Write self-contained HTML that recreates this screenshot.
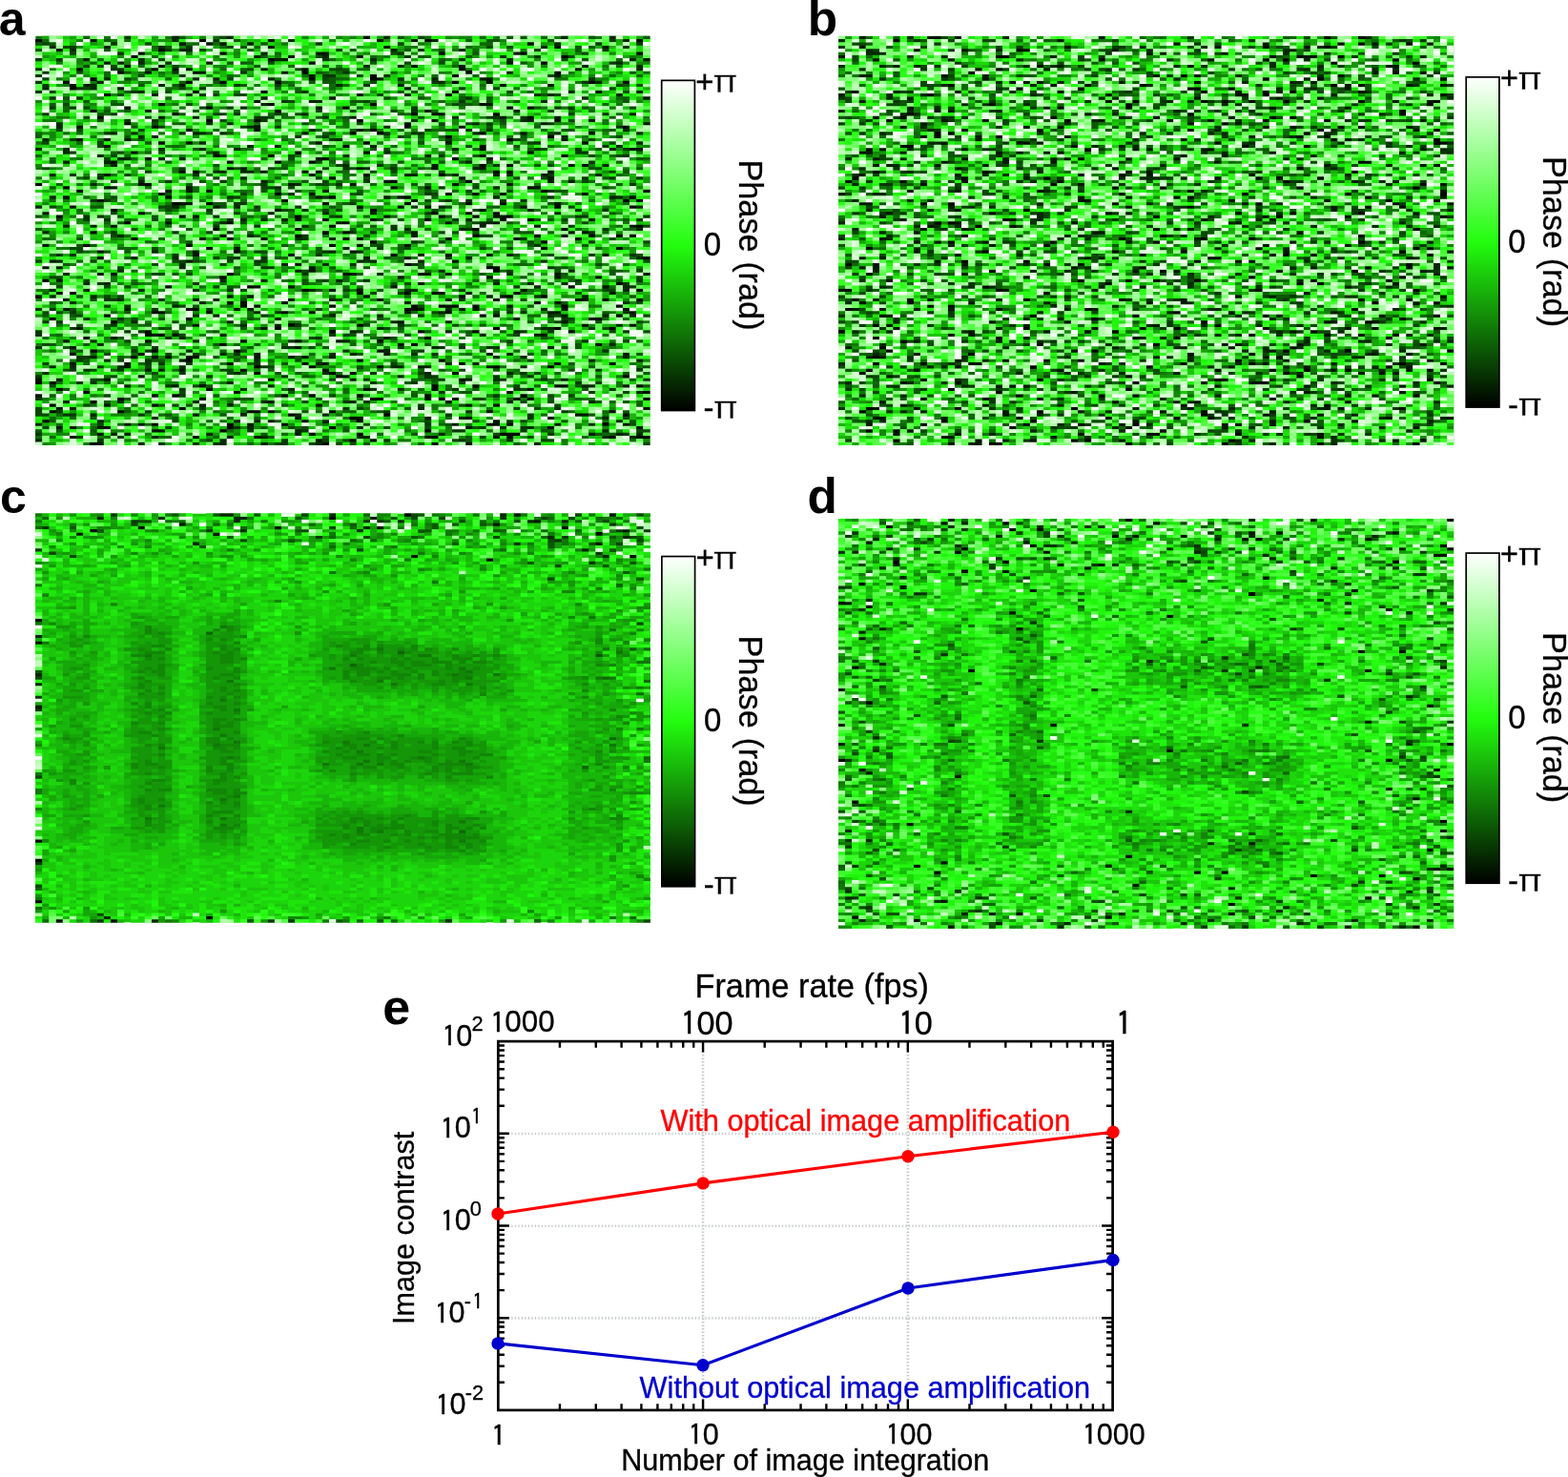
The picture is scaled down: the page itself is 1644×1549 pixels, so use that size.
<!DOCTYPE html>
<html lang="en">
<head>
<meta charset="utf-8">
<title>Phase images and image contrast</title>
<style>
html,body{margin:0;padding:0;background:#fff;}
body{width:1644px;height:1549px;overflow:hidden;}
svg{display:block;}
text{font-family:"Liberation Sans",sans-serif;fill:#000;stroke:#000;stroke-width:.3px;}
.pl{font-weight:bold;font-size:50px;stroke:none;}
.cb{font-size:33px;}
.pi{font-family:"WenQuanYi Zen Hei","DejaVu Sans",sans-serif;font-size:36.85px;stroke:#fff;stroke-width:.5px;}
.ph{font-size:34.3px;}
.ax{font-size:30.6px;}
.tt{font-size:34.25px;}
.sup{font-size:21.8px;}
.one{font-family:"IPAGothic","Liberation Sans",sans-serif;font-size:98.3%;stroke-width:.4px;}
</style>
</head>
<body>
<svg width="1644" height="1549" viewBox="0 0 1644 1549">
<defs>
<linearGradient id="cg" x1="0" y1="0" x2="0" y2="1">
<stop offset="0" stop-color="#fff"/>
<stop offset="0.5" stop-color="#22fd0e"/>
<stop offset="1" stop-color="#000"/>
</linearGradient>
</defs>
<rect width="1644" height="1549" fill="#fff"/>
<svg x="37.2" y="37.6" width="644.3" height="429.4" viewBox="0 0 90 128" preserveAspectRatio="none">
<rect width="90" height="128" fill="#107707"/>
<g shape-rendering="crispEdges"><g id="ha" transform="translate(0 .5)" fill="none" stroke-width="1.02">
<path stroke="#010800" d="M48 0h1m-49 1h1m23 0h1m9 0h1m22 0h1m30 0h1m-17 1h1m-55 2h1m-4 1h1m11 0h1m31 0h1m11 0h1m16 0h1m-75 1h1m62 0h1m-44 1h1m5 1h1m33 0h1m-57 1h1m-13 1h1m10 0h1m21 0h1m22 0h1m-51 1h1m10 0h1m15 0h1m23 0h1m12 0h1m-28 1h1m11 0h1m-54 1h1m31 0h1m8 0h1m-46 1h1m17 0h1m4 0h1m7 0h1m25 0h1m4 0h1m14 0h1m4 0h1m-82 1h1m62 0h1m-64 1h1m17 1h1m9 0h1m-24 1h1m49 0h1m-43 3h1m15 0h1m14 0h1m15 0h1m-41 1h1m19 0h1m23 0h1m2 0h1m-65 1h1m26 0h1m-16 1h1m34 0h1m2 0h2m7 0h1m-59 1h1m62 0h1m-48 1h1m6 0h1m14 0h1m28 0h1m-64 1h1m40 0h1m-38 1h1m36 0h1m7 0h1m23 0h1m-55 1h1m16 0h1m-4 1h1m3 0h1m14 0h1m-6 1h1m14 0h1m-70 1h1m62 0h1m-52 1h1m29 0h1m-39 1h1m34 0h1m19 0h1m-1 1h1m-28 1h1m-13 1h1m7 0h1m42 0h1m-62 1h1m25 0h1m18 0h1m-51 1h1m23 0h1m4 0h1m24 1h1m3 0h1m10 0h1m-60 2h1m1 0h1m43 0h1m1 0h1m-22 1h1m10 0h1m-17 1h1m8 1h1m10 0h1m-64 1h1m14 0h2m-13 1h1m67 0h1m-67 1h1m67 0h1m14 0h1m-72 1h1m16 0h1m24 0h1m19 0h1m-62 1h1m23 0h1m10 0h1m32 0h1m-79 1h1m76 0h1m1 0h1m-69 1h1m4 0h1m28 0h1m8 0h1m4 0h1m-16 1h1m22 0h1m10 0h1m-77 1h1m37 0h1m15 0h1m-51 1h1m42 0h1m4 0h1m3 0h1m-65 1h1m17 0h1m16 0h1m20 0h1m4 0h1m4 0h1m-32 1h1m3 0h1m14 0h1m10 0h1m3 0h1m-60 1h1m14 0h1m16 0h1m-3 1h1m44 0h1m-63 1h1m11 0h1m25 0h1m12 0h1m-70 1h1m33 0h1m2 0h1m-8 1h1m25 0h1m16 0h1m3 0h1m-72 1h1m13 0h1m16 0h1m1 0h1m12 0h1m-12 1h1m24 0h1m-68 1h1m14 0h1m20 0h1m-19 1h1m48 0h1m10 0h1m-57 1h1m22 1h1m7 0h1m-52 1h1m79 0h1m-36 2h1m11 1h2m-1 1h1m-40 1h1m27 0h1m-30 1h1m-27 1h1m83 1h1m-67 1h1m11 0h1m46 0h1m-40 1h1m48 0h1m-84 1h1m41 0h1m6 0h1m3 0h1m11 0h1m-9 1h1m6 0h1m4 0h1m8 1h1m4 0h1m-59 1h1m42 0h1m-44 1h1m12 0h1m11 0h1m3 0h1m1 0h1m2 0h1m12 0h1m7 0h1m-64 1h2m30 0h2m-39 1h2m6 0h1m10 0h1m23 0h1m-51 1h1m54 0h1m19 0h1m-84 1h1m79 0h1m-72 1h1m25 1h1m9 0h1m32 0h1m6 0h1m-53 1h1m31 0h1m8 0h1m7 0h1m-69 1h1m26 0h1m12 0h1m7 0h1m13 0h1m-63 1h1m1 0h1m-12 1h1m49 0h1m-28 1h1m7 0h1m11 0h1m-24 1h1m27 0h1m26 0h1m-75 2h1m8 0h1m11 0h1m20 0h1m-29 2h1m-1 1h1m24 0h1m11 0h1m-47 1h1m25 0h1m22 0h1m13 0h1m7 0h1m-53 1h1m7 0h1m9 0h1m16 0h1m7 0h1m-46 1h1m11 0h1m-11 1h1m10 0h1m2 0h1m-3 1h1m41 0h1m-53 1h1m27 0h1m-63 1h1m1 0h1m55 1h1m5 0h1m11 0h2m10 0h1m-86 1h1m21 0h1m22 0h1m9 0h1m-52 1h1m81 0h1m-70 1h1m15 0h1m3 0h1m6 0h1m9 0h1m13 0h1m-60 1h1m11 0h1m24 0h2m6 0h1m1 0h1m10 0h1m1 0h1m16 0h1m-82 1h1m-7 1h1m14 0h1m3 1h1m-20 1h1m9 0h1m18 0h2m1 0h1m8 0h1m40 0h1m-48 1h1m13 0h1m34 0h1m-41 1h2m-47 1h1m37 0h1m7 0h1m-31 1h1m10 0h1m7 0h1m29 0h2m1 0h1m13 0h1m-74 1h1m17 0h1m14 0h1m31 0h1m-49 1h1m29 0h1m-18 1h1m6 0h1m20 0h3m-48 1h1m8 0h1m25 0h1m10 0h1m14 0h1m3 0h2m-44 1h1m2 0h1m-42 1h1m33 0h1"/>
<path stroke="#031801" d="M8 1h1m41 0h1m4 0h1m-35 1h1m3 0h1m1 0h1m3 0h1m-22 1h1m23 0h1m16 0h1m24 0h1m6 0h1m-81 1h1m37 1h2m27 0h1m-34 1h1m9 0h1m-12 1h1m52 0h1m-80 1h1m14 0h1m43 0h1m-57 1h1m41 0h1m6 0h1m-43 1h1m1 0h1m10 0h1m45 0h1m-64 1h1m7 0h1m11 0h1m3 1h1m35 0h1m-27 1h1m14 0h2m-60 2h1m13 0h1m53 0h1m-64 1h1m41 0h1m6 1h1m20 0h1m-36 1h1m-5 1h1m45 0h1m-58 1h1m33 1h1m-54 1h1m27 0h1m15 1h1m-40 2h1m4 0h1m22 0h1m21 0h1m7 0h1m-19 1h1m13 0h1m8 0h1m-8 1h1m14 0h1m-84 1h1m25 0h1m-11 1h1m24 0h1m-9 1h1m31 0h1m9 0h1m-72 2h1m2 0h1m63 0h1m-56 1h1m18 0h1m18 0h1m19 0h1m6 2h2m-75 1h1m33 0h1m23 0h1m-8 1h1m-25 1h1m24 0h1m-63 1h1m23 0h1m29 1h1m19 0h1m-51 1h1m1 0h1m16 0h1m10 0h1m6 0h1m-33 1h1m5 0h1m1 0h1m33 0h1m-66 1h1m29 0h1m33 0h1m-13 1h1m12 0h1m-25 1h1m23 0h1m2 0h1m-42 1h1m8 0h1m14 0h1m7 0h1m-60 1h2m10 0h1m29 0h1m4 0h1m15 0h1m-55 1h1m2 0h1m2 0h1m14 1h1m23 0h1m3 0h1m-65 1h1m36 0h1m9 0h1m1 0h1m-18 1h1m18 0h1m-35 1h2m19 0h1m33 0h1m-72 1h1m20 0h1m20 0h1m9 0h1m13 0h1m-37 1h1m-35 1h1m32 0h1m-12 1h1m27 0h1m15 0h2m-20 1h1m31 0h1m-63 1h1m24 0h1m15 0h1m6 0h1m-57 1h1m53 0h1m7 0h1m13 0h1m-33 2h1m22 0h1m1 0h1m-54 1h1m27 0h1m17 0h1m3 0h1m9 0h1m-55 1h1m36 0h1m8 0h1m-79 2h1m45 0h1m6 0h1m-26 1h1m-21 1h1m13 0h1m22 0h1m-24 1h1m13 0h1m28 0h1m16 0h1m-30 1h1m-53 1h1m19 0h1m38 0h1m-24 1h1m-38 1h1m1 0h1m36 0h1m-3 1h1m1 0h1m-32 1h1m1 0h1m33 0h2m10 0h1m2 0h1m15 0h1m12 0h1m-37 1h1m12 0h1m9 0h1m5 0h1m-80 1h1m52 1h1m-25 1h1m4 0h1m14 0h1m30 0h1m-41 1h1m3 0h1m23 0h1m-69 1h1m55 0h1m3 0h1m20 0h1m-85 1h1m27 0h1m2 0h1m16 0h1m19 0h1m-65 1h1m18 0h1m13 0h1m12 0h1m16 0h1m11 0h2m-53 1h1m7 0h1m39 0h1m-45 1h1m27 0h1m8 0h1m-66 1h1m8 0h1m15 0h1m1 0h1m24 0h1m5 0h1m1 0h1m12 0h1m8 0h1m-47 1h1m13 0h1m20 0h2m10 0h1m-21 1h1m9 0h1m-56 1h1m58 0h1m-29 1h1m23 0h1m-55 1h1m11 0h1m-30 1h1m26 0h1m-17 2h1m2 0h1m53 0h1m-64 1h1m39 0h1m-48 1h1m11 0h1m27 0h1m8 1h1m-49 1h1m32 0h1m-34 2h1m9 0h1m16 0h1m18 0h1m14 0h1m19 0h1m-73 1h1m2 0h1m1 0h1m3 0h1m8 0h1m4 0h1m1 0h1m3 0h1m-23 1h1m-17 1h1m22 0h1m13 0h1m-30 1h1m42 0h1m9 0h1m-51 1h1m1 0h1m2 0h1m39 1h1m-47 1h1m29 0h1m-46 1h1m2 0h1m6 0h1m35 0h1m-27 2h1m3 0h1m61 0h1m-15 1h1m-44 1h1m39 0h1m-70 1h1m16 0h1m43 1h1m-28 1h1m25 0h1m-51 1h1m30 0h1m21 0h1m3 0h1m-65 1h1m85 0h1m-24 1h1m-44 1h1m55 0h2m-43 1h1m18 0h1m5 0h1m11 0h1m-42 1h1m32 0h1m-55 1h1m1 0h1m15 0h1m29 0h1m14 0h1m9 0h1m-84 1h1m1 0h1m3 0h1m53 0h1m24 0h1m-72 1h2m-10 1h1m28 0h1m42 0h1m-77 1h1m22 0h1m28 0h1m9 0h1m-27 1h1m-33 1h1m48 0h1m4 0h1"/>
<path stroke="#052802" d="M20 0h1m7 0h1m22 0h1m25 0h1m6 0h1m-65 1h1m16 0h1m20 0h1m27 0h1m-11 1h1m-75 1h1m15 0h1m55 0h1m-70 1h1m15 0h2m29 0h1m9 0h1m-30 1h1m-2 1h1m9 0h1m-36 1h1m7 0h1m19 0h1m13 0h1m19 0h1m17 0h1m-76 1h1m2 0h1m69 0h1m-38 1h1m4 0h1m26 0h1m7 0h1m-1 1h1m-20 1h1m-60 2h1m12 0h1m2 0h1m7 0h1m23 0h1m-50 1h1m49 0h1m22 0h1m-75 1h1m9 0h1m25 0h1m8 0h1m-53 1h1m6 0h1m6 1h1m62 0h1m9 0h1m-72 1h1m36 0h1m20 0h1m9 0h1m-53 1h1m46 0h1m-41 1h2m32 0h1m-42 1h1m-4 1h1m-15 1h1m53 0h1m-32 1h1m47 0h1m-17 2h1m-69 1h1m21 0h1m2 0h1m35 0h1m-62 1h1m27 0h1m19 0h1m-12 1h1m45 0h1m-76 1h1m11 0h2m2 0h1m36 0h1m11 0h1m11 0h1m-74 1h1m1 0h1m59 0h1m-77 1h1m42 0h1m-21 1h1m63 0h1m-58 1h1m3 0h1m13 0h1m35 0h1m-86 1h1m3 0h1m13 0h1m5 0h1m4 0h1m31 0h1m22 0h1m-81 1h1m21 0h1m24 0h1m-43 1h1m47 0h1m-46 1h2m4 0h1m2 0h1m-12 1h1m52 0h1m-53 1h1m33 0h1m37 0h1m-36 1h1m15 0h1m-39 1h2m2 0h2m-30 1h1m51 0h2m5 0h1m5 0h1m1 0h1m12 0h1m-74 1h1m20 0h1m-16 1h1m17 0h1m-26 1h1m29 0h1m-4 1h1m31 0h1m-26 1h1m-41 2h1m64 0h1m16 0h2m-86 3h1m19 0h1m8 0h1m29 0h1m28 0h1m-17 1h1m-31 1h1m6 0h1m26 0h1m-47 2h1m2 0h1m2 0h1m26 0h1m-37 1h1m37 0h2m-63 1h1m3 0h1m30 0h1m14 1h1m7 0h1m25 0h1m-88 1h1m26 0h1m-17 1h1m18 0h1m-8 1h1m13 0h1m4 0h1m1 3h1m-29 1h1m25 0h1m3 0h1m8 1h1m12 0h1m-56 1h1m5 0h1m27 0h1m14 0h1m24 0h1m-86 1h1m43 0h1m1 0h1m6 0h1m-36 1h1m14 0h1m5 0h1m-22 1h1m-10 1h1m46 0h1m18 0h1m-75 1h1m45 0h1m18 0h1m-43 2h1m5 0h1m10 0h1m-38 1h1m2 0h1m56 0h1m4 0h1m4 0h1m-5 1h1m12 0h1m-85 1h1m4 0h1m7 0h1m24 0h1m13 0h2m30 0h1m-85 2h1m5 0h1m57 0h1m13 0h1m-69 1h1m5 0h1m7 0h1m16 0h1m16 0h1m-37 1h1m29 0h1m-35 1h1m39 1h1m13 0h1m-43 1h1m26 0h1m-34 1h1m16 0h1m6 0h1m32 0h1m3 0h1m-53 1h1m34 0h1m-57 1h1m13 0h1m23 0h1m7 0h1m-31 1h1m54 0h1m-36 1h1m23 0h2m-30 1h1m13 0h1m9 0h1m-44 1h1m37 0h1m7 0h1m-53 1h1m23 1h1m-37 1h1m74 0h1m-27 1h1m16 0h1m-54 1h1m28 0h1m-25 1h1m15 0h1m2 0h1m22 0h1m-62 1h1m58 0h1m3 0h1m14 0h1m-55 1h1m48 0h1m6 0h1m-48 1h1m18 0h1m3 0h1m-63 1h1m2 0h1m6 0h1m8 0h1m30 0h2m3 0h1m13 0h1m-43 2h1m12 0h1m14 0h1m11 0h1m-17 1h1m9 1h1m13 0h1m-50 1h1m-16 1h1m20 0h1m45 0h2m-52 1h1m6 0h1m50 1h1m-85 3h1m7 0h1m10 0h1m9 0h1m12 0h1m22 0h1m11 0h1m-58 1h1m3 0h1m-24 1h1m50 0h1m-49 2h1m21 0h1m7 0h1m3 0h1m-26 1h1m44 0h1m20 0h1m-75 1h1m19 0h1m2 0h1m9 0h1m42 0h1m-86 1h1m80 0h1m-51 1h1m15 0h1m24 0h1m-35 1h1m44 0h1m-73 1h1m1 0h1m11 0h1m33 0h1m25 0h1m2 0h1m-72 1h1m15 0h1m13 0h2m34 0h1m3 0h1m-88 1h1m26 0h1m-13 1h1m11 0h1m5 0h1m7 0h1m31 0h1"/>
<path stroke="#073703" d="M13 0h1m12 1h1m57 0h1m-74 1h1m29 0h1m40 0h1m5 0h1m-84 1h1m16 0h1m63 0h1m-68 1h1m36 0h1m26 0h1m-72 1h1m40 0h1m0 1h1m13 0h1m4 0h1m-74 1h1m2 0h1m38 0h1m19 0h1m-44 1h1m64 0h1m-85 2h1m10 0h2m-12 1h1m18 0h1m9 0h1m14 0h1m-46 1h1m20 0h1m20 0h2m7 0h1m1 1h1m27 0h1m-82 1h1m57 0h1m21 0h1m-80 1h1m27 0h1m5 0h1m12 0h1m-43 1h1m17 0h1m37 0h1m-63 1h1m13 0h1m24 0h1m-18 1h1m1 0h1m48 0h1m-72 1h1m3 0h1m56 0h1m-28 1h1m25 0h1m-61 2h1m2 0h1m22 0h1m26 0h1m20 0h1m1 0h1m-24 1h1m-55 1h1m9 0h1m15 0h1m1 0h1m5 0h1m47 0h1m-52 1h2m8 0h1m18 0h1m4 0h2m3 0h1m-59 1h1m3 0h1m15 0h1m21 0h1m10 1h1m8 0h1m-58 1h1m11 0h1m4 0h1m49 0h1m-23 1h1m2 0h1m-57 1h1m3 0h1m6 0h1m29 0h1m3 0h2m-19 1h1m3 0h1m-38 1h1m37 0h1m16 0h1m12 1h1m9 1h1m-11 1h1m5 0h1m6 0h1m-8 1h2m-54 1h1m17 0h1m13 0h1m26 0h1m-6 2h1m-32 1h1m16 0h1m-47 1h1m23 0h1m6 0h1m-37 1h1m-12 1h1m17 0h1m51 0h1m4 1h1m3 0h1m3 0h1m-70 1h1m7 0h1m20 0h1m-16 1h1m10 0h1m42 0h1m-29 1h1m15 1h1m-39 1h1m19 0h1m-30 1h1m13 0h1m32 0h1m-68 1h1m1 0h1m49 0h1m2 0h1m4 0h1m2 0h1m-43 1h2m15 0h1m-15 1h1m5 0h1m16 0h1m-31 1h1m13 0h1m39 0h1m3 0h1m-27 1h1m-51 1h1m1 0h1m16 0h1m17 0h1m34 0h2m8 0h1m-83 1h1m2 0h1m17 0h1m32 0h1m26 0h1m-63 2h1m5 0h1m19 0h1m25 0h1m-27 1h1m10 0h1m19 0h1m-73 1h1m8 0h1m25 0h1m2 0h1m31 0h1m-43 1h1m-1 1h1m31 0h1m-17 1h1m3 0h1m21 0h1m-9 1h1m-24 1h1m-9 1h1m-40 1h1m1 0h1m14 0h1m20 0h1m39 0h1m5 0h1m-59 1h1m3 0h1m26 0h1m-29 1h2m14 0h1m25 0h1m-29 1h1m8 0h1m-23 1h2m40 0h1m-7 1h1m-31 1h1m8 2h1m30 0h1m8 0h1m-80 1h1m13 0h1m62 0h1m0 1h1m-65 1h1m4 0h1m33 0h1m10 2h1m-64 1h2m50 0h1m-58 1h1m80 0h1m-74 1h1m-14 1h1m1 0h1m14 0h1m7 0h1m-21 1h1m29 0h1m33 0h1m1 0h1m14 0h1m-64 1h1m9 0h1m22 0h1m18 0h1m-69 1h1m4 0h1m64 0h1m-77 1h1m1 0h1m7 1h1m26 0h1m14 0h1m-49 1h1m75 0h1m-82 1h1m12 0h1m1 0h1m31 0h1m23 0h1m3 0h1m10 0h1m-87 1h1m42 0h1m-25 1h1m21 0h1m-34 1h1m14 0h1m13 0h1m42 0h1m-81 2h1m16 0h1m18 0h2m15 0h1m5 0h1m2 0h1m3 0h2m-54 1h1m1 0h1m28 0h1m10 0h1m26 0h1m-61 1h1m5 0h1m25 0h1m2 0h1m-53 1h2m-2 1h1m3 0h1m5 0h1m-1 1h1m1 0h1m3 0h1m9 0h1m-24 1h1m23 0h1m-29 1h1m1 0h1m4 0h1m69 0h1m5 0h1m-88 1h1m19 0h1m27 0h1m21 0h1m-72 1h1m24 0h1m10 0h1m20 0h2m8 0h1m4 0h1m-25 1h1m10 0h1m7 0h2m5 0h1m14 0h1m-84 1h1m1 0h1m40 0h1m5 0h1m23 0h1m-61 1h1m1 1h1m27 0h1m3 0h1m7 0h1m8 0h1m13 0h1m-26 1h1m21 0h1m-61 1h1m45 0h1m-68 1h1m44 1h1m2 0h1m7 1h1m-33 1h1m20 0h1m30 0h1m-74 1h1m12 0h1m34 0h1m11 0h1m13 0h1m-74 1h2m9 0h1m44 0h1m11 0h1m-1 1h1m-4 1h1m-13 1h1m-29 1h1m35 0h1m2 0h1m2 0h1m-41 1h1m7 0h1m21 0h2m8 0h1m-72 1h1m74 0h1m10 0h1m-75 1h1m-4 1h1m26 0h1m14 0h1m10 0h1m6 0h1m-52 1h1m4 0h1m2 0h1m9 0h1"/>
<path stroke="#0a4704" d="M27 0h1m28 0h1m-56 2h1m14 0h1m36 0h1m-50 1h1m23 0h1m37 0h1m2 0h1m-46 1h1m19 0h1m28 0h1m-69 1h1m46 0h1m27 0h1m-40 1h1m36 0h1m-61 1h1m58 0h1m-44 1h1m19 0h1m4 0h1m-53 1h1m1 0h1m1 0h1m8 0h1m10 1h1m6 0h1m4 0h2m-39 1h1m8 1h1m31 0h1m27 0h1m-75 1h1m11 0h1m14 0h1m13 0h1m6 1h1m35 1h1m-79 1h1m13 0h1m45 0h1m16 0h1m-83 1h1m16 0h1m49 0h1m-58 1h1m13 0h1m2 0h2m19 0h1m25 0h1m-26 1h1m-15 1h1m10 0h1m-45 1h1m17 0h1m38 0h1m-55 1h1m16 0h1m62 0h1m-47 1h1m4 0h1m5 0h1m22 0h1m-50 1h1m11 0h1m39 0h1m-72 1h1m8 0h1m17 0h1m-26 1h1m17 0h1m40 0h1m9 0h1m-62 1h1m21 0h1m7 0h1m11 0h1m3 0h1m-61 2h1m2 0h1m8 0h1m32 0h1m8 0h1m3 0h1m-19 1h1m31 0h1m-23 1h1m31 0h1m-71 1h1m54 0h1m10 0h1m-81 1h1m7 0h1m62 0h1m11 0h1m-76 1h1m53 0h1m-13 1h1m22 0h1m-70 1h1m6 0h1m-2 1h1m25 0h1m43 0h1m3 0h1m-76 1h1m26 0h1m3 1h1m24 0h1m-23 1h1m30 0h1m-75 1h1m27 0h1m4 0h1m7 0h1m3 0h1m35 0h1m-34 1h1m2 0h1m6 0h1m24 0h1m-76 1h1m3 0h1m-7 1h1m18 0h1m14 0h1m6 0h1m21 0h1m3 0h1m-64 1h1m30 0h1m37 0h1m-40 1h2m-10 1h2m2 0h1m26 0h1m18 0h1m-21 1h1m5 0h1m-40 1h1m16 0h1m10 0h1m-48 1h1m10 0h1m6 0h1m27 1h1m-56 2h1m15 0h2m7 0h1m32 0h1m17 0h1m-60 1h1m16 0h1m5 0h1m1 0h1m13 0h1m5 0h1m-54 1h1m17 0h1m13 1h1m-41 1h1m13 0h1m32 0h1m26 0h1m-48 1h1m33 0h1m15 0h1m8 1h1m-65 2h1m33 0h1m-49 1h1m53 0h2m-41 1h1m57 0h1m-13 1h1m16 0h1m-40 1h1m-46 1h2m10 0h1m36 0h1m10 0h1m3 0h1m-64 1h1m25 0h2m41 1h1m12 0h1m-63 1h1m1 0h1m9 0h1m38 0h1m-78 1h1m7 0h1m11 0h2m1 0h1m4 0h1m60 0h1m-73 1h1m9 0h1m4 0h1m49 0h1m-71 1h1m26 1h1m48 0h1m-72 1h2m3 0h1m-21 1h2m84 0h1m-82 1h1m34 0h1m24 0h1m-14 1h1m-52 1h1m6 0h1m2 0h1m12 0h1m43 0h1m-41 1h1m14 0h1m37 0h2m-36 1h1m3 0h1m-44 1h1m1 0h1m-5 1h1m21 0h1m13 0h1m43 1h1m-79 1h1m10 0h1m34 0h1m-52 1h1m35 0h1m-41 1h1m1 0h1m54 0h1m8 0h1m-62 1h1m69 0h1m12 0h1m-76 1h1m63 0h1m-59 1h1m55 0h1m5 0h1m5 0h1m-41 1h1m12 0h1m-44 1h1m32 0h1m31 0h1m0 1h1m4 0h1m-69 1h1m23 0h1m8 0h1m15 0h1m-31 1h1m11 0h1m-40 1h1m55 0h1m16 0h1m-86 1h1m60 0h1m-23 1h1m-11 1h1m-21 1h1m8 0h1m-8 2h1m25 0h1m33 0h1m-72 1h1m50 0h1m-37 1h1m17 0h1m12 0h1m41 0h1m-82 1h1m18 0h2m33 0h1m15 0h1m-62 1h1m10 0h1m27 0h1m16 0h1m-63 1h1m-4 1h2m33 0h1m18 1h1m19 0h1m-81 1h1m20 0h1m15 0h1m30 0h1m0 1h1m-51 1h1m64 0h1m-77 1h1m32 0h1m31 0h1m2 0h1m-15 1h2m-27 1h1m31 0h1m3 0h1m-69 1h1m12 0h1m41 0h1m13 0h1m-77 1h1m46 0h1m22 0h1m2 0h1m-74 1h1m-1 1h2m84 1h1m-67 1h1m36 0h1m13 0h1m-63 1h1m38 0h1m38 0h1m-87 1h1m17 0h1m17 0h1m1 0h1m11 0h1m5 0h1m30 1h2m-23 1h1m-62 1h1m58 0h1m6 0h1m-48 1h1m16 0h1m2 0h1m15 0h1m12 0h2m-41 1h1m4 0h1m3 0h1m1 0h1m42 0h1"/>
<path stroke="#0c5705" d="M7 0h1m13 0h1m31 0h1m15 0h1m1 0h1m9 0h1m7 0h1m-80 1h1m18 0h1m33 0h1m2 0h2m7 0h1m-76 1h1m1 0h1m30 0h1m-15 1h1m10 0h1m48 0h1m1 0h1m-82 1h1m9 0h1m20 0h1m14 0h1m7 0h1m4 0h1m19 0h1m-16 1h1m-32 1h1m22 0h1m6 0h1m-5 1h1m20 0h1m-53 1h1m1 0h1m18 0h1m21 0h1m-40 1h1m-17 1h1m13 0h1m14 0h1m-33 1h1m27 0h1m45 0h1m-45 2h1m-23 1h1m4 0h1m13 0h1m1 0h2m-29 1h1m4 0h1m9 0h1m55 0h1m1 0h1m-33 1h1m-44 1h1m24 0h1m14 0h1m1 0h1m30 0h1m-13 1h1m-71 1h1m51 0h1m5 0h1m3 0h1m19 0h1m-80 1h1m38 0h2m18 0h1m3 0h1m15 0h1m-85 1h1m8 0h2m49 0h2m9 1h1m6 0h1m-71 1h1m2 0h1m9 0h1m-15 1h1m11 0h1m27 0h1m3 0h1m-13 1h1m3 0h1m10 0h1m27 0h1m-64 2h1m46 0h1m-55 1h1m51 0h1m-21 1h1m13 0h1m16 0h2m5 0h1m-60 1h1m2 0h1m13 0h1m-43 1h1m12 0h1m42 0h1m14 0h1m-8 1h1m-49 1h1m23 0h1m15 0h1m-15 1h1m27 0h1m-48 1h1m25 0h1m32 0h1m-65 1h1m6 0h1m38 1h1m23 1h1m-87 1h1m16 0h1m33 0h1m5 0h1m2 0h1m7 0h1m-45 1h1m25 0h1m20 0h1m-38 1h1m19 0h1m24 0h1m6 0h1m-3 1h1m-27 1h1m-46 1h1m67 0h1m-60 1h1m14 0h1m-18 1h1m32 0h1m8 0h1m20 0h1m-84 1h1m30 1h1m1 0h1m2 0h1m8 0h1m9 0h1m18 0h2m-59 1h1m26 0h1m-7 1h1m17 0h1m0 1h1m-34 1h2m17 0h1m29 0h1m-68 1h2m33 0h1m23 0h1m-36 1h1m4 0h1m-13 1h1m58 0h1m-85 1h1m11 0h1m4 0h1m15 0h1m26 0h1m-42 1h1m33 0h1m12 0h1m6 0h1m1 0h1m10 0h1m-75 1h1m56 0h1m-21 1h1m-50 1h1m13 0h1m7 0h1m23 0h1m14 1h1m2 0h1m5 0h3m-41 1h1m15 0h1m-43 1h1m15 1h1m33 0h1m-51 1h1m1 0h1m27 0h1m12 0h1m22 0h1m7 0h1m-40 1h1m11 0h1m-44 1h1m2 0h1m27 0h1m28 1h1m-36 1h1m15 0h1m-48 2h1m51 0h1m-33 1h1m4 0h1m13 0h1m4 0h1m7 0h1m19 0h2m-34 1h1m31 0h1m7 0h2m-66 1h1m26 0h1m17 0h1m11 0h1m6 0h1m-14 1h1m-33 1h1m1 0h1m43 0h1m-72 1h1m24 0h1m12 0h1m26 0h1m-52 1h1m12 1h1m8 0h1m28 1h1m-74 1h1m80 0h1m-17 1h1m-70 1h1m74 0h1m-55 1h1m48 0h1m-4 1h1m-57 1h1m69 0h1m-83 1h1m3 0h1m36 0h1m-25 1h1m12 0h1m15 0h1m2 0h1m21 1h1m-67 1h1m3 0h1m5 0h1m4 0h1m43 0h1m-47 1h1m1 0h1m8 0h1m22 0h1m-28 1h1m30 0h1m5 0h1m4 0h1m-23 1h1m-35 1h1m37 0h1m23 0h1m13 1h1m-87 1h1m4 0h1m18 0h1m5 0h1m24 0h1m21 0h1m-76 1h1m26 0h1m10 0h1m34 0h1m1 0h1m-74 1h1m48 0h1m9 0h1m-19 1h1m24 0h1m15 0h1m-77 1h1m13 0h1m11 0h1m-32 1h1m9 0h2m10 0h1m6 1h1m41 0h1m2 1h1m-78 1h1m6 0h1m47 0h1m7 0h1m-33 1h1m2 0h1m47 0h1m2 0h1m-51 1h1m42 0h1m-25 1h1m28 0h1m-34 1h1m-30 1h1m53 0h1m9 0h1m-86 1h1m59 0h1m15 0h1m-44 1h1m24 0h2m-62 1h1m23 0h1m8 0h1m19 0h1m-43 1h1m15 0h3m9 0h1m33 0h1m-66 1h1m71 0h1m3 0h1m-69 1h1m3 0h1m13 0h1m51 0h1m-35 1h1m-42 1h1m25 0h1m6 0h1m3 0h1m35 0h1m-68 1h1m7 0h1m53 0h1m-74 1h1m11 0h1m11 0h1m-31 1h1m32 0h1m28 0h1m12 0h1m9 0h1m-28 1h1m-28 1h1m30 0h1m-65 1h1m2 0h1m4 0h1m36 0h1m28 0h1m-42 1h1m21 0h1m26 0h1m1 0h1m-51 1h1m7 0h1m20 0h1m-1 1h1m-16 1h1m21 0h1"/>
<path stroke="#0e6706" d="M26 0h1m30 0h1m7 0h1m8 0h1m-74 1h1m11 0h1m9 1h1m2 0h1m38 0h2m-50 1h1m9 0h1m4 0h1m30 0h1m0 1h1m-30 1h1m-19 1h1m31 0h1m7 0h1m-49 1h1m33 0h1m41 0h1m-78 1h1m22 0h1m-17 1h1m21 0h1m4 0h1m18 0h1m23 0h1m-59 1h1m19 0h2m-39 1h1m31 0h1m1 0h1m7 0h1m36 0h1m-80 1h1m17 0h1m10 0h1m18 0h1m5 0h1m19 0h1m3 0h1m-70 1h1m24 0h2m-10 1h1m0 1h1m5 0h1m1 0h1m19 0h1m-47 1h1m15 0h1m2 0h1m4 0h1m28 1h1m-54 2h1m65 0h1m-75 1h1m47 0h1m16 0h1m6 1h1m-80 1h1m42 0h1m-44 1h1m13 0h1m10 0h1m28 0h1m22 0h1m-72 1h1m23 0h1m1 0h1m17 0h1m30 0h1m-61 1h1m10 0h2m-3 1h1m9 0h1m-26 1h1m28 1h1m23 0h1m-48 1h1m14 0h1m11 0h1m4 0h2m14 0h1m8 0h1m-84 1h1m3 0h1m1 0h1m34 1h1m12 0h1m4 0h1m9 0h1m-34 1h1m34 0h1m-66 1h1m13 1h1m31 0h1m22 0h1m-46 1h1m33 0h1m7 0h1m-62 1h1m4 0h1m-17 1h1m12 0h1m70 0h1m-83 1h1m11 0h1m18 0h1m34 0h1m20 0h1m-47 1h1m1 0h1m1 0h2m8 0h1m27 0h1m-50 1h1m-5 1h1m2 0h1m8 1h2m-21 1h1m59 0h1m-80 1h1m28 0h1m-2 1h1m9 0h1m17 0h1m18 0h1m-79 1h1m45 0h1m7 0h1m-35 1h1m32 0h1m27 0h1m-62 1h1m6 0h1m30 0h1m3 0h1m-59 2h1m66 0h1m11 0h1m-85 1h1m8 0h1m18 0h1m15 0h1m15 1h1m23 0h1m-21 1h1m3 0h1m-65 1h1m13 0h1m10 2h1m16 0h1m3 0h1m30 0h1m-71 1h1m9 0h1m-14 1h1m15 0h1m-11 1h1m2 0h1m27 0h1m37 0h1m-29 1h1m21 0h1m7 0h1m-57 1h1m22 0h1m20 0h1m7 0h1m-71 1h1m7 0h1m-21 1h1m16 0h1m-3 1h1m36 1h1m-42 1h3m33 0h1m33 0h1m-76 1h1m22 0h1m22 0h1m5 0h1m-58 1h1m71 0h1m-62 1h1m9 0h1m12 0h1m39 0h1m10 0h1m-82 1h1m17 0h1m28 0h1m16 1h2m14 0h1m-78 1h1m4 1h1m42 0h1m10 0h1m-40 1h1m15 1h1m31 0h1m-41 1h1m7 0h1m18 0h1m13 0h1m-52 1h1m35 0h1m-40 1h1m4 0h1m15 0h1m38 0h1m-13 1h1m8 0h1m-81 1h1m63 0h1m-50 1h1m13 0h1m3 0h1m8 0h1m1 0h1m8 0h1m9 0h1m-45 2h1m25 0h1m4 0h1m-3 2h1m-39 1h1m7 0h1m35 0h1m-28 1h1m5 0h1m37 0h2m9 1h1m2 0h1m-75 1h1m17 0h1m15 0h1m31 0h1m-76 1h1m11 0h1m13 0h1m28 0h1m4 0h1m4 0h1m-59 1h1m21 0h1m40 0h1m-67 1h1m-5 1h1m59 0h1m-63 1h1m47 0h1m-34 2h1m12 0h1m6 0h1m4 0h1m4 0h1m3 0h1m-37 1h1m-13 1h1m6 0h1m17 0h1m6 0h1m35 0h1m3 0h1m-67 1h1m5 0h1m6 0h1m18 0h1m22 0h1m-34 1h1m3 1h1m6 0h1m28 0h1m-64 1h1m7 0h1m15 0h1m36 1h1m-49 1h1m13 0h1m21 0h1m13 0h1m-41 1h1m13 0h1m31 0h1m-67 1h1m7 0h1m21 0h1m28 0h1m1 0h1m-17 1h2m16 0h1m-71 1h1m6 0h1m47 0h1m1 1h1m12 0h1m-38 1h1m8 0h1m10 0h1m3 0h1m-22 1h1m5 0h1m9 0h1m-42 1h1m70 0h1m-39 1h1m21 0h1m9 0h1m4 1h1m3 0h1m-81 1h1m5 0h1m-2 1h1m12 1h1m8 0h1m5 0h1m3 0h1m3 0h1m9 0h1m18 0h1m4 0h1m-81 1h1m14 0h1m25 0h1m29 0h1m-73 1h1m2 0h1m22 0h1m31 0h1m-36 1h1m1 0h1m-25 1h1m8 0h1m3 0h1m42 0h1m3 0h1m-56 1h1m29 0h1m6 0h1m-18 1h1m37 0h1m8 0h1m-68 1h1m27 0h1m13 0h1m32 0h1m-84 1h1m1 0h1m7 0h1m7 0h2m6 0h1m53 0h1m-57 1h1m6 1h1m24 0h1"/>
<path stroke="#128607" d="M24 0h1m14 0h1m4 0h1m1 0h1m13 0h1m1 0h2m-58 1h1m36 0h1m24 0h1m-63 2h1m14 0h1m42 0h1m-7 1h1m12 0h1m-54 1h1m10 0h1m18 0h1m6 0h1m28 0h1m-73 1h1m13 0h1m23 0h1m37 0h1m-83 1h1m43 0h1m22 0h1m-68 1h1m6 0h1m47 0h1m24 0h1m1 0h2m-69 1h1m4 0h1m47 0h1m-49 2h1m33 0h1m4 0h1m19 0h1m-81 1h1m1 0h1m10 0h1m6 0h1m3 0h1m26 0h1m24 0h1m-27 1h1m26 0h2m-72 1h2m45 1h1m11 0h1m-50 1h1m42 0h1m8 0h1m-58 1h1m18 0h1m14 0h1m-41 1h1m28 0h1m3 0h1m-36 1h1m42 0h1m-53 1h1m26 0h1m21 0h1m35 0h1m2 0h1m-81 1h1m16 0h1m28 0h1m2 0h1m2 0h1m-17 1h1m21 0h1m-55 1h1m29 1h1m19 0h1m7 0h1m-2 1h1m-52 1h1m42 0h1m-48 1h1m34 0h1m11 0h1m14 0h2m7 0h1m-42 1h1m23 0h1m-56 1h1m41 0h1m-55 1h2m10 0h1m40 0h1m15 0h1m12 0h1m-82 1h1m20 0h1m12 0h1m10 1h1m11 0h1m5 0h1m14 0h1m-58 1h1m13 0h1m-10 1h1m60 0h1m-80 1h1m22 0h1m6 0h1m29 0h1m14 0h1m-25 1h1m4 0h1m16 0h1m2 0h1m-68 1h1m62 0h1m-78 1h1m57 0h1m-33 1h1m4 0h1m38 0h1m-76 1h1m23 2h1m40 0h1m17 0h1m-77 1h1m44 0h1m28 0h1m-4 1h1m-71 1h1m9 0h1m49 0h1m18 0h1m-79 1h1m16 0h1m3 0h2m50 0h1m-30 1h1m34 0h1m-79 2h1m25 0h1m40 0h1m1 0h1m4 0h1m-64 1h1m3 0h1m4 0h1m4 0h1m-8 1h1m-28 1h1m7 0h1m41 0h1m5 0h1m-14 1h1m5 0h1m-47 1h1m7 0h1m5 0h1m12 0h1m18 0h2m7 0h1m-41 1h1m17 0h1m42 0h1m4 0h1m-85 1h1m37 0h1m6 0h1m10 0h1m20 0h1m-73 1h1m7 0h1m41 0h1m-55 1h1m3 0h2m48 0h1m4 0h1m8 0h1m-61 1h1m10 0h1m18 0h1m21 0h1m21 0h1m-67 1h1m15 0h1m5 0h1m33 0h1m-71 1h1m5 0h1m26 0h1m6 0h1m40 0h1m-84 1h1m79 0h1m-71 1h1m8 0h1m64 0h1m-84 1h1m17 0h1m28 0h1m17 0h1m-57 1h1m16 0h1m35 0h1m23 0h1m-51 1h1m46 0h1m-79 1h1m64 0h1m-52 1h1m10 0h1m12 1h1m24 1h1m1 0h1m-61 1h1m69 0h1m-48 1h1m4 0h1m4 0h1m31 0h1m5 0h1m-77 1h1m20 0h1m13 0h1m-28 1h1m16 0h1m1 0h1m28 0h1m-40 1h1m59 0h1m-33 1h1m15 0h1m13 0h1m-68 1h1m24 0h1m29 0h1m-50 1h1m37 0h1m2 0h2m-47 1h1m19 0h1m28 0h1m5 0h2m5 0h1m-67 1h1m30 0h1m26 0h1m1 0h1m-66 1h1m1 0h1m45 0h1m19 0h1m-63 1h1m30 0h1m39 0h1m-68 1h1m20 0h1m46 0h1m-86 1h1m24 0h1m9 0h1m9 0h1m28 0h1m-58 1h1m30 0h2m15 0h1m-62 1h1m9 0h1m6 0h1m50 0h1m-75 1h1m4 1h1m5 0h1m1 0h1m37 0h1m17 0h1m-57 2h2m18 0h1m5 0h1m37 0h1m3 0h1m-70 1h1m24 0h1m50 0h1m-27 1h1m-54 1h1m25 0h1m13 0h1m-28 1h1m2 0h1m-16 1h2m47 0h1m19 0h1m-59 2h1m1 0h1m25 0h1m15 0h1m17 0h1m-24 1h1m6 0h1m-6 1h1m-47 1h1m1 0h1m16 0h1m6 0h1m12 0h1m29 0h1m-26 1h1m4 0h1m23 0h1m-56 1h1m-17 1h1m18 0h1m39 0h2m-65 1h1m8 0h1m8 0h1m17 0h1m9 0h1m8 0h1m10 0h1m-81 1h1m15 0h1m22 0h1m-23 1h1m5 0h1m39 0h1m-47 1h1m1 1h2m12 0h1m37 0h1m-24 1h1m-42 1h1m1 0h1m33 0h1m23 0h1m-45 1h1m24 1h1m-44 1h1m22 0h1m16 0h1m8 0h1m12 0h1m10 0h1m-63 1h1m30 1h1m12 0h1m-28 1h1m50 0h1m-61 1h1m3 0h1m46 0h1m-65 1h2m6 1h1m35 0h1m10 0h1m15 0h1m-24 1h1m-52 1h1m5 0h1m7 0h1m1 0h1m12 0h1m15 0h1m25 0h1m-74 1h1m18 0h1m4 0h1m1 0h1m50 0h1m-73 1h2m47 0h1m24 0h1m-83 1h2m11 0h1m12 0h1m28 0h1m3 1h1m26 1h1m-89 1h1m75 0h1"/>
<path stroke="#149608" d="M50 0h1m3 0h1m6 0h1m-44 1h2m31 0h1m-44 1h1m48 0h1m16 0h1m-14 1h1m3 0h1m-46 1h1m8 0h1m23 0h1m15 0h1m-54 1h1m28 0h1m31 0h1m-77 1h1m18 0h1m8 0h1m23 0h1m10 0h1m1 0h1m5 0h1m-60 1h1m12 0h1m4 0h1m-16 1h1m55 0h1m6 0h1m-26 1h1m17 0h1m8 1h1m1 0h1m-80 1h1m9 0h1m28 0h1m2 0h1m7 0h1m-24 1h1m12 0h1m32 0h1m-15 1h1m-16 1h1m5 0h1m5 0h1m4 0h1m-63 1h1m27 1h1m12 0h1m30 0h1m-33 1h1m5 0h1m24 0h1m-71 1h1m40 0h1m-38 1h1m55 0h1m-7 1h1m10 0h1m9 0h1m-73 1h1m11 0h1m12 1h1m6 0h1m-20 1h1m32 0h1m35 0h1m-17 1h1m-43 2h1m57 0h1m-84 1h1m28 0h1m4 0h1m24 0h1m12 0h1m-56 2h1m4 0h1m36 0h1m-57 1h1m35 0h1m26 0h1m-71 2h1m34 0h1m23 0h1m25 0h1m-77 1h1m42 0h1m16 0h1m-43 1h1m30 0h1m15 0h1m11 0h1m-50 1h1m2 0h1m38 0h1m-81 1h1m11 0h1m1 0h1m17 0h1m1 0h1m-12 1h1m25 0h1m36 1h1m-72 1h1m33 0h1m-14 1h1m5 0h1m7 0h1m14 0h1m21 0h1m-86 1h1m9 0h1m12 0h1m-15 1h1m42 0h1m10 0h1m-53 1h1m8 1h1m65 0h1m-60 1h1m14 0h1m19 0h1m3 0h1m7 0h1m11 0h1m-76 1h1m13 0h1m17 1h1m-20 1h1m23 0h1m4 0h1m-26 1h1m24 0h1m10 0h1m14 0h1m-49 1h1m34 0h1m4 1h1m-67 1h1m5 0h1m41 0h1m4 0h1m9 0h1m-37 1h1m13 0h1m12 0h1m21 0h1m-44 1h1m10 0h1m-49 1h1m25 0h1m1 1h1m42 0h1m1 0h1m-19 1h1m25 0h1m-86 1h1m3 0h1m42 0h1m11 0h1m-23 1h1m16 0h1m-16 1h1m9 0h2m17 0h1m11 0h1m-79 1h1m33 0h1m-31 1h1m46 0h1m4 0h1m4 1h1m9 0h1m-74 1h1m33 0h1m3 0h1m21 0h1m3 0h1m8 0h1m5 0h1m-43 1h1m1 0h1m26 1h1m5 0h1m14 0h1m-1 1h1m-60 1h1m1 0h1m15 0h1m16 0h2m-34 1h1m38 0h1m11 0h1m-31 1h1m10 0h1m18 0h1m-50 1h1m48 1h1m-24 2h1m6 0h1m7 0h1m-36 1h1m14 0h1m-38 1h1m13 0h1m34 0h1m7 0h1m1 0h1m7 0h1m-25 1h1m22 0h1m5 0h1m-52 1h1m3 1h1m10 0h1m7 0h1m20 0h1m-57 1h1m32 1h1m18 0h1m6 0h1m3 0h1m-1 1h1m-73 1h1m7 0h1m16 0h1m-39 3h1m47 0h1m-35 1h1m39 0h1m-17 1h1m29 0h1m-60 1h1m13 0h1m6 0h1m53 1h1m-72 1h1m9 0h1m41 0h1m-39 1h1m0 1h1m2 1h1m-33 1h1m31 0h1m-23 1h1m35 0h1m-20 1h1m54 0h1m-85 1h1m8 0h1m13 0h1m51 0h1m5 0h1m-66 1h1m10 0h1m48 0h1m4 0h2m-64 1h1m15 0h1m27 0h1m13 0h1m-8 1h1m-19 1h1m34 0h1m-47 1h1m5 0h2m1 0h1m22 0h1m-60 1h1m32 0h1m-43 1h1m44 0h1m27 2h1m-30 1h1m-10 1h2m26 0h1m-54 1h1m30 0h1m6 0h1m-52 1h1m49 0h1m2 0h2m-49 1h1m24 0h1m4 0h1m11 0h1m20 0h1m-46 1h1m-27 1h1m47 0h1m-24 1h1m2 0h1m7 0h1m15 0h1m5 0h1m13 0h1m-51 1h1m6 0h1m10 0h1m-37 1h1m8 0h1m12 0h1m16 0h1m-32 1h1m2 0h1m3 0h1m42 0h1m-8 1h1m31 0h1m-79 1h1m44 0h1m24 0h1m-55 1h1m2 0h1m11 0h1m7 1h1m4 0h1m-26 1h1m47 0h1m-56 1h1m3 0h1m30 0h1m2 0h1m-36 1h1m45 0h1m2 0h1m-61 1h1m29 0h1m14 0h1m8 0h1m-67 1h1m48 0h1m29 0h1"/>
<path stroke="#16a609" d="M1 0h1m3 0h1m11 0h1m4 0h1m19 0h1m2 0h1m42 0h1m-72 1h1m12 0h1m54 0h1m-81 1h1m62 0h1m6 0h1m-50 1h1m20 0h1m5 0h1m-29 1h1m13 1h1m7 0h1m-40 1h1m37 0h1m39 0h1m-48 1h1m4 0h1m10 0h1m-49 1h1m55 0h1m14 0h1m-73 1h1m12 2h1m46 0h1m-53 1h1m30 0h1m32 0h1m-75 1h1m62 0h1m6 1h1m10 0h1m-62 1h1m1 0h1m28 0h1m24 0h1m-67 1h1m32 0h1m25 0h1m4 0h1m7 0h1m2 0h1m-78 1h1m58 0h1m8 0h1m-73 1h1m23 0h1m15 0h1m7 0h1m24 0h1m-5 1h1m10 0h1m-61 1h1m25 0h1m6 0h1m1 0h1m20 0h1m-77 2h1m17 0h1m4 0h1m5 0h1m11 0h1m-48 1h1m6 0h1m16 0h1m29 0h1m-57 1h1m1 1h1m36 0h1m19 0h1m14 0h1m-68 1h1m36 0h1m7 0h1m17 0h1m14 0h1m-55 1h1m35 0h1m-67 1h1m20 0h1m4 0h1m52 0h1m-70 1h1m8 0h1m61 0h1m4 0h1m-50 1h1m46 0h1m-43 1h1m17 0h1m10 0h1m-47 1h1m6 0h1m28 0h1m12 0h1m6 0h1m-62 1h1m4 0h1m18 0h2m36 0h1m-82 1h1m2 0h1m8 0h1m57 0h1m-57 1h1m27 0h1m9 0h1m3 0h1m1 0h1m-3 1h1m-49 1h1m32 0h1m11 0h1m3 1h1m-22 1h1m50 0h1m-37 2h1m23 0h1m-64 1h1m20 1h1m1 0h1m3 0h1m-40 1h1m84 0h1m-87 1h1m26 0h1m8 0h2m40 0h1m-67 1h1m22 0h1m14 0h1m10 0h1m-55 1h1m16 0h1m16 0h1m4 0h1m21 0h1m-69 1h1m37 0h1m33 0h1m-57 1h1m4 0h1m-15 1h1m29 0h1m11 1h1m10 0h1m-50 1h1m23 0h1m48 0h1m-62 1h1m4 1h1m13 0h1m-37 1h1m35 0h1m-17 2h1m51 0h1m-39 1h1m6 0h1m30 0h1m-9 1h1m-71 1h1m46 0h1m35 0h1m-32 1h1m4 0h1m-25 1h1m-10 1h1m3 0h1m18 0h1m-38 1h1m39 0h1m3 1h1m13 0h1m-52 1h1m33 0h1m30 0h1m-69 1h1m2 0h1m21 0h1m-37 1h1m22 0h1m7 0h1m-36 1h1m7 0h1m18 0h1m17 0h1m19 0h1m14 0h1m-2 1h1m-35 3h1m5 0h1m6 0h1m5 0h1m-64 2h1m3 0h1m64 0h1m-19 1h1m-53 1h1m16 0h1m25 0h1m10 1h1m-38 1h1m19 0h1m-21 1h1m7 0h1m9 0h1m3 0h1m28 0h1m16 0h1m2 0h1m-42 1h1m13 0h1m21 0h1m-68 1h1m34 0h1m5 0h1m11 0h1m8 2h1m-46 1h1m31 0h1m-54 1h1m49 0h1m-47 1h1m36 0h1m-53 1h1m41 0h1m-4 1h1m2 0h1m1 0h1m-18 1h1m26 0h1m18 0h1m9 0h1m-71 1h1m30 0h1m1 0h1m30 0h1m1 0h1m-7 1h1m-72 2h1m82 0h2m-52 1h1m5 0h1m14 0h1m-55 1h1m8 0h1m7 0h1m13 0h1m48 0h1m5 0h1m-51 1h1m-6 2h1m1 0h1m15 0h1m-13 1h1m24 0h1m4 0h1m-52 1h1m31 0h1m17 0h1m12 0h1m-39 1h1m4 0h1m31 0h1m-81 1h1m24 0h1m1 0h1m8 1h1m-31 1h1m27 1h1m-24 1h1m65 0h1m3 0h1m-78 1h1m34 0h1m-30 1h1m20 0h1m50 0h1m-21 1h1m-46 1h1m59 0h2m-21 1h1m16 0h1m-75 1h1m30 0h1m4 0h1m-28 1h1m18 0h1m-20 1h1m22 0h1m7 0h1m5 0h1m35 0h1m-73 1h1m39 0h1m8 0h1m12 0h1m-61 2h1m17 0h1m10 0h1m-41 1h1m47 0h1m-11 1h1m30 0h1m-72 1h1m30 0h1m38 0h1m8 0h1m-64 1h1m4 0h1m13 0h1m36 0h1m-19 1h1m12 0h1m12 0h1m-81 1h1m26 0h1m12 0h1m-26 1h1m39 0h1m8 1h1m-47 1h1m1 0h1m7 0h1m22 0h1m18 0h1"/>
<path stroke="#18b60a" d="M47 0h1m-33 1h1m16 0h1m12 0h1m8 0h1m-46 1h1m20 0h1m4 0h1m13 0h1m35 0h1m-38 1h2m32 0h1m1 0h1m-78 1h1m24 0h1m48 0h1m-79 1h1m4 0h1m-7 1h1m2 0h1m28 0h1m-33 1h1m13 0h1m29 0h1m41 0h1m-42 1h1m35 0h1m-65 1h1m2 0h1m1 0h1m35 0h1m-37 1h1m9 0h1m15 0h1m3 0h1m-48 1h1m19 0h1m3 0h1m2 0h1m2 0h1m43 0h1m2 0h1m-58 1h1m42 0h1m-32 1h1m11 0h1m-8 1h1m38 0h1m-48 1h1m21 0h1m19 0h1m-42 1h1m45 1h1m-77 1h1m60 0h1m14 0h1m-48 1h1m-25 1h1m7 0h1m39 0h1m20 0h1m-34 1h1m3 1h1m33 0h1m-80 1h1m36 0h1m34 0h1m-77 1h1m28 0h1m17 0h1m13 0h1m-46 1h1m44 0h1m10 0h1m-73 1h1m7 0h1m16 0h1m-18 1h1m6 0h1m4 0h1m17 0h1m-26 1h1m2 0h1m38 0h1m5 0h2m-64 1h1m28 0h1m35 0h1m-53 1h1m13 0h1m28 0h1m27 0h1m-29 1h1m20 0h1m3 0h1m-80 1h1m37 0h1m-38 1h1m41 0h1m17 0h1m20 0h1m-81 1h1m31 0h1m17 0h1m20 0h1m-75 1h1m16 0h1m27 0h1m-15 1h1m-15 1h1m52 0h1m4 0h1m1 0h1m-58 1h1m20 0h2m12 0h1m3 0h1m8 0h1m12 0h1m-73 1h1m19 0h1m-19 2h1m22 1h1m-16 1h1m4 0h1m6 0h1m48 0h1m3 0h1m-54 1h1m-15 1h1m25 0h1m-22 1h1m27 0h1m34 0h1m-62 1h1m-26 1h1m18 0h1m26 0h1m18 0h1m-62 1h1m27 0h1m20 0h1m31 0h1m-74 1h1m1 0h1m7 0h1m51 0h1m4 0h1m-81 1h1m17 0h1m20 0h1m46 0h1m-70 1h1m23 1h1m5 0h1m-46 1h1m4 0h1m48 0h1m8 0h1m4 0h1m10 0h1m2 0h1m-36 1h1m5 0h1m5 0h1m19 0h1m-79 1h1m65 0h1m-49 1h1m11 0h1m5 0h1m19 0h1m-43 1h1m13 0h1m7 0h1m40 0h1m6 0h1m-71 1h1m16 0h1m10 0h1m-40 1h1m3 0h1m15 0h1m1 0h2m12 0h1m-20 1h1m22 0h1m-40 2h1m4 0h1m22 0h1m22 0h1m23 0h1m1 0h1m-76 1h1m60 0h1m-70 1h1m17 0h1m43 0h1m-28 1h2m5 1h1m3 0h1m12 0h1m21 0h1m-65 1h1m6 0h1m13 0h1m1 0h1m5 0h1m4 0h1m32 0h1m-67 3h1m19 0h1m20 0h1m7 0h1m-55 1h1m14 0h1m-21 1h1m21 0h1m22 0h1m27 0h1m-82 1h1m77 0h1m-65 1h1m64 0h1m-62 1h1m9 0h1m12 0h1m13 1h1m1 0h1m5 0h1m-52 1h1m36 0h1m29 0h1m-58 1h1m2 0h1m30 0h1m-26 1h1m3 0h1m18 0h1m20 0h1m5 0h1m5 0h1m-71 1h1m22 0h1m38 1h1m2 0h1m-79 1h1m49 0h1m24 0h1m-81 1h1m43 0h1m-40 1h1m4 0h1m23 0h1m4 0h1m1 0h1m-28 2h1m38 0h1m-47 1h1m6 0h1m14 0h1m9 0h1m27 0h1m11 0h1m-16 1h1m-62 1h1m14 0h1m42 0h1m20 0h1m2 0h1m-35 1h1m-42 1h1m39 0h1m27 0h1m-61 1h1m13 0h1m33 0h1m-48 1h1m52 0h1m-62 1h1m20 0h1m7 0h1m18 0h1m-33 1h1m31 0h1m24 0h1m-60 1h1m21 0h1m5 0h1m27 0h1m-48 2h1m-27 1h1m46 0h1m23 0h1m6 0h1m-58 1h1m9 0h1m14 0h1m-52 1h1m70 0h1m-65 1h1m14 1h1m50 0h1m-23 1h1m16 0h1m9 0h1m-63 1h1m12 0h1m9 0h1m8 0h1m-34 1h1m8 0h1m-20 1h1m16 0h1m30 0h1m-13 1h1m-44 1h1m24 0h1m5 0h1m8 0h1m35 0h1m-36 1h1m17 0h1m15 0h1m5 0h1m-60 1h1m19 0h2m-40 1h1m6 1h1m64 0h1m-73 1h1m54 0h1m-23 1h1m35 0h1m-68 1h1m24 0h1m14 0h1m9 0h1m8 0h1m-66 1h1m45 0h1m38 0h1m-75 1h1m8 0h1m53 0h1m10 0h1m-66 1h1m15 0h1m26 0h1m-21 1h1m8 0h1m29 0h1m-58 1h1m12 0h1m3 0h1m-30 1h1m18 0h1m24 0h1m-58 1h1m73 0h1m4 1h2m-80 1h1m7 0h1m19 0h1m16 0h1m-19 1h1m1 0h1m4 0h1m45 0h1"/>
<path stroke="#1bc60b" d="M4 0h1m0 1h1m25 0h1m8 1h1m-6 1h2m2 0h1m17 0h1m-46 1h2m24 0h1m24 0h1m13 0h2m-78 1h1m26 0h1m34 0h1m10 0h1m3 0h1m-75 1h1m6 1h1m49 0h1m-45 1h1m17 0h1m22 0h1m6 0h1m2 0h1m-41 1h1m2 0h1m27 0h1m7 0h1m-61 1h1m5 0h1m27 0h1m14 0h1m-40 1h1m35 0h1m34 0h1m-70 1h2m20 0h1m10 0h1m26 0h1m3 0h1m1 0h1m-72 2h1m23 0h1m34 0h1m-7 1h1m-26 1h1m9 1h1m31 0h1m-36 1h1m13 0h1m2 0h1m15 0h1m-37 1h1m27 0h1m6 0h1m2 0h1m-80 1h1m13 0h1m2 0h1m7 0h1m58 0h1m-90 1h1m16 0h1m5 0h1m13 0h1m17 0h1m2 0h1m-23 1h1m22 0h1m-41 1h1m14 0h1m4 0h1m-36 1h1m20 0h1m46 0h1m13 0h1m-82 1h1m24 0h1m24 0h1m22 0h1m2 0h1m4 0h1m-81 1h1m13 0h1m21 0h1m-16 1h1m9 0h1m17 1h1m5 0h1m-50 1h1m26 0h1m12 0h1m-48 1h1m2 0h1m11 0h1m12 0h1m23 0h1m-55 1h1m22 0h1m7 0h1m9 0h1m18 0h1m3 0h1m-17 1h1m15 0h1m-56 1h1m-13 1h1m80 0h1m-57 1h1m10 0h1m8 0h1m-6 1h1m13 0h1m10 0h1m2 0h1m16 0h1m-57 1h1m49 0h1m-80 1h1m46 0h1m21 0h1m2 0h1m9 0h1m-69 1h1m-11 1h1m66 0h1m-56 1h1m14 0h1m23 0h1m10 0h1m-33 1h1m29 0h1m17 0h1m-62 1h1m47 1h1m-45 1h1m40 0h1m-15 1h1m17 0h1m-52 1h1m11 0h1m9 0h1m30 1h1m8 0h1m-77 1h1m19 0h1m17 0h1m-17 1h1m18 0h1m17 0h1m8 0h1m-52 1h1m62 0h1m-18 2h2m0 1h1m10 0h1m-70 1h1m7 0h1m34 0h1m31 0h1m-38 1h1m4 0h1m10 0h1m19 0h1m-56 1h1m5 0h1m1 0h1m34 1h1m14 0h1m-67 1h1m6 0h1m38 0h1m-68 1h1m1 0h1m11 0h1m31 1h1m18 0h1m-68 1h1m7 0h2m16 0h1m22 0h1m2 0h1m8 0h1m14 0h1m-77 1h1m8 0h1m-5 1h1m6 0h1m22 0h1m22 1h1m1 0h1m1 0h1m11 0h1m1 0h1m7 0h1m1 0h1m-31 1h1m4 0h1m6 0h1m11 0h1m-50 1h1m46 0h1m-64 1h1m66 0h1m-78 1h1m13 0h1m4 0h1m-6 2h1m10 0h1m18 0h1m37 0h1m-72 1h1m18 0h1m27 0h1m-53 1h1m18 0h1m31 0h1m-1 1h1m-51 1h1m8 0h1m8 0h1m12 0h1m7 0h2m11 0h1m-63 1h1m78 0h1m-60 1h1m38 0h1m14 1h1m-67 1h1m2 0h1m-4 1h2m3 0h1m12 0h1m13 0h1m-20 1h1m9 0h1m5 0h1m13 0h1m6 0h1m18 0h1m6 0h1m-74 1h1m3 0h1m45 1h1m-48 2h1m44 0h1m6 0h1m12 0h1m-44 1h1m17 0h1m20 0h1m3 0h1m3 0h1m-83 1h1m-1 1h1m42 0h1m-24 1h1m23 0h1m31 1h1m-77 1h1m3 0h1m52 0h1m-31 1h1m18 0h1m-46 2h1m9 0h1m12 0h1m17 0h1m-29 1h1m33 0h1m2 0h1m1 0h1m17 0h1m-69 1h1m57 0h1m-52 1h1m-14 1h1m45 0h1m-47 1h1m5 0h1m-6 1h1m52 0h1m-47 1h1m15 0h1m11 0h1m9 0h1m16 0h1m-14 1h1m6 0h1m-48 1h1m4 0h1m20 0h1m7 0h1m-16 1h1m1 0h1m11 0h1m-4 1h1m33 0h1m-41 1h1m6 0h1m6 0h1m27 0h1m2 0h1m-64 1h1m8 0h1m5 0h1m-31 1h1m16 0h1m19 0h1m13 0h1m34 0h1m-74 1h1m50 0h1m12 0h1m-79 1h1m12 0h1m12 0h1m56 0h1m-71 1h1m55 1h1m18 0h1m-82 1h1m65 0h1m-67 1h1m19 0h1m3 0h1m4 0h1m7 0h1m22 0h1m5 0h1m13 0h1m-24 1h1m-64 1h1m23 0h1m39 1h1m5 0h1m7 0h1m8 0h1m-83 1h1m29 0h1m19 0h1m-56 1h1m31 0h1m-11 1h1m4 0h1m-27 1h1m59 0h1m-29 1h1m-15 1h1m22 0h1m-24 1h1m16 0h1m12 1h1m-49 1h1m30 0h1m5 0h1m26 0h1m-12 1h1m12 0h1"/>
<path stroke="#1dd50c" d="M86 0h1m-78 1h1m25 0h1m29 0h1m-51 1h1m1 0h1m1 0h1m12 0h1m1 0h1m35 0h1m-64 1h1m1 0h1m30 0h1m18 0h1m8 0h1m19 0h1m-50 1h1m10 0h1m37 0h1m-87 1h1m40 0h1m22 0h1m19 0h1m-65 1h1m17 0h1m4 0h1m-45 1h1m22 0h1m7 0h1m-22 1h1m44 1h1m7 0h1m-51 1h1m11 0h1m37 0h1m-56 1h1m69 0h1m2 0h1m-79 1h1m3 0h1m57 0h1m2 0h1m-48 1h1m4 0h1m18 0h1m5 0h1m18 0h1m14 0h1m1 0h1m-29 2h1m21 0h1m-34 1h1m11 0h1m1 0h1m-7 1h1m-53 1h1m7 0h1m-13 1h1m29 0h1m6 0h1m28 0h1m-66 1h2m34 0h1m33 0h1m-58 2h1m2 0h1m-5 1h1m59 0h1m-51 1h1m18 0h2m-44 1h1m55 0h1m-50 1h1m53 0h1m19 1h1m-5 1h1m-4 1h1m-73 1h1m48 0h1m13 0h1m22 0h1m-70 1h1m14 0h1m26 0h1m-47 1h1m14 0h1m-28 1h1m33 0h1m-38 1h1m13 0h1m31 0h1m9 0h1m-37 1h1m56 0h1m-52 1h1m2 0h1m26 0h1m15 0h1m-71 1h1m2 0h1m15 0h1m10 0h1m14 0h1m3 0h1m7 0h1m13 0h1m14 0h1m-14 1h1m-76 1h1m28 0h1m42 0h1m14 0h1m-13 1h1m-71 1h1m60 0h1m1 0h1m10 0h1m2 0h1m-77 1h1m9 0h1m62 0h1m-78 2h1m6 0h1m9 0h1m3 0h1m39 0h1m2 0h1m-64 1h1m55 0h2m11 0h1m10 0h1m-78 1h1m37 1h1m9 0h1m24 0h1m-81 1h1m65 0h1m19 0h1m-72 1h1m53 0h1m3 0h1m-37 1h1m51 0h1m-85 1h1m35 0h1m9 0h1m-52 1h1m3 0h1m12 0h1m13 0h1m-7 1h1m14 0h1m34 0h1m-55 1h1m1 1h2m7 0h2m6 0h1m25 0h1m2 0h1m-16 1h1m-51 1h1m16 0h1m-2 1h1m2 0h1m13 0h1m34 0h1m-66 1h1m2 1h1m58 0h1m6 0h1m-53 2h1m4 0h1m3 0h1m34 0h1m2 0h1m-21 1h1m28 0h1m-16 1h1m17 0h1m3 0h1m-31 1h1m24 0h1m2 0h1m-65 1h1m5 0h1m27 0h1m-51 1h1m62 0h1m-56 1h1m17 0h1m7 0h1m27 0h1m-66 1h1m14 0h1m39 0h1m20 0h1m-37 1h2m-37 1h1m33 0h1m39 0h1m-78 1h1m18 0h1m7 0h1m26 0h1m-52 1h1m10 0h1m1 0h1m2 0h1m11 0h1m38 0h1m-32 1h1m23 0h1m-68 1h1m79 0h1m6 0h1m-66 1h1m49 0h1m4 0h1m-65 1h1m12 0h1m2 0h1m21 0h1m10 0h1m6 0h1m-64 1h1m4 0h1m5 0h1m50 1h1m-14 1h1m-4 1h1m-34 1h1m55 1h1m-60 1h1m33 0h1m6 0h1m-55 1h1m6 0h1m17 0h1m34 1h1m-28 1h1m-13 1h1m23 0h1m-24 2h1m24 0h1m15 0h1m-56 1h1m29 0h1m2 0h1m-36 1h1m9 0h1m3 1h1m17 0h1m33 0h1m9 0h1m-84 1h1m15 0h1m47 0h1m1 0h1m12 0h1m-57 1h1m1 0h1m25 0h1m-29 1h1m22 0h1m23 0h1m4 0h1m3 1h1m-79 1h1m59 0h1m8 0h1m-43 1h2m49 0h1m-48 1h1m14 0h1m19 0h1m6 0h1m-63 1h1m24 0h1m-21 1h1m-16 1h1m15 0h1m10 0h1m6 0h1m7 0h1m17 0h2m10 0h1m8 0h1m-73 1h1m47 0h1m-60 1h2m8 0h1m24 0h1m-25 1h1m8 1h1m12 0h1m34 1h1m-42 1h1m16 0h1m12 0h1m6 0h1m22 1h1m-52 1h1m-2 1h1m30 0h1m-53 1h1m38 0h2m9 0h1m-45 1h1m4 1h1m-13 1h1m3 1h1m60 0h1m-71 1h1m13 0h1m21 0h2m14 0h1m5 0h1m20 0h1m-31 1h1m-56 1h1m32 0h1m2 0h1m-8 1h1m-14 1h1m29 0h1m-47 1h1m8 0h1m5 0h1m6 0h1m17 0h1m28 0h1m-42 1h1m21 0h1m8 0h1m10 0h1m-44 1h1m21 0h1m16 0h1m-67 1h1m11 0h1m17 0h1m-11 1h1m35 0h1"/>
<path stroke="#1fe50d" d="M14 0h1m8 0h1m16 0h1m14 0h1m-52 1h1m66 1h1m15 0h1m-88 1h1m51 0h1m-18 1h2m5 0h1m33 0h1m7 0h1m-68 1h1m18 0h1m30 0h1m19 0h1m-77 1h1m11 0h1m35 0h1m-40 1h1m24 0h1m12 0h1m-59 1h1m8 0h1m26 0h2m1 0h1m-35 2h1m13 0h1m50 0h1m6 0h1m-8 1h1m-55 1h2m68 0h1m2 0h1m-84 1h1m34 0h1m18 0h1m-32 1h1m22 0h1m2 0h1m32 0h1m-55 1h1m-20 1h1m19 1h1m14 0h1m7 0h1m-38 1h1m6 0h1m2 0h1m5 0h1m49 0h1m-81 1h1m16 0h1m17 0h1m18 0h1m25 0h1m-78 1h1m33 1h2m-46 1h1m8 0h1m7 0h1m1 0h1m28 0h1m9 0h1m24 1h1m-70 1h1m13 0h1m48 1h1m-22 1h1m-15 2h1m-43 1h1m9 0h1m26 0h1m2 1h1m3 0h1m15 0h2m-43 1h1m13 0h1m54 0h1m-81 1h1m30 0h1m-37 1h1m16 0h1m15 0h1m39 0h1m-34 2h1m36 0h1m-81 1h1m81 0h1m-58 1h1m-23 1h2m6 0h1m66 0h1m-74 1h1m14 0h1m28 0h1m33 0h1m-28 1h1m15 0h1m9 0h1m-75 1h1m31 0h1m9 0h1m9 0h1m-22 2h1m3 0h1m-33 1h1m20 0h1m3 0h1m44 0h1m-69 1h1m29 0h1m-23 1h1m61 0h1m-26 1h1m2 0h1m4 0h1m-63 1h1m75 0h1m-80 1h1m1 0h1m20 0h1m3 0h1m36 0h1m8 0h1m-70 1h1m25 0h1m23 0h1m-54 2h1m8 0h1m54 0h1m17 0h1m-54 1h1m19 0h2m28 0h2m-27 1h1m5 0h1m5 0h1m15 0h1m-72 1h1m51 0h1m18 1h1m-27 1h1m17 0h1m-76 1h1m1 0h1m12 0h1m34 0h1m23 0h1m8 0h1m-71 1h1m42 0h1m-34 1h1m-22 1h1m5 0h1m2 0h1m6 0h1m30 0h1m-37 1h1m8 0h1m23 0h1m24 0h1m-58 1h1m14 1h1m5 0h1m7 0h1m31 0h1m-49 2h1m28 0h1m6 0h1m19 0h1m-85 1h2m35 0h1m11 0h1m6 0h1m1 0h1m10 0h1m14 0h1m-42 1h1m27 0h1m-58 2h1m60 0h1m-67 1h1m50 0h1m16 0h1m-68 1h1m2 0h1m28 0h1m14 0h1m-55 1h1m29 0h1m-20 1h1m6 0h1m1 0h1m14 0h1m16 0h1m7 0h1m-30 1h1m11 0h1m-23 1h1m21 0h1m4 0h1m11 0h1m4 0h1m-44 1h1m32 0h1m11 0h1m-46 1h1m-17 1h1m16 0h1m22 0h1m26 1h1m-48 1h1m26 0h1m14 0h1m-50 1h1m6 0h1m9 0h1m24 0h1m11 0h1m-65 1h1m22 0h1m-25 1h1m53 0h1m2 0h1m2 0h1m15 0h1m-54 1h1m13 0h1m8 0h1m-38 1h1m52 0h1m6 0h1m7 0h1m-87 1h1m58 0h1m7 0h1m-53 1h1m5 0h1m3 0h1m-20 1h1m22 0h1m12 0h1m18 0h1m-32 1h1m31 0h1m2 0h1m-66 1h1m5 0h1m14 0h1m18 0h1m14 0h1m-30 1h1m4 0h1m6 0h1m17 0h1m-4 1h1m16 1h1m3 0h1m3 0h1m-76 1h1m20 0h1m37 0h1m8 0h1m-66 1h1m52 0h1m-60 1h1m5 0h1m6 0h1m8 0h1m39 0h1m15 0h1m-70 1h1m3 0h1m2 0h1m12 0h1m15 0h1m12 1h1m3 0h1m8 0h1m-74 1h1m10 0h1m41 0h1m14 0h1m-69 1h1m44 0h1m16 0h1m12 0h1m7 0h1m-78 1h1m36 0h1m3 0h1m-19 1h1m-21 1h1m9 0h1m35 0h1m18 0h1m-66 1h1m37 0h1m32 0h1m3 0h1m-81 1h1m22 0h1m33 0h1m22 0h1m-81 1h1m76 0h1m3 0h1m-82 1h1m17 0h1m13 0h1m-37 1h1m52 0h1m8 0h1m4 0h1m7 0h1m-47 1h1m29 0h1m7 1h1m-50 1h1m44 0h1m-24 1h1m-3 1h1m2 0h1m37 0h1m-80 1h1m11 0h1m27 0h1m13 0h1m-28 1h1m52 0h1m-77 1h1m1 0h1m19 1h1m22 0h1m23 0h1m-70 1h1m5 0h1m53 0h1m15 0h1m-81 1h1m14 0h1m5 0h1m-3 1h1m1 0h1m46 0h1m5 0h1m-49 1h1m31 0h1m-34 1h1m4 0h1m55 0h1m-57 1h1m3 0h1m-20 1h1m10 1h1m51 0h1m-66 1h1m31 0h1m28 0h2m6 0h1"/>
<path stroke="#21f50e" d="M38 0h1m19 0h2m4 0h1m1 0h1m-46 1h1m16 0h2m22 0h1m-59 1h1m9 0h1m24 0h1m8 0h1m1 0h1m29 0h1m-73 1h1m41 0h1m20 0h1m3 0h1m-72 1h1m52 0h1m-45 1h1m10 0h1m5 0h1m37 0h1m-66 1h1m59 1h1m-26 1h1m27 0h1m9 0h1m-8 1h1m8 0h1m-56 1h1m31 0h1m18 0h1m10 0h1m-78 1h1m19 0h1m11 0h1m31 0h1m-62 1h1m26 0h1m14 0h1m1 0h1m-24 1h1m31 0h1m19 0h1m-74 1h1m16 0h1m4 0h1m11 0h1m-40 1h1m6 0h1m27 0h1m4 0h1m3 0h1m12 0h1m6 0h1m-32 1h1m13 0h1m31 0h1m-76 1h1m16 1h1m36 0h1m5 0h1m-50 2h1m23 0h1m9 0h1m17 0h1m8 0h2m-14 1h2m17 0h1m-57 2h1m38 0h1m7 0h1m6 0h1m-83 1h1m22 1h1m58 0h1m-88 1h1m11 0h1m75 0h1m-84 1h1m32 0h1m9 0h1m-15 1h1m-19 1h1m26 0h1m24 0h1m-40 2h1m-23 1h1m26 0h1m-25 1h1m23 0h1m26 0h1m1 0h2m-33 1h1m18 0h1m27 0h1m4 0h1m1 0h1m-81 1h1m6 0h1m21 0h1m-7 1h1m7 0h1m12 0h1m16 0h1m3 0h1m6 0h1m-49 1h1m11 0h1m11 0h1m-3 1h1m8 1h1m-56 1h1m11 0h1m6 0h1m-3 1h1m13 0h1m40 0h1m-26 1h1m24 0h1m-64 1h1m13 0h1m54 0h1m-73 1h1m16 0h1m20 0h1m3 0h1m0 1h1m-46 1h1m8 0h1m-17 1h1m45 0h1m26 0h1m-51 1h1m7 0h1m18 0h1m8 0h1m-37 1h1m56 0h1m2 0h1m-72 1h1m33 0h1m33 0h1m4 0h1m-74 1h1m2 0h1m6 0h1m21 1h1m30 0h1m2 0h1m-3 1h1m-4 1h1m9 0h1m-49 1h1m3 1h1m6 0h1m22 0h1m-41 1h1m40 1h1m-59 2h1m17 0h1m2 0h1m-5 1h1m10 0h1m8 0h1m-18 1h1m-20 1h1m17 0h1m17 0h1m-28 1h1m26 0h1m-26 1h1m6 0h1m43 0h1m-78 1h1m33 0h1m11 0h1m15 0h1m11 0h1m-11 1h1m13 0h1m-79 2h1m9 0h1m38 0h1m11 0h1m10 0h1m-44 1h1m15 0h1m18 0h1m-56 1h1m5 0h1m11 0h1m2 0h1m41 0h1m-30 1h1m25 0h1m-29 1h1m-11 1h1m36 1h1m13 0h1m-80 1h1m1 0h1m5 0h1m8 0h1m6 0h1m25 0h1m34 0h1m-62 1h1m8 0h1m-3 1h1m3 0h1m22 0h1m-30 1h1m1 0h2m42 0h1m-72 1h1m37 0h1m26 0h1m-9 1h1m15 0h1m-77 1h1m32 0h1m9 0h1m5 0h1m4 0h1m-39 1h1m19 0h1m2 0h1m16 0h1m16 0h1m-50 1h1m9 0h1m2 0h1m-36 1h1m18 0h1m31 0h1m-35 1h1m2 0h1m19 0h1m-36 1h1m7 0h1m57 0h1m-45 1h1m23 0h1m-47 2h1m32 0h1m14 0h1m17 0h1m-23 1h1m-34 1h1m14 1h1m19 0h1m-43 1h1m9 0h1m19 0h1m-47 1h1m5 0h1m33 0h1m-11 1h1m21 0h1m14 0h1m12 0h1m-40 1h1m27 0h1m-2 1h1m12 0h1m-73 1h1m2 0h1m29 0h1m18 0h1m-35 1h1m31 0h1m-59 1h1m23 0h1m2 0h1m6 0h1m1 0h1m10 0h1m24 0h2m1 0h2m7 0h1m-41 1h1m31 0h1m5 0h1m-84 1h1m18 0h1m40 0h2m22 0h1m-82 1h1m13 0h1m65 0h1m-74 1h1m3 0h1m3 0h1m22 0h1m-10 1h1m13 0h1m7 0h1m25 0h1m-67 1h1m34 0h1m20 0h2m-56 1h1m57 0h1m3 0h1m-72 1h1m44 0h1m-42 1h2m31 0h1m34 0h1m-63 1h1m12 0h1m-8 1h1m34 0h1m-44 1h1m10 0h1m10 1h1m12 0h2m9 0h1m-58 1h1m33 0h1m38 0h1m4 0h1m-65 1h1m10 0h1m8 0h1m-30 2h1m12 0h1m-23 1h1m15 0h1m68 0h1m-79 1h2m35 0h1m25 0h1m17 0h1m-46 1h1m21 0h1m11 0h1m-54 1h1m21 0h1m37 0h1m-37 1h1m33 0h1m-77 1h1m3 0h1m7 0h1m23 0h1m29 0h1m-49 1h1m5 0h1m48 1h1m2 0h1m-36 1h1"/>
<path stroke="#29fd16" d="M16 1h1m16 0h1m40 0h1m6 0h1m-39 1h1m7 0h1m27 0h1m-35 1h1m26 0h1m-6 3h1m-54 1h1m15 0h1m20 0h1m26 0h1m-77 1h1m-3 1h1m44 0h1m40 0h1m-58 1h1m22 0h1m-18 1h1m50 0h1m-19 1h1m-58 1h1m8 0h1m-20 1h1m28 0h1m31 0h1m-61 1h1m25 0h1m58 0h1m-65 1h1m52 0h1m11 0h1m-86 1h1m16 0h1m44 0h1m18 1h1m1 0h1m-77 1h2m23 0h1m4 0h1m32 0h1m-30 1h1m22 0h1m-33 2h1m2 0h1m32 0h1m7 0h1m-80 1h1m66 0h1m-53 1h1m6 1h1m3 0h1m16 0h1m10 0h1m18 0h1m-59 1h1m43 0h1m27 0h1m-66 1h1m1 0h1m4 0h1m14 0h1m-30 1h1m47 0h1m19 0h1m-60 1h1m10 0h1m-22 2h1m1 0h1m8 0h1m21 0h1m41 0h1m-68 1h1m26 0h1m4 0h1m23 0h1m-64 1h1m17 0h1m53 0h1m-72 1h1m16 0h1m20 0h1m18 0h1m-12 1h1m6 1h1m4 0h1m2 0h1m-74 1h1m18 0h1m8 0h1m39 0h1m-20 1h1m-51 1h1m54 0h1m-35 1h1m34 0h1m3 0h1m15 0h1m-70 1h1m48 0h1m1 0h1m11 0h2m9 0h1m-56 1h1m17 0h1m-28 1h1m35 0h1m16 0h1m14 2h1m-87 1h1m31 0h1m23 0h1m1 0h1m16 0h1m2 0h1m-55 1h1m23 0h1m19 1h1m-55 1h1m22 0h1m-27 1h1m46 0h1m-48 1h1m21 0h1m37 0h1m-70 2h1m33 1h1m14 0h1m-10 1h1m6 0h1m29 0h1m-68 1h1m9 0h1m22 0h1m25 0h1m-54 1h1m22 0h1m1 0h1m36 0h1m4 0h1m-63 1h1m5 0h1m1 0h1m24 0h1m-56 1h1m56 0h1m-58 1h1m13 0h1m26 0h1m2 0h1m10 0h1m19 0h1m-74 1h1m32 0h1m-20 1h1m34 0h1m14 0h1m5 0h1m-49 1h1m33 0h1m2 0h1m9 0h1m6 0h1m6 0h1m-82 1h1m37 0h1m34 0h1m-67 1h1m9 0h1m1 0h1m17 0h1m-1 1h1m12 1h1m27 0h1m-77 1h1m1 0h1m13 0h1m6 0h1m47 0h1m-77 1h1m1 0h1m11 1h1m17 0h1m25 0h1m4 0h1m20 0h1m-89 1h1m33 0h1m8 0h1m6 0h1m7 0h1m29 0h1m-83 1h1m20 0h1m58 0h1m-71 1h1m14 0h1m5 0h1m8 0h1m7 1h1m-47 1h1m24 0h1m10 0h1m-26 1h1m18 0h1m11 0h1m7 0h1m11 0h1m9 0h1m5 0h1m-54 1h1m19 0h1m10 0h1m19 0h1m-70 1h1m24 0h1m1 0h1m3 0h1m20 0h2m-13 1h1m19 0h1m-70 1h1m22 0h1m3 0h1m22 0h1m-57 1h1m3 0h1m38 0h1m43 0h1m-58 1h1m-23 1h1m6 0h1m16 0h1m14 0h1m17 0h1m-1 1h1m3 0h1m-47 1h1m5 0h1m32 0h1m12 0h1m-69 1h1m25 0h1m11 0h1m19 0h1m12 0h1m9 0h1m-82 1h1m5 0h1m20 0h1m2 0h1m18 0h1m22 0h1m-7 1h1m4 0h1m-79 2h1m26 1h1m50 0h1m5 0h1m-84 1h1m19 0h1m6 0h1m8 0h1m3 0h1m26 0h1m2 0h1m9 0h1m-73 1h1m48 0h1m1 0h1m2 0h1m16 0h1m-15 1h1m-46 1h1m32 0h1m19 0h1m7 0h1m5 0h1m-59 1h1m1 0h1m36 0h1m4 0h1m-69 1h1m12 0h1m1 0h1m50 0h1m-30 3h1m12 0h1m15 0h1m15 0h1m-57 1h1m10 0h1m34 0h1m6 0h1m-49 1h1m-25 1h1m8 0h2m-23 1h1m21 0h1m11 0h1m-29 1h1m16 0h1m29 1h1m9 0h1m-26 1h1m1 0h1m8 0h2m35 0h1m-66 1h1m10 0h1m16 0h1m-49 1h1m12 0h1m29 1h1m21 0h1m4 0h1m-48 1h1m8 0h1m34 0h1m-67 1h1m2 0h1m21 0h1m20 0h1m-36 2h1m2 0h1m21 0h1m-36 1h1m46 0h1m36 0h1m-70 1h1m46 0h1m-32 1h1m33 0h1m-60 2h1m9 0h1m17 0h1m10 0h1m22 0h1m-70 2h1m5 0h1m27 0h1m25 0h1m10 0h1m6 0h1m-76 1h1m34 0h1m10 0h1m-49 1h1m58 0h1m4 0h1m-31 1h1m38 0h1m-76 1h1m25 0h1m10 0h1m-6 1h1m28 0h1m7 0h1m-23 1h1m6 0h1m21 0h1m6 0h1"/>
<path stroke="#37fd25" d="M36 0h1m42 0h1m-66 1h1m49 0h1m24 0h1m-83 1h1m75 0h1m-70 1h1m55 0h1m-44 1h1m13 0h1m-22 1h1m48 0h1m-45 1h1m2 0h1m33 0h1m6 0h1m5 0h1m-43 1h1m14 0h1m26 0h1m-30 1h1m-13 1h1m12 0h1m22 0h1m11 0h1m-74 1h1m32 0h1m14 0h1m10 0h1m-64 1h1m20 1h1m60 0h1m-79 1h1m68 0h2m9 0h1m-84 1h1m13 0h1m51 0h1m16 0h1m-74 1h1m5 0h1m33 0h1m12 0h1m2 0h1m-44 1h1m20 0h1m15 1h1m22 0h1m-57 1h1m4 0h1m16 0h1m-43 1h1m2 0h1m6 0h1m36 0h1m15 0h1m-71 1h1m10 0h1m5 0h1m7 0h1m-17 1h1m62 0h1m-29 1h1m-36 1h1m57 0h1m14 0h1m-28 1h1m-33 2h1m58 1h1m-78 1h1m29 0h1m8 0h1m-34 1h1m1 0h1m18 0h1m32 0h1m8 0h1m-18 1h1m5 0h1m4 0h1m-70 1h1m40 0h1m5 0h1m4 0h1m-38 1h1m3 0h1m32 0h1m15 0h1m15 0h1m-37 1h1m14 0h1m6 0h1m-54 2h1m3 0h1m7 0h1m-12 1h1m40 0h1m-51 1h1m2 0h1m18 0h1m-11 1h1m3 0h1m-31 1h1m24 0h1m28 0h1m22 0h1m4 0h1m-64 1h1m8 0h1m18 0h1m-46 2h1m15 0h1m31 0h2m18 0h1m6 0h1m7 0h1m3 0h1m-87 1h1m47 0h1m-19 1h1m8 0h1m23 0h1m-32 1h1m-32 1h1m34 0h1m46 0h1m-46 2h1m4 0h1m5 0h1m32 0h1m-82 1h1m16 0h1m7 0h1m19 0h1m21 0h1m9 0h1m-81 1h1m16 0h1m1 0h1m27 0h1m7 0h1m2 0h1m10 0h2m-27 1h1m18 1h1m4 0h1m18 0h1m-72 1h1m10 0h1m7 0h1m48 0h1m-81 1h1m16 0h1m46 0h1m-65 1h1m73 0h1m-17 1h1m17 0h1m-58 1h1m19 0h1m-6 1h1m42 0h1m-13 1h1m5 0h1m2 0h1m-72 1h1m23 0h1m28 0h1m19 0h1m-75 1h1m7 0h1m47 0h1m16 1h1m-44 1h1m37 0h1m11 0h1m-84 1h1m10 0h1m2 0h1m10 0h1m9 0h1m26 0h1m15 0h1m-62 1h1m13 0h1m-16 1h1m9 0h1m2 0h1m6 0h1m37 0h1m9 0h2m-54 1h1m18 0h1m30 0h1m-51 1h1m25 0h1m-47 1h1m44 0h1m-28 1h1m49 0h1m-73 1h1m1 0h1m65 0h1m8 0h1m-82 1h1m29 0h1m30 0h1m-23 1h1m12 0h1m9 0h1m2 0h1m7 0h1m-82 1h2m34 0h1m21 0h1m-55 1h1m9 0h1m9 0h1m3 0h1m34 0h1m-35 1h1m4 0h1m52 0h1m-84 1h1m27 0h1m17 0h1m23 0h1m-55 1h1m20 0h1m47 0h1m-87 1h1m21 0h1m34 0h1m-52 1h1m52 0h1m6 0h1m10 0h1m-16 2h1m-44 1h1m-14 1h1m28 0h1m1 0h1m-29 1h1m1 0h1m73 0h1m-89 1h1m14 0h1m10 0h1m2 0h1m12 0h1m21 0h1m-58 1h1m1 0h1m30 0h1m-21 1h1m33 0h1m2 0h1m26 0h1m3 0h1m-57 1h1m18 0h1m16 0h1m1 0h1m-53 1h1m32 0h1m-48 1h1m12 1h1m14 0h1m11 1h1m23 0h1m-54 1h1m55 0h1m-63 1h1m37 0h1m39 1h1m-44 1h1m26 0h1m14 0h1m-64 1h1m25 0h1m23 0h1m-56 1h1m61 0h1m-31 2h1m-42 1h2m3 0h1m25 0h1m26 0h1m-14 1h1m11 2h1m8 0h1m-71 1h1m32 0h1m11 0h2m8 0h1m5 0h1m-2 1h1m-36 1h1m42 0h1m-64 1h1m24 0h1m-17 1h1m4 0h1m10 0h1m21 0h1m7 0h2m-62 1h1m3 0h1m36 0h1m5 0h1m13 0h1m-7 1h1m21 0h1m-79 1h1m17 0h1m-23 1h1m18 0h1m37 0h1m8 0h1m22 0h1m-11 1h1m1 0h1m-72 1h1m40 0h1m11 0h1m-47 1h1m11 0h1m44 0h1m-30 3h1m30 0h1m-31 1h1m5 0h1m35 0h1m-85 1h1m9 0h1m3 0h1m4 0h1m-10 1h1m37 0h1m17 0h1m-35 2h1m6 0h1m1 0h1m5 0h1m3 0h1m3 0h2m5 0h1m1 0h1m-63 1h1m16 0h1m14 0h1m19 0h1m10 1h1"/>
<path stroke="#45fd34" d="M40 4h1m7 0h1m26 0h1m9 0h1m-79 1h1m11 0h1m12 0h1m11 0h1m12 0h1m2 0h1m20 0h1m-64 1h1m17 0h1m7 0h1m7 0h1m27 0h1m-71 1h1m10 0h1m7 0h1m10 0h1m30 0h1m-48 1h1m2 0h1m14 0h1m9 0h1m-49 1h1m25 0h1m4 0h1m29 0h1m23 0h1m-87 1h1m4 0h1m44 0h1m6 0h1m19 0h1m-48 1h1m14 0h1m-19 1h1m49 0h1m-64 1h2m18 0h1m9 0h1m25 0h1m11 0h1m-39 1h1m2 0h1m25 1h1m-60 1h1m18 0h1m8 0h1m11 0h1m23 0h1m-75 1h1m1 0h1m18 0h1m34 0h1m9 0h1m-68 1h1m27 0h1m26 0h1m26 0h1m-62 1h1m11 0h1m31 0h1m-64 1h1m42 0h1m-21 1h1m19 0h1m24 0h1m-23 1h1m-30 1h1m37 1h1m10 0h1m5 0h1m8 0h1m-69 1h1m26 0h1m14 0h1m19 0h1m-34 1h1m-39 1h1m17 0h1m41 0h1m8 0h1m-58 1h1m35 0h1m26 0h1m-74 1h1m36 0h1m-45 1h1m8 0h1m5 1h1m58 0h1m-82 1h1m24 0h1m-15 2h1m6 0h1m6 0h1m10 0h1m7 0h1m14 0h1m4 0h1m-50 1h1m21 0h1m-31 2h1m10 0h1m9 0h1m20 0h1m3 0h1m2 0h1m5 0h1m20 0h1m-69 1h1m11 0h1m6 0h1m13 0h1m25 0h1m8 0h1m-67 1h1m11 0h1m49 0h1m-49 1h1m9 0h1m12 0h1m7 0h1m-56 1h1m1 0h1m-5 1h1m4 0h1m50 0h1m6 0h1m7 0h1m11 0h1m-77 1h1m19 0h1m37 0h1m1 0h1m3 0h1m12 0h1m-37 1h1m2 0h2m-4 1h1m15 0h1m3 0h1m11 0h1m-24 1h1m-58 1h1m55 0h1m11 0h1m-63 1h1m7 0h1m57 0h1m-46 1h1m7 0h2m19 0h1m25 0h1m-86 1h1m12 1h1m37 0h1m3 0h1m-43 1h1m31 0h1m-8 1h1m-33 1h1m5 0h1m44 0h1m19 0h1m-11 1h1m18 0h1m-77 1h1m1 0h1m13 0h1m10 0h1m4 0h1m25 0h1m-46 1h1m38 0h1m-20 1h1m-5 1h1m7 0h1m7 0h1m-54 1h1m6 0h1m24 0h1m7 2h1m28 0h1m4 0h1m9 0h1m-86 1h2m36 0h1m26 0h1m2 0h1m-20 1h1m-37 1h1m5 0h1m1 0h1m40 0h1m14 0h1m-80 1h1m12 0h2m53 0h1m-60 1h1m8 0h1m3 0h1m29 0h1m5 0h1m19 0h1m-27 1h1m29 0h1m-82 1h1m21 0h1m17 0h1m-43 1h1m35 0h1m47 0h1m-71 1h1m59 0h1m2 0h1m-53 1h1m45 0h1m-66 2h1m5 0h1m47 0h1m-33 1h1m27 0h1m-43 1h1m-11 1h1m17 1h1m31 0h1m2 0h1m6 0h1m9 0h1m-70 1h1m4 0h1m4 0h1m52 0h1m7 0h1m-78 1h1m1 0h1m17 0h1m6 1h1m21 0h1m34 0h1m0 1h1m-37 1h1m19 0h1m12 0h1m6 0h1m-90 1h1m4 0h1m6 0h1m40 0h1m-34 1h1m17 0h1m6 0h1m15 1h1m16 0h1m-47 1h1m6 0h1m-30 1h1m48 0h1m27 0h1m-63 1h2m28 0h1m-29 1h1m13 0h1m28 0h1m-16 1h1m-32 1h1m29 0h1m28 0h1m1 0h1m-77 2h1m20 0h1m5 0h1m-3 1h1m26 0h1m20 0h1m-78 1h1m57 0h1m22 0h1m-75 1h1m12 1h1m11 0h1m19 1h1m27 0h1m-71 1h1m66 0h1m5 0h1m-35 1h1m25 0h1m-35 1h1m1 0h1m17 0h1m4 0h1m14 0h1m-84 1h1m21 0h1m27 1h1m-34 1h1m13 0h1m29 0h1m20 0h1m-85 1h1m66 0h1m4 0h1m15 0h1m-72 1h1m8 0h1m8 0h1m-16 1h1m3 0h1m46 1h1m11 0h1m-57 1h1m22 0h1m-44 1h1m11 0h1m61 0h1m-55 1h1m4 0h1m8 0h1m9 0h1m21 1h1m-58 1h1m46 0h1m3 0h1m-53 1h1m22 0h1m30 0h1m-34 1h1m30 0h1m16 0h1m-71 1h1m9 1h1m8 0h1m32 0h1m3 0h1m-60 1h1m71 1h1m-62 1h1m31 0h1m3 1h1m3 1h1m15 0h1m-63 1h1m6 0h1m21 0h1m-34 1h1m23 0h1m3 0h1m22 0h1m2 1h1m-30 1h1"/>
<path stroke="#52fd43" d="M6 0h1m22 0h1m1 0h1m20 0h1m20 0h1m4 0h1m8 0h1m-35 1h1m29 0h1m-64 1h1m21 0h1m11 0h1m22 0h1m-67 1h1m31 1h1m22 0h1m-9 1h1m24 0h1m-63 1h1m8 0h1m40 0h1m2 0h1m4 0h1m4 0h1m-57 1h1m9 0h1m17 0h1m9 0h1m-35 1h1m17 0h1m9 0h1m-32 1h1m46 0h1m-45 1h1m26 0h1m24 0h1m-29 1h1m16 0h1m9 0h1m-75 1h1m3 0h1m10 0h1m23 0h1m25 1h1m-58 1h1m58 0h1m-68 1h1m47 0h1m1 1h1m-20 1h1m27 0h1m-68 1h1m34 0h1m-15 1h1m3 0h1m26 0h1m28 0h1m-69 1h1m37 0h1m18 0h1m-36 1h1m45 0h1m1 0h1m4 1h1m-87 1h1m7 0h1m25 0h1m9 0h1m34 0h1m-52 1h1m19 0h1m-12 1h1m17 0h1m-40 1h1m2 0h1m41 0h1m4 0h1m7 0h1m2 0h1m-77 1h1m2 0h1m76 0h1m-73 1h1m26 0h1m27 0h1m8 0h1m5 0h1m-76 1h1m13 0h1m3 0h1m7 0h1m38 0h1m12 0h1m-55 2h2m31 0h1m-62 1h1m13 0h1m-10 1h1m26 0h1m8 0h1m25 0h1m-3 1h1m-55 1h1m12 0h1m27 0h1m-55 2h1m42 0h1m43 0h1m-69 1h1m17 0h1m31 0h1m-38 1h1m21 0h1m16 0h1m14 0h1m-68 1h1m1 0h1m12 0h1m38 0h1m10 0h1m-75 1h2m6 0h1m19 0h1m39 0h1m7 0h1m-60 1h1m31 0h1m-60 1h1m24 0h1m17 0h1m13 0h1m-41 1h1m-19 1h1m6 0h1m9 1h1m32 0h1m-38 1h1m10 0h1m50 0h1m-59 1h1m6 0h1m3 0h1m20 0h2m28 0h1m8 0h1m-87 1h1m20 0h1m20 0h1m-22 1h1m41 0h1m14 0h1m-38 1h2m37 0h1m-80 1h1m29 0h1m46 0h1m-75 1h2m25 0h1m-4 1h1m17 0h1m39 0h1m-37 1h1m-37 1h1m59 0h1m-59 1h1m35 0h1m-17 1h1m4 0h1m-31 1h1m1 0h1m45 0h1m24 0h1m-32 1h1m16 0h1m12 0h1m-46 1h1m24 0h1m23 0h1m-65 1h1m30 0h1m-47 1h1m38 0h1m7 0h1m-4 1h1m33 0h1m-70 1h1m21 0h1m29 1h1m-58 1h1m6 0h1m30 0h1m9 0h1m-62 1h1m42 0h1m-41 2h1m20 0h2m4 0h1m27 0h1m8 0h1m-46 1h1m-7 1h1m34 0h1m6 0h1m21 0h1m-76 2h1m23 0h2m2 0h1m46 0h1m-75 1h1m30 0h1m23 0h1m16 0h1m-7 1h1m-19 1h1m10 0h1m-46 1h1m21 0h1m19 1h1m6 0h1m-64 2h1m38 0h1m4 0h1m6 0h1m-53 1h1m21 0h1m4 0h1m11 0h1m-39 1h1m5 0h1m4 0h1m8 0h1m34 0h1m-60 1h1m14 0h2m54 0h1m-67 1h1m73 0h1m-13 1h1m-30 1h1m14 1h1m16 0h1m-57 1h2m23 0h1m16 0h1m1 0h1m2 0h1m8 0h1m-65 2h1m39 0h1m-40 1h1m16 0h1m6 0h1m1 0h1m-9 1h1m11 0h1m-3 1h1m3 0h1m-12 1h1m33 0h1m-43 1h1m32 0h1m1 0h1m12 0h1m-34 2h1m1 0h1m13 0h1m3 0h1m18 0h1m-33 1h1m20 1h1m10 0h1m-55 1h1m7 0h1m52 0h1m-85 1h1m34 0h1m1 0h1m20 1h1m21 0h1m5 0h1m-65 1h1m22 0h1m29 0h1m-65 1h1m7 1h1m6 0h1m-22 1h1m18 0h1m4 0h2m14 0h1m20 0h1m-24 1h1m-14 1h1m7 0h1m43 0h1m-77 1h1m7 0h1m32 1h1m1 1h1m23 0h1m5 0h2m-58 1h1m20 0h1m23 0h1m19 0h1m-68 1h1m10 0h1m30 0h1m13 0h1m-33 1h1m20 0h1m-65 1h1m14 0h1m44 0h1m16 0h1m-26 1h1m13 0h1m-24 1h1m13 0h1m10 0h1m6 0h1m-29 1h1m15 0h1m-30 1h1m21 0h1m27 0h1m-57 1h1m41 0h1m-62 1h1m1 0h1m38 0h1m-52 1h1m7 0h1m14 0h1m24 0h1m-2 1h1m30 0h1m-34 1h1m31 0h1m-50 1h1m2 0h1m19 0h1m31 0h1m-65 1h1m1 0h1m26 0h1m26 0h1"/>
<path stroke="#60fe52" d="M49 0h1m30 0h1m-53 2h2m29 0h1m1 0h1m-20 1h1m-29 1h1m65 0h1m6 0h1m-51 1h1m35 0h1m1 0h1m9 0h1m-79 1h1m1 0h1m79 0h1m-82 1h1m44 0h1m14 0h1m1 0h1m1 0h1m11 0h1m-81 1h1m77 0h1m-78 1h1m2 0h1m7 0h1m26 0h1m13 0h1m29 0h1m-48 1h1m20 0h1m-5 1h1m3 0h1m5 0h1m7 0h1m-44 1h1m27 0h1m-31 1h1m26 0h1m22 0h1m-62 1h1m47 0h1m-68 1h1m9 0h1m51 0h1m20 0h1m-84 1h1m8 0h1m24 0h1m5 0h1m5 0h1m-6 1h1m-40 1h1m12 0h1m27 0h1m7 0h1m6 0h1m-10 1h1m28 0h1m-22 1h1m-57 1h1m3 0h1m20 0h1m16 0h1m3 0h1m4 0h1m20 0h1m6 0h1m-65 1h1m14 1h1m13 0h1m20 0h1m10 0h1m-65 1h1m4 0h1m21 0h1m5 0h1m-16 1h1m6 0h1m-34 1h1m4 1h1m4 0h2m17 0h1m1 1h1m33 0h1m-63 1h1m60 0h1m-2 1h1m8 0h1m-77 1h1m22 0h1m3 0h1m26 0h1m-38 1h1m-17 1h1m16 0h1m12 0h1m-11 1h1m39 0h1m24 0h1m-86 1h1m16 0h1m55 0h1m0 1h1m-46 1h1m36 0h1m-44 1h1m3 0h1m20 0h1m14 0h1m-53 1h1m28 0h1m24 0h1m16 0h1m-43 1h1m-16 1h1m-19 1h1m3 0h1m21 0h1m7 0h1m5 1h1m-36 1h1m40 0h1m5 0h1m-60 1h1m44 0h1m8 0h1m28 0h1m-66 1h1m6 0h1m43 0h1m-71 1h1m10 0h1m2 0h1m63 0h1m5 0h1m-73 1h1m31 0h1m18 0h1m-45 1h1m27 0h1m36 0h1m3 0h1m-46 1h1m23 0h1m3 0h1m-44 1h1m2 0h1m20 1h1m-41 1h1m2 0h1m23 1h1m4 0h1m-7 1h1m1 0h1m3 0h1m2 0h1m-13 1h1m25 0h1m11 0h1m12 0h1m-76 1h1m35 0h1m31 0h1m-52 1h1m-30 3h1m20 0h1m5 0h1m60 0h1m-67 1h1m7 0h1m6 0h1m12 0h1m-11 1h1m35 0h1m-45 1h1m24 0h1m-49 1h1m1 0h1m18 0h1m44 0h1m1 1h1m-52 1h1m39 0h1m7 0h1m-25 1h1m15 1h1m4 0h1m13 0h1m-48 1h1m18 0h1m11 0h1m6 0h1m1 0h1m-53 1h1m24 0h1m-24 1h1m16 0h1m4 0h1m38 0h1m-81 1h1m9 0h1m-8 1h1m2 0h1m8 0h1m53 0h1m3 0h1m-64 1h1m69 0h1m-90 1h1m39 0h1m-35 1h1m14 0h1m12 0h1m-8 1h1m29 0h1m30 0h1m-41 2h1m-12 1h1m-31 1h1m32 0h1m22 0h1m9 0h1m8 0h1m-72 1h1m17 0h1m2 0h1m46 0h1m-45 1h1m18 0h1m20 0h1m10 0h1m-78 1h1m17 0h1m16 0h1m8 0h1m5 0h1m-7 1h1m18 0h1m-36 1h1m11 0h1m1 0h1m-43 1h1m19 0h1m36 1h1m12 0h1m-44 1h1m7 0h1m1 0h1m35 0h1m-83 1h1m14 0h1m15 0h1m38 0h1m11 0h1m6 0h1m-87 1h1m76 0h1m-77 1h1m52 0h1m-5 1h1m10 0h2m3 0h1m-69 1h1m30 0h1m25 0h1m7 0h1m-22 1h1m35 0h1m-73 1h1m9 0h1m12 0h1m19 0h1m2 0h1m33 0h1m-78 1h2m27 0h2m1 0h1m24 0h1m5 0h1m4 0h1m7 0h1m-50 1h1m1 0h1m23 0h1m4 0h1m-8 3h1m21 0h1m-37 2h1m8 0h1m5 0h2m2 0h1m-66 2h1m45 0h1m9 0h1m-59 1h1m45 0h1m-7 1h1m30 0h1m13 0h1m-83 1h1m1 0h1m1 0h1m18 0h1m12 0h1m-2 1h1m15 0h1m29 0h1m-67 1h1m28 0h1m9 0h1m28 0h1m-76 1h1m40 0h1m30 0h1m-67 1h1m15 0h1m50 0h1m-28 1h2m14 0h1m-44 1h1m12 0h1m33 0h1m-65 1h1m20 0h1m7 0h1m39 0h1m3 0h1m-15 1h1m2 1h1m8 0h1m2 0h1m-71 1h1m4 0h1m10 0h1m8 0h1m-39 1h1m47 0h1m-4 1h1m-29 2h1m27 0h1m5 0h1m15 0h1m3 0h1m-70 1h1m19 0h1m61 0h1m-34 2h1m4 1h1m3 0h2m18 0h1"/>
<path stroke="#6efe61" d="M3 0h1m4 0h1m3 0h1m28 0h1m41 0h1m-40 1h1m2 0h1m16 1h1m4 0h1m-46 1h1m19 0h1m33 0h1m-63 1h1m13 0h1m20 0h1m3 0h1m-16 1h1m-31 1h1m54 0h1m-22 2h1m32 0h1m-66 1h1m1 0h1m37 0h1m-18 1h1m1 0h1m35 0h1m-49 1h1m7 4h1m50 0h1m-3 1h1m-78 1h1m28 0h1m9 0h1m-6 1h1m2 0h1m3 0h1m18 0h1m-51 1h1m31 0h2m9 0h1m-41 1h1m-9 1h1m16 0h1m10 0h1m2 0h1m25 0h1m7 1h1m12 0h1m-83 1h1m25 0h1m26 0h1m-53 1h1m8 0h1m24 0h1m-42 1h1m28 0h1m19 0h1m2 0h1m-17 1h2m-12 1h1m-27 1h1m28 0h1m7 0h1m10 0h1m-48 1h1m43 0h1m27 0h1m5 0h1m-44 1h1m12 1h1m-29 1h1m7 0h2m19 0h1m34 0h1m-37 1h1m5 0h1m23 0h1m-25 1h1m5 0h1m16 0h1m1 0h1m-70 1h1m40 0h1m-22 1h1m7 0h1m5 0h1m17 0h1m23 0h1m-76 1h1m51 1h1m-57 1h1m43 0h1m3 0h1m-30 1h1m10 0h1m-14 1h1m18 0h1m18 0h1m25 0h1m-65 1h1m28 0h1m7 0h1m-10 1h1m-37 1h1m4 0h1m36 0h1m-48 1h1m40 0h1m-49 1h1m59 0h1m9 0h1m3 0h1m1 0h1m-52 1h1m-24 1h1m31 2h1m23 0h1m-49 2h1m16 0h1m40 0h1m-60 1h1m7 0h2m10 0h1m19 0h1m31 0h1m-86 1h1m76 0h1m-71 1h1m18 0h1m19 0h1m11 0h1m-58 1h1m15 0h1m3 0h1m33 0h1m25 0h1m-16 1h1m-68 2h1m8 0h1m49 0h1m20 0h1m2 0h1m-61 1h1m17 0h1m14 0h1m-54 2h1m1 0h1m37 0h2m-23 1h1m31 0h1m-49 1h1m7 0h1m4 0h1m22 0h2m14 0h1m-46 1h1m14 0h1m3 0h1m13 0h1m14 0h1m5 0h2m10 0h1m-57 1h1m51 1h1m-70 1h1m51 0h1m-29 1h1m38 0h1m4 0h1m-70 1h1m45 0h1m20 0h1m8 0h1m-74 1h1m39 0h1m4 0h1m-47 1h1m11 0h1m44 0h1m15 0h1m6 0h1m-78 2h1m59 0h1m-23 1h2m10 0h1m-48 1h1m16 1h1m14 0h1m22 0h1m-35 1h1m21 0h1m2 0h1m-12 1h1m29 0h1m-28 1h1m8 0h1m-20 1h1m30 0h1m-15 1h1m-55 1h1m3 0h1m1 0h1m59 0h1m1 0h1m-49 1h1m9 0h1m1 0h1m15 0h1m14 0h1m-21 1h1m4 0h1m-23 1h1m21 1h1m18 0h1m7 0h1m2 0h1m3 0h1m-32 1h1m6 0h1m3 0h1m-60 1h1m28 0h1m21 0h1m16 1h1m-12 1h1m-24 1h1m31 0h1m12 1h1m-64 1h1m24 0h1m-39 2h1m40 0h1m24 0h1m-67 1h1m5 0h1m16 0h1m11 0h1m4 0h1m-30 1h1m21 0h1m-42 1h1m84 0h1m-36 1h1m-42 1h1m30 0h1m21 0h1m-63 1h1m14 0h1m54 0h1m-43 1h1m35 1h1m-48 1h1m6 0h2m24 0h1m6 0h1m10 1h1m7 0h1m-72 2h1m3 0h1m9 1h1m41 0h1m-49 1h1m16 0h1m7 0h1m47 0h1m-77 1h1m1 0h1m58 0h2m-11 1h1m21 0h1m2 0h1m-44 1h1m36 0h1m-78 1h1m63 0h1m16 1h1m-66 1h1m8 0h1m8 0h1m5 0h1m6 0h1m11 0h1m-59 1h1m39 0h1m5 1h1m7 0h1m22 0h1m-61 1h1m4 0h1m6 0h1m5 0h1m34 0h1m-30 1h1m2 0h1m21 0h1m-1 1h1m-8 1h1m20 0h1m-67 1h1m25 0h1m32 1h1m-59 1h1m4 0h1m-7 1h1m15 0h1m5 0h1m11 0h1m32 0h1m-79 1h1m14 0h1m54 0h1"/>
<path stroke="#7cfe70" d="M16 0h1m25 1h1m28 0h1m6 0h1m-69 1h1m27 0h1m2 1h1m18 0h1m12 0h1m-46 1h1m36 0h1m-66 1h1m48 0h2m25 0h1m4 1h1m-39 2h1m18 0h1m-38 1h1m37 0h1m2 0h1m14 0h1m-64 1h1m17 0h1m9 0h1m28 0h1m2 0h1m-41 1h1m12 0h1m22 0h1m-44 3h1m8 1h1m11 0h1m20 0h1m-58 1h1m13 0h1m37 0h1m-53 1h1m5 0h1m31 0h1m5 0h1m24 0h1m-8 1h1m-47 1h1m4 0h1m17 0h1m9 0h1m-24 2h1m-40 1h1m36 0h1m15 0h1m4 0h1m-57 1h1m62 0h1m-13 1h1m14 0h1m7 0h1m4 0h1m-50 1h1m52 0h1m-40 1h1m16 0h1m-17 1h1m2 0h1m-50 1h1m83 0h1m-80 1h1m34 0h1m28 1h1m13 0h1m-48 1h1m-30 1h1m29 0h1m6 0h1m39 0h1m-8 1h1m-59 1h1m15 0h1m13 0h1m-37 1h1m-8 1h1m78 0h1m-88 1h1m12 0h1m24 0h1m38 1h1m-16 1h1m4 0h1m10 0h1m-69 1h1m17 0h1m9 0h1m7 0h1m8 0h1m29 0h1m-71 1h1m20 0h1m4 0h1m-33 1h1m7 0h1m-1 1h1m44 0h1m-34 1h1m-10 1h1m44 0h1m3 0h2m10 0h1m-45 2h2m19 0h1m17 0h1m3 0h1m6 0h1m-54 1h1m34 0h1m11 0h1m-30 1h1m21 0h1m-65 1h1m19 0h2m27 0h1m20 0h1m-77 1h2m48 0h1m19 0h2m2 0h1m-68 1h1m25 0h1m12 0h1m-23 1h1m6 0h1m16 1h1m20 0h1m-67 1h1m26 0h1m40 0h1m8 0h1m-22 1h1m22 0h1m-84 1h1m10 0h1m18 0h1m11 0h1m3 0h1m-35 1h1m3 0h1m20 0h1m11 0h1m21 0h1m-60 1h1m9 0h1m8 0h1m31 0h1m-50 1h1m22 0h1m-26 1h1m5 0h1m5 0h1m4 0h2m5 0h1m26 0h1m-68 1h1m18 1h1m23 0h1m-7 2h1m49 0h1m-89 1h1m9 0h1m21 0h1m16 0h1m12 0h1m-61 1h1m22 0h1m13 0h1m-33 1h1m4 0h1m3 0h1m-2 1h1m23 0h1m4 0h1m23 0h1m3 0h1m-64 1h1m22 2h1m22 0h1m12 0h1m10 0h1m-46 1h1m-30 1h1m21 0h1m23 0h1m35 0h1m-66 1h1m49 0h1m1 0h1m-67 1h1m40 0h1m11 0h1m20 0h1m-65 2h1m-7 1h1m38 0h1m12 0h1m24 0h1m-84 1h1m9 0h1m14 0h1m8 0h1m-28 1h1m7 0h1m2 0h1m30 0h1m14 0h1m11 0h1m-56 1h1m47 0h1m-62 1h1m22 0h1m33 0h1m11 0h1m-59 1h1m22 0h1m40 0h1m-58 1h1m39 0h1m-67 3h1m9 0h1m36 0h1m11 0h1m-57 1h1m9 0h1m19 0h1m1 0h1m-8 1h1m54 0h1m-36 1h1m32 0h1m-67 1h1m28 0h1m15 0h1m-38 1h1m-13 1h1m59 0h1m-76 1h1m68 0h1m-6 1h1m-11 1h1m-29 1h1m6 0h1m3 0h1m47 0h1m-68 1h1m32 0h1m-51 1h1m37 0h1m32 0h1m-73 1h1m50 0h1m13 0h1m-12 1h1m25 0h1m-42 2h1m-27 1h1m-4 1h1m49 0h1m-24 1h1m32 0h1m13 0h1m-74 1h1m45 0h1m6 0h1m-49 1h1m32 0h1m5 0h1m-57 1h1m14 1h1m14 0h1m4 0h1m28 0h1m-12 1h1m10 0h1m-34 1h1m3 0h1m26 0h1m-21 1h1m3 0h1m7 0h1m-47 1h1m11 0h1m11 0h1m-28 1h1m64 0h1m-62 1h1m12 0h1m63 0h1m-48 1h1m-35 1h1m8 0h1m15 0h1m5 0h1m14 0h1m25 0h1m-67 1h1m61 0h1m3 0h2m-80 2h1m55 0h1m12 0h1m10 0h1m-75 1h1m25 0h1m2 0h1m30 1h1m20 0h1m-34 1h1m-38 1h1m22 0h1m6 0h1m22 0h1m-60 1h1m2 0h1"/>
<path stroke="#8afe7f" d="M18 0h1m14 0h1m-7 1h1m44 0h2m10 1h1m-73 1h1m7 0h1m64 0h1m-84 1h1m3 0h1m27 0h1m2 0h1m7 0h1m40 0h1m2 0h1m-56 1h1m11 0h1m35 0h1m-77 1h1m8 0h1m11 0h1m3 0h1m7 0h1m3 0h1m14 0h1m15 1h1m8 0h1m-83 1h1m3 0h1m15 0h1m11 0h1m17 0h1m12 0h1m22 0h1m-52 1h1m4 0h1m7 0h1m23 0h1m5 0h1m-14 1h1m-65 1h1m31 1h1m36 0h1m-10 1h1m6 0h1m-2 1h1m2 0h1m-25 1h1m13 0h1m19 0h1m-71 1h1m59 0h1m-64 1h1m36 0h1m33 0h1m-77 1h1m19 0h1m11 0h1m5 0h1m-17 1h1m15 0h1m8 0h1m-16 2h1m17 0h1m14 0h2m-41 1h1m16 0h1m6 0h1m14 0h1m-41 1h1m9 0h1m15 0h1m14 0h1m16 0h1m-19 1h1m-55 1h1m2 0h1m2 0h1m3 0h1m35 1h1m13 0h1m-66 1h1m36 0h1m8 0h2m1 0h1m21 0h1m-58 1h1m22 0h1m-13 2h1m13 0h1m4 0h1m28 0h1m-74 1h1m2 0h1m8 0h1m46 0h1m13 0h1m-71 1h1m15 1h1m14 0h1m23 0h1m-61 1h1m16 0h1m16 0h1m16 0h1m-58 1h1m45 0h1m15 0h1m-57 1h1m16 0h1m35 0h1m1 0h1m21 0h1m-16 1h3m4 0h1m-76 1h1m5 0h1m28 0h1m9 0h1m30 0h1m-57 1h1m38 0h1m-46 1h1m17 0h1m12 0h1m30 0h1m-54 1h1m-19 1h1m72 0h1m-76 1h1m57 0h1m8 0h1m-68 1h1m3 0h1m29 0h1m-30 1h1m6 0h1m12 0h1m6 0h1m20 0h2m-3 1h1m9 0h1m1 0h1m-18 1h1m13 0h1m2 0h1m-59 1h1m44 0h1m-48 1h1m2 0h1m39 0h1m-46 1h1m41 1h1m-39 1h1m13 0h1m35 0h1m-60 1h1m61 0h1m9 0h1m-64 1h1m78 0h1m-76 1h1m7 0h1m12 0h1m18 0h1m17 0h1m-65 1h1m16 0h1m27 0h1m4 0h1m26 0h1m-24 1h1m-14 1h1m-45 1h1m6 0h1m9 0h1m58 0h2m-38 1h1m20 0h1m15 0h1m-69 1h1m36 0h1m30 0h1m-79 1h1m35 0h1m29 0h1m-41 1h1m-30 1h1m11 0h1m32 0h1m-37 1h1m37 0h1m2 0h1m4 0h1m26 0h1m3 0h1m-72 2h1m2 0h1m14 0h1m-6 1h1m19 0h1m9 0h1m8 0h1m7 0h2m11 0h1m-78 1h1m9 0h1m14 0h1m2 0h1m23 0h1m2 0h1m-2 1h1m3 0h1m-32 1h1m5 0h1m13 0h1m-40 1h1m39 0h1m1 0h1m-57 1h1m10 0h1m36 0h1m20 0h1m11 0h1m-63 1h1m14 0h1m-31 1h1m7 0h1m13 0h1m23 0h1m18 0h1m-71 1h1m12 0h1m36 0h1m-14 1h1m6 0h1m37 0h1m-83 1h1m1 0h1m36 0h1m37 0h1m-62 1h1m42 1h1m2 0h1m19 0h1m-85 1h1m13 0h1m4 0h1m17 0h1m35 0h1m10 1h1m-87 1h1m21 0h1m21 0h1m4 0h1m1 0h1m6 0h1m-46 1h1m11 0h1m-17 2h1m10 0h1m17 0h1m10 0h1m-21 1h1m13 0h1m2 0h1m14 0h1m-44 1h1m5 0h1m10 0h2m33 0h1m-51 1h1m47 0h1m17 0h1m-64 2h1m21 0h1m30 0h1m-70 1h1m9 0h1m20 0h1m2 1h1m23 0h1m-59 1h1m23 0h1m6 0h1m15 0h1m27 0h1m5 0h1m-72 1h1m2 0h1m-18 1h1m30 0h1m-30 1h1m18 0h1m62 0h1m-57 1h1m29 0h1m-14 1h1m18 0h1m15 0h1m-83 1h1m1 0h1m16 0h1m26 0h1m12 0h1m21 0h1m-75 1h1m16 0h1m31 0h1m-29 1h1m27 0h1m9 0h1m1 0h1m9 0h1m8 0h1m-8 1h2m-78 1h1m66 0h1m7 0h1m-29 1h1m11 0h1m-58 1h1m15 0h1m6 0h1m51 0h1m-61 1h1m37 1h1m18 0h1m8 0h1m-59 1h1m4 0h1m-14 1h1m17 0h1m-40 1h1m81 0h1m-58 1h1m-7 1h1m-19 1h1m16 0h1m51 0h1m-23 1h1m6 0h1m-30 1h1m-11 1h1m45 1h1m17 0h1m-76 1h1m-5 1h1m-2 2h1m86 0h1m-74 1h1m16 0h1m31 0h1m-47 1h1m15 0h1m7 0h1m1 0h1m15 0h2m-62 1h1m37 0h1m4 0h1m-44 1h1m8 0h1m39 0h1m22 0h1m-71 1h1m55 0h1"/>
<path stroke="#97fe8e" d="M72 0h1m2 0h1m-64 1h1m33 0h1m9 0h1m3 0h1m21 0h1m-71 1h1m5 0h1m59 0h1m2 0h1m-81 1h1m65 0h1m19 0h1m-80 1h1m-5 1h1m18 0h1m48 0h1m16 0h1m-66 1h1m23 0h1m27 0h1m6 0h1m-65 1h1m32 0h1m28 0h1m-34 1h1m24 0h1m1 0h1m-75 1h1m49 0h1m23 0h1m6 1h1m-83 1h1m31 0h1m14 0h1m1 0h1m5 0h1m-19 1h1m34 0h1m1 0h1m-63 1h1m3 0h1m8 0h1m28 0h1m15 0h1m-37 1h1m16 0h1m12 0h1m13 0h1m-48 1h1m6 0h1m-12 1h1m27 0h1m24 0h1m-57 1h1m17 0h1m5 0h1m7 0h1m10 0h1m8 0h1m10 0h1m-8 1h1m-9 1h1m2 0h1m-42 1h1m7 0h1m25 0h1m8 0h1m-4 1h1m-55 1h1m12 0h1m26 0h1m-25 1h1m3 0h1m2 0h1m5 0h3m11 0h1m20 0h1m-66 1h1m37 0h1m2 0h1m4 0h1m3 0h1m5 0h1m5 0h1m4 2h1m-17 1h1m-66 1h1m20 0h1m49 1h1m-65 1h1m19 0h1m47 0h1m-74 1h1m3 0h1m38 0h1m27 0h1m7 0h1m-68 1h1m20 0h1m11 0h1m10 0h1m-47 1h1m7 0h1m3 0h1m27 0h2m30 0h1m-60 1h1m40 0h1m-64 1h1m48 0h1m10 0h1m2 0h1m-40 1h1m22 0h1m-15 1h1m5 0h1m10 0h1m-37 1h1m16 0h1m9 0h1m30 0h2m-64 1h1m8 0h1m6 0h1m4 0h1m-17 1h1m-23 2h1m40 0h1m5 0h1m-49 1h1m5 0h1m21 0h1m2 0h1m1 0h1m31 0h1m11 0h1m-38 1h1m6 0h1m10 0h1m-53 1h1m7 0h1m35 0h1m-3 1h1m5 0h1m-27 1h1m14 0h1m26 0h1m10 0h1m4 0h1m-82 1h1m9 0h1m52 0h1m-60 1h1m2 0h1m1 0h1m46 0h1m4 0h1m-20 1h1m-45 1h1m45 0h1m2 0h1m-16 1h1m36 0h1m-30 1h2m30 0h1m-65 1h1m60 0h1m-58 1h1m3 0h1m56 0h1m-38 1h1m-41 1h1m9 1h1m10 0h1m45 0h1m-44 1h1m12 0h1m28 0h1m-33 1h1m17 0h1m5 0h1m-47 1h1m43 0h1m11 0h1m14 0h1m2 0h1m-70 1h1m1 0h1m30 0h1m7 0h1m18 0h1m-56 1h1m22 0h1m0 1h1m15 1h1m-56 1h1m2 0h1m14 0h1m15 0h1m8 0h1m29 0h1m-79 1h1m78 0h1m-10 1h1m11 0h1m-68 1h1m28 0h1m-32 1h1m12 0h1m20 0h1m-29 1h1m6 0h1m37 0h1m8 0h1m-24 1h1m-54 1h1m23 0h1m46 0h1m8 0h1m-78 1h1m15 0h1m6 0h1m25 0h1m-3 1h1m-35 1h1m6 0h1m38 0h1m-52 1h1m19 0h1m-23 1h1m6 0h1m32 0h1m21 0h1m2 0h1m-55 1h1m64 0h1m-73 1h1m7 0h1m56 0h1m3 0h1m-69 1h1m-6 1h1m10 0h1m-21 1h1m14 0h1m39 0h1m-52 1h1m1 0h1m1 0h1m6 0h1m6 0h1m10 0h1m17 0h1m-51 1h1m71 0h1m-17 1h1m-45 1h1m49 0h1m2 0h1m1 0h1m-8 1h1m1 0h1m-40 1h1m25 0h1m32 0h1m-84 1h1m8 0h1m30 0h1m15 0h1m15 0h1m3 0h1m-61 1h1m12 0h1m18 0h1m12 0h2m-57 1h1m38 0h1m6 0h1m-48 1h1m1 0h1m70 0h1m-79 1h1m30 0h1m38 0h1m-56 1h1m33 0h1m-32 1h1m20 0h1m7 0h1m25 0h1m14 0h1m-2 1h1m-81 1h1m12 0h1m5 0h1m59 0h1m-74 1h1m11 0h2m21 0h1m1 1h2m29 0h1m-25 1h1m20 0h1m-56 1h2m29 0h2m23 0h1m-72 1h1m8 0h1m9 0h1m17 0h1m27 0h1m-28 1h1m37 0h1m1 0h1m-85 2h1m4 0h1m6 0h1m1 0h1m12 0h1m7 0h1m39 0h1m3 0h1m-41 1h1m19 0h1m7 0h1m-24 1h1m1 0h1m15 0h1m11 0h2m10 0h1m-84 1h1m3 0h1m18 0h1m15 0h1m2 0h1m23 0h1m-54 1h1m12 0h1m20 0h1m24 0h1m4 0h1m-50 1h1m10 0h1m6 0h1m19 0h1m-61 1h1m29 0h1m4 0h1m23 0h1m-60 1h1m7 0h1m15 1h1m29 0h1m-20 1h1m22 0h1m11 1h1m-81 1h1m19 0h1m3 0h1m35 0h2m1 0h1m24 0h1m-59 1h1m9 0h1m12 0h1m-30 1h2m41 0h1m2 0h1m17 0h1m-79 1h1m13 1h1m14 0h1m6 0h1m8 0h1m-41 1h1m4 0h1m48 0h1m5 0h1m4 0h2m-42 1h1m16 0h1m25 0h1m-64 2h1m51 0h1m-66 1h1m6 0h1m2 0h1m11 0h1"/>
<path stroke="#a5fe9d" d="M2 0h1m37 1h1m5 1h1m-44 1h1m27 0h1m24 0h1m32 0h1m-79 1h1m35 0h1m-32 2h1m22 3h2m43 0h1m-34 1h1m-30 1h1m48 0h1m-60 1h1m10 0h1m30 0h1m2 0h1m-56 1h1m33 0h1m24 0h1m13 1h1m-57 1h1m31 0h1m-49 1h1m22 0h1m24 0h1m17 0h1m-59 1h1m9 0h1m10 0h1m31 0h1m5 0h1m4 0h1m-17 1h1m19 0h1m-68 1h1m12 1h1m9 0h1m7 0h1m43 0h1m-79 1h1m6 0h1m4 0h1m1 1h1m33 0h1m7 0h1m17 0h1m1 1h1m-56 1h1m-19 1h2m7 1h1m2 0h1m9 0h1m38 0h1m-38 1h1m25 0h1m23 0h1m-78 1h1m23 0h1m37 0h2m2 0h1m5 0h1m-55 1h1m26 0h1m34 0h1m-53 1h1m9 0h1m25 1h1m13 0h1m-43 1h1m9 0h1m10 0h1m-54 1h1m36 1h1m16 0h1m-59 1h1m2 0h1m28 0h1m25 0h1m1 0h1m-64 1h1m2 0h1m11 0h2m24 0h1m27 1h1m-68 1h1m15 0h1m15 0h1m34 0h1m-70 1h1m16 0h1m-7 1h1m42 0h1m23 0h1m-80 1h1m12 0h1m56 0h1m-72 1h1m52 0h2m-12 1h1m15 0h1m-25 1h1m4 0h1m18 0h1m15 0h1m-63 1h1m49 1h1m-59 1h1m28 0h1m-36 1h1m39 0h2m42 0h1m-81 1h1m42 0h1m19 0h1m-45 1h1m23 0h1m-28 1h1m18 0h1m21 0h1m7 0h1m-45 1h1m5 0h1m8 0h1m39 0h1m3 0h1m-78 1h1m50 0h1m-16 1h1m20 0h1m-68 1h1m17 0h1m12 0h1m14 0h1m13 0h1m22 0h1m-76 2h1m55 0h1m18 0h1m-69 1h1m19 0h1m5 1h1m35 0h1m-5 1h1m1 0h1m-20 1h1m19 0h2m8 0h1m-80 1h1m75 0h1m-81 1h1m27 0h2m8 0h1m26 0h1m-36 1h1m36 0h1m-53 1h1m33 0h1m6 0h1m-41 1h1m40 0h1m-11 1h1m-30 1h1m25 0h1m3 0h1m-18 1h1m51 0h1m-1 1h1m-76 1h1m12 0h1m10 0h1m8 0h1m19 0h1m19 0h1m-83 1h1m51 0h1m16 0h1m11 0h1m-21 1h1m8 0h1m6 0h1m9 0h1m-82 1h1m35 0h1m-8 1h1m20 0h1m-51 2h1m15 0h1m51 0h1m-65 1h1m23 0h1m48 0h1m-72 1h1m16 0h1m12 0h1m-7 1h1m4 0h1m-24 1h1m4 0h1m49 0h1m-52 1h1m9 0h1m7 0h1m17 1h1m3 0h2m1 0h1m16 0h1m-27 1h1m-41 1h1m18 0h1m40 0h1m4 0h1m-56 1h1m12 0h1m6 0h1m-24 1h1m55 0h1m2 0h1m-52 1h1m-24 1h1m43 0h1m1 0h1m10 0h1m12 0h1m-32 1h1m-37 1h1m12 0h1m8 1h1m-14 1h1m14 0h1m12 0h1m-18 1h2m44 0h1m-52 1h2m8 1h1m15 0h1m-54 1h1m9 0h1m6 0h1m16 0h1m25 0h1m-29 1h1m30 0h1m19 0h1m-84 1h1m1 0h1m3 0h1m14 0h1m31 0h1m20 0h1m-52 1h1m37 0h2m15 0h1m-60 1h1m-18 1h1m55 0h1m10 1h1m8 0h1m-55 1h1m26 0h1m36 0h1m-67 1h1m53 0h1m3 0h1m-35 1h1m27 0h1m-74 1h1m35 0h1m21 0h1m-32 1h1m15 0h1m14 0h1m-51 2h1m-10 1h1m39 0h1m43 0h1m-30 1h1m-5 1h1m-51 1h1m12 1h1m7 0h1m56 0h1m-12 1h1m-1 1h1m11 0h1m-61 1h1m17 0h1m10 0h1m19 1h1m-55 1h1m7 0h1m56 0h1m-77 1h1m5 0h1m46 0h1m11 0h1m-23 1h1m37 0h1m-64 1h1m12 0h2m29 0h1m12 0h1m-69 1h1m1 0h2m49 0h1m-58 1h1m2 0h1m64 0h1m-70 1h1m-2 1h1m9 0h1m47 0h1"/>
<path stroke="#b3feac" d="M25 0h1m42 0h1m-32 2h1m14 0h1m5 0h1m4 0h1m9 0h1m-12 1h1m-3 1h1m-55 1h1m47 0h1m-51 2h2m31 0h1m-20 1h1m4 0h1m29 0h1m1 0h1m-39 1h1m15 0h1m24 0h1m12 0h1m-57 1h1m33 0h1m0 1h1m-49 1h1m70 0h1m-59 1h1m32 0h1m-42 1h1m33 0h1m-28 1h1m39 0h1m9 0h1m24 0h1m-42 1h1m15 0h1m-61 1h1m1 0h1m20 0h1m34 0h1m-44 1h1m47 0h1m-51 1h1m36 0h1m4 0h1m9 0h1m-61 1h1m5 0h1m40 0h1m8 0h1m-63 1h1m35 0h1m32 0h1m13 0h1m1 0h1m-78 1h1m31 0h1m16 1h1m10 0h1m-64 1h1m8 0h1m27 0h1m36 0h1m-77 1h1m4 0h1m42 1h1m-13 1h1m14 0h1m21 0h1m-73 1h1m2 0h1m14 0h1m17 0h1m3 0h1m-44 1h1m83 0h1m-83 2h1m20 0h1m-5 1h1m48 0h1m3 0h1m-73 2h1m3 0h1m-2 1h1m30 0h1m14 0h1m-52 1h1m13 1h1m18 0h1m30 0h1m-58 1h1m14 1h1m46 0h1m-65 1h1m21 0h1m23 0h1m16 0h1m-49 1h1m18 0h1m30 0h1m-70 1h1m12 1h2m61 0h1m-67 1h1m23 0h1m11 0h1m18 0h1m13 0h1m-7 1h1m-48 1h1m42 0h1m-66 1h1m10 0h1m2 0h1m7 0h1m6 0h1m17 0h1m22 0h1m-19 1h1m-60 2h1m65 0h1m-53 1h1m16 0h1m1 0h1m41 0h1m-36 1h1m48 0h1m-83 2h1m6 0h1m13 1h1m39 0h1m2 0h1m16 0h1m-69 1h1m6 0h1m-13 1h1m54 0h1m-62 1h1m4 0h1m37 0h1m9 0h1m-15 1h1m2 0h1m3 0h1m-25 1h1m19 0h1m15 0h1m-46 1h1m43 0h1m-31 1h1m4 0h1m18 0h1m6 0h1m18 0h1m-22 1h2m22 0h1m-88 1h1m23 0h1m1 0h1m49 0h1m-79 1h1m3 0h1m37 0h1m2 0h1m-10 1h1m8 1h1m30 0h1m4 0h1m7 0h1m-83 2h1m41 0h1m-43 1h1m4 0h1m6 0h1m20 0h1m4 0h1m18 0h1m12 0h1m-75 1h1m21 0h1m26 0h1m9 0h2m1 0h1m2 0h1m-55 1h1m24 0h1m-38 1h1m24 0h1m28 0h1m-15 1h1m6 0h1m21 0h1m7 0h1m3 0h1m-61 1h1m23 0h1m25 0h1m-65 1h2m54 0h1m9 0h1m-56 1h1m27 0h1m-16 1h1m14 0h1m1 0h1m15 0h1m5 0h1m-21 1h1m12 0h2m-43 1h1m-10 1h1m16 0h1m34 0h1m-27 1h1m19 0h1m8 0h1m3 0h1m-49 1h1m26 0h1m26 0h1m-64 1h1m31 0h1m23 0h1m9 0h2m-49 1h1m47 0h1m-78 1h1m1 0h1m58 0h1m13 0h1m-62 1h1m7 0h1m30 0h1m13 0h1m-23 1h1m11 0h1m11 0h1m8 0h1m-86 1h1m5 0h1m64 0h1m-64 1h1m33 0h1m9 0h1m18 0h1m-13 1h1m11 0h1m-71 1h1m2 0h1m32 0h1m17 0h1m20 0h1m-51 1h1m49 0h1m12 0h1m-32 1h1m1 0h1m27 0h1m-82 1h1m6 0h1m-1 1h1m27 0h1m-40 1h1m23 0h1m18 0h1m10 0h1m12 0h1m-52 1h1m59 0h1m-30 1h1m5 0h1m21 0h2m9 0h1m-63 2h1m15 0h1m43 0h1m-37 1h1m-46 1h1m-7 1h1m38 0h2m13 0h1m-24 1h1m36 0h1m14 0h1m4 0h1m-59 1h1m11 0h1m21 0h1m-11 1h1m25 0h1m-44 1h1m45 0h1m-62 1h1m10 0h1m-29 1h1m2 0h1m25 0h1m46 0h1m-58 1h1m-10 1h1m16 0h1m-30 1h1m47 0h1m10 0h1m-54 1h1m44 0h1m7 0h1m13 0h1m8 0h1m-83 1h1m51 0h1m12 0h1m-62 1h1m11 0h1m16 0h1m22 0h1m22 0h1m-30 1h1m-47 1h1m27 0h1m22 0h1m-45 1h1m12 0h1m16 0h1m-39 1h1m45 0h1m1 0h1m13 0h1m20 0h1m-72 1h1m30 0h1m1 2h1m0 1h2m7 1h1m21 1h1m-80 1h1m83 0h1"/>
<path stroke="#c1febb" d="M30 0h1m3 0h1m35 0h1m-69 1h1m46 0h1m2 0h1m8 0h1m-15 1h1m19 0h1m-35 1h1m34 1h1m1 0h1m1 0h1m-52 1h1m4 0h1m34 0h1m-49 1h1m41 0h1m-44 1h1m34 0h1m31 0h1m-23 1h1m10 1h1m-41 1h1m40 0h1m17 0h1m-67 1h1m36 0h1m3 0h1m17 0h1m-48 1h1m16 0h1m12 0h1m-41 2h3m6 0h1m6 0h1m6 0h1m9 0h1m12 0h2m16 0h1m-77 1h1m11 0h1m-22 1h1m1 0h1m13 0h1m14 0h1m26 0h1m-24 1h1m-38 1h1m44 1h1m4 1h1m-37 1h1m64 0h1m-79 1h1m68 0h1m-49 1h1m41 0h2m10 0h1m-54 1h1m46 1h1m-48 1h1m17 0h1m6 0h1m16 0h1m9 0h1m6 0h1m-14 1h1m1 0h1m-52 1h2m6 0h1m23 0h1m3 0h2m16 0h1m2 0h1m6 0h1m4 0h1m-56 1h1m7 0h1m-2 1h1m-38 1h1m13 0h1m47 0h1m7 1h1m-36 1h1m11 0h1m7 0h1m17 0h2m-67 1h1m35 0h1m-21 1h1m17 0h1m-44 1h1m15 0h1m16 0h1m33 0h1m10 0h1m5 1h1m-37 1h1m-37 1h1m35 0h1m-49 1h1m1 0h1m2 0h1m40 0h1m18 0h1m17 0h1m-83 1h1m57 0h1m7 0h1m-71 1h1m21 0h1m15 0h1m1 0h1m32 0h2m-51 1h1m5 0h1m35 0h1m13 0h1m-76 1h1m59 0h1m10 0h2m8 0h1m-77 1h1m20 0h1m8 0h1m-6 1h1m-31 1h1m8 0h1m33 0h1m-4 2h1m6 0h1m-44 1h1m47 0h1m-46 1h1m24 0h1m32 0h1m7 0h1m4 0h1m-78 1h1m16 0h1m11 0h1m5 0h1m14 1h1m15 0h1m-73 1h1m16 0h1m6 0h1m1 0h1m7 0h1m20 0h1m5 2h1m-60 1h1m31 1h1m48 0h1m-82 1h1m21 0h1m6 0h1m21 0h1m21 0h1m3 2h1m-64 1h2m-11 1h1m9 0h1m1 0h1m33 0h1m4 0h1m8 0h1m10 0h1m-56 1h2m23 0h1m28 0h1m6 0h3m-71 1h1m54 0h1m-41 1h1m11 0h1m-16 1h1m34 0h2m-57 1h1m29 0h1m16 0h1m5 0h1m3 0h1m-25 1h1m17 0h1m19 0h1m-65 1h1m44 0h1m-50 2h1m6 0h1m32 0h1m13 0h1m19 0h1m-65 1h1m3 0h1m24 0h1m10 0h1m15 0h1m-37 1h1m11 0h1m-23 1h1m8 0h1m43 0h1m-67 2h1m16 0h1m2 0h1m41 0h1m-81 1h1m3 0h1m64 0h1m-38 2h1m11 0h1m5 0h1m1 0h1m13 0h1m-63 1h1m45 0h1m-30 1h1m30 0h1m3 0h1m9 0h1m5 0h1m5 0h1m-48 1h1m6 0h1m2 1h1m2 0h1m17 0h1m17 0h1m7 0h1m-14 1h1m-72 2h1m14 0h1m26 0h1m-47 1h1m20 0h1m17 0h1m9 0h1m17 0h1m21 0h1m-85 1h1m29 0h1m26 0h1m-56 1h1m18 0h1m-26 1h1m32 0h1m4 0h1m19 1h1m5 0h1m1 0h1m-62 1h1m6 0h1m16 0h1m5 0h1m43 0h1m-57 1h1m12 0h1m9 0h1m34 0h1m1 0h1m-65 1h1m64 0h1m-62 1h1m15 0h1m3 0h1m20 0h1m6 1h1m3 0h1m-41 1h1m16 0h1m3 0h1m13 0h1m-39 2h1m11 0h1m-31 1h1m10 1h1m46 0h1m-67 1h1m14 0h1m12 0h1m3 0h1m29 0h1m-60 1h1m27 0h1m37 0h1m-73 1h1m28 0h1m11 0h1m17 0h1m-55 1h1m-3 1h1m13 0h1m31 0h1m-7 1h1m33 0h1m-81 1h1m52 0h1m32 0h1m-66 1h1m39 0h1m23 0h1m-38 1h1m4 0h1m5 0h1m14 0h2m-64 1h1m2 0h1m13 0h1m-23 1h2m4 0h1m67 0h1m-27 1h1m-27 1h1m52 0h1m-80 1h1m33 1h1m18 0h1m14 0h1m-56 1h1m11 0h1m54 1h1m-72 1h1m17 0h1m1 0h1m28 0h1m-12 1h1m26 0h1m6 0h1m-84 2h1m43 0h1m-26 1h1m22 0h1m26 0h1m5 0h1m-43 1h1m49 0h1m-29 1h1m22 0h1m4 0h1m-24 1h1m9 0h1"/>
<path stroke="#cfffca" d="M15 0h1m27 0h1m41 0h1m-64 1h1m5 0h1m7 0h1m39 0h2m9 0h1m-85 1h1m9 0h1m30 0h1m10 0h1m30 0h1m-49 1h1m4 0h1m2 0h1m-46 1h1m7 0h1m72 0h1m-27 1h1m8 0h1m-66 1h1m60 0h1m20 0h1m-66 1h1m4 0h2m17 0h1m23 0h1m-44 1h1m3 0h1m54 0h1m-72 1h1m35 0h1m11 1h1m18 1h1m-72 1h1m15 0h1m12 0h2m-32 1h1m15 0h1m7 0h1m45 0h1m11 0h1m-85 1h1m6 0h1m28 1h1m26 0h1m-54 1h1m11 0h1m15 0h1m10 0h1m5 0h1m18 0h1m-77 1h1m79 0h1m-68 1h1m5 0h1m50 0h1m5 0h1m-57 1h1m6 0h2m40 0h1m-55 1h1m9 0h1m6 0h1m5 0h1m-34 1h1m68 0h1m-70 1h1m7 0h1m27 0h1m8 0h1m11 0h2m17 0h1m-59 1h1m37 0h1m-61 1h1m30 0h1m3 0h1m28 0h1m10 0h1m-68 2h1m19 0h1m48 0h1m-79 1h1m31 0h1m17 0h1m-14 1h1m-21 1h1m17 0h1m42 1h1m4 0h1m-48 1h1m32 0h1m-44 2h1m34 0h1m3 0h1m7 0h1m10 0h1m-40 1h1m27 0h1m-9 1h1m9 0h2m5 0h1m-76 1h1m11 0h1m21 0h1m3 0h1m16 1h1m21 1h1m-77 1h1m36 0h1m39 0h1m-85 1h1m58 0h1m-29 1h1m37 0h1m13 0h1m-78 1h1m6 0h1m20 0h1m44 0h1m-4 1h1m-78 1h1m14 0h1m54 0h1m13 0h1m-65 1h1m19 0h1m22 0h1m-47 1h1m59 0h1m5 0h1m-65 1h1m42 0h1m23 0h1m-4 1h1m-53 1h1m20 0h1m5 0h1m2 1h1m-42 1h1m12 0h1m4 0h1m-35 1h1m59 0h1m-54 1h1m2 0h1m49 0h1m-43 1h1m9 0h1m43 0h1m9 0h1m-24 1h1m-54 1h1m16 0h1m0 1h1m22 0h1m32 1h1m-80 1h1m13 0h1m8 0h1m-5 1h1m2 0h1m31 0h1m4 0h1m-48 1h1m7 0h1m3 0h1m-21 1h1m45 1h1m-26 1h1m8 0h1m21 0h2m11 0h1m-71 1h1m18 1h1m32 2h1m-16 1h1m32 0h1m8 0h1m-74 1h1m15 0h1m16 0h1m13 0h1m-57 1h1m15 0h1m28 1h1m-44 1h1m8 0h1m12 0h1m48 1h1m10 0h1m-46 1h1m44 0h1m-55 1h1m23 0h1m-38 1h1m-18 1h1m50 0h1m23 0h1m-74 1h1m3 0h1m10 0h1m2 0h1m64 0h1m-65 1h1m3 0h1m47 0h1m5 0h1m-56 1h1m8 0h1m27 0h1m-50 1h1m40 0h1m-13 1h1m3 0h1m-27 2h1m48 0h1m-26 1h1m5 0h1m-35 1h1m-14 1h1m39 0h2m-31 1h1m13 0h1m3 0h1m52 0h1m-63 1h1m-3 1h1m40 0h1m8 0h1m-61 1h1m-2 1h1m27 0h1m13 0h1m30 0h1m-56 1h1m14 0h1m16 0h1m8 1h1m-3 1h1m5 1h1m3 0h1m6 1h1m-27 1h1m7 0h1m-22 1h1m19 1h1m-56 1h1m17 0h1m3 2h1m37 0h2m-51 1h1m13 0h1m23 0h1m-39 1h1m-12 1h1m8 0h1m18 1h1m28 0h2m-21 1h1m11 0h1m-42 1h1m-10 1h1m-6 1h1m12 0h1m2 0h1m2 1h1m13 0h1m3 0h1m33 0h1m-73 1h1m8 0h1m4 1h1m15 0h1m7 0h1m30 0h1m-66 1h1m1 0h1m4 0h1m15 0h1m9 0h1m1 0h1m4 0h1m5 0h1m8 0h1m13 0h1m-57 1h1m29 0h1m-23 2h1m10 0h1m12 0h1m24 0h1m-66 1h1m2 0h1m8 0h1m36 0h1m2 0h1m-26 2h1m43 0h1m-33 1h1m24 0h1m-56 1h1m27 0h1m-14 1h1m-27 1h1m47 0h1m25 0h1m-87 1h1m27 0h1m10 0h1m27 0h1m10 0h1"/>
<path stroke="#dcffd9" d="M32 0h1m2 0h1m-11 1h1m53 0h1m-65 2h1m64 0h1m-48 1h1m15 0h1m24 0h1m-61 1h1m23 0h1m-1 1h1m21 0h1m6 1h1m14 0h1m3 0h1m-67 1h1m20 0h1m25 0h1m-67 2h1m19 0h1m45 0h1m3 0h1m17 0h1m-87 1h1m60 0h1m3 0h1m-62 2h1m23 0h1m6 0h1m20 0h1m8 0h1m-51 1h1m38 0h1m19 0h1m6 0h1m-73 1h1m4 0h1m56 0h1m4 0h1m-48 1h1m39 0h1m14 0h1m-70 1h1m12 0h1m-16 1h1m36 0h1m35 0h1m-85 1h1m14 0h1m23 0h1m38 0h1m-71 2h1m14 0h1m1 0h1m19 0h1m8 0h1m-26 1h1m50 0h1m-38 1h1m-43 1h1m40 0h1m4 0h1m23 0h1m-69 1h1m6 0h1m34 0h1m11 0h1m19 0h1m-79 1h1m9 0h1m48 0h1m-4 1h1m26 0h1m-86 1h1m10 0h1m42 1h1m7 0h1m-35 1h2m3 0h1m23 0h1m-50 1h1m16 1h1m10 0h1m7 0h1m11 0h1m20 0h1m-77 2h1m13 0h1m48 0h1m2 0h1m-65 1h1m26 0h1m56 0h1m-73 1h1m10 0h1m27 0h1m18 0h1m-68 1h1m37 0h1m-30 1h1m10 0h1m25 0h1m18 0h1m-67 1h1m57 0h1m2 0h1m5 0h1m-66 1h1m4 0h1m19 0h1m4 0h1m16 2h1m30 0h1m0 1h1m-43 1h1m-44 1h1m1 0h1m17 0h1m8 0h1m16 0h1m9 0h1m22 0h1m-72 1h1m35 0h1m41 0h1m-73 1h1m-10 1h1m5 0h1m17 0h1m4 0h1m22 0h1m11 1h1m-37 1h1m-37 1h1m19 0h1m5 0h2m38 0h1m-17 1h1m4 0h1m16 0h1m-62 1h1m27 0h1m18 0h1m30 0h1m-74 1h1m44 0h1m-52 1h1m15 0h1m34 0h1m13 0h1m-67 2h1m1 0h1m29 0h1m13 0h1m18 0h1m3 0h1m-71 1h1m44 0h1m-53 1h1m26 0h1m4 0h1m10 0h2m18 0h1m7 0h1m-13 2h1m13 0h1m-47 1h1m17 0h1m-12 1h1m19 0h1m21 0h1m4 0h1m-56 1h1m13 0h1m25 0h1m-53 1h1m24 0h1m29 0h1m-62 1h1m48 0h1m14 0h1m-36 1h1m-29 1h1m13 0h1m7 1h1m25 0h1m-46 1h1m40 0h2m27 0h1m-37 1h1m-48 1h1m21 0h1m26 0h1m-13 2h1m50 0h1m-80 1h1m5 0h1m20 0h1m-12 1h1m34 0h1m10 0h1m1 1h1m7 0h2m-26 2h1m-17 1h1m-4 1h1m-14 1h1m27 0h1m3 1h1m10 0h1m-38 1h1m31 0h1m-18 1h1m19 0h1m13 0h1m-57 2h1m45 0h1m-45 1h1m11 0h1m-37 1h1m78 0h1m2 0h1m-65 1h1m10 0h1m25 0h1m-33 1h1m10 0h1m21 0h1m7 0h1m-53 1h1m46 0h1m-54 1h1m6 0h1m9 0h1m21 0h1m4 0h1m19 0h1m4 0h1m-72 1h1m21 0h1m34 0h1m-45 1h1m23 0h1m37 0h1m-65 1h1m1 0h1m23 0h1m34 0h1m-51 1h1m32 1h1m27 0h1m-86 1h1m28 0h1m3 0h1m33 0h1m-25 1h1m24 0h1m-12 1h1m-54 1h1m3 0h1m8 0h1m43 0h1m-3 1h1m-40 2h1m25 0h1m36 0h1m-62 2h1m23 0h1m13 0h1m18 0h2m-71 1h2m15 0h1m10 0h1m13 0h1m6 0h1m20 0h1m-68 1h1m19 0h1m18 0h1m-40 1h1m20 0h1m36 0h2m-67 1h1m14 0h1m1 0h1m14 0h1m21 0h1m-64 1h1m29 0h1m6 0h1m-22 1h1m19 0h1m15 0h1m4 0h1m27 0h1m-62 1h1m3 0h1m50 0h1m2 0h1m-35 1h1m-42 1h1m17 0h1m7 0h1m22 0h1m14 0h1m-62 1h1m30 0h1m13 0h1m28 0h1m-58 1h1m23 0h1m2 0h1m1 0h1m7 0h1m-57 1h1m38 0h1m20 0h1m-52 1h1m30 0h1m25 0h1m-56 1h1m6 0h1m7 0h1m53 0h1m-13 1h2m-69 1h1m76 0h1m-83 1h1m-2 1h1m44 0h1m29 0h1m-75 1h1m14 0h1m-16 1h1m37 0h1m9 0h1m33 0h1"/>
<path stroke="#eaffe8" d="M9 0h1m1 0h1m25 0h1m-31 1h1m15 0h1m17 0h1m27 0h1m-10 1h1m1 0h1m-47 1h1m6 0h1m1 0h1m3 0h1m-7 1h1m2 0h1m40 0h1m-59 1h3m13 0h1m44 1h1m-14 1h1m18 0h1m-48 1h1m15 0h1m10 0h1m13 0h1m9 0h1m-78 1h1m34 0h1m38 0h1m-74 1h1m5 0h1m14 0h1m50 0h1m-48 1h1m-27 1h1m55 0h1m2 0h1m-63 1h1m23 0h1m47 0h1m-71 1h1m60 0h1m-15 1h1m27 0h1m-68 1h1m17 0h1m37 0h1m12 0h1m3 0h1m-59 1h1m20 0h1m12 0h1m17 0h1m-78 2h1m13 0h1m3 0h1m49 0h1m10 0h1m-79 1h1m11 0h1m15 0h1m-1 1h1m2 0h1m44 0h1m3 0h1m-60 1h1m44 0h1m-51 1h1m3 0h1m5 0h1m60 1h1m-42 1h1m3 0h1m8 0h1m19 0h1m-55 1h1m11 0h1m14 0h1m3 0h1m26 0h1m-77 1h1m-4 2h1m24 0h1m-9 1h1m3 0h1m22 0h1m12 0h1m-24 1h1m5 0h1m2 0h1m27 0h1m-49 1h1m6 0h1m48 0h1m-78 1h1m44 0h1m-26 1h1m6 0h1m15 1h1m5 0h1m2 0h1m-55 2h1m33 0h1m27 0h1m-49 1h1m2 1h1m3 0h1m49 0h1m1 0h1m-58 1h1m10 0h1m16 1h1m18 0h1m3 1h1m-65 1h1m9 0h1m19 0h1m29 0h1m-50 1h1m5 0h1m1 0h1m24 0h1m7 0h1m-35 1h1m-26 1h1m43 0h1m-46 1h1m31 0h1m38 0h1m-61 1h1m4 0h1m65 0h1m-45 1h1m39 0h1m-1 1h2m-27 1h1m15 0h1m9 0h1m-42 1h1m20 0h1m7 0h1m-4 1h1m-38 1h2m34 0h1m-61 1h1m49 0h1m19 0h1m-68 1h1m12 0h1m14 0h1m-10 1h1m20 0h1m22 0h1m1 0h1m17 0h1m-40 1h1m4 0h1m1 0h1m29 0h1m-79 2h1m3 0h1m6 0h1m68 0h1m-84 1h1m9 0h1m56 0h1m-59 1h1m41 0h1m4 0h1m-13 1h1m-42 1h1m-7 1h1m18 1h1m36 0h1m-56 1h1m65 0h1m1 0h1m-73 1h1m16 0h2m15 0h1m37 0h1m6 0h1m-24 1h1m26 0h1m-67 1h1m17 0h1m-30 1h1m18 1h1m-25 1h1m3 0h1m43 0h1m2 0h1m12 0h2m1 1h1m4 0h1m11 0h1m-66 1h1m21 0h1m22 0h1m1 0h1m-33 1h1m21 0h1m-22 1h1m24 1h1m17 0h2m-76 1h1m23 0h1m2 0h1m42 0h1m-72 1h1m7 0h1m5 0h2m9 0h1m31 0h1m-44 1h1m17 0h1m-36 1h3m31 0h1m32 0h1m8 0h1m-44 1h1m4 0h1m18 0h1m-13 1h1m32 0h1m-1 1h1m5 0h1m3 0h1m-68 1h1m10 0h1m-23 1h1m10 0h1m22 0h1m9 0h1m4 1h1m13 1h1m-70 1h1m11 0h1m2 1h1m44 0h1m20 0h1m-82 1h1m42 0h1m39 0h1m-77 1h1m18 0h1m2 0h1m27 0h1m8 0h1m7 0h1m7 0h1m-75 1h1m29 0h1m41 0h1m-62 1h1m37 0h1m14 0h2m8 0h1m-67 1h1m37 0h1m-31 1h1m4 0h1m12 0h1m12 0h1m2 0h1m4 0h1m-65 1h1m54 0h1m-22 1h1m-34 1h1m4 0h1m20 0h1m52 0h1m-36 1h1m-30 1h1m12 0h1m35 0h1m4 0h1m-20 1h1m6 0h1m9 0h1m-72 1h1m49 0h1m33 0h1m1 0h1m-75 1h1m34 0h1m13 0h1m-35 1h1m-23 1h1m8 0h1m16 0h2m-17 1h1m17 0h1m-24 1h1m13 0h1m23 0h1m17 0h1m-19 1h1m18 0h1m17 0h1m-82 1h1m15 0h1m5 0h1m11 0h1m27 0h1m3 0h1m-12 1h1m15 0h1m3 0h1m5 0h1m-78 1h1m24 0h1m6 0h1m33 0h1m7 0h1m2 0h1m-64 1h1m-12 1h1m11 0h1m45 0h1m3 0h1m-16 1h1m16 0h1m10 0h1m-80 1h1m27 0h1m2 0h1m14 0h1m4 0h1m21 0h1m-50 1h1m35 0h1m5 0h1m2 0h1m-44 1h1m25 0h1m5 0h1m13 0h1m-63 1h1m10 0h1m19 0h1m-45 1h2m31 0h1m-5 1h1m25 0h2m-56 1h1m23 1h1m17 0h1m6 0h1m-50 1h1m67 0h1m1 0h1m8 0h1m-6 1h1m-70 1h1m41 0h1m29 0h1"/>
<path stroke="#f8fff7" d="M3 1h1m44 0h1m10 0h1m10 0h1m9 0h1m-75 1h1m17 0h1m20 0h1m43 0h1m-77 1h1m23 0h1m20 0h1m18 0h1m-63 1h1m15 1h1m19 0h1m10 0h1m-44 1h1m65 0h1m-61 1h1m28 0h1m9 0h1m-51 1h1m-13 1h1m20 0h1m26 0h1m14 1h1m6 0h1m13 0h1m-76 1h1m-11 1h1m44 0h1m18 0h1m1 0h1m14 0h1m-50 1h1m22 0h1m-52 1h1m36 1h1m-13 2h1m16 0h1m-39 1h1m8 0h1m6 0h1m26 0h1m4 0h1m14 0h1m-70 1h1m26 0h1m3 0h1m-11 1h1m28 0h1m21 0h1m2 0h1m1 0h1m-57 1h1m15 0h1m15 0h1m30 0h1m-76 1h1m-12 1h1m28 0h1m11 0h1m18 0h1m-50 1h1m9 0h1m25 0h1m-39 1h1m16 0h1m25 0h1m25 0h1m5 0h1m-70 1h1m22 0h1m6 0h1m-47 1h1m1 0h1m16 0h1m32 0h1m-13 1h1m12 0h1m15 0h1m-41 1h1m32 0h1m7 0h1m-54 1h1m1 0h1m58 0h1m-49 1h1m34 0h1m8 0h1m-22 1h1m14 0h1m14 0h1m2 0h1m-73 1h1m15 0h2m10 0h1m39 0h1m-70 1h1m23 0h1m2 0h1m41 0h1m-39 2h1m4 0h1m1 1h1m9 0h1m-31 1h2m2 0h1m24 0h1m6 0h1m18 0h1m-43 1h1m-44 1h1m87 0h1m-14 1h1m-31 1h1m16 0h1m-22 1h1m7 0h1m0 1h1m21 0h1m-62 2h1m10 0h2m34 0h1m14 0h1m1 0h1m-68 2h1m8 0h1m35 0h1m-55 1h1m12 0h1m61 0h1m-31 1h1m31 0h1m-40 1h1m23 0h1m2 0h1m1 0h1m21 0h1m-83 1h1m41 0h1m8 0h1m23 0h1m-3 1h1m-79 1h1m-1 1h1m-3 2h1m4 1h1m18 0h1m46 0h1m6 0h1m-45 1h1m31 0h1m7 0h1m-69 1h1m14 0h1m49 0h1m-33 1h1m22 0h1m0 1h1m20 0h1m3 0h1m-27 1h1m-55 1h1m11 0h1m16 0h1m23 0h1m15 1h1m-71 1h1m38 0h1m20 0h1m8 0h1m2 0h1m-68 1h1m38 0h1m19 0h1m5 0h1m10 0h1m-75 1h1m63 0h1m-69 1h1m10 0h1m59 0h1m5 1h1m-87 1h1m35 0h1m19 0h1m16 0h1m4 0h1m5 0h1m-81 1h1m67 0h2m-60 1h1m12 0h1m19 0h1m33 0h1m-35 1h1m-36 1h1m3 0h1m37 0h1m5 0h1m6 0h1m-43 1h1m32 0h1m-59 1h1m45 0h1m30 0h1m-78 1h1m6 0h1m21 0h1m28 1h1m-38 1h1m13 0h1m-5 2h1m3 0h1m37 1h1m10 0h1m-71 2h1m27 0h1m43 0h1m-86 1h1m11 0h1m34 0h1m15 0h1m-39 1h1m36 0h1m23 0h1m-61 1h1m-25 1h1m80 0h1m-84 1h1m40 0h1m15 0h1m13 0h1m-6 1h1m-25 1h1m32 0h1m3 0h1m5 0h1m-87 1h1m49 0h1m4 0h1m3 0h1m21 0h1m5 0h1m-35 1h1m4 0h1m18 0h1m-16 1h1m3 0h1m-57 1h1m10 0h1m14 0h1m36 0h1m-32 1h1m4 1h1m3 0h1m13 0h1m11 0h1m-68 1h1m4 0h1m27 0h1m-20 1h1m49 0h1m-72 1h1m8 0h1m42 0h1m11 0h1m-44 1h1m35 0h1m-3 1h1m27 0h1m-53 1h1m8 0h1m12 0h1m5 0h1m15 0h1m-75 1h1m48 0h1m3 0h1m8 0h1m10 0h1m-73 1h1m14 0h1m65 0h1m-44 1h1m8 1h1m11 0h1m-23 1h1m11 0h1m18 0h1m-75 2h1m3 0h1m27 0h1m1 0h1m45 0h1m-78 1h1m21 0h1m36 0h1m11 0h1m8 0h1m-64 1h1m27 0h1m11 0h1m-8 1h1m-53 1h1m30 0h1m18 0h1m33 0h2m-37 1h1m35 0h1m-67 1h1m55 0h1m-11 1h1m-27 1h1m17 0h1m15 0h1m-32 1h1m16 0h2m20 0h1m-49 1h1m-23 1h1m2 0h1m39 0h1m11 0h1m-28 1h1m23 1h1m8 0h1m-60 1h1m5 0h1m31 0h1m-34 1h1m8 0h1m42 0h1m4 0h1m-60 1h1"/>
</g></g>
<use href="#ha"/>
</svg>
<svg x="879.0" y="37.7" width="645.4" height="429.4" viewBox="0 0 90 128" preserveAspectRatio="none">
<rect width="90" height="128" fill="#128607"/>
<g shape-rendering="crispEdges"><g id="hb" transform="translate(0 .5)" fill="none" stroke-width="1.02">
<path stroke="#010800" d="M14 0h1m56 0h1m4 0h1m-69 1h1m64 1h1m2 0h1m6 0h1m-22 1h1m8 0h1m-61 1h1m14 0h2m-5 2h2m38 0h1m3 0h1m1 0h1m3 0h1m-36 1h1m23 0h1m2 0h1m15 0h1m-10 1h1m11 0h1m-56 1h1m-7 1h1m-5 1h1m61 0h1m-67 1h1m34 0h1m11 1h1m7 0h1m17 0h1m-64 1h1m26 0h1m-37 1h1m19 0h1m7 0h1m27 0h1m3 0h1m-51 1h1m8 0h1m15 0h2m4 0h1m-56 1h1m50 0h1m8 0h1m3 0h1m-54 1h1m44 0h1m3 0h1m-24 2h1m3 0h1m9 0h1m2 0h1m3 0h1m4 0h1m10 0h1m10 0h1m-66 1h1m19 0h1m43 0h1m-55 1h1m9 0h1m39 1h1m-73 1h1m40 0h1m30 0h1m-78 1h1m3 0h1m21 0h1m14 0h1m16 0h1m2 0h1m-60 1h1m13 0h1m11 0h1m28 0h1m8 0h1m-16 1h1m16 1h1m2 0h1m-48 1h1m40 0h1m16 0h1m-74 1h1m1 0h1m51 0h1m-57 1h1m1 0h1m8 0h1m43 0h1m3 0h1m0 1h1m14 0h1m-61 1h1m27 0h1m31 0h2m-80 1h2m48 0h1m8 0h1m-65 1h1m1 0h1m29 0h1m17 0h1m-22 3h1m1 0h1m40 1h2m-11 2h1m-63 1h1m15 0h1m53 0h1m-41 1h1m5 0h1m-40 1h1m15 0h1m11 0h1m30 0h1m2 0h1m5 0h1m-70 1h1m7 0h1m8 0h1m13 0h1m32 0h1m-54 1h1m18 0h1m53 0h1m-46 1h1m6 0h1m19 0h1m16 0h1m-56 1h1m21 0h1m-11 1h1m17 0h1m14 0h1m13 0h1m-38 1h1m25 0h1m-43 1h1m44 0h1m-65 1h1m23 0h1m20 0h1m19 0h1m-40 1h1m8 0h1m25 0h1m4 0h1m-66 1h1m9 0h1m-6 1h1m16 0h1m18 0h1m7 0h1m9 0h1m-13 1h1m23 0h1m-65 1h1m-11 1h1m1 0h1m3 1h1m4 0h1m-14 1h1m33 0h1m37 0h1m-67 2h1m28 0h1m28 0h1m-36 1h1m11 0h1m6 0h1m-45 1h1m14 0h1m14 0h1m29 0h1m-47 1h1m-27 1h1m56 0h1m22 0h1m1 0h1m-66 1h1m18 0h1m9 0h1m31 0h1m-18 1h1m3 0h1m16 0h1m-33 1h2m-38 1h1m8 0h1m24 0h1m7 0h1m-60 1h1m28 0h1m4 0h1m47 0h1m-40 1h1m32 0h1m5 0h1m-62 1h1m24 0h1m27 0h1m-16 2h1m21 0h1m-48 1h1m6 0h1m3 0h1m5 0h1m16 0h1m-31 1h1m27 0h1m2 0h1m-50 1h1m-21 1h1m21 0h1m37 0h1m22 0h1m-55 1h1m27 1h1m-49 1h1m65 0h1m6 0h1m-74 1h1m67 0h1m8 0h1m-75 1h1m2 0h1m-16 1h1m21 0h1m12 0h1m38 0h1m-27 1h1m-44 1h1m36 0h1m18 0h1m-26 1h1m44 0h1m-50 1h1m19 0h1m17 0h1m5 0h1m-73 1h1m49 0h1m-29 1h1m16 0h1m4 0h1m-50 1h1m35 0h1m3 0h1m28 0h1m-54 1h1m2 0h1m40 0h1m10 0h1m9 0h1m-59 1h1m19 0h1m5 0h1m30 0h1m-72 1h1m19 1h1m16 0h1m-41 1h1m50 0h1m8 0h1m-60 1h1m29 0h1m27 0h1m8 0h1m14 0h1m-71 1h1m31 0h1m8 0h1m22 0h1m-79 1h1m18 1h1m10 0h1m22 0h1m27 0h1m-82 1h1m6 0h1m6 0h1m30 0h1m9 0h1m21 0h1m5 0h1m-72 1h1m10 0h1m16 0h1m34 0h1m-77 1h1m50 0h1m7 0h1m4 0h1m5 0h1m11 0h1m-84 1h1m61 0h1m13 0h1m-38 1h1m24 0h1m-39 1h1m25 0h1m30 0h1m-78 1h1m7 0h1m43 0h2m24 0h1m-72 2h1m25 0h1m-20 1h1m2 1h1m11 0h1m4 0h1m40 0h1m-73 1h1m8 0h1m41 0h1m-24 1h1m33 0h1m-4 1h1m-68 1h1m12 0h1m16 0h1m47 0h1m-80 1h1m25 0h1m23 0h1m-1 1h1m8 0h1m-37 1h1m12 0h1m14 0h1m34 0h1m-75 1h1m12 0h1m39 0h1m-57 1h1m14 0h1m15 0h1m-19 1h1m-22 1h1m3 0h1m38 0h1m-3 1h2m11 0h1m11 0h1m-1 1h1m-63 1h1m25 0h1m1 0h1m20 0h1m-36 1h2m18 0h1m13 0h1m13 0h1m13 0h1"/>
<path stroke="#031801" d="M3 0h1m9 0h1m3 0h1m20 0h1m-7 1h1m16 1h1m12 0h1m15 0h1m7 0h1m-84 1h1m29 0h1m21 0h1m12 0h1m-51 1h1m21 0h1m25 0h1m-22 1h1m1 0h1m8 0h1m-57 1h1m67 0h1m-64 1h1m10 0h1m37 0h1m-23 2h1m18 0h1m28 0h2m-62 1h1m57 1h1m6 0h1m-83 1h1m17 0h1m24 0h1m5 0h1m20 0h1m-53 1h1m5 1h1m1 0h1m11 0h1m27 0h1m-39 1h1m42 0h1m8 0h1m4 0h1m-15 1h1m-58 1h1m14 0h1m25 0h1m17 0h1m-77 1h1m38 0h1m19 0h1m28 0h1m-79 1h1m41 0h1m11 0h1m5 0h1m-68 1h1m77 0h1m4 0h1m-77 2h1m19 0h1m32 0h1m3 0h1m6 0h1m-61 1h1m1 0h1m19 1h1m20 1h1m-43 1h1m22 0h1m9 0h1m5 0h1m30 0h1m-74 1h1m38 0h1m6 0h1m-50 1h1m17 0h1m4 0h1m29 0h1m3 0h1m16 0h1m-66 1h1m32 0h1m32 0h1m-65 2h1m12 0h1m-14 1h1m29 0h1m23 0h1m-60 1h1m10 0h1m2 0h1m4 1h1m6 0h1m-24 1h1m24 0h1m1 0h1m7 0h1m31 0h1m-83 1h2m18 0h1m2 0h1m3 0h1m1 0h1m30 0h1m-14 1h1m5 0h1m-52 1h1m12 0h1m5 0h1m6 0h1m10 0h1m6 0h1m-35 1h1m8 0h1m6 0h1m23 0h1m-51 1h1m1 0h1m6 0h1m6 0h1m49 0h1m13 0h1m1 0h1m-71 1h1m22 0h1m1 1h1m2 0h1m-43 1h1m13 0h1m27 0h1m14 0h1m13 0h1m-48 1h1m27 0h1m19 1h1m-41 1h1m52 0h1m-79 2h1m6 0h1m70 0h1m-89 1h1m34 1h1m6 0h1m6 0h1m38 0h1m-53 1h1m20 0h1m13 0h1m15 0h1m-85 1h2m7 0h1m46 0h1m29 0h1m-74 1h1m55 0h1m-1 1h1m-66 1h1m34 0h1m41 0h1m-79 1h1m39 0h1m15 0h1m11 0h1m-66 1h1m15 0h1m27 0h1m9 0h1m-47 1h1m16 0h1m23 0h1m-46 1h1m4 1h1m30 0h1m1 0h1m-41 1h1m25 0h2m28 0h1m-62 2h1m45 0h1m-42 1h1m2 0h1m6 0h1m20 0h1m23 0h1m-45 1h1m39 0h1m11 0h1m-64 2h1m53 0h1m23 0h1m-73 1h1m26 0h1m18 0h1m-61 1h1m2 0h1m29 0h1m1 0h1m37 0h1m6 0h1m-70 1h1m43 0h1m-54 1h1m12 0h1m-16 1h1m1 0h1m28 0h1m34 0h1m19 0h1m-47 1h1m5 0h1m14 0h1m20 0h1m-82 1h1m22 1h1m-21 1h1m72 0h1m0 1h1m-44 1h1m5 0h1m29 0h1m-75 1h1m23 0h1m43 1h1m-6 1h1m24 0h1m-87 1h1m10 0h1m13 0h1m13 0h1m8 0h1m-48 1h1m15 0h1m10 0h1m14 0h1m4 0h1m33 0h1m-83 2h1m3 0h1m4 0h1m4 0h1m16 0h1m3 0h1m19 1h1m14 0h1m-45 1h1m50 0h1m7 0h1m-66 2h1m49 0h1m5 0h1m-72 1h1m19 0h1m18 0h1m-39 1h1m28 0h1m24 0h1m11 0h1m3 0h1m8 0h2m-70 1h1m10 0h1m35 0h1m9 1h1m-72 1h1m21 0h1m-17 1h1m11 0h1m32 1h1m1 0h1m8 0h1m17 0h1m-85 1h1m38 0h1m9 0h1m-17 1h1m28 0h1m-53 1h1m66 0h1m-73 1h1m55 0h1m1 0h1m-48 1h1m12 0h1m20 0h1m13 0h1m-46 1h1m17 0h1m23 0h1m-6 1h1m10 0h1m14 0h1m-73 1h1m20 0h1m39 0h1m10 0h1m-8 1h1m4 0h1m-75 1h1m4 1h1m43 0h1m-14 1h1m9 0h1m6 0h1m-38 1h1m1 0h1m1 0h1m27 0h1m12 0h1m13 0h1m-49 2h1m33 0h1m13 0h1m-9 1h1m3 0h1m-50 1h1m-24 1h1m42 0h1m2 0h1m-44 1h1m11 0h1m28 0h1m-46 1h1m5 0h1m39 0h1m19 0h1m1 0h1m-50 1h1m10 0h1m11 0h1m15 0h1m-40 1h1m45 0h1m4 0h1m-71 1h2m8 0h1m33 0h1m30 0h1m7 0h1m-46 1h1m19 0h1m11 0h1m-72 1h1m30 0h1m5 0h1m14 0h1m1 0h1m4 0h1m-22 1h1m13 0h1m27 0h1m-75 1h1m-3 1h1m8 0h1m17 0h1m-21 1h2m14 0h1m-12 1h1m7 0h1m12 0h1m39 0h1m3 0h1m-70 1h1m3 0h1"/>
<path stroke="#052802" d="M10 0h1m13 0h1m52 0h1m-78 1h1m43 2h1m8 0h1m16 0h1m-67 1h1m18 0h1m21 0h1m19 0h1m-62 1h3m58 0h1m5 0h1m-57 1h1m15 0h1m53 0h1m-60 1h1m41 0h1m-6 1h1m-64 1h1m5 0h1m1 0h1m2 0h1m15 0h1m3 0h1m17 0h1m3 0h1m9 0h1m6 0h1m-68 1h1m26 0h1m37 0h1m9 0h1m2 0h1m-78 2h1m53 0h1m11 0h1m-22 1h1m18 0h1m15 0h1m-62 1h1m8 0h1m26 0h1m6 0h2m-53 1h1m12 0h1m16 0h1m18 1h1m4 0h1m-62 1h1m16 0h1m38 0h1m12 0h1m-71 1h1m4 0h1m15 0h1m43 0h1m13 0h1m-80 1h1m30 0h1m1 0h1m48 0h1m-42 1h1m2 0h1m-34 1h1m2 0h1m5 0h1m28 0h1m1 0h1m-45 1h1m-15 1h1m9 0h1m12 0h1m25 0h1m10 0h1m-52 1h1m1 0h1m28 0h1m38 0h1m-65 1h1m25 0h1m-5 1h1m36 0h1m-42 1h1m-22 1h1m42 0h1m-43 1h1m41 0h1m16 0h1m-67 1h1m22 0h1m14 0h1m9 0h1m1 0h1m14 0h1m-12 1h1m5 0h1m-24 1h1m32 0h1m-64 1h2m45 0h1m12 0h1m15 0h1m-53 1h1m5 0h1m39 0h1m-74 1h1m10 0h1m66 0h1m-80 1h1m43 0h1m2 0h1m25 0h1m6 0h1m-67 1h1m45 0h1m-69 1h1m7 0h1m55 0h1m1 0h1m-57 1h1m-4 1h1m38 0h1m32 0h1m-78 1h1m68 0h1m-63 1h1m11 0h1m6 0h1m-28 1h1m18 0h1m19 1h1m2 0h3m3 0h1m-25 1h1m1 0h1m50 0h1m1 0h1m-80 1h1m68 0h1m8 0h1m-48 1h1m-4 1h1m22 0h1m-49 1h2m61 0h1m0 1h1m-68 1h1m7 0h1m2 0h1m15 1h1m15 0h1m18 0h1m-46 1h1m2 0h1m27 0h1m-47 1h1m8 0h1m19 0h1m27 0h1m27 0h1m-61 1h1m34 0h1m-36 1h1m24 0h1m-26 1h1m31 0h1m-62 1h1m56 0h1m24 0h1m-72 1h1m2 0h1m2 0h1m51 0h1m8 0h1m4 0h1m3 0h1m-86 1h1m3 1h1m0 1h1m25 0h1m1 0h1m14 0h1m-51 1h1m6 0h1m24 0h1m3 0h1m34 1h1m14 0h1m-71 1h1m-6 1h1m15 0h1m27 0h1m9 0h1m-40 2h1m-12 1h1m57 0h1m10 0h1m-17 1h1m-42 1h1m59 0h1m-52 1h1m29 0h1m20 0h1m-83 1h1m22 0h1m4 0h1m-16 1h1m26 0h1m5 0h1m35 0h1m0 1h1m-22 1h1m-17 1h1m-46 1h1m12 0h1m2 0h1m38 0h1m18 0h1m-44 1h1m22 0h1m-28 2h1m-29 1h1m17 0h1m18 0h1m-42 1h1m49 0h1m-21 1h1m8 0h1m48 0h1m-36 1h2m25 0h1m-53 1h1m18 0h1m10 0h1m-53 1h1m50 0h1m5 0h1m-38 1h1m4 0h1m30 0h1m-56 1h1m76 0h1m-41 1h1m7 0h1m7 0h1m5 0h1m-45 1h1m-22 1h1m4 0h1m10 0h1m45 0h1m8 0h1m-24 1h1m4 0h1m2 0h1m24 0h1m2 0h1m-43 1h1m2 0h1m-23 1h1m3 0h1m38 0h1m7 0h2m9 0h1m1 0h1m-84 1h1m32 0h1m40 0h1m-57 1h1m24 0h1m12 0h1m4 0h1m-9 1h1m2 0h1m8 0h1m10 0h1m-78 1h1m71 0h1m-74 1h1m13 0h1m14 0h1m12 0h1m1 0h1m2 0h1m23 0h2m-56 1h1m-22 1h1m40 0h1m16 0h1m13 0h1m8 0h1m-69 1h1m1 0h1m38 0h1m10 0h1m12 0h1m0 1h1m-54 1h1m6 0h1m7 0h1m7 0h1m17 0h1m-51 2h1m-17 1h1m8 0h1m61 0h1m11 0h1m-67 1h1m70 0h1m-87 3h1m5 0h1m45 0h1m-9 1h1m3 1h1m13 0h1m21 0h1m-56 1h1m36 0h1m-27 1h1m13 0h1m12 0h1m6 0h1m-69 1h1m2 0h1m26 0h1m-11 1h1m8 0h1m30 1h1m9 0h1m-76 1h1m1 0h1m79 0h1m-55 1h1m12 0h1m27 0h1m-34 1h1m19 0h1m4 0h1m13 0h1m-52 1h1m12 0h1m16 0h1m24 0h1m-62 1h1m13 1h1m35 0h1m-49 1h1m33 0h1m1 0h1m18 0h1m-61 1h1m43 0h1m8 0h1"/>
<path stroke="#073703" d="M51 0h1m-41 1h1m48 0h1m21 0h1m2 0h1m-72 1h1m37 0h1m27 0h1m-81 1h1m25 0h1m13 0h2m30 0h1m-68 1h1m10 0h1m35 0h1m-14 1h1m41 0h1m-72 1h1m27 0h1m36 0h1m-41 1h1m12 0h1m-32 1h1m-4 1h1m58 0h1m-62 1h1m3 0h1m19 0h1m2 0h1m3 0h1m13 0h1m9 0h1m2 0h1m16 1h1m-40 1h1m-43 1h1m8 0h1m45 2h1m22 0h1m4 0h1m-67 1h1m44 0h1m-68 1h1m8 0h1m31 0h1m46 1h1m-90 1h1m32 0h1m25 0h1m3 0h1m-56 1h1m1 0h1m11 0h1m13 0h1m10 0h1m6 0h1m13 0h1m6 1h1m7 0h1m-68 1h1m11 0h1m-7 1h1m29 0h1m2 0h1m2 0h1m14 0h1m-13 1h1m14 0h1m-69 1h1m4 0h1m2 0h1m1 0h1m23 0h1m46 0h1m-86 1h1m11 0h1m41 0h1m17 0h2m2 0h1m-81 1h1m2 0h1m19 1h1m45 0h1m14 0h1m-71 1h1m-12 1h1m44 0h1m23 0h1m13 0h1m-42 1h1m10 0h1m28 0h1m-58 1h1m3 0h1m19 0h1m-29 1h1m17 0h1m16 0h1m20 0h1m-1 1h1m4 0h1m-64 1h1m15 0h1m12 0h1m37 0h1m-6 1h1m3 0h1m-77 1h1m3 2h1m24 0h1m-3 1h1m-32 1h1m9 0h1m7 0h1m2 0h1m7 0h1m8 0h1m-38 1h1m51 0h1m-38 1h1m2 0h1m49 0h1m-61 1h1m14 0h1m14 0h2m-45 1h1m7 0h1m41 0h1m11 0h2m8 0h1m8 0h1m-80 1h2m33 0h1m10 0h1m-50 1h1m13 0h1m44 0h1m-47 1h1m18 0h1m39 0h1m-43 1h1m-15 1h1m4 0h1m58 0h1m-36 2h1m33 0h1m-65 1h1m30 0h1m-34 1h1m58 0h2m6 0h1m-82 1h1m3 0h1m2 0h1m18 0h1m3 0h1m7 0h1m34 0h1m-59 1h1m71 0h1m-82 1h1m19 0h1m11 0h1m35 0h1m-49 1h1m19 0h1m3 0h1m12 0h1m-40 1h1m18 0h1m13 0h1m-45 1h1m3 0h1m15 0h1m29 0h1m4 1h1m-35 1h1m11 0h1m-25 2h1m30 0h1m13 0h1m9 0h1m-62 1h1m37 0h1m28 0h1m-36 1h1m21 0h1m5 0h1m-66 1h1m6 0h1m51 0h1m-38 2h1m4 0h1m27 0h1m-25 1h1m-34 1h1m2 0h1m18 0h1m5 0h1m6 0h1m-4 1h1m37 0h1m-45 1h1m41 0h1m6 0h2m-74 1h1m25 0h1m17 0h1m7 0h1m3 0h1m-20 1h1m32 0h1m-82 1h1m45 0h1m13 0h1m-48 1h1m2 0h1m18 0h1m38 0h1m-71 1h1m43 0h1m11 0h1m-60 1h1m71 0h1m-22 1h1m23 0h1m-49 1h1m30 0h1m3 0h1m7 0h2m-31 1h1m3 0h1m15 0h1m-5 1h1m5 0h1m20 1h1m-20 1h1m8 0h1m-66 1h1m2 0h1m43 0h1m7 0h1m4 0h1m2 0h1m-77 1h1m15 0h1m-9 1h1m15 0h1m4 0h1m35 0h1m14 0h1m-33 1h1m30 0h1m-77 1h1m9 0h1m11 0h1m22 0h1m-43 1h1m40 0h1m19 1h1m-16 1h1m11 0h1m3 1h1m-51 1h1m12 0h1m-5 1h1m16 0h1m23 0h1m9 2h1m-69 2h1m48 0h1m22 0h1m-73 1h1m7 0h1m25 0h1m-29 1h1m22 0h1m43 0h1m-75 1h1m21 1h1m6 0h1m49 0h1m-54 1h1m21 0h1m3 0h1m-58 1h1m3 0h1m27 0h1m3 0h1m45 0h1m1 0h1m-57 1h1m30 0h1m6 0h1m8 0h1m1 0h1m-67 1h1m-9 1h2m10 0h1m16 0h1m40 0h1m6 0h1m-84 1h1m10 0h1m10 0h1m43 0h1m5 0h1m-41 1h1m32 0h1m2 0h1m-48 2h1m9 0h1m5 0h1m-17 1h1m2 0h1m15 1h1m33 0h1m-76 1h1m21 0h1m3 0h1m23 0h1m30 0h1m-75 1h1m47 0h2m-25 1h1m21 0h1m1 0h1m6 0h1m22 0h1m-30 1h1m-22 2h1m49 0h1m-56 1h1m2 0h1m35 0h1m-19 2h1m9 0h1m1 0h1m3 0h1m4 0h1m3 0h1m-19 1h1m-33 1h1m44 0h1m-15 1h1"/>
<path stroke="#0a4704" d="M15 0h1m52 0h1m-53 1h1m4 0h2m17 0h1m42 0h1m-82 1h2m51 0h1m-44 1h1m10 0h1m27 0h1m8 0h1m3 0h1m13 0h1m-60 1h1m18 0h2m28 0h1m-14 1h1m-54 1h1m32 0h1m47 0h1m-82 1h1m68 0h1m-40 1h1m10 0h1m17 0h1m3 0h1m-54 1h1m5 0h1m16 0h1m-12 1h1m13 0h1m6 1h1m8 0h1m10 0h1m3 0h1m1 0h1m-56 1h1m9 0h1m10 0h1m7 0h1m40 0h1m-75 2h1m7 0h1m14 0h1m1 0h1m-26 1h2m52 0h1m-43 1h1m18 0h1m29 0h1m-65 1h1m9 0h1m8 0h1m12 0h1m8 0h1m19 0h1m2 0h1m11 0h1m-57 1h1m16 0h1m5 0h1m-52 1h1m45 0h1m19 0h1m9 0h1m5 0h1m-83 1h1m23 0h1m1 0h1m29 0h1m-51 1h2m38 0h1m-2 1h1m14 0h2m-56 1h1m32 0h1m9 0h1m-24 1h1m28 0h1m-56 1h1m21 0h1m4 0h1m22 0h1m12 0h1m-41 1h1m20 0h1m5 0h1m31 0h1m3 0h1m-64 1h1m42 1h1m-37 1h1m17 0h1m-43 1h1m9 1h1m47 0h1m11 0h1m-21 1h1m8 1h1m-55 1h1m10 0h1m23 0h1m12 0h1m11 0h1m-61 1h1m28 0h1m-36 2h1m18 0h1m53 0h1m7 0h1m-82 1h1m15 0h1m3 1h1m42 0h1m-60 1h1m12 0h2m50 0h1m-31 1h1m25 0h1m-66 1h1m5 0h1m-8 1h1m36 0h1m25 0h1m15 0h1m-11 1h1m-59 1h1m28 0h1m-29 1h1m30 0h1m-49 1h1m10 0h1m18 0h1m4 0h1m6 0h1m-22 1h1m38 0h1m-60 1h1m19 0h2m29 0h1m7 1h1m24 0h1m-35 1h1m-32 1h1m32 0h1m-50 1h1m28 0h2m26 0h1m13 0h1m-68 1h1m15 0h1m0 1h1m4 0h1m14 0h1m-30 1h1m13 0h1m6 0h1m23 0h1m-8 1h1m16 0h1m-66 1h1m6 0h1m48 0h2m-50 2h1m-13 1h1m39 0h1m10 0h1m28 0h1m-83 1h1m52 0h1m-32 1h1m19 0h1m33 0h1m4 0h1m-62 1h1m4 0h1m26 0h1m4 0h1m19 0h1m-2 1h1m-51 2h1m3 0h2m2 0h1m27 0h1m11 0h1m-69 1h1m6 0h1m23 0h1m-1 1h1m33 0h1m6 0h1m-78 1h2m34 0h1m9 0h1m41 0h1m-70 1h1m30 0h1m-51 1h1m16 0h1m6 0h1m9 0h1m17 0h1m8 0h1m11 0h1m-73 2h1m7 0h1m21 0h1m10 0h1m3 0h1m1 0h1m22 0h1m3 0h1m-74 1h1m53 0h1m-46 1h1m34 0h1m3 0h1m-4 1h1m27 0h1m-73 1h1m13 0h1m56 0h1m5 0h1m-33 1h1m32 0h1m-80 1h1m80 0h1m-85 1h1m5 0h1m14 0h1m15 0h1m43 0h1m-81 1h1m17 0h1m13 0h1m30 0h1m23 0h1m-83 1h1m36 0h1m22 0h1m-34 1h1m14 0h1m21 0h1m-68 1h1m39 0h1m-40 1h1m27 0h1m4 0h1m36 1h1m-37 1h1m-39 1h1m1 0h1m34 0h1m31 1h1m14 0h1m-70 1h1m57 0h1m-69 1h1m15 0h1m41 0h1m6 0h2m17 2h1m-80 1h1m22 0h1m1 0h1m35 0h1m-59 1h1m34 0h1m10 0h1m3 0h1m20 0h1m-42 1h1m26 0h1m11 0h1m-81 1h1m2 0h1m15 0h1m10 0h1m-27 1h1m55 0h1m2 0h1m6 0h1m-1 1h1m9 1h1m-66 1h1m-18 1h1m6 0h1m25 0h1m40 0h1m1 0h1m5 0h1m-37 1h1m24 0h1m-67 2h1m5 0h1m18 0h1m13 0h1m25 0h1m-53 1h1m46 0h1m-63 1h1m35 0h1m1 0h1m27 0h1m3 0h1m14 0h1m-51 1h1m25 0h1m-62 1h1m25 0h1m24 0h1m7 0h1m5 0h1m3 0h1m-68 1h1m68 0h1m9 0h1m-23 1h1m1 0h1m5 1h1m2 0h1m-56 1h1m-13 1h2m2 0h1m26 0h1m8 0h1m18 1h1m-40 1h1m59 0h1m-65 1h1m25 0h1m16 0h1m-65 1h1m8 0h1m10 0h1m6 0h1m15 0h1m10 0h1m18 0h1m-38 1h2m45 1h1m-76 1h1m22 0h2m14 0h1m-37 1h1m4 0h1m36 0h1m1 0h1m-14 1h1m25 0h1m-25 1h1m-45 1h1m71 0h1m-26 1h1"/>
<path stroke="#0c5705" d="M8 0h1m56 0h1m6 0h1m-61 1h1m17 0h1m50 0h1m-78 1h1m2 1h1m57 0h1m19 0h1m-56 1h1m12 0h1m5 1h1m1 0h2m23 0h1m-13 1h1m-57 1h1m27 0h1m16 0h1m24 0h1m-50 1h1m7 0h1m2 0h1m-34 1h1m70 0h1m5 0h1m-24 1h1m-54 1h1m-1 1h1m18 0h2m47 0h1m-61 1h1m22 0h1m36 0h1m-34 1h1m40 0h2m-72 1h1m62 0h1m-78 1h1m12 0h1m52 0h1m3 0h1m6 0h1m-55 1h1m44 0h1m-55 1h1m7 0h1m18 0h1m14 0h1m-38 1h1m10 0h1m34 0h1m-57 1h1m10 0h1m20 0h1m-33 1h1m22 0h1m13 0h1m26 1h1m13 0h1m-81 2h1m26 0h1m45 0h1m-81 1h1m29 1h1m51 0h1m-78 1h1m7 0h1m23 0h1m5 0h1m16 0h1m25 0h1m1 0h1m-52 1h1m2 0h1m-2 1h1m14 0h1m4 0h1m1 0h1m20 0h1m-82 1h1m87 0h1m-20 1h1m9 0h1m3 0h1m-68 1h1m10 1h1m5 0h1m-22 1h1m31 0h1m4 0h1m-28 1h1m23 0h1m2 0h1m11 0h1m-47 1h1m-15 1h1m13 0h2m4 0h1m26 0h1m-43 1h1m47 0h1m-33 1h1m2 1h1m1 0h1m1 0h2m29 0h1m10 0h1m8 1h1m-23 1h1m6 1h1m13 0h1m5 0h1m-49 1h1m38 0h1m4 0h1m-52 1h1m23 0h1m-47 1h2m27 0h1m26 0h2m9 0h1m-22 1h1m-33 1h1m7 0h1m17 0h1m4 0h1m-51 1h1m22 0h1m0 1h1m37 0h1m-42 1h1m-20 1h1m67 0h1m-23 1h1m-4 1h1m16 0h1m-59 1h1m2 0h1m11 0h1m62 0h2m-77 1h1m66 0h1m5 0h1m-85 1h1m18 0h1m31 0h1m18 0h1m11 0h1m-61 1h1m9 0h1m9 1h1m9 0h1m8 0h1m-29 1h1m20 0h2m-13 1h1m10 0h1m9 0h1m-39 1h1m10 0h1m44 0h1m3 0h1m-84 1h1m7 0h1m33 0h1m15 0h1m-32 1h1m14 0h1m13 0h1m21 0h1m-82 1h1m11 0h1m12 0h1m14 0h1m11 0h1m-22 1h1m15 0h1m8 1h1m-56 1h1m7 0h1m49 0h1m21 0h2m-61 1h1m44 0h1m20 0h1m-20 2h1m-60 1h1m39 0h1m29 1h1m-66 1h2m17 0h1m40 0h1m-6 1h1m5 0h2m-63 1h1m18 0h1m4 0h1m13 0h1m5 0h1m-37 1h1m-1 1h1m12 0h1m17 0h1m4 0h1m4 0h1m-60 1h1m7 0h1m2 0h1m16 0h1m9 0h1m9 0h1m-19 1h1m26 0h1m24 0h1m-76 1h1m5 0h1m10 0h1m34 0h2m1 0h1m4 0h1m-25 1h1m9 1h1m-15 1h1m11 0h1m10 0h1m-44 1h1m57 0h1m2 0h1m-81 1h1m16 0h1m-14 1h1m9 0h1m34 0h1m18 0h1m7 0h1m4 0h1m2 0h1m-7 1h1m-41 1h1m7 0h1m9 0h1m4 1h1m1 1h1m-41 1h1m22 0h1m13 0h1m21 0h1m-31 1h1m16 0h1m-64 1h1m28 0h1m30 0h1m3 0h1m11 0h1m-75 1h1m16 0h1m53 0h1m-31 1h1m10 0h1m-28 1h1m2 0h1m42 0h1m-66 1h1m3 0h1m2 0h1m15 0h1m12 0h1m17 0h1m-70 1h1m34 0h1m24 0h1m5 0h1m2 0h2m-43 1h1m52 0h1m-84 1h1m31 0h1m2 0h1m22 0h1m19 0h1m-66 1h1m45 0h1m2 0h1m2 0h1m-45 1h1m16 0h1m15 0h1m-56 1h1m8 0h1m15 0h1m13 0h1m24 0h1m-20 1h1m19 0h1m19 0h1m-77 1h1m3 0h1m19 0h1m-30 1h1m28 0h1m19 0h1m5 0h1m-61 1h1m17 0h1m12 0h1m-31 1h1m3 0h1m36 0h1m20 0h1m5 0h1m-59 1h1m12 0h1m6 0h1m14 0h1m28 0h1m-65 1h1m25 0h1m-25 1h1m5 0h1m15 0h1m-29 1h1m1 0h1m6 0h1m50 0h1m11 0h1m-80 1h1m23 1h1m32 0h1m11 1h1m-52 1h1m38 0h1m-54 1h1m25 0h1m12 1h1m21 0h2m-65 1h2m6 0h1m23 0h1m35 0h1m16 0h1m-64 1h1m23 0h1m12 0h1m7 0h2m-26 1h1m27 0h1m-19 1h1m-1 1h1m-28 1h1m6 1h1m4 0h1m34 0h1m-66 1h1m33 0h1m17 0h1"/>
<path stroke="#0e6706" d="M4 0h1m39 0h1m2 0h1m18 0h1m-57 1h1m15 0h1m4 0h1m25 0h1m20 0h1m-59 3h1m12 0h1m7 0h1m-17 1h1m-22 1h1m60 0h1m-64 2h1m23 1h1m3 0h1m2 0h1m22 0h1m28 0h1m-58 1h1m12 0h1m2 0h1m-44 1h1m14 0h1m20 0h1m32 0h1m-71 1h1m73 0h1m-53 1h1m24 0h1m11 0h1m13 0h1m3 0h1m-48 1h1m26 0h1m25 0h1m-81 1h1m14 0h1m1 0h1m2 0h1m13 0h1m29 0h1m1 0h1m-54 1h1m1 0h1m10 0h1m25 0h2m15 0h1m-33 1h1m34 0h1m-34 1h2m4 0h1m31 0h1m-59 1h1m57 0h1m-53 1h1m26 0h1m3 0h1m1 0h1m-34 1h1m32 0h1m-23 1h1m19 0h1m4 0h1m-63 1h1m51 0h1m22 0h1m-29 1h1m10 0h1m9 0h1m18 0h1m-88 1h1m26 0h1m22 0h1m-50 1h1m49 0h1m13 0h1m13 0h1m-25 1h1m3 0h1m-13 1h1m21 0h1m6 0h1m-67 1h1m52 0h2m6 0h1m-63 1h1m8 0h1m21 0h1m22 0h1m-60 1h1m4 0h1m30 0h1m20 0h1m15 0h1m-55 1h1m49 0h1m2 0h1m-71 1h1m14 0h1m-4 1h1m17 0h1m17 0h1m32 0h1m-29 1h1m24 0h1m-63 1h1m23 0h1m9 0h1m3 0h1m-59 1h1m68 0h1m-58 1h1m12 0h1m-13 1h1m16 0h1m14 0h1m7 0h1m-44 2h1m50 0h1m7 0h1m14 0h1m-85 1h1m6 0h1m21 0h1m26 0h1m-12 1h1m28 0h1m-59 1h1m19 1h1m32 0h1m-40 1h1m42 0h1m-71 1h1m19 0h1m55 0h1m4 0h1m-86 1h1m23 2h1m24 0h1m-52 1h1m25 0h1m-20 1h1m61 0h1m-66 1h1m6 0h1m58 0h1m1 0h1m-11 1h1m13 0h1m10 0h1m-86 1h1m17 0h1m26 0h1m19 0h1m-61 1h1m4 0h1m41 0h1m-17 1h1m5 0h1m2 0h1m9 0h1m15 0h1m-64 1h1m7 0h1m16 0h1m1 0h1m28 0h1m18 0h2m-55 1h1m2 0h1m22 2h1m2 0h1m22 0h1m-69 1h1m23 0h1m-18 1h1m44 0h1m-64 1h1m41 0h1m28 1h1m-72 1h1m14 0h1m15 0h1m3 1h1m33 0h1m-48 1h1m9 0h1m-26 1h1m56 1h1m15 0h1m-85 1h1m23 0h1m38 0h1m16 0h1m-52 2h1m2 0h1m25 0h1m21 0h1m-52 1h1m51 0h1m-77 1h1m28 0h1m48 0h1m-22 1h2m-56 1h1m72 0h1m3 0h1m-58 1h2m17 0h1m26 0h1m6 0h1m-72 1h1m-6 1h1m14 1h1m31 1h1m-26 2h1m13 0h1m43 0h1m-85 2h1m0 1h1m27 0h1m23 0h1m28 0h1m-76 1h1m61 0h1m2 0h1m3 0h1m-56 2h1m10 0h1m38 0h1m2 0h1m-62 1h1m46 0h1m-54 1h1m31 0h1m6 0h1m-30 1h1m28 0h1m3 0h1m-34 2h1m17 0h1m9 0h1m4 0h1m13 0h1m-67 1h1m29 0h1m17 0h1m-41 1h1m36 0h1m6 0h1m29 0h1m1 0h1m-68 1h1m45 0h1m5 0h1m-68 1h1m29 0h1m3 0h1m33 0h1m14 0h1m-47 1h1m-29 1h1m42 0h2m5 0h1m11 0h1m-45 1h1m18 0h1m34 0h1m-48 1h1m29 0h1m21 0h1m-53 1h1m43 0h1m-76 1h1m9 0h1m2 0h1m10 0h1m5 0h1m32 0h1m-9 1h1m13 0h1m-71 2h1m34 0h1m8 1h1m38 0h1m-62 1h1m49 0h1m-46 1h1m20 0h1m16 0h1m8 0h1m5 0h1m-69 1h1m33 0h1m14 0h1m-65 1h1m33 2h1m15 0h2m7 0h1m25 0h1m-1 1h1m-43 1h1m36 0h1m-64 1h1m16 0h1m31 0h1m5 0h1m5 0h1m-62 1h1m43 0h1m4 0h1m13 0h1m3 0h1m-21 1h1m-58 1h1m16 0h1m6 0h1m26 0h1m24 0h1m-45 1h1m2 0h1m-42 1h1m18 0h1m54 0h1m-55 1h1m29 0h1m-14 1h1m6 0h1m1 0h1m-2 1h1m-3 1h1m10 0h1m23 0h1"/>
<path stroke="#107707" d="M46 0h1m9 0h1m-29 1h1m8 0h3m11 0h1m12 0h1m3 1h1m2 0h1m-41 1h1m2 0h1m7 0h1m4 0h1m15 0h1m3 1h1m-68 1h1m17 0h1m4 0h1m19 0h1m14 0h1m8 0h1m-43 1h1m54 0h1m-53 1h1m11 0h1m17 0h1m5 0h1m12 0h1m5 0h1m-60 1h1m45 0h1m5 0h1m10 0h1m0 1h1m-55 1h1m12 0h1m11 0h1m3 0h2m22 0h1m-84 1h1m24 0h1m36 0h1m1 0h1m14 0h1m-82 1h1m15 0h1m40 0h1m-19 1h1m31 1h1m-3 1h1m-51 2h1m12 0h1m17 0h1m19 0h1m1 0h1m7 0h1m-46 1h1m38 0h1m-69 1h1m57 0h1m5 0h1m15 0h1m-23 1h1m10 0h1m-66 1h1m10 0h1m19 0h1m10 0h1m25 0h1m1 0h1m-64 1h1m5 0h1m12 0h1m5 0h1m25 0h1m-60 1h1m14 0h2m3 0h1m40 0h1m12 0h1m-80 1h1m24 0h1m-21 1h1m2 0h1m52 0h1m17 0h1m-69 1h1m26 0h1m-13 1h1m1 0h1m3 0h1m-9 1h1m-29 1h1m8 0h1m20 0h1m14 0h1m29 0h1m-23 1h1m-12 1h1m-45 1h1m15 0h1m10 0h1m10 0h1m28 0h1m4 1h1m4 0h1m-14 1h1m16 0h1m-65 1h1m21 0h1m18 0h1m-32 1h1m10 0h1m15 0h2m3 0h1m8 0h1m6 0h1m-58 1h1m22 0h1m41 0h1m-58 1h1m5 0h1m-13 1h1m21 0h1m15 0h1m-40 1h1m16 0h1m15 0h1m-53 1h1m26 0h2m18 0h1m20 0h1m-66 1h1m40 0h1m12 0h1m10 0h2m1 0h1m-35 1h1m27 0h1m-37 1h1m-28 1h1m4 0h1m16 0h1m37 0h1m-39 1h1m21 0h1m-41 1h1m9 0h1m5 0h1m21 0h1m21 0h1m18 0h1m-79 2h1m22 0h1m45 0h1m1 1h1m-57 2h1m34 0h1m5 0h1m15 0h1m-18 1h1m17 0h1m8 0h1m-84 1h1m73 0h2m-82 2h1m3 0h1m7 0h1m56 1h1m13 0h1m-77 1h1m8 1h1m12 0h1m-19 1h1m9 0h1m38 0h1m12 0h1m-47 1h1m-20 1h1m29 0h1m1 0h1m8 0h1m16 0h1m18 0h1m-47 1h1m-32 1h1m45 0h1m-45 1h1m17 0h1m5 0h2m13 0h1m-45 1h1m30 0h1m45 0h1m-13 1h1m2 0h1m-59 1h1m26 0h1m34 0h1m-28 1h1m11 0h1m-46 1h1m12 0h1m-22 1h1m3 0h1m2 0h1m6 0h1m4 0h1m9 0h1m19 0h1m2 0h1m22 0h1m-65 1h1m9 0h2m4 1h1m-32 1h1m14 0h1m2 0h1m5 0h1m12 0h1m35 0h1m-60 1h1m30 0h1m28 0h1m1 0h1m-76 1h1m16 0h2m23 0h1m7 0h1m17 0h1m13 0h1m-76 1h1m6 0h1m57 0h1m-55 1h1m54 0h1m5 1h1m-47 1h1m14 0h1m0 1h1m27 0h1m-84 1h1m37 0h1m23 2h2m-39 1h1m27 0h1m17 0h2m-73 1h1m9 0h1m14 0h1m-24 1h1m44 0h1m2 0h1m29 0h1m-33 1h1m6 0h1m3 0h1m-55 1h1m17 0h1m31 0h1m19 0h1m8 0h1m-36 1h1m-18 1h1m13 0h1m3 0h1m21 0h1m4 0h1m-75 1h1m18 0h1m1 0h1m18 0h1m-42 1h1m25 0h1m3 0h1m-15 1h1m58 0h1m-37 1h1m17 0h1m-58 1h1m69 0h1m13 0h1m1 0h1m-74 1h1m14 0h1m2 0h1m-28 1h1m6 0h1m26 0h1m36 0h1m-68 1h1m73 0h1m-83 1h1m34 0h1m-16 1h1m4 0h1m41 0h1m17 0h1m-77 1h1m2 0h1m37 0h1m17 0h1m-20 1h1m-27 1h1m19 0h1m13 0h1m9 0h1m-46 1h1m7 0h1m14 0h1m14 0h1m24 0h1m-47 1h1m11 0h1m6 0h1m12 0h1m7 0h1m-62 1h1m12 0h1m11 0h1m20 0h1m-2 1h1m-19 1h1m3 0h1m20 0h1m-29 1h1m4 0h1m26 0h1m-74 1h1m31 0h1m19 0h1m-55 1h1m69 0h1m-41 1h1m-16 1h1m15 0h1m5 0h1m22 0h1m18 0h1m-63 1h1m3 0h1m8 0h1m-12 1h1m-20 1h1m8 0h1m21 0h1m9 0h1m-29 1h1m10 0h1m15 0h1m8 0h1m9 1h1m-52 1h1m78 0h1m-50 1h1m-29 1h1m16 0h1m38 0h1m-49 1h1m11 0h1m3 0h1m-24 1h1m8 0h1m-11 1h1m26 0h1m-29 1h1m5 0h1m5 0h1m-15 1h2m61 0h1"/>
<path stroke="#149608" d="M1 0h1m24 0h1m2 0h1m20 0h1m19 0h1m15 0h1m-35 1h1m5 0h1m4 0h1m23 0h1m-71 1h1m9 0h1m5 0h1m43 0h1m-60 1h1m27 0h1m34 0h1m6 0h1m-88 1h1m18 1h1m5 0h1m9 0h1m45 0h1m-63 1h1m21 0h1m28 0h1m6 0h1m-69 1h1m62 0h1m-55 1h1m2 0h1m31 0h1m20 0h1m-42 1h1m9 0h1m22 0h1m6 0h2m-76 1h1m47 0h1m-6 1h1m11 0h1m-34 1h1m41 0h2m-62 1h1m25 0h1m44 1h1m-29 1h1m-26 2h1m23 0h1m39 0h1m-71 1h1m13 0h1m18 0h1m-16 2h1m36 0h1m-53 1h1m31 0h1m-1 1h1m37 0h1m-82 1h1m9 0h1m24 0h1m34 0h1m-56 1h1m8 0h1m14 0h2m-22 1h1m22 0h1m22 0h1m1 0h1m7 0h1m-75 1h1m15 0h1m2 0h1m14 0h1m-29 1h1m25 0h1m17 0h1m15 0h1m-63 1h1m56 0h1m-28 1h1m25 0h1m8 0h1m-49 1h1m50 0h1m1 0h1m-53 1h1m2 0h1m-5 1h2m16 0h1m11 0h2m-58 1h1m5 0h1m43 0h1m-48 1h1m63 0h1m2 0h1m-60 1h1m4 0h1m11 0h1m-27 1h1m5 0h1m12 0h1m19 0h2m20 0h1m2 0h1m-66 1h1m28 0h1m22 0h2m6 0h1m17 1h1m-37 1h1m-48 1h1m19 1h1m31 0h1m-21 1h1m29 2h1m13 0h1m-67 1h1m23 0h1m2 0h1m13 1h1m-38 1h1m5 0h1m-20 1h1m48 0h1m33 0h1m-10 1h1m4 1h1m6 0h1m-76 1h1m15 0h1m-1 1h1m29 0h1m-21 1h1m2 0h1m16 1h1m10 0h1m-58 1h1m11 0h1m2 1h1m31 0h1m-19 1h1m24 0h1m-47 1h1m18 0h1m43 0h1m-56 1h1m1 0h1m57 0h1m0 1h1m-83 1h1m48 0h1m-35 1h1m29 0h1m5 0h1m1 0h1m2 1h1m7 0h1m-57 1h1m12 0h1m7 0h1m6 0h1m-38 1h1m60 0h1m-43 1h1m14 0h1m-5 1h1m-23 1h1m-1 1h1m50 1h2m5 0h1m-25 1h1m17 0h1m1 0h1m6 0h1m-22 1h1m-39 1h1m28 0h1m-2 1h1m7 0h1m-43 1h1m67 0h1m-38 1h1m31 0h1m-68 1h1m43 0h1m14 0h1m8 0h1m-75 1h1m25 0h1m2 0h1m55 0h1m-83 1h1m17 0h1m18 0h1m28 0h1m-45 1h1m16 0h1m14 0h2m4 0h1m9 0h1m-44 1h1m48 0h1m-60 1h1m34 1h1m20 0h1m8 0h1m-63 1h3m1 0h1m18 0h1m14 1h1m8 1h1m15 0h1m-67 1h1m20 0h1m18 0h1m3 1h1m-50 1h1m16 0h1m41 0h1m-74 1h1m2 0h1m5 0h1m4 0h1m27 0h1m14 0h1m6 0h1m-41 1h1m27 0h1m3 0h1m7 0h1m-14 1h1m28 0h1m-72 1h1m4 1h1m23 0h1m33 0h1m11 0h1m-62 2h1m46 0h1m-70 1h2m68 0h1m-35 1h1m15 0h1m20 1h1m3 0h1m7 0h1m-36 1h1m-19 2h1m31 1h1m-65 1h1m20 0h1m10 0h2m24 0h2m15 0h1m-71 1h1m16 1h1m4 0h1m17 0h2m-40 1h1m21 0h1m5 2h1m6 0h1m29 0h1m-66 1h1m50 0h1m-10 1h1m-46 1h1m79 0h1m-81 1h1m29 0h1m-34 1h1m13 0h1m28 0h1m-47 1h1m58 0h1m-36 1h1m28 0h2m29 1h1m-51 1h1m9 0h1m39 0h1m-63 1h1m62 0h1m-61 1h1m24 0h1m34 3h1m-53 1h1m52 0h1m-43 1h1m15 0h1m18 0h1m-49 1h1m42 0h1m-37 1h1m14 0h1"/>
<path stroke="#16a609" d="M45 0h1m-43 1h1m64 0h2m-30 1h1m28 0h1m-62 1h1m18 0h1m9 1h1m25 0h2m-13 2h1m-49 1h1m25 0h1m8 0h1m15 1h1m25 0h1m-22 2h1m24 0h1m-86 1h1m43 0h1m-39 1h1m4 0h1m77 0h1m-83 1h1m46 0h2m-51 1h1m3 1h1m39 0h1m-20 1h1m30 0h1m-48 1h1m63 0h1m-61 1h1m28 0h1m9 0h1m19 0h1m-75 1h1m39 0h1m-44 1h1m22 0h1m-20 2h1m7 0h1m13 0h1m2 0h1m41 0h1m-34 2h1m10 1h1m-36 1h1m45 0h1m-50 1h1m5 0h1m4 0h1m5 0h1m35 0h1m4 0h1m-48 1h1m24 0h1m-11 1h1m37 0h1m8 1h1m3 0h1m-85 1h1m25 0h1m26 0h1m6 0h1m-10 1h1m15 0h1m17 0h1m-83 1h1m77 0h1m-21 1h1m3 0h1m-14 1h1m-49 1h1m51 0h1m13 0h1m-51 1h1m10 0h1m30 0h1m-23 1h1m-40 1h1m12 0h1m41 1h1m-34 2h1m23 0h1m11 0h1m1 0h1m-65 1h1m7 0h1m4 0h1m32 0h1m4 0h1m3 0h1m-51 1h1m15 0h1m11 0h1m-12 1h1m3 0h1m11 0h1m21 0h1m-54 1h1m2 0h1m10 0h1m16 0h1m44 0h1m-37 1h1m-16 1h1m35 0h1m7 0h1m-47 1h1m46 0h1m1 0h1m2 0h1m-55 1h1m1 0h1m12 0h1m8 0h1m17 0h1m3 0h1m-35 1h1m3 0h1m9 0h1m3 0h1m22 0h1m-68 1h1m40 0h1m7 2h1m6 0h1m-26 1h1m4 0h1m18 0h1m-3 1h1m8 0h1m-61 1h1m25 0h1m31 0h1m-51 1h1m15 0h1m18 0h2m13 0h1m5 0h1m-63 1h1m12 0h1m2 0h1m24 0h1m-4 1h1m-55 1h1m71 0h1m-74 1h1m86 0h1m-73 1h1m7 0h1m21 0h1m1 0h1m14 0h1m5 0h1m-68 1h1m23 0h1m1 0h1m1 1h1m12 0h1m19 0h1m17 0h1m-83 1h1m84 0h1m-58 1h1m12 1h1m1 0h1m5 0h1m28 0h1m4 0h1m-83 1h1m10 0h1m59 0h1m-28 2h1m25 0h1m2 0h1m-75 1h1m18 0h1m35 0h1m14 0h2m-30 1h1m30 1h1m-50 1h1m6 0h1m31 0h1m4 0h1m-34 2h1m8 0h1m-12 1h1m-12 1h1m25 0h1m-9 1h1m5 0h1m-13 1h1m17 0h1m-16 1h1m23 0h1m23 0h1m-78 1h1m-5 1h1m14 0h1m10 0h1m43 0h1m1 0h1m-33 1h2m6 1h1m-19 1h1m11 0h1m16 0h1m-35 3h1m33 0h1m12 0h1m-63 1h1m9 0h1m57 0h2m-38 1h1m-38 1h1m56 0h1m10 0h1m6 1h1m-85 1h1m6 0h1m14 0h1m4 0h1m50 0h1m7 0h1m-67 1h1m1 0h1m30 0h1m24 0h1m-68 1h1m25 0h1m38 0h1m11 0h1m-62 1h1m17 0h1m7 0h1m-54 1h1m57 0h1m-58 1h1m6 0h1m52 1h1m17 0h1m-23 1h1m1 0h1m-46 1h1m3 0h1m6 0h1m21 0h1m5 0h1m-34 1h1m20 0h1m33 0h1m4 0h1m-53 1h2m9 0h1m32 0h1m1 0h1m-75 1h1m48 0h1m13 0h1m15 0h1m-2 1h1m-75 1h1m50 0h1m-42 1h1m4 2h1m7 1h1m51 0h1m-79 1h1m18 0h1m12 1h1m7 0h1m-31 1h1m13 0h1m14 0h1m36 0h1m1 0h1m-73 1h1m2 0h1m5 0h1m59 0h1m-25 1h1m14 0h1m-28 1h1m4 0h1m1 0h1m-15 1h1m7 0h1m-37 1h1m72 1h1m10 0h1m-64 1h1m24 0h1m8 1h1m10 1h1m-71 1h1m2 0h1m14 0h1m45 0h1m3 0h1m1 0h1m-16 1h1m10 0h1m1 0h1m-68 1h1m12 0h1m21 0h1m5 0h1m15 0h1m9 0h1m8 0h1"/>
<path stroke="#18b60a" d="M21 0h1m-10 2h1m13 0h1m54 0h1m7 0h1m-68 1h1m9 0h1m2 0h1m25 0h1m-31 1h1m43 0h1m-39 1h1m15 0h1m18 0h1m-68 1h1m12 0h2m21 0h1m40 0h1m-83 1h1m28 0h1m2 0h2m32 0h1m9 0h1m7 0h1m-47 1h1m5 0h1m13 0h1m-38 1h1m18 0h1m5 0h1m-33 1h1m38 0h1m-48 1h1m49 0h1m3 0h1m-38 1h1m1 0h1m8 0h1m53 0h1m-39 1h1m6 0h1m27 0h1m-72 1h1m49 1h1m-60 2h1m-5 1h1m9 0h1m28 0h1m14 0h1m11 0h1m7 1h1m-71 1h1m25 0h1m48 0h1m-68 1h1m12 0h1m49 0h1m-60 2h1m41 0h1m6 0h1m7 0h1m5 0h1m-69 1h1m49 0h1m12 0h1m-44 1h1m36 0h1m9 0h1m-40 1h2m8 0h1m1 0h1m-46 1h1m54 0h1m7 0h1m-52 1h1m57 0h1m-31 2h1m38 1h1m-80 1h1m26 0h1m9 0h1m-27 2h1m9 0h1m-26 1h1m62 0h1m19 2h1m-83 1h1m80 0h1m-80 1h1m6 0h2m41 0h1m32 1h1m-59 1h2m46 0h1m6 0h1m-67 1h1m51 0h1m9 0h1m-52 1h1m31 0h1m2 1h1m-37 1h1m4 0h1m16 0h1m19 0h1m-73 1h1m43 0h1m17 0h1m-50 1h1m29 0h1m10 0h1m8 0h1m-18 1h1m14 0h1m9 0h1m14 0h1m-73 1h1m22 0h1m-8 1h1m26 0h1m7 0h1m-66 1h1m49 0h1m-32 1h1m12 0h1m1 0h1m-18 1h1m9 0h1m19 0h1m11 0h1m-51 1h1m63 0h1m-21 1h2m14 0h1m-33 2h1m4 0h1m7 0h1m-48 1h1m44 1h1m23 0h1m-56 1h1m23 0h1m-18 1h1m32 0h1m-16 1h1m-14 1h1m50 0h1m6 0h1m-13 2h1m10 0h1m-72 1h1m54 0h1m-64 1h1m72 0h1m-65 1h1m69 1h1m-36 1h1m17 0h1m-67 1h2m5 0h1m1 0h1m-1 1h1m54 0h1m-68 1h1m9 0h1m7 0h1m3 1h1m62 0h1m-42 1h1m27 0h1m8 1h1m-30 1h1m18 0h1m-69 1h1m31 0h1m6 0h1m3 0h1m-22 1h1m8 0h1m17 0h1m5 0h1m-53 1h1m8 0h1m17 0h1m25 0h1m29 0h1m-77 1h1m6 0h1m47 0h1m1 0h1m15 0h1m-81 1h1m37 0h1m-34 2h1m5 0h2m22 0h1m26 0h1m13 0h1m3 0h1m-47 1h1m5 0h1m20 0h1m-49 1h1m21 0h1m9 0h1m23 0h1m4 0h1m-81 2h1m4 0h1m1 0h1m1 0h1m6 0h1m2 0h1m-9 1h1m19 0h1m7 0h1m4 0h1m12 0h1m-37 2h1m33 0h1m0 1h1m25 0h1m-83 1h1m23 0h1m11 0h1m4 0h1m9 0h1m33 0h1m3 0h1m-81 1h1m9 1h1m20 0h1m31 0h1m15 0h1m-82 1h1m13 0h1m13 0h1m43 0h1m-52 1h1m5 0h1m38 0h1m12 0h1m-1 1h1m-64 1h1m19 0h1m23 0h1m-56 1h1m31 0h1m22 0h1m3 0h1m15 0h1m-39 1h1m2 0h1m6 0h1m18 0h1m4 0h1m-71 1h1m42 0h1m-52 1h1m28 0h1m6 0h1m10 0h1m-50 1h1m11 0h1m23 0h1m26 0h1m11 1h1m-25 1h1m4 0h1m-49 1h1m14 0h1m37 0h1m13 1h1m-74 2h1m64 0h1m-17 1h1m5 0h1m26 0h1m-64 1h1m5 0h1m15 0h1m23 0h1m5 0h1m-50 1h1m14 0h1m5 0h1m6 0h1m1 0h1m-56 1h1m7 0h1m28 0h1m44 0h1m-76 2h1m13 0h1m28 0h1m36 0h1m-14 1h1m-40 1h1m41 0h1m7 0h1m-84 1h1m19 0h2m25 0h1m-12 1h1m16 0h1m9 0h1m-68 1h1m78 0h1m-61 1h1m42 0h1m12 0h1m6 0h1m-34 1h1m22 0h1m14 0h1m-34 1h1m-55 1h1m12 0h1m18 0h1m9 0h1m8 0h1m-39 1h1m25 0h1m4 0h1m9 0h1m22 0h1m-53 1h1"/>
<path stroke="#1bc60b" d="M62 0h1m-8 1h1m-38 1h1m6 0h1m9 0h1m10 0h1m16 0h1m2 0h1m-47 1h1m4 0h1m13 0h1m8 0h1m-41 1h1m23 1h1m10 1h1m11 0h1m10 0h1m3 0h1m-52 1h1m3 0h1m18 0h1m2 1h1m10 0h1m5 0h1m-44 1h2m29 0h1m28 0h1m-6 1h1m1 0h1m-39 1h1m3 0h1m3 0h1m20 0h1m4 0h1m-33 1h1m30 0h1m10 0h1m-75 1h1m11 0h1m10 0h1m42 0h1m-35 1h1m47 0h1m-79 2h1m36 0h1m37 0h1m1 0h1m-68 1h1m5 0h1m34 0h1m22 0h1m-75 1h1m16 0h1m33 0h1m3 0h1m-60 1h1m5 0h1m1 0h1m4 1h1m32 0h1m-13 1h1m11 0h1m-50 2h1m21 0h1m-2 1h1m30 2h1m3 0h1m9 0h1m-56 1h1m25 0h1m-33 1h1m5 0h1m5 0h1m29 0h1m3 0h1m6 0h1m12 0h1m-1 2h1m-53 1h1m16 0h1m-21 1h1m20 0h1m15 0h1m31 0h1m-78 1h1m20 0h1m38 0h1m-32 1h1m1 0h1m6 0h1m-45 1h1m7 0h1m5 0h1m35 0h1m26 0h1m1 0h1m-52 1h1m3 1h1m9 0h1m20 0h1m12 0h1m-54 1h1m39 0h1m17 0h1m-86 1h1m34 0h1m14 0h1m9 0h1m4 0h1m7 0h1m-73 1h1m9 0h1m22 0h1m5 0h1m9 0h1m11 0h1m-30 1h1m20 0h2m-49 1h1m14 0h1m22 0h1m2 0h1m8 0h1m-16 1h1m28 0h1m-66 1h1m15 0h1m43 0h1m20 0h1m-68 1h1m26 0h1m-48 1h1m47 0h1m39 0h1m-86 1h1m27 0h1m46 0h1m-78 1h1m42 0h1m-14 1h1m23 0h1m5 0h1m-37 1h1m9 0h1m22 0h1m7 0h1m-59 1h1m42 0h1m9 0h1m-53 1h1m58 0h1m-67 1h1m42 0h1m16 0h1m1 0h1m17 0h1m-36 1h1m-48 1h1m41 0h1m-37 1h1m35 0h1m1 0h1m6 1h1m4 0h1m-7 1h1m-47 1h1m2 0h1m75 0h1m4 0h1m-52 1h1m11 0h1m24 0h1m7 0h1m4 0h1m-75 1h1m19 0h1m-14 1h1m8 0h1m8 0h1m-38 1h1m34 0h1m-12 1h1m57 0h1m2 0h1m-83 1h1m13 0h1m3 0h1m18 0h1m16 0h1m11 0h1m7 0h1m-50 1h1m2 0h1m9 0h1m19 0h1m-29 1h1m3 0h1m-18 1h1m22 0h1m2 0h1m-41 1h1m66 0h1m6 0h1m-44 1h1m3 0h1m10 0h1m-13 1h1m17 0h1m19 0h1m-79 1h1m8 0h1m36 0h1m12 0h1m14 0h1m-53 1h1m13 0h1m20 0h1m7 0h1m9 0h1m3 0h1m-74 1h1m68 0h1m3 0h1m-70 1h1m5 0h1m1 0h1m46 0h1m-58 1h1m34 1h1m33 0h1m-22 1h1m-49 1h1m7 0h1m61 0h1m-79 1h1m75 0h1m-68 1h1m64 0h1m-70 1h1m10 0h1m47 0h1m-51 1h1m11 0h2m7 0h1m24 0h1m-56 1h1m20 0h1m20 0h1m-28 1h1m50 0h1m7 1h1m-68 1h1m3 0h1m4 0h1m24 0h1m16 0h1m16 0h1m-70 1h1m4 0h1m51 0h1m-47 1h1m45 0h1m10 0h2m-57 1h1m48 0h1m-75 1h1m40 0h1m16 0h1m4 0h1m-59 1h1m43 0h1m8 0h1m26 0h1m-74 1h3m24 0h1m7 0h1m-21 1h1m19 0h1m25 0h1m8 0h1m-82 1h1m9 0h1m47 0h1m18 0h1m-75 1h1m38 1h1m2 0h1m13 0h1m9 0h1m5 0h1m11 0h1m-34 1h1m9 0h1m-1 1h1m-60 1h1m17 0h1m30 0h1m16 0h1m-74 1h1m25 0h1m48 0h1m-44 1h1m13 0h1m-15 1h1m-4 1h1m13 0h1m7 0h1m12 0h1m5 0h1m-62 1h1m27 0h1m13 0h1m32 0h1m-35 1h1m27 0h1m5 0h1m-79 1h1m16 0h1m53 0h1m-64 1h1m11 0h1m36 0h1m15 0h1m-80 1h1m55 0h1m21 0h1m-54 1h1m59 0h1m-72 1h1m35 0h1m5 0h1m15 0h1m-65 1h1m1 0h1m33 0h1m42 0h1m-83 1h1m66 0h1m-13 1h1m10 0h1m-60 1h1m1 0h1m32 0h1m24 0h1m7 0h1m-56 1h1m4 0h1m57 0h1m-81 1h1m12 0h1m50 0h1m-30 1h1m-21 1h1m10 0h1m35 0h1m-38 1h1m26 0h1m1 0h1m1 0h1m-49 2h1m10 0h1m1 0h1m7 0h1m1 0h1m15 0h1m-43 1h1m65 0h1m4 0h1m-48 1h1m21 0h1m-53 1h1m16 0h1m16 0h1m8 0h1m37 0h1m-30 1h1"/>
<path stroke="#1dd50c" d="M11 0h1m15 0h1m14 0h1m32 0h1m-5 1h1m4 0h1m2 0h1m-72 1h1m12 0h1m22 0h1m-43 2h1m18 0h1m22 0h1m39 0h1m-77 2h1m53 0h1m-51 1h1m2 0h1m-11 1h2m13 0h2m25 0h1m-23 1h1m42 0h2m2 0h1m-56 2h1m4 0h1m54 0h1m-59 1h1m31 0h1m-20 1h2m-1 1h1m15 0h1m5 0h1m21 0h1m3 0h1m-30 1h1m1 0h1m31 0h1m-7 2h1m-75 1h1m9 1h1m15 0h1m18 0h1m12 1h1m-65 1h1m2 0h1m12 0h1m19 0h1m32 0h1m4 0h1m-44 1h1m9 0h1m-21 1h1m34 0h1m6 1h2m7 0h1m11 0h1m-10 2h1m-66 1h1m39 0h1m4 0h1m16 0h1m-68 1h1m10 0h1m41 0h1m9 0h1m3 0h1m-57 1h1m28 0h1m-42 1h1m5 2h1m11 0h1m18 0h1m-25 1h1m-15 1h1m18 0h1m3 0h1m35 0h1m10 0h1m4 0h1m-71 1h2m14 0h1m24 0h1m15 0h1m-53 2h1m56 0h1m-54 1h1m12 0h1m5 0h1m16 0h1m9 0h1m11 0h2m4 0h1m-74 1h1m1 0h1m77 0h1m-80 1h1m7 0h2m0 1h1m21 0h1m15 0h1m20 0h1m-15 1h1m-61 2h1m21 0h1m29 1h1m17 0h1m-71 1h1m10 0h1m3 0h1m30 0h1m9 0h1m20 0h1m-70 1h1m67 0h1m-67 1h1m9 0h1m15 0h1m11 0h1m11 1h1m21 1h1m-66 1h1m16 0h1m17 0h1m20 0h2m-37 1h1m44 0h1m-77 1h1m25 0h1m30 0h1m17 0h1m-84 1h1m8 0h1m1 0h1m8 0h1m32 0h1m13 0h1m-34 1h1m21 0h1m14 0h1m-74 1h1m22 0h1m8 0h1m29 0h1m-57 1h1m51 0h1m29 0h1m-55 1h1m8 0h1m25 0h1m5 0h1m-38 1h1m16 0h1m24 0h1m-72 1h1m36 0h1m14 0h1m-58 1h1m10 0h1m19 0h1m28 0h1m-63 1h1m8 0h1m33 0h1m30 0h1m10 0h1m-27 1h1m-59 1h1m27 0h1m4 0h1m2 0h1m27 0h1m9 0h1m-46 1h1m2 0h1m17 0h1m-43 1h1m16 0h1m11 0h1m14 0h1m7 0h1m2 0h1m5 0h1m-64 1h1m74 0h1m-59 1h1m-24 1h1m12 0h1m7 0h1m3 0h1m2 0h1m-26 1h1m16 0h1m10 0h1m19 0h1m8 0h1m-29 1h1m20 0h1m-2 1h1m-55 1h1m16 0h1m12 0h1m11 0h1m20 1h1m-45 1h1m15 0h1m20 0h2m27 0h1m-70 1h1m1 0h1m34 0h1m-31 1h1m6 1h1m7 0h1m43 0h1m-58 1h1m26 0h1m10 0h3m21 0h1m-42 1h1m-42 1h1m8 0h1m31 0h1m28 0h1m-66 1h1m42 0h1m-34 1h2m2 0h1m8 0h1m2 0h1m3 0h1m45 0h1m-86 1h1m48 0h1m1 0h1m1 1h1m8 0h1m-48 1h1m5 0h1m36 0h1m27 0h1m-75 1h1m26 0h1m33 0h1m-73 1h1m23 0h1m24 0h1m17 0h1m-65 1h1m42 0h1m35 0h1m-73 1h1m6 0h1m1 0h1m36 0h1m7 0h1m-9 1h1m-50 1h1m23 0h1m1 0h1m-17 1h1m15 0h1m4 0h1m14 2h1m25 1h1m-76 1h1m1 0h1m3 0h1m50 0h1m-46 1h1m25 0h1m-20 1h1m14 0h1m3 0h1m29 0h1m-58 1h1m11 0h1m26 0h1m21 0h1m-66 1h1m7 0h1m22 0h1m16 0h1m24 0h1m-82 1h1m40 0h1m20 0h1m-62 2h1m38 0h1m-27 1h1m22 0h1m-12 1h1m53 0h1m-63 1h1m12 1h1m-24 1h1m16 0h1m8 0h1m37 0h1m1 0h1m-72 1h1m9 0h1m19 0h1m-40 1h1m23 0h1m12 0h1m29 1h1m4 0h1m-71 1h1m29 0h1m24 0h1m15 0h1m12 0h1m-32 1h1m-28 1h1m18 1h1m26 0h1m10 0h1m-49 1h1m36 0h1m13 0h1m-90 2h1m15 0h1m29 0h1m24 0h1m-50 1h2m11 0h1m36 0h1m-72 1h1m27 0h1m-28 1h1m2 0h1m51 0h1m-51 1h1m13 0h1m16 0h1m20 0h1m5 0h1m23 0h1m-90 1h1m10 0h1m15 0h1m2 0h1m1 0h1m16 0h1m17 0h1m14 0h1m-80 1h1m33 0h1m23 0h1m-48 1h1m27 0h1m27 0h1m16 0h1m-58 1h1m23 0h1m5 0h1"/>
<path stroke="#1fe50d" d="M5 0h1m13 0h1m3 0h1m30 0h1m12 0h1m-35 1h1m7 0h1m1 0h1m5 0h1m34 0h1m-56 1h1m4 0h1m50 0h1m-36 1h1m16 0h1m6 1h1m1 0h1m11 0h1m-26 1h1m5 0h1m13 0h1m-71 1h1m7 0h1m11 0h1m40 0h1m9 0h1m-74 1h1m5 0h1m52 0h1m16 0h1m-74 1h1m34 0h1m38 0h1m-29 1h1m-35 2h1m4 0h1m18 0h1m13 0h1m19 0h1m-25 1h1m8 0h1m-65 1h1m12 0h1m26 0h1m5 1h1m12 0h1m-36 1h1m32 0h1m-19 1h1m8 0h1m4 0h1m16 0h1m3 0h1m8 0h1m-26 1h1m3 0h1m-47 1h1m2 0h1m7 0h1m1 0h1m3 0h1m15 0h1m-10 1h1m-32 1h1m1 0h1m4 0h1m23 0h1m12 0h1m4 0h1m-15 1h1m13 0h1m14 0h1m5 0h1m-32 1h1m-42 1h1m15 0h2m15 0h1m35 0h1m-43 1h1m1 0h1m23 0h1m15 0h1m-34 1h1m28 0h1m-73 1h1m57 0h1m20 0h1m-38 1h1m29 0h1m2 0h1m-35 1h1m41 0h1m-54 1h1m12 0h1m11 0h1m3 0h1m20 1h1m-76 1h1m-9 1h2m7 0h1m9 0h1m-16 1h1m34 0h1m44 0h1m-56 1h1m4 0h1m47 0h1m-84 1h1m69 0h1m-31 1h1m15 0h1m-22 1h1m41 0h1m-65 1h1m65 0h1m-62 1h1m1 0h1m16 0h1m25 0h1m15 0h1m-61 1h1m27 0h1m24 0h1m-24 1h1m32 0h1m1 0h1m-62 1h1m23 0h1m7 0h1m-47 1h1m15 0h1m28 0h1m33 0h1m-18 1h1m8 0h1m-49 1h1m24 0h1m19 0h1m-42 1h1m17 0h1m19 0h1m7 0h1m-56 1h1m12 0h1m-33 2h1m15 0h1m20 0h1m3 0h1m9 0h1m-16 1h1m16 0h1m-26 1h1m22 1h1m5 0h1m6 0h1m1 0h1m-36 1h1m12 0h1m10 0h1m-37 1h1m1 0h1m26 0h1m-27 1h1m33 0h1m13 0h1m9 0h1m-87 1h1m15 0h1m12 0h1m5 0h1m21 0h1m-56 1h1m24 0h1m15 0h1m18 0h1m-54 1h1m20 0h1m3 0h1m-28 1h1m4 0h1m35 0h1m21 0h1m-30 1h1m21 0h1m7 0h1m-63 1h1m1 1h1m14 0h1m38 0h1m4 0h1m9 0h1m-83 1h1m10 0h1m42 0h1m-43 1h1m7 1h1m17 0h1m25 0h1m21 0h1m-87 1h1m79 0h1m-81 1h1m6 0h1m15 0h1m18 0h1m13 0h1m-25 1h1m22 0h1m11 0h1m-64 1h1m51 0h2m-27 1h1m3 0h1m3 0h1m31 1h1m-43 2h1m-10 1h1m13 0h1m-34 1h1m1 0h1m3 0h1m14 0h1m45 0h1m5 0h1m-49 1h1m15 0h1m-10 1h1m20 1h1m-6 1h1m35 0h1m-51 2h1m3 0h1m12 0h1m-19 1h1m27 0h1m-12 1h1m4 0h1m16 0h1m14 0h1m-72 2h1m29 0h1m-2 1h1m18 0h1m7 0h1m7 0h1m2 0h1m-83 1h1m1 0h1m31 0h1m-12 1h1m17 0h1m36 0h1m-64 1h1m22 0h1m16 0h1m-51 1h1m42 0h1m2 0h1m30 0h1m-51 1h1m9 0h1m1 1h1m13 0h1m15 0h1m-56 1h1m47 0h1m9 0h1m-30 1h1m29 1h1m-49 1h1m30 0h1m4 0h1m6 0h1m-18 1h1m16 1h1m10 0h1m-66 1h1m11 0h1m28 0h1m-43 1h1m44 0h1m7 0h1m4 0h1m-76 1h1m45 0h1m21 0h1m5 1h1m10 0h1m-51 1h1m39 0h1m-74 1h1m11 0h1m48 0h1m-55 2h1m-7 1h1m22 0h1m-1 1h1m45 0h1m8 0h1m-84 2h1m11 0h1m11 0h1m-17 1h1m52 0h1m-59 1h1m9 0h1m6 0h1m9 0h1m21 0h1m-31 1h1m3 0h1m28 1h1m6 0h1m2 0h1m-52 1h1m18 0h1m8 0h1m19 0h1m-62 1h1m8 0h1m33 0h1m16 0h1m-6 1h1m10 0h1m-64 1h1m-4 1h1m7 0h1m61 0h1m2 0h1m-61 1h1m67 0h1m-23 1h1m9 0h1m-72 1h1m28 0h1m55 0h1m-72 1h1m16 0h1m41 0h1m13 0h1m-24 1h1m-61 1h1m40 0h1m1 0h1m18 0h1m5 0h1m-19 1h1"/>
<path stroke="#21f50e" d="M49 0h1m10 0h2m-28 1h2m14 0h1m-41 1h1m45 0h2m2 0h1m11 0h1m-58 2h1m11 1h1m7 0h1m44 0h1m-44 1h1m15 0h1m-30 1h1m-22 1h1m7 0h1m29 0h1m3 1h1m15 0h1m2 0h2m-61 1h1m3 0h1m35 0h1m40 0h1m-34 1h1m-42 1h1m18 2h1m2 1h1m25 0h1m4 1h1m17 0h1m-80 1h1m13 0h1m17 0h1m18 0h2m-31 1h1m4 0h1m43 0h1m-53 1h1m52 0h1m-73 1h1m6 0h1m23 0h1m14 0h1m11 0h1m6 0h1m2 0h1m9 0h1m-78 1h1m5 0h1m25 0h1m26 0h1m1 0h1m-32 1h1m14 0h1m24 0h1m-75 1h1m42 0h1m24 0h1m6 0h1m-74 1h1m9 0h1m2 0h1m1 0h1m6 0h1m18 0h1m42 0h1m-71 1h1m6 0h1m1 0h1m17 0h2m7 0h1m8 0h1m15 0h1m-78 1h1m18 0h1m65 0h1m-86 1h1m25 0h1m5 1h1m7 0h1m1 0h1m8 0h1m-52 1h1m28 0h1m55 0h1m-62 1h1m8 0h1m27 0h1m3 0h1m-14 1h1m-15 1h1m23 0h1m13 0h1m-77 1h1m10 0h1m3 0h1m33 0h1m16 0h1m-63 1h1m24 0h1m37 1h1m-62 1h1m61 0h1m13 0h1m-53 1h1m41 1h1m-21 1h1m13 0h1m-55 1h1m60 0h1m-59 1h1m7 0h1m34 0h1m16 1h1m4 0h1m2 0h1m-67 1h1m4 0h1m6 0h1m1 0h2m28 0h1m16 0h1m-69 1h1m2 0h1m9 0h1m-3 1h1m-9 1h1m59 0h1m7 0h1m4 1h1m-69 1h1m6 0h1m16 0h1m15 0h1m14 0h1m10 0h1m-78 1h1m17 0h1m8 0h1m13 0h1m-11 1h1m15 0h1m16 0h1m9 0h1m-72 1h1m10 0h1m7 0h1m44 0h1m5 0h1m3 0h1m-60 1h1m24 0h1m-47 2h1m16 0h1m2 0h1m25 0h1m3 0h1m12 0h1m15 0h2m-59 1h1m28 0h1m-18 1h1m-8 1h1m31 0h1m-61 1h1m25 0h1m6 1h1m19 0h1m8 0h1m4 0h1m7 0h1m-50 1h1m32 0h1m8 0h1m-50 1h1m5 0h1m11 0h1m4 0h1m1 2h1m1 0h1m-32 1h1m-10 2h1m51 0h1m5 0h2m10 0h1m-10 1h1m-51 1h1m25 0h1m2 0h1m19 0h1m-40 1h1m20 0h1m12 0h1m15 0h1m-37 1h1m33 0h1m-73 1h1m21 0h1m29 0h1m29 0h1m-76 1h1m12 0h1m11 0h1m9 0h1m32 0h1m2 0h1m-83 1h1m35 0h1m1 0h1m8 1h1m8 0h1m-59 1h1m59 0h1m-51 1h1m5 0h1m11 1h1m2 0h1m4 0h1m-10 1h1m8 0h1m39 0h1m-70 1h1m62 0h1m-61 1h1m35 1h1m-34 1h1m16 0h1m40 0h1m4 0h1m2 0h1m8 0h1m-81 1h1m11 0h1m17 0h1m19 1h1m-47 1h1m5 0h1m8 0h3m21 0h1m30 0h1m-78 1h1m1 0h1m19 0h1m11 0h1m43 0h1m-52 1h1m6 1h1m33 0h1m-63 1h1m16 0h1m10 0h1m8 0h1m12 0h1m-26 1h1m2 0h1m11 0h1m-23 1h1m3 0h1m8 0h1m12 0h1m-43 1h1m29 0h1m8 0h1m8 1h1m5 0h2m-70 1h1m25 0h1m8 0h1m10 0h1m23 0h1m-11 2h1m-45 1h1m19 1h1m-6 1h1m6 0h1m29 0h1m-69 1h1m13 0h1m27 0h1m10 1h1m19 0h1m-66 1h1m64 0h1m-66 1h1m20 0h1m8 0h1m20 0h1m-51 1h1m2 0h1m17 0h1m11 0h1m10 1h1m4 0h1m7 1h1m1 0h1m-68 1h1m12 0h1m13 0h1m40 0h1m-19 1h1m28 0h1m-24 1h2m8 0h1m7 0h1m9 0h1m-73 1h1m52 0h1m21 0h1m-77 1h2m2 0h1m3 0h1m25 0h1m15 0h1m15 0h1m4 0h1m4 0h1m-44 1h1m-28 1h1m18 0h1m5 0h1m31 0h1m-52 1h1m9 0h1m-31 1h1m14 0h1m28 0h1m-41 1h1m10 0h1m12 0h1m34 0h1m16 0h1m-58 1h1m23 0h1m28 0h1m6 0h1m-81 1h1m5 0h1m35 0h1m17 0h1m4 0h1m-9 1h1m-17 1h1m3 0h1m36 0h1m-72 1h1m52 0h1m3 0h1m5 0h1m-5 1h1m-47 2h1m6 0h1m21 0h2m1 0h1m14 0h1m2 0h1m2 0h1m-64 1h1m-7 1h1m49 0h1m-62 1h1m62 0h1m7 0h1m4 0h1"/>
<path stroke="#29fd16" d="M9 0h1m22 0h1m15 0h1m4 0h1m-7 1h1m11 0h1m29 0h1m-53 1h1m36 0h2m-48 1h1m20 0h1m24 0h1m-61 1h1m42 0h1m-25 1h1m23 0h1m18 1h1m-76 1h1m18 0h1m22 0h1m36 0h1m-69 1h1m21 0h1m34 0h1m-60 1h1m30 0h1m10 0h1m34 0h1m-71 1h1m3 0h1m5 0h1m22 0h1m-42 1h1m1 0h1m-3 1h1m19 0h1m27 0h1m26 0h1m-59 1h1m9 0h1m11 0h1m3 0h1m-29 1h1m53 0h1m-75 1h1m80 0h1m-82 1h1m2 0h1m4 0h1m15 0h1m59 1h1m-8 1h1m-71 1h1m3 2h1m8 0h1m9 0h1m15 0h1m26 0h1m-51 1h1m48 0h1m6 0h1m-45 1h1m-38 1h1m12 0h1m17 0h1m20 0h1m18 0h1m-35 1h1m14 0h1m16 0h1m-8 1h1m13 0h1m-75 1h1m19 1h1m26 0h1m-47 1h1m2 0h2m15 0h1m30 0h2m25 0h1m-82 1h1m9 0h1m51 0h1m-29 1h1m14 0h1m6 0h1m-58 1h1m40 0h1m3 0h1m4 0h1m-32 1h1m15 0h1m3 0h1m28 0h1m8 0h1m-13 3h1m-29 1h1m37 0h1m-54 1h1m10 0h1m5 0h1m2 0h1m8 0h1m13 0h1m22 0h1m-55 1h1m7 0h1m40 0h1m-42 1h1m5 0h1m26 0h1m-39 1h1m22 0h1m12 0h1m-74 1h1m23 0h1m5 0h1m42 0h1m-60 1h1m41 0h1m24 0h1m-58 1h1m31 0h1m15 0h1m-68 1h1m10 0h1m24 0h1m17 0h1m-58 1h1m1 0h1m-5 1h2m5 0h1m17 0h1m29 0h1m4 0h1m16 0h1m-74 1h1m22 0h1m15 0h1m18 0h1m-48 1h1m30 0h1m10 0h1m-48 1h1m5 0h1m15 0h1m20 0h1m-31 1h1m7 0h1m9 0h1m25 0h1m-69 1h1m4 0h1m29 0h1m1 0h1m45 0h1m-74 1h1m4 0h1m4 1h1m5 0h1m2 0h1m4 1h2m16 0h1m29 0h1m-63 1h1m2 0h1m1 0h1m5 0h1m8 0h1m6 0h1m1 0h1m-38 1h1m54 0h1m13 0h1m-42 1h1m34 1h1m6 0h1m2 0h1m-46 1h1m18 0h1m9 0h1m-51 1h1m1 0h1m18 0h1m6 0h1m21 0h1m-64 1h1m37 0h1m11 0h1m-53 1h1m3 0h1m1 0h1m5 0h1m4 0h1m45 0h1m4 0h2m-69 1h1m1 0h1m1 0h1m34 0h1m11 0h1m16 0h2m10 0h1m-59 1h1m22 0h2m-35 1h1m5 0h1m11 0h1m13 0h1m8 0h1m29 0h1m-85 1h1m1 0h1m48 0h1m-36 1h1m4 0h1m36 0h1m3 0h2m6 1h1m4 0h1m-13 1h1m12 0h1m-64 1h1m4 0h1m9 0h1m31 0h1m-49 1h1m9 0h1m45 0h1m5 0h1m-5 1h1m-59 2h2m7 0h1m3 0h1m16 0h1m9 0h1m-44 1h1m28 1h1m11 0h1m2 0h1m-49 1h1m1 0h1m35 0h1m14 0h1m4 0h1m-51 1h1m2 0h1m23 0h1m6 0h1m36 0h1m-70 1h1m7 0h2m15 0h1m26 0h1m16 0h1m-64 1h1m1 0h1m13 0h1m7 0h1m34 0h1m4 0h1m-74 1h1m13 0h1m-6 1h1m34 0h1m-53 2h1m41 0h1m13 0h1m5 0h1m3 0h1m-55 1h1m37 0h1m-28 1h1m13 0h1m-34 1h1m50 1h1m-53 1h1m4 0h1m-6 1h1m17 0h1m10 0h1m39 0h1m-40 1h1m13 0h1m-11 1h1m-39 1h1m2 0h1m8 0h1m44 0h1m-41 1h1m21 0h1m11 0h1m4 0h1m-17 1h1m4 0h1m-49 1h1m-4 1h1m7 1h1m16 0h1m2 0h1m59 0h1m-71 2h1m20 0h1m13 0h1m-33 1h1m30 0h1m25 0h1m-78 1h1m13 0h1m29 0h1m26 1h1m-63 1h1m68 0h1m2 0h1m-52 1h1m-12 1h1m14 0h1m4 0h1m40 0h1m-16 1h1m-33 1h1m47 0h1m-63 1h1m6 0h1m8 0h1m19 0h1m1 0h1m18 0h1m-73 1h1m73 0h1m-9 1h1m10 0h1m-33 1h1m30 0h1m-46 1h1m31 0h1m-69 1h1m84 0h1m-56 1h1m4 0h1m25 0h1m3 0h1m-54 1h1m3 0h1m-8 1h1m28 0h1m43 0h1m-55 1h1m15 0h1m15 0h1m5 0h1m-67 1h1m25 0h1m51 0h1m-34 1h1m17 0h1m-44 1h1m65 0h2m-66 1h1m51 1h1m3 0h1m7 0h1m-32 1h2m25 0h1m-81 1h1m-4 1h1m11 0h1m39 0h1"/>
<path stroke="#37fd25" d="M12 0h1m7 0h1m18 0h1m44 0h2m-77 1h1m8 0h1m53 0h1m-54 1h1m47 0h1m11 0h1m-61 1h1m4 0h1m59 0h1m-73 1h1m19 0h1m28 0h2m-51 1h1m60 0h1m-47 1h1m23 0h1m4 0h1m-48 1h1m15 0h1m-17 1h1m25 0h1m16 0h1m6 0h1m22 0h1m-82 1h2m34 0h1m4 0h1m40 0h1m-78 1h1m30 0h1m27 0h1m13 0h1m8 0h1m-65 1h1m5 0h1m11 1h1m23 1h1m-66 1h1m1 0h1m3 0h1m7 0h2m28 0h1m10 0h1m19 0h1m-50 1h1m27 0h1m-20 1h2m40 0h1m5 0h1m-46 1h1m-32 1h1m60 0h1m-20 1h1m-38 1h1m-10 1h1m26 0h1m47 0h1m-71 1h1m7 0h1m5 0h1m-4 1h1m49 0h1m8 0h1m7 0h1m-22 1h1m15 1h1m-57 1h1m-19 1h1m12 0h1m-16 1h1m3 0h1m4 0h1m2 0h1m19 0h1m40 1h1m-56 1h1m3 0h1m24 0h1m-52 1h1m32 0h1m38 0h1m-9 1h1m14 0h1m-82 1h1m34 0h1m17 0h1m2 0h1m-23 2h1m32 0h1m-55 1h1m38 0h1m26 0h1m-77 1h1m24 0h1m15 0h1m7 0h1m6 0h1m25 0h1m-27 2h1m21 0h1m-57 1h1m6 0h1m21 0h1m7 0h1m14 0h1m1 0h1m2 0h1m3 0h1m-81 1h1m10 1h1m35 0h1m24 0h1m-50 1h1m4 0h1m4 0h1m35 0h1m-75 1h1m3 0h1m62 0h1m9 0h1m-79 1h1m4 0h1m7 0h1m32 0h1m-4 1h1m13 0h1m6 0h1m-28 1h1m15 0h1m17 0h1m-36 1h1m21 0h1m24 0h1m-65 1h1m9 0h1m43 0h1m-61 1h1m75 0h1m-72 1h1m4 0h1m45 0h1m-61 1h1m15 0h1m24 0h1m4 0h1m11 0h1m-37 1h1m3 1h1m11 0h1m31 0h1m-67 1h2m4 0h1m13 0h1m28 0h1m-15 1h1m9 0h1m8 0h1m-65 1h1m10 0h1m12 0h1m19 0h1m14 0h1m-9 1h1m4 0h1m-22 1h1m10 0h1m14 0h1m2 0h1m6 0h1m-69 1h1m6 0h1m6 0h1m11 0h1m34 0h2m12 0h1m-82 1h1m19 0h1m12 0h1m10 0h1m28 0h1m9 0h1m-61 1h1m-10 1h1m15 0h1m26 0h1m1 0h1m22 0h1m-42 1h1m-39 1h1m10 0h1m11 0h1m-7 1h1m5 0h1m49 0h1m12 0h1m-78 1h1m5 0h1m13 0h1m21 0h1m6 0h1m26 0h1m-58 1h1m20 0h1m27 0h1m-60 1h1m17 0h1m5 0h1m15 0h1m8 0h1m-71 2h1m52 0h1m9 0h1m-1 1h1m-52 1h1m38 0h1m11 0h1m-53 1h1m45 0h1m-20 1h1m-39 1h1m27 0h1m2 0h1m29 0h1m-62 1h1m8 0h1m53 0h1m24 0h1m-87 1h1m57 0h1m12 0h1m-46 1h1m52 0h1m-61 1h1m4 0h1m10 0h1m13 0h1m17 0h1m15 0h1m-82 1h1m27 0h1m28 0h1m-51 1h1m13 0h1m8 0h1m18 0h1m8 0h1m7 0h1m-66 1h1m9 0h1m17 0h1m13 1h1m27 0h1m-41 1h1m26 0h2m-47 1h1m12 0h1m5 0h1m28 0h1m-5 1h1m7 0h1m-42 2h1m-1 1h1m15 0h1m17 0h1m19 0h1m-55 1h1m7 0h1m29 0h1m3 0h1m-70 1h1m36 2h1m40 0h1m-54 1h1m16 0h1m3 0h1m1 0h1m16 0h1m22 1h1m-63 1h1m20 0h1m19 0h1m18 0h1m-79 1h1m62 0h1m-65 1h1m38 0h1m40 0h1m-74 1h1m7 0h1m7 1h1m22 1h1m16 0h1m13 0h1m-50 1h1m27 0h1m-21 1h1m14 1h1m4 0h1m-28 1h1m24 0h1m13 0h1m-20 1h1m25 0h1m-61 1h1m30 0h1m4 0h1m26 0h1m-42 1h1m2 0h1m-45 1h1m1 0h2m25 0h1m-34 1h1m36 1h1m-12 1h1m38 0h2m14 0h1m-71 1h1m1 0h1m29 0h1m29 0h1m12 0h1m-84 1h1m59 0h1m-25 1h1m4 1h1m15 0h1m7 0h1m-16 2h1m-43 1h1m46 0h1m-48 1h1m28 0h1m-34 1h1m15 0h1m56 0h1m-76 1h1m30 0h1m-18 1h1m-14 1h1m20 0h1m2 0h1m3 0h1m27 0h1m15 0h1m-67 1h1m71 0h1m3 0h1m-7 1h1"/>
<path stroke="#45fd34" d="M31 0h1m32 0h1m-51 1h1m60 0h1m-46 1h1m49 1h1m-71 1h1m44 0h1m10 1h1m-64 1h1m5 0h1m16 0h1m21 0h1m8 0h1m-40 1h1m7 1h1m30 0h1m6 0h1m21 0h1m2 1h1m-88 1h1m53 0h1m-50 1h1m32 0h1m32 0h1m-64 1h1m6 0h1m2 0h1m9 0h1m32 0h1m16 0h1m2 0h1m-71 1h1m37 0h1m27 0h1m-71 1h1m61 0h1m15 0h1m-31 1h1m7 0h1m14 0h2m5 0h1m-7 1h1m-37 1h1m3 0h1m9 0h1m-57 1h1m41 0h1m38 0h1m-50 1h1m12 0h1m20 0h1m9 0h1m-7 1h1m-41 1h1m-19 1h1m41 0h1m24 0h1m-14 2h1m-64 1h1m1 1h1m44 1h1m29 0h1m-31 1h1m3 0h1m7 0h1m21 0h1m1 0h1m-71 1h1m21 0h1m-24 1h1m21 0h1m5 0h1m-47 1h1m26 0h1m27 0h1m-43 1h1m11 1h1m7 0h1m4 0h1m8 0h1m-29 1h1m34 0h1m-16 2h1m36 0h1m-68 1h2m15 0h1m14 1h1m6 0h1m-17 1h1m4 0h1m-9 1h1m23 0h1m24 0h1m-67 1h1m53 0h1m-67 1h1m38 0h1m11 1h1m21 0h1m-66 1h1m43 0h1m10 0h1m-14 1h1m2 0h1m30 0h1m3 0h1m-58 2h1m-10 1h1m2 0h1m6 0h1m24 0h1m6 0h1m11 0h1m-39 1h1m40 0h1m5 0h1m-66 1h1m47 0h1m12 0h1m2 0h1m-39 1h1m7 0h1m17 0h1m-30 1h2m27 0h1m3 0h2m10 0h1m-44 1h1m38 0h1m-51 1h1m3 0h1m-39 1h1m25 0h1m46 0h1m11 0h1m-80 2h1m8 0h1m20 0h1m42 0h1m-35 1h1m-45 1h2m21 0h1m18 0h1m-16 1h1m-25 1h1m13 0h1m7 0h1m16 1h1m7 0h1m-32 1h1m14 0h1m15 0h1m37 0h1m-73 1h2m51 0h1m-51 1h1m20 0h1m5 0h1m24 0h1m-19 1h1m9 1h1m-58 1h1m28 0h1m19 1h1m3 0h1m16 0h1m-55 1h1m64 0h1m-65 1h1m-18 1h1m14 0h1m17 0h1m1 0h1m21 0h1m-39 1h1m23 0h1m-39 1h1m11 0h1m37 0h1m-54 1h1m32 0h1m-38 1h1m19 0h1m28 0h1m3 0h1m3 0h1m13 0h1m-73 1h1m3 0h1m24 0h1m9 0h1m2 0h1m9 0h1m-23 1h1m4 0h1m8 0h1m4 0h1m16 0h1m-69 1h1m29 0h1m6 0h1m35 1h1m5 0h2m-14 1h1m-2 1h1m17 0h1m-16 1h2m2 0h1m6 0h1m-48 1h1m29 0h1m-54 1h1m21 0h1m6 0h1m-15 1h1m39 0h1m-15 1h1m12 0h1m-34 1h1m20 0h1m13 0h1m20 0h1m-56 2h1m46 0h1m-69 2h1m31 0h1m12 0h1m-42 1h1m8 0h1m29 0h1m4 0h1m16 0h1m-55 1h1m12 0h1m3 0h1m3 0h1m16 0h1m4 0h1m1 0h1m-62 1h1m25 0h1m40 0h1m-53 1h1m-3 1h1m9 0h1m32 0h1m4 0h1m5 0h1m-64 1h1m15 0h1m32 0h1m6 0h1m-54 1h1m38 0h1m-52 1h1m2 1h2m-5 1h1m22 0h1m2 0h1m13 0h1m14 1h1m-46 1h1m34 0h1m3 0h2m30 0h1m-75 1h1m6 0h1m13 0h1m20 0h1m-41 1h1m22 1h1m-28 1h1m2 1h1m24 1h1m8 0h1m6 0h1m-51 1h1m12 0h1m59 0h1m-15 2h1m14 0h1m-56 1h1m28 0h1m37 0h1m-63 1h1m27 0h1m29 0h1m-36 2h1m-41 1h1m21 0h1m53 0h1m-39 1h1m11 0h1m-41 1h2m32 0h1m2 0h1m24 0h1m1 0h1m-63 1h1m44 0h1m21 0h1m-73 2h1m56 0h1m6 0h1m-55 1h1m15 0h1m4 0h1m-31 1h1m7 0h1m13 0h1m-16 2h1m4 0h1m49 0h1m9 0h1"/>
<path stroke="#52fd43" d="M2 0h1m4 0h1m33 0h1m37 0h1m-79 1h1m22 0h1m2 0h1m25 0h1m16 0h1m9 0h1m-75 1h1m24 0h1m27 0h1m4 0h1m-60 1h1m30 0h1m14 1h1m31 0h1m-73 2h1m16 0h1m5 1h1m6 0h1m4 1h1m-8 1h1m14 0h1m-54 1h1m49 0h1m19 0h1m-38 1h1m13 0h1m40 0h1m-43 1h1m14 0h1m-51 1h1m10 0h1m13 0h1m4 1h1m3 0h1m1 0h1m5 0h1m5 0h1m7 0h1m-68 1h1m19 0h1m3 0h1m37 0h1m18 0h1m-53 2h1m17 0h1m20 0h1m9 0h1m-30 1h2m18 0h1m8 0h1m-67 1h1m25 0h1m-25 1h1m14 0h1m8 1h1m1 0h1m30 0h1m-67 1h1m11 0h1m19 1h1m7 0h1m18 0h1m22 0h1m-31 1h1m9 0h1m2 0h1m-68 1h1m31 0h1m-18 1h1m19 0h1m28 0h1m-49 1h1m10 1h1m2 0h1m-15 1h1m67 0h1m-62 1h1m17 0h1m11 0h1m-45 1h1m5 0h1m9 0h1m57 0h1m-29 1h1m24 0h1m-28 1h1m-29 2h1m14 0h1m1 0h1m5 0h1m19 0h1m-38 1h1m49 0h1m1 0h1m-88 1h1m26 0h1m33 0h1m13 0h1m13 0h1m-88 1h1m18 0h1m17 0h1m19 0h2m3 0h1m-63 1h1m6 0h1m12 0h1m55 0h1m8 0h1m-30 1h1m6 0h1m-31 1h1m6 0h1m15 0h1m-52 1h1m8 0h1m72 0h1m-21 1h1m13 0h1m3 0h1m-73 1h1m3 0h1m39 0h1m-31 1h1m41 0h1m-59 1h1m4 0h1m10 0h1m15 0h1m17 0h1m5 0h1m2 0h1m-63 1h1m25 0h1m1 0h2m6 0h1m18 0h1m3 0h1m-36 1h1m4 0h1m27 0h1m4 0h1m-58 2h1m16 0h1m-28 1h1m57 0h1m6 0h1m-69 2h1m6 0h1m14 0h1m-23 1h1m7 1h1m7 0h1m48 0h1m-58 1h1m74 1h1m-60 1h1m26 0h1m19 0h1m3 0h1m-78 1h1m53 0h1m13 0h1m-38 1h1m10 0h1m15 0h1m-50 1h1m41 0h1m25 0h1m-73 1h1m18 0h1m47 0h1m5 0h1m2 0h1m-59 1h1m4 0h1m25 0h1m19 0h1m-52 1h1m56 0h1m-43 1h1m39 0h1m-26 2h1m-44 1h1m44 0h1m29 0h1m2 0h1m-79 1h1m33 0h1m40 0h1m-80 1h1m8 0h1m46 0h1m-14 1h1m-9 1h1m16 0h1m14 0h1m-67 1h1m19 0h1m7 0h1m16 0h1m1 0h1m3 0h1m-53 1h1m23 1h1m-30 2h1m34 0h1m22 2h1m8 0h1m-55 1h1m23 0h1m10 0h1m33 0h1m2 0h1m-59 1h1m-2 2h1m12 0h1m27 0h1m-61 1h1m13 0h1m48 0h1m-68 1h1m5 0h1m46 0h1m-20 1h1m-3 1h1m47 0h1m-74 1h1m8 0h1m22 0h1m12 0h1m31 0h1m-80 1h1m57 0h1m-49 1h1m30 0h1m6 0h1m21 0h2m-77 1h1m14 0h1m21 0h1m37 0h1m4 0h1m-9 1h1m-30 1h1m-36 1h1m42 0h2m19 0h1m11 0h1m-44 1h1m-34 2h1m6 0h1m-6 1h1m33 0h1m10 1h1m0 1h1m-59 2h1m37 0h1m-37 1h1m5 0h1m20 0h1m12 0h1m-37 2h1m-3 1h1m16 0h1m32 0h1m15 0h1m-69 1h1m41 0h2m-29 1h1m7 0h1m1 0h1m-24 1h1m39 0h1m6 0h1m17 0h1m-72 1h1m42 0h1m11 0h1m9 0h1m13 0h1m-44 1h1m21 0h1m18 0h1m-76 1h1m26 0h1m1 0h1m50 0h1m5 0h2m-86 1h1m8 0h1m16 0h1m-30 1h1m25 0h1m17 0h1m-13 1h1m-7 1h1m17 0h1m37 0h1m-79 1h2m-5 1h1m5 0h1m6 0h1m19 0h1m15 0h1m6 0h1m-52 1h1m44 0h1m30 0h1m-60 1h1m55 0h1m4 0h1m-79 1h1m9 0h1m35 0h1m33 0h1m-78 1h1m60 0h2m1 0h1m1 0h1m-50 1h1m23 0h1m-29 2h1m44 0h1m-65 1h2m26 0h1m12 0h1m36 0h1m-78 1h1m7 0h1"/>
<path stroke="#60fe52" d="M33 0h1m-29 1h1m59 0h1m-66 1h1m4 0h1m36 0h1m44 0h1m-84 1h1m4 0h1m4 0h1m55 1h1m1 0h1m-64 1h1m20 0h1m15 0h1m28 0h1m8 0h1m-79 2h1m30 0h1m51 0h1m-59 1h1m6 1h1m-34 2h1m45 0h1m6 0h1m3 0h1m-49 1h1m66 0h1m-68 1h1m10 0h1m30 0h1m7 0h1m18 0h1m-5 1h1m-40 1h1m-33 1h1m5 0h1m71 0h1m2 1h1m-24 1h1m15 0h1m-81 2h1m21 0h1m42 0h1m-51 1h1m2 0h1m36 0h1m-45 1h1m22 0h2m9 0h1m20 0h1m-64 1h1m3 0h1m14 0h1m7 0h1m-13 1h1m31 0h1m-33 1h1m38 0h1m-28 1h1m2 0h1m30 0h1m-48 1h1m26 0h1m-18 1h1m18 0h1m26 0h1m9 0h1m-79 1h1m50 0h1m8 0h1m-55 1h1m8 0h1m26 0h1m9 0h2m8 0h1m-69 1h1m44 0h1m36 0h1m-78 1h1m42 0h1m8 0h1m9 1h1m-61 1h1m6 2h1m2 0h1m1 0h1m30 0h1m21 0h1m3 0h1m-45 1h1m30 0h1m9 0h1m-65 1h1m9 0h1m51 1h1m2 0h1m-60 1h1m28 0h2m3 0h1m4 0h1m27 0h1m-54 1h1m38 0h1m12 0h1m4 0h1m-3 1h1m-66 1h1m14 1h1m-25 1h1m61 1h1m-49 1h1m3 0h1m30 0h1m9 0h1m-44 1h1m-26 1h1m17 0h1m2 0h1m10 0h1m7 0h1m8 0h1m-44 1h1m16 0h1m17 0h1m5 2h1m5 1h1m-55 1h1m16 0h1m17 0h1m17 0h1m23 0h1m-29 1h1m33 2h1m-83 1h1m0 1h2m17 0h1m17 0h1m-14 1h1m17 0h1m-45 1h1m11 0h1m35 0h1m10 0h1m28 0h1m-29 1h1m17 0h1m-34 1h1m19 0h1m-7 1h1m6 0h1m2 1h1m17 0h1m-82 1h1m10 0h1m9 0h1m22 0h1m-15 1h2m21 0h1m-43 1h1m-19 1h1m42 0h1m2 0h2m16 0h1m-57 1h1m16 0h1m45 0h1m-29 1h1m11 0h2m5 0h1m-42 1h1m37 0h1m-46 1h1m74 0h1m-87 1h1m33 0h1m48 1h1m2 0h1m-60 1h1m39 0h1m1 0h1m6 0h1m7 0h1m-22 1h1m22 0h1m-3 1h1m-52 1h1m37 0h1m2 0h1m-26 1h1m-29 1h1m19 0h1m42 0h1m-59 1h1m52 0h1m-18 1h1m-54 1h1m25 0h2m13 0h1m3 0h1m27 0h1m-79 1h1m1 0h1m29 0h1m19 0h1m-58 1h1m36 0h1m30 1h1m7 0h1m4 0h1m-69 1h1m6 0h1m12 0h1m25 0h1m-24 1h1m20 0h1m23 0h1m-66 1h1m51 0h2m-62 1h1m20 0h1m-23 1h1m6 0h2m7 0h1m42 0h1m9 0h1m-35 1h1m20 0h1m22 0h1m-31 1h1m-38 1h1m51 0h1m-63 1h1m28 0h1m32 0h1m-61 1h1m-3 1h1m10 0h1m10 0h1m16 1h1m-8 1h1m6 0h1m3 0h1m31 0h1m-67 1h1m22 0h1m3 0h1m20 0h1m7 0h1m12 0h1m-84 1h1m17 0h1m6 0h1m1 0h1m29 0h1m10 0h1m1 0h1m-55 2h1m27 0h1m7 0h1m26 0h1m1 0h1m-43 1h1m-30 1h1m8 0h1m-24 1h1m73 0h1m-52 1h1m30 0h2m6 0h1m-35 1h1m16 1h1m10 0h1m-41 1h1m38 0h1m-46 1h1m26 0h1m2 0h1m9 0h1m5 0h1m-45 1h1m2 0h1m22 0h1m4 0h1m22 0h1m8 0h1m2 0h1m-62 1h1m69 0h1m-88 1h1m36 0h1m2 0h1m23 0h1m7 0h1m-61 1h1m13 0h1m14 1h1m26 0h1m6 0h1m-75 1h1m57 0h1m-27 1h1m-23 1h1m30 0h1m-42 1h1m6 0h1m43 0h1m28 0h1m-71 1h1m45 0h1m3 0h1m2 0h1m14 0h1m-73 1h1m20 0h1m26 0h1m13 0h1m-70 1h1m7 0h1m3 0h1m13 0h1m12 0h1m9 0h1m-44 1h1m20 0h1m33 0h2m-47 1h1m30 0h2m-50 1h1m16 0h1"/>
<path stroke="#6efe61" d="M82 0h1m-63 1h1m25 0h1m1 0h1m-17 1h1m49 0h1m-66 1h1m59 0h1m-29 1h1m9 0h1m-47 1h1m-7 1h1m6 0h1m32 0h1m31 0h1m6 0h1m-66 1h1m37 0h1m14 0h1m4 0h1m-70 1h1m60 0h1m-69 1h1m1 0h1m3 0h1m0 1h1m15 0h1m28 0h1m-29 1h1m21 1h1m-50 1h1m38 1h1m13 0h1m8 0h1m-28 1h1m15 0h1m-35 1h1m1 0h2m19 0h1m30 0h1m15 1h1m-79 1h1m15 0h1m2 1h1m32 0h1m-55 1h1m34 0h1m41 0h2m-38 1h1m38 0h1m-32 1h1m21 0h1m-43 1h1m5 0h1m10 0h1m7 0h1m2 0h1m-65 1h1m85 0h1m-54 1h1m21 0h2m19 0h1m3 0h1m-68 1h1m13 0h1m14 0h1m45 0h1m-35 1h1m26 0h2m-82 1h1m1 1h1m32 0h1m5 0h1m7 0h1m23 0h1m-75 1h1m16 0h1m49 0h1m5 0h1m-6 1h1m-55 1h1m18 0h1m31 0h1m-64 1h1m28 0h1m7 0h1m-38 1h1m48 0h1m-27 1h1m14 0h1m16 0h1m2 0h1m11 1h1m-25 1h1m11 0h1m-61 1h1m14 0h1m9 0h1m21 0h1m-36 1h1m26 0h1m-3 1h1m19 0h1m23 0h1m2 0h1m-75 1h1m10 0h1m48 0h1m-41 1h1m9 0h1m6 0h1m39 0h1m-82 1h1m1 0h1m4 0h1m8 0h1m25 0h1m5 0h1m-55 1h1m15 0h1m52 0h1m-50 1h1m20 0h1m26 0h1m18 0h1m1 0h1m-67 2h1m25 0h1m1 0h1m34 0h1m-8 1h1m9 0h1m-54 1h1m11 0h1m5 0h1m16 0h1m14 0h1m-86 1h1m21 0h1m50 0h1m-49 1h1m6 0h1m15 0h1m-27 1h1m3 0h1m-15 1h1m56 0h1m16 0h1m-43 1h2m13 0h1m1 0h1m-43 1h1m50 0h1m11 0h1m4 0h1m-74 1h1m28 0h1m-25 1h2m-17 1h1m82 0h1m-80 1h1m34 0h1m20 0h1m-5 1h1m-37 1h1m5 0h1m20 0h1m35 0h1m-26 1h1m-45 1h1m18 0h1m19 0h1m-47 1h1m26 0h1m48 0h1m-74 1h1m39 0h1m-3 1h1m29 0h1m-68 1h1m42 0h1m3 0h1m2 0h1m-49 2h1m9 0h1m4 0h1m-30 1h1m8 0h1m26 1h2m2 0h1m34 0h1m5 0h1m-73 1h1m43 0h1m10 0h1m10 0h1m-74 1h1m46 0h1m-41 1h1m27 0h1m-29 1h1m31 0h1m20 0h1m-1 1h1m8 0h1m-55 1h1m2 0h1m39 0h1m-57 1h1m1 0h1m-5 1h1m2 0h1m37 0h1m22 0h1m-67 1h1m17 0h1m38 0h1m18 0h1m-80 1h1m40 0h1m7 0h1m8 0h1m20 0h1m-45 1h1m9 0h1m11 0h1m-59 1h1m1 0h1m4 0h1m-6 1h1m12 0h1m62 0h1m-41 1h1m8 0h1m-14 1h1m20 0h1m23 0h1m-58 1h1m2 0h1m21 2h1m8 0h1m-18 1h1m19 0h1m4 0h1m22 0h1m-81 1h1m5 0h1m6 0h1m68 0h1m-89 2h1m3 0h1m12 0h1m-18 1h1m20 0h1m31 0h1m-52 1h1m2 0h1m32 0h1m12 0h1m2 0h1m9 0h1m-51 1h1m3 0h1m23 0h1m-21 1h1m15 0h1m14 0h1m-5 1h1m34 0h1m-72 1h1m1 0h1m40 0h1m3 0h1m-9 1h1m35 0h1m-87 1h1m1 0h1m10 0h1m25 0h1m27 0h1m-24 1h1m17 0h1m2 0h1m-47 1h1m39 0h1m18 0h1m-75 1h1m6 0h1m-14 1h1m66 0h1m-41 1h1m17 0h1m4 0h1m37 0h1m-75 1h1m26 0h1m5 0h1m1 0h1m16 0h1m6 0h1m-62 1h1m31 0h1m6 0h1m13 0h1m22 0h1m-69 1h1m38 0h1m-29 1h1m15 0h1m14 0h1m5 0h1m4 0h1m-47 1h1m4 1h1m41 0h1m-42 1h1m21 0h1m32 0h1m-60 1h1m28 0h1m-30 1h1m42 0h1m4 0h1m3 0h1m-82 1h1m31 0h1m22 0h1m-42 1h2m8 0h1m8 0h1m2 0h1m-22 1h1m1 0h1m2 0h1m42 0h1m11 0h1m-41 1h1m3 0h1m34 0h1m2 0h1m-58 1h1m4 0h1m-25 1h1m19 0h1m24 0h1m1 0h1m24 0h1m-57 1h1m39 0h1m19 0h1m-75 2h1m69 0h1m-49 1h1m-21 2h1m29 0h1m49 0h1"/>
<path stroke="#7cfe70" d="M22 0h1m46 0h1m18 0h2m-48 1h1m-42 1h1m9 0h1m4 0h1m3 0h1m20 0h1m-41 1h1m43 0h1m6 0h1m-50 1h1m3 0h1m16 0h2m47 0h1m-67 1h1m30 0h1m29 0h1m-29 1h1m8 0h1m31 0h1m-25 1h1m-51 1h1m7 0h1m9 0h1m59 0h1m-29 1h1m4 0h1m-34 1h1m-27 1h1m14 0h1m40 0h1m16 0h1m-72 1h1m18 0h1m13 0h1m4 0h1m17 0h1m-51 1h1m22 0h1m8 0h1m31 0h1m4 0h1m5 0h1m-65 1h1m5 0h1m34 0h1m22 0h1m-80 1h1m16 0h1m8 0h1m12 0h1m-46 1h1m4 0h1m25 0h1m5 0h1m9 0h1m18 0h1m12 0h1m-62 2h1m-16 1h1m10 0h1m18 0h1m2 0h1m16 0h1m23 0h1m-41 1h1m35 0h1m-22 1h1m1 0h1m12 0h1m12 0h1m-74 1h1m12 0h2m1 0h1m18 0h1m22 0h1m5 0h1m-39 1h1m18 1h1m7 1h1m-52 1h1m7 0h1m4 0h1m23 0h1m-23 1h1m10 0h1m31 0h1m4 0h1m-10 1h1m-2 1h1m-59 1h1m32 0h1m39 0h1m-70 1h1m15 0h1m12 0h1m1 0h1m-36 1h1m9 0h1m-11 1h1m42 0h1m33 0h1m-82 1h1m25 0h1m48 0h1m-49 1h1m4 0h1m35 0h2m5 0h1m-58 1h1m2 0h1m6 0h1m50 0h1m-60 1h1m50 0h1m-36 1h1m33 0h1m-68 2h1m17 0h1m20 1h1m-25 1h1m50 0h1m-52 1h1m20 0h1m18 0h1m25 0h1m-21 1h1m-36 2h1m1 0h2m2 0h1m16 0h1m-30 1h1m22 1h1m-7 2h1m8 0h1m5 0h1m1 0h1m2 0h1m-54 1h1m6 0h1m28 0h1m2 0h1m-47 1h1m9 0h1m18 0h1m10 0h1m-42 1h1m22 0h1m8 0h1m3 0h1m17 0h1m-13 1h1m1 0h1m7 0h1m-6 1h1m-13 1h1m17 0h1m28 0h1m-79 1h1m26 1h1m17 0h2m20 0h1m-49 1h1m-2 1h1m48 0h1m-44 1h1m3 0h1m6 0h1m26 0h1m17 2h1m-74 2h1m34 0h1m-45 1h2m18 0h1m23 0h1m10 0h1m17 0h1m-62 1h1m54 0h1m8 0h1m-76 1h1m30 0h1m4 0h2m5 0h1m11 0h1m30 0h1m-71 1h1m3 0h1m42 0h1m-45 1h1m5 0h1m9 0h1m3 0h1m-24 1h1m5 0h1m51 0h1m-45 1h1m50 0h1m-23 1h1m6 1h1m19 0h1m-68 1h1m18 0h1m-21 1h2m59 0h1m-69 2h1m1 0h1m13 1h1m11 0h1m13 0h1m-57 1h1m33 0h1m-30 1h1m2 0h1m1 0h1m45 0h1m14 0h1m15 1h1m-75 1h1m30 0h1m11 0h1m2 0h1m9 0h1m-28 1h1m26 0h1m7 0h1m-10 1h1m-31 2h1m12 0h1m-38 1h1m19 0h1m4 0h1m1 0h1m31 0h1m13 0h1m-66 2h1m9 0h1m3 0h1m52 0h1m-73 1h2m3 0h1m-11 1h1m2 0h1m32 0h1m30 0h1m-69 1h1m11 0h1m22 0h1m7 0h1m29 0h1m-25 1h1m2 0h1m-49 1h1m12 0h1m22 0h1m-16 1h1m44 0h1m-65 1h1m7 0h1m16 0h1m8 0h1m4 0h1m6 0h1m14 0h1m2 0h1m-58 1h1m55 0h1m-68 1h1m30 0h1m36 0h1m-58 1h1m9 0h1m43 0h1m-70 1h1m1 0h1m39 1h1m-10 1h1m6 0h1m4 1h1m30 1h1m-71 1h1m64 0h1m-9 1h1m15 0h2m-78 1h1m3 0h1m16 0h1m47 0h1m-42 1h1m24 0h1m-48 1h1m11 0h1m7 0h1m14 0h1m-27 1h1m2 0h1m10 0h1m-26 1h1m44 0h1m0 1h1m21 0h1m-78 1h1m39 0h1m5 0h1m1 0h1m19 0h1m9 0h1m-63 1h1m3 0h1m-15 1h1m33 0h1m12 0h1m-34 2h1m34 1h1m-24 1h1m11 0h1m13 0h1m8 0h1m-56 1h1m-6 1h2m38 0h1m30 0h1m-46 1h1m37 0h1m3 0h1m-82 1h1m70 0h1m-15 1h1m-33 1h1m41 0h1"/>
<path stroke="#8afe7f" d="M81 0h1m-76 1h1m8 1h1m8 0h1m28 0h1m4 0h1m-53 1h1m9 0h1m69 0h1m-58 1h1m41 0h1m14 0h1m-85 1h1m5 0h1m13 0h1m8 0h1m2 0h1m51 0h1m-81 1h1m43 0h1m37 0h1m-86 1h1m10 0h1m36 0h2m8 0h1m1 0h1m5 0h1m12 0h1m-82 1h1m25 0h1m-12 1h1m38 0h1m30 0h1m-69 1h1m50 0h1m-69 3h2m16 0h1m38 0h1m6 0h1m-62 1h1m5 0h1m25 0h1m10 0h1m13 0h1m8 0h1m1 0h1m7 0h1m-64 1h1m52 0h1m-30 1h1m18 0h1m28 0h1m-66 1h1m12 0h2m-4 1h1m38 0h1m-73 1h1m17 0h1m5 0h1m4 0h1m53 0h1m-42 1h1m1 0h1m-37 1h1m-10 1h1m5 0h1m54 1h1m-35 1h1m1 0h1m9 1h1m40 0h1m-60 1h1m34 0h1m-56 1h1m6 0h1m19 0h1m15 0h1m25 0h1m13 0h1m-86 1h1m1 0h2m77 0h2m-7 1h1m-56 1h1m41 0h1m16 0h1m-40 1h1m17 0h1m12 0h1m5 0h1m2 0h1m-64 2h1m6 1h1m41 0h1m7 0h1m-69 1h1m63 1h1m-42 1h1m-23 1h1m47 0h1m4 0h1m-35 1h1m5 0h1m6 0h1m7 0h1m14 0h1m-30 1h1m21 0h1m-32 1h1m10 0h1m25 0h1m17 0h1m-29 1h1m14 0h1m12 0h1m-20 1h1m-41 1h1m17 0h1m3 0h1m31 0h1m10 0h1m-84 1h1m34 0h1m-14 1h1m16 0h1m7 1h1m21 0h1m-64 1h1m2 0h1m2 0h1m2 0h1m19 0h1m2 0h1m6 0h1m19 0h1m9 0h1m-18 1h1m4 0h2m-64 1h1m7 0h1m3 0h1m59 0h1m-74 1h1m2 0h1m7 0h1m3 1h1m-5 1h1m28 0h1m-23 1h1m43 0h1m20 0h1m-30 1h1m-44 1h1m6 0h1m14 0h1m43 0h1m-58 1h1m40 1h1m-38 1h1m34 0h1m-62 1h1m32 0h1m18 0h1m16 0h1m-63 1h1m21 0h1m40 0h1m-52 1h1m4 0h1m33 0h1m2 0h1m6 0h1m4 0h1m-62 1h1m51 0h1m9 0h1m-76 1h1m16 1h1m25 0h1m1 0h1m14 0h1m13 1h1m4 0h1m-80 1h1m18 0h1m9 0h1m53 0h1m-8 1h1m10 0h1m-19 1h1m19 0h1m-90 1h1m2 0h1m12 0h1m44 0h1m1 0h1m11 0h1m-24 1h1m25 0h1m-41 1h1m47 0h1m-86 1h1m27 0h1m26 0h1m26 0h1m-75 1h1m29 0h1m34 0h1m-43 1h1m20 0h1m19 0h1m-72 1h1m13 0h1m15 0h1m3 0h1m1 0h1m32 0h1m12 0h1m-71 1h1m12 0h1m12 0h1m-40 1h1m13 0h1m53 0h1m1 0h1m7 1h1m-49 1h1m42 0h1m-66 1h1m33 1h1m-24 1h1m20 0h1m-32 1h1m34 0h1m-31 1h1m10 0h1m-13 1h2m17 0h1m-33 1h1m24 0h1m40 0h1m9 0h1m-32 1h2m19 0h1m-68 2h1m1 0h1m3 0h1m2 0h1m44 1h1m-49 2h2m71 0h1m-48 1h2m47 0h1m-28 1h1m30 0h1m-54 1h1m-1 1h1m-8 1h1m19 1h1m7 0h1m28 0h1m-67 1h1m10 0h1m8 0h1m8 0h1m24 0h1m13 0h1m-52 1h1m-8 2h2m8 1h1m45 0h1m-83 1h1m4 0h1m16 0h2m3 0h1m32 0h1m10 0h1m1 0h1m-57 1h1m20 0h1m4 0h1m21 0h1m-39 1h1m8 1h1m9 0h1m27 0h1m2 0h1m-74 1h1m7 0h1m39 0h1m-34 1h1m-12 1h1m34 0h1m15 0h1m26 0h1m2 0h1m-86 1h1m30 1h1m13 0h1m-45 1h1m6 0h1m45 0h1m11 1h1m18 0h1m-52 1h1m35 1h1m-74 1h1m9 0h1m57 0h1m11 0h2m-41 1h1m-43 1h1m16 0h1m10 1h1m39 0h1m-69 1h1m7 0h1m26 0h1m32 0h1m14 0h1m-60 1h1m18 0h1m-10 1h1m31 0h1m-15 1h1m1 0h1m11 0h1m-67 1h1m6 0h1m9 0h1m1 0h1m56 0h1m-74 1h1m28 0h2m6 0h1m8 0h1m26 0h1"/>
<path stroke="#97fe8e" d="M0 0h1m73 0h1m-50 1h1m47 0h1m-38 1h1m8 0h1m1 0h1m27 1h1m-67 1h1m59 0h1m9 0h1m-51 1h1m18 0h1m25 0h1m10 0h1m-64 1h1m16 0h1m14 0h1m6 0h1m-49 1h1m2 1h1m19 0h1m29 1h1m-45 1h1m61 0h1m-73 1h1m12 0h1m48 0h1m-74 1h1m65 0h1m7 0h1m-66 1h1m27 0h1m22 0h1m-56 1h1m67 0h1m-65 1h1m-6 1h1m3 0h1m36 0h1m-35 1h1m18 0h1m-27 1h1m67 0h1m-65 1h1m7 0h1m3 0h1m7 0h1m28 0h1m11 1h1m12 0h1m4 0h1m-51 1h1m32 0h1m1 0h1m-29 1h1m2 0h1m39 0h1m-74 1h1m67 0h1m-83 1h1m32 1h1m3 0h1m31 0h1m-41 2h1m18 0h1m17 0h1m11 0h1m-63 1h1m-3 1h1m5 0h1m18 0h1m11 0h1m-22 1h1m3 0h2m13 0h1m-36 1h1m20 1h1m36 0h1m9 0h1m2 0h1m-78 1h1m9 0h1m56 0h1m-42 2h1m6 0h1m20 0h1m-22 1h1m-36 1h1m7 0h1m46 0h1m14 0h1m-75 1h1m34 0h1m31 0h1m6 0h1m4 0h1m-79 1h1m25 0h1m15 0h1m-42 2h1m38 0h1m8 0h1m-50 2h1m76 0h1m-33 1h1m33 0h1m1 0h1m-50 1h1m33 0h1m6 0h1m-52 1h1m34 0h1m8 0h1m8 0h1m-46 1h1m-22 1h1m52 0h1m6 0h1m6 0h2m-71 1h1m33 0h1m-36 1h1m23 0h1m-4 1h1m33 0h1m7 0h1m-72 1h1m11 0h1m6 0h1m2 0h1m-18 1h1m49 0h1m30 0h1m-74 1h1m3 0h1m47 0h1m-64 1h1m-3 1h1m6 0h1m8 0h1m46 0h1m9 0h1m2 1h1m-71 1h1m34 0h1m3 0h1m-2 1h2m28 0h1m-72 1h1m19 0h2m21 0h1m-39 1h1m37 0h1m32 0h1m-48 1h1m51 1h1m1 0h1m-79 1h1m-3 1h1m44 0h1m3 0h1m-44 1h1m19 0h1m14 1h1m7 1h1m2 0h1m18 0h1m-39 1h1m21 0h1m-55 1h1m23 0h1m7 0h1m28 1h1m15 0h1m1 0h1m-83 1h1m10 0h1m62 0h1m-56 1h1m31 0h1m7 0h1m22 0h1m-89 1h1m25 0h1m33 0h1m19 0h1m-66 1h1m10 0h1m20 0h1m7 0h1m-37 1h1m17 0h1m30 0h1m-52 1h1m55 0h1m-61 1h1m75 0h1m-55 1h1m14 1h1m9 0h1m-38 1h1m22 0h1m4 0h1m30 0h1m-79 1h1m4 0h1m11 0h1m29 0h1m-20 1h1m-19 1h1m22 0h1m13 1h1m14 0h1m20 0h1m-81 1h1m9 1h1m-17 1h1m1 0h1m10 1h1m15 0h1m15 0h1m40 0h1m-57 1h1m1 0h1m4 0h1m42 1h1m-78 1h1m15 0h1m6 0h1m-25 1h1m49 1h1m12 0h1m19 0h1m-37 1h1m13 0h1m9 0h1m-75 1h1m2 0h1m37 0h1m-26 2h1m22 0h1m12 0h1m-41 1h1m8 0h1m2 0h1m7 0h1m7 0h1m20 1h1m-14 1h1m8 0h1m-57 2h1m53 0h1m14 0h1m-71 1h1m4 0h1m10 0h1m40 0h1m-46 1h1m2 0h1m42 1h1m5 0h1m4 0h1m4 0h1m-56 1h1m32 0h1m-19 1h2m35 0h1m11 0h1m-74 1h1m11 0h1m57 0h1m5 1h1m-83 1h1m16 0h1m2 0h1m22 0h1m-48 1h1m35 0h1m28 0h1m3 0h1m7 0h1m-68 1h1m35 0h1m13 0h1m24 0h1m-14 1h1m-56 1h1m47 0h1m10 0h1m8 0h1m-57 1h1m42 0h1m7 0h1m-62 1h1m44 0h2m12 0h1m-67 1h1m10 0h1m28 0h1m-44 1h1m7 0h1m14 0h1m4 0h1m12 0h1m7 0h1m-29 1h1m40 0h1m1 0h1m-44 1h1m46 0h1m-9 1h1m-36 1h1m10 0h1m-39 1h1m1 0h1m19 0h1m14 0h1m-33 1h1m25 1h1m25 0h1m1 0h1m16 0h1m-70 1h1m11 0h1m4 0h1m18 0h1m17 0h1"/>
<path stroke="#a5fe9d" d="M37 0h1m35 0h1m9 0h1m-30 1h1m1 0h1m10 0h1m18 0h1m-78 1h1m33 0h1m10 0h1m6 0h1m-24 1h1m-26 1h1m33 0h1m2 0h1m29 0h1m-66 1h1m63 0h1m-48 1h1m0 2h1m14 0h1m-13 1h1m34 0h1m10 0h1m-79 1h1m3 0h1m33 0h1m15 0h1m7 0h1m5 0h2m-72 1h1m32 0h1m43 0h1m-26 1h1m30 0h1m-26 1h1m17 0h1m8 0h1m-86 1h1m15 0h1m2 0h1m67 0h1m-51 1h1m19 1h1m3 0h1m-61 1h1m2 0h1m9 0h1m16 0h1m13 0h1m17 0h1m17 0h1m-69 1h1m20 0h1m7 0h1m42 0h1m-64 1h1m16 0h1m11 0h1m1 0h1m4 0h1m20 0h1m-76 1h1m18 1h1m4 0h1m29 0h1m9 0h1m17 0h1m-89 1h1m48 0h1m-9 1h1m4 1h1m3 0h1m37 0h1m-79 1h1m32 0h1m14 0h1m13 0h1m13 0h1m-81 1h1m29 0h1m9 0h1m-21 1h1m21 0h1m25 0h1m3 0h1m-54 1h1m2 0h1m10 0h1m46 0h1m-61 1h1m41 0h1m16 0h1m-76 1h1m50 0h1m13 0h1m3 0h1m-45 2h1m17 0h1m11 1h1m8 0h1m-29 1h1m5 0h1m10 0h1m6 0h1m-41 1h1m52 0h1m-83 1h1m8 0h1m50 0h1m19 0h1m-29 1h3m28 0h1m-39 1h1m4 0h1m10 0h1m9 0h1m-45 1h1m-28 1h1m2 1h1m59 0h1m-50 1h1m10 0h1m1 0h1m6 0h1m18 0h1m7 0h1m3 0h1m-55 2h1m43 0h1m3 0h1m10 0h1m-9 1h1m19 0h1m-44 1h1m18 0h1m18 0h1m-74 1h1m15 0h1m30 0h1m15 0h1m20 0h1m-90 1h1m10 0h1m25 0h1m27 0h1m-38 1h1m14 0h1m33 0h1m6 0h1m-85 1h1m1 0h1m11 0h1m25 0h1m6 0h1m-9 1h1m-1 1h1m31 0h1m2 1h1m6 0h1m-43 1h1m34 0h1m-60 1h1m1 0h1m18 0h1m-15 1h1m-7 1h1m14 0h1m36 1h1m3 0h1m7 0h1m-23 1h1m21 0h1m-78 1h1m20 0h1m54 0h1m-35 1h1m-37 1h1m5 0h1m11 0h1m17 0h1m11 0h1m22 0h1m-76 1h1m3 0h1m16 0h1m6 1h1m4 0h1m12 0h1m20 0h1m-72 1h1m56 0h1m22 0h1m-74 1h1m51 0h1m10 0h1m-20 1h1m28 0h1m-82 1h1m28 0h1m34 0h1m9 0h1m-68 1h1m12 0h1m13 0h1m-23 1h1m6 0h1m1 0h1m12 0h1m41 0h2m-44 1h1m38 0h1m-42 1h1m18 0h1m-4 1h1m-3 1h1m37 0h1m1 0h1m-82 1h2m33 1h1m4 0h1m-43 1h1m14 0h1m11 0h1m22 0h1m26 0h1m-61 1h1m6 0h1m54 0h1m3 0h1m-42 1h1m9 0h1m-44 1h1m5 0h1m24 0h1m1 0h1m-7 1h1m3 0h1m16 0h1m24 0h1m-78 1h1m23 0h1m6 0h1m41 0h1m-46 1h1m43 0h1m-81 1h2m32 0h1m37 0h1m6 0h1m-63 1h1m9 0h1m32 0h1m18 0h1m4 0h1m-74 1h1m23 0h1m8 0h1m11 0h1m21 0h1m-68 1h1m37 0h1m2 0h1m-47 1h1m23 0h1m-12 1h2m13 0h1m7 0h1m-31 1h1m7 0h1m26 0h1m35 0h1m2 0h1m-82 1h1m51 1h1m30 0h1m-59 1h1m2 0h1m29 0h1m-14 1h1m-9 1h1m26 0h1m-66 1h1m29 0h1m3 0h1m23 0h1m14 0h1m-33 1h1m9 0h1m2 1h1m1 0h1m-36 1h1m26 0h1m32 0h1m-77 1h1m20 0h1m37 0h1m8 0h1m-42 1h1m40 0h1m-51 1h1m8 0h1m18 0h1m31 0h1m-68 1h1m66 0h1m-32 1h1m-17 1h1m9 0h1m26 1h1m-78 1h1m7 0h1m4 0h1m35 0h1m34 0h1m-36 1h1m-11 1h1m19 0h1m27 0h1m-47 1h1m-16 1h1m4 0h1m7 0h2m11 0h1m23 0h1m-66 1h1m11 0h1m57 0h1m-74 1h1m16 0h1m27 0h1m15 0h1m-28 1h1m34 0h1m-40 1h1m-18 1h1m13 0h1m23 0h1m-38 1h1m8 0h1m16 0h1m13 0h1m15 1h1m9 0h1m-33 1h1m15 0h1m-66 1h1m4 0h1m5 0h1m-3 1h1m42 0h1m-54 1h1m45 0h1m-53 1h1m47 0h1m12 0h1m4 0h1m3 0h1m4 0h1m5 0h1m-69 1h1m10 0h1m11 0h1m11 0h1m34 0h1m1 0h1m2 0h2m-37 1h1m-45 1h1m33 0h1m2 0h1m15 0h1m17 0h1m-40 1h1m3 0h1m18 0h1"/>
<path stroke="#b3feac" d="M30 0h1m5 0h1m22 0h1m-37 1h1m37 0h1m-32 2h1m26 0h1m-52 1h1m29 0h1m9 0h1m-36 1h1m58 0h1m-59 1h1m4 0h1m40 0h1m-28 1h1m14 0h1m9 0h1m-53 1h1m-1 1h1m42 0h1m-33 1h1m46 0h1m12 0h1m-66 1h1m3 0h1m26 0h1m15 0h1m-27 1h1m-23 1h1m25 0h1m27 0h1m-23 2h1m6 0h1m-47 1h1m28 0h1m13 0h1m25 2h1m-54 1h1m6 0h1m20 0h1m10 0h1m24 0h1m3 0h2m-76 1h1m13 0h1m6 0h1m41 0h1m2 0h1m-12 1h1m-33 2h1m11 0h1m38 0h1m-73 1h1m7 0h1m3 0h1m28 0h1m21 0h1m-78 2h1m71 0h1m16 0h1m-55 1h1m6 0h1m1 0h1m20 0h1m-59 1h1m13 0h1m14 0h1m42 0h1m-80 1h1m5 0h1m30 1h1m39 0h1m-73 1h1m15 0h1m25 0h1m28 0h1m5 0h1m-36 1h1m16 0h1m-62 1h1m33 0h1m24 0h1m7 0h1m-57 1h1m9 0h1m30 0h1m2 0h1m-59 1h1m1 0h1m11 0h1m1 0h1m42 0h1m13 0h1m-40 1h1m5 0h1m2 0h2m5 0h1m35 0h1m-42 2h1m23 0h1m-70 1h1m43 0h1m-42 1h1m11 0h1m11 0h1m38 0h1m2 0h1m-63 1h1m3 0h1m1 0h1m1 0h1m47 0h1m13 0h1m-65 1h1m2 1h1m8 0h1m2 0h1m15 0h1m25 0h2m4 0h1m11 0h1m-31 1h1m-15 1h1m4 0h1m9 0h1m22 0h1m-24 2h1m13 0h1m2 0h1m-15 1h1m7 0h1m16 1h1m-85 1h1m34 0h1m-32 1h1m35 0h1m9 0h1m0 1h1m7 0h1m-62 1h1m74 0h1m1 0h1m3 1h1m-33 2h2m19 0h1m-62 1h1m45 0h1m-28 1h1m36 0h1m2 0h1m9 0h1m-27 1h1m-38 1h1m12 0h1m46 0h1m-22 1h1m2 0h1m13 0h1m-62 1h1m20 0h1m54 0h1m-61 1h1m5 0h1m9 0h1m-43 1h1m48 0h1m7 0h1m2 0h1m-30 1h1m-1 1h1m18 1h1m24 0h1m-72 1h1m2 0h1m2 0h1m7 0h1m12 0h1m40 0h1m10 0h1m-76 1h1m17 0h1m23 0h1m1 0h1m5 0h1m20 0h1m-14 2h1m-67 3h1m17 0h1m18 0h1m25 0h1m2 0h1m3 1h1m-68 1h1m21 0h1m-15 1h1m2 0h1m12 0h1m39 0h2m5 0h1m6 0h1m-78 1h1m60 0h1m5 0h1m15 0h1m-82 1h1m64 0h1m14 0h1m-78 1h1m6 0h1m2 0h1m3 0h1m31 0h1m19 0h1m-58 1h1m18 0h1m21 1h1m13 0h1m9 0h1m-68 1h1m46 0h1m-10 1h1m2 0h1m-59 1h1m19 0h1m21 0h1m6 0h1m8 0h1m30 0h1m-89 1h1m21 0h1m21 0h1m7 0h1m-14 1h1m17 1h1m25 0h1m-79 1h1m6 0h1m2 0h1m47 0h1m3 0h1m20 0h1m-60 1h1m47 0h1m-77 1h2m34 0h1m9 0h1m-26 1h1m14 0h1m15 0h1m19 0h1m8 0h1m-55 1h1m8 0h1m-37 1h1m5 0h1m11 0h1m9 0h1m6 1h1m-26 1h1m1 0h1m59 0h2m-54 1h1m35 0h1m-12 1h1m-47 1h1m33 0h1m12 0h2m30 0h1m-68 1h1m12 0h1m8 0h1m3 0h1m9 0h1m7 0h1m7 0h1m-38 1h1m37 0h1m14 0h1m-81 1h1m19 0h1m13 1h1m14 0h1m10 0h1m-45 1h1m6 0h1m8 0h1m-30 1h1m8 0h1m4 0h1m23 0h1m20 0h1m18 0h1m6 0h1m-72 1h1m12 0h1m50 0h1m-12 1h1m15 0h1m-68 1h1m49 0h1m-47 1h1m18 0h1m18 0h1m23 0h1m-36 1h1m4 0h1m7 0h1m-23 1h1m18 0h1m-5 1h1m27 0h1m-67 1h1m21 0h1m2 0h1m19 0h1m-45 2h1m47 0h1m12 0h1m-64 1h1m30 0h1m-48 1h1m38 0h1m29 0h1m7 0h1m3 0h1m-13 1h1m-64 1h1m39 0h1m-41 1h1m69 0h1m-48 1h1m10 0h1m22 0h1m1 0h1m14 0h1m-45 1h1m22 0h1m-60 1h1m15 0h1m49 0h1m-51 1h1m37 0h1m19 0h1m-67 1h1m9 0h1m55 0h1m9 1h1m-48 1h1m15 0h1m29 0h1"/>
<path stroke="#c1febb" d="M63 0h1m16 0h1m-74 1h1m5 0h1m48 0h1m-40 1h1m4 0h1m9 0h1m11 0h2m36 0h1m-87 1h1m10 0h1m40 0h1m11 0h1m2 0h1m13 0h1m-50 1h1m23 0h1m26 0h1m-69 1h1m3 0h1m20 0h1m17 0h1m3 0h1m24 0h1m-61 1h1m4 0h1m37 0h1m14 0h1m-66 1h1m27 0h1m4 0h1m29 0h1m-78 1h1m30 0h1m11 0h1m1 0h1m-31 1h1m19 0h1m4 0h1m27 0h1m-64 1h1m5 0h1m11 0h1m17 0h1m-37 1h1m9 0h1m4 0h1m7 0h1m-13 2h1m3 0h2m8 1h1m43 0h1m-81 1h1m23 0h1m23 0h1m2 0h1m-51 1h1m30 0h1m7 0h1m11 0h1m-1 1h1m2 0h1m-38 1h1m32 0h1m24 0h1m-74 1h1m38 0h1m-8 1h1m2 0h1m-12 1h1m15 0h1m16 0h1m26 0h1m-57 1h1m18 0h1m5 0h1m-40 1h1m13 0h1m33 0h1m3 0h1m3 0h1m-41 1h1m-29 1h1m4 0h1m6 0h1m15 0h1m11 0h1m40 0h1m-87 1h1m31 0h1m30 0h1m7 0h1m-43 1h1m-28 1h1m51 0h1m2 0h1m-37 1h2m8 0h1m4 0h1m7 0h1m15 0h1m26 0h1m-47 1h1m43 0h1m-62 1h1m27 0h1m-51 1h1m19 0h1m4 0h1m15 0h1m8 0h1m7 0h1m6 0h1m-26 1h1m18 0h1m-53 1h1m9 0h1m7 0h1m14 0h1m-14 1h1m42 0h1m5 0h1m-81 1h1m30 0h1m10 1h1m8 0h1m5 1h1m16 0h1m12 0h2m-37 1h1m7 0h1m1 0h1m16 0h1m2 0h1m2 0h2m-81 1h1m26 0h1m8 0h1m-21 1h1m61 0h1m-48 1h1m-31 1h1m3 0h1m38 0h1m2 0h1m-51 1h1m9 0h1m66 0h1m-66 1h1m3 0h1m27 0h1m3 0h1m5 0h1m22 0h1m-14 1h1m-10 1h1m15 0h1m2 0h1m-58 1h1m66 0h1m-49 1h1m23 0h1m1 0h1m6 0h1m-55 1h1m54 0h1m-54 1h1m8 0h1m4 0h1m-2 1h1m-26 1h1m16 0h1m9 0h1m24 0h1m8 0h1m15 0h1m-45 2h1m39 0h1m-40 1h1m27 0h1m-33 1h1m49 0h1m-5 1h1m-30 1h1m14 0h1m6 0h1m8 0h1m-78 1h1m27 0h1m26 0h1m22 0h1m-53 1h1m32 0h1m9 0h1m-75 1h1m26 0h1m23 0h1m14 0h2m12 0h1m-29 1h1m20 0h1m5 0h1m-62 1h1m30 0h1m11 0h1m-29 1h1m-14 1h1m-16 1h1m32 0h1m4 0h1m-44 1h1m19 1h1m17 0h1m44 0h1m-31 1h1m-54 2h1m3 0h2m5 0h1m8 0h1m20 0h1m0 1h1m23 0h2m6 0h1m5 0h1m-58 1h1m12 1h1m23 0h1m18 1h1m-62 1h1m26 0h1m34 0h1m1 0h1m-72 2h1m3 0h1m18 0h1m36 0h1m-40 1h1m-35 1h1m32 0h1m42 0h1m-53 1h1m13 0h1m11 0h1m20 0h1m1 0h1m-42 1h1m13 0h1m14 0h1m-58 1h1m25 0h1m43 1h1m-65 1h1m8 0h1m21 0h1m25 0h1m7 0h1m10 0h1m-45 1h1m10 0h1m15 0h1m-70 1h1m20 0h1m7 0h1m53 0h1m-50 1h1m32 0h1m-29 1h1m31 0h1m14 0h1m-77 1h1m20 0h1m51 0h1m-47 2h1m-9 1h1m20 0h1m6 0h1m22 0h1m-69 1h1m17 0h1m11 0h1m11 0h1m4 0h1m-20 1h1m7 0h1m15 0h1m-62 1h1m29 0h1m24 0h1m19 0h1m-78 1h1m26 0h1m12 0h1m7 0h1m5 0h1m11 0h1m-63 1h1m22 0h1m-11 1h1m42 0h1m-39 1h1m-22 1h1m72 0h1m8 0h1m-84 1h1m56 0h1m16 0h1m10 0h1m-62 1h1m15 1h1m33 0h1m-77 1h1m18 0h1m1 0h1m29 0h1m30 0h1m1 0h1m-48 1h1m41 0h1m-75 1h1m-4 1h1m5 0h1m10 0h1m13 0h1m19 0h1m6 0h1m11 0h1m2 0h1m-27 1h1m-42 1h1m34 0h1m3 0h1m15 0h1m-31 1h1m-12 1h1m15 0h1m-32 1h1m19 0h1m15 0h1m18 0h1m6 0h1m-63 1h1m46 0h1m-14 1h1m1 0h1m-45 1h1m10 0h1m8 0h1m-1 1h1m7 0h1m48 0h1m-58 1h1m63 0h1m-71 1h1m21 0h1m-22 1h1m35 0h1m1 1h1m10 0h1m-39 1h1m10 0h1m8 0h1m6 0h1m13 0h1m-53 1h1m24 0h1m16 0h1m-56 1h1m11 0h1m7 0h1m58 0h1m-49 1h1m13 0h1m23 0h1m17 0h1m-73 1h1m69 0h1"/>
<path stroke="#cfffca" d="M18 0h1m9 0h1m11 0h1m-37 1h1m10 0h1m1 0h1m1 0h1m-7 1h1m8 0h1m47 0h1m2 1h1m2 0h1m5 0h1m-35 1h1m-30 1h1m24 0h1m14 0h1m18 0h1m9 2h1m-66 1h1m26 0h1m23 0h1m-17 1h1m-27 2h1m53 0h1m1 0h1m-54 1h1m3 0h1m-37 1h1m38 0h1m1 0h1m1 0h1m6 0h1m27 0h2m6 0h1m-79 1h1m46 0h1m-53 1h1m1 0h1m34 0h1m12 0h1m21 0h1m-17 1h1m13 0h1m-77 1h1m10 0h1m15 0h1m16 0h1m6 0h1m27 3h1m-78 1h1m52 1h1m4 0h1m4 0h1m15 0h1m4 0h1m-30 1h1m26 0h1m4 0h1m-73 1h1m7 1h1m-15 1h1m44 0h1m-51 1h1m11 0h1m44 1h1m-37 1h1m25 0h1m27 0h1m-67 1h1m23 0h1m1 0h1m10 0h1m-46 1h1m10 0h1m31 0h1m22 0h1m-66 1h1m59 0h1m13 0h1m-53 1h1m14 0h1m-46 1h1m3 0h1m27 0h1m20 0h1m12 0h1m-40 1h1m47 0h1m11 0h1m-77 1h1m25 0h1m27 0h1m12 0h1m-60 1h1m23 0h1m2 0h1m16 0h1m3 0h1m3 0h1m-59 1h1m5 0h1m30 0h1m-44 1h1m62 0h1m-60 1h1m56 0h1m-30 1h1m9 0h1m10 0h1m-23 1h1m40 0h1m-68 1h1m20 1h1m3 0h1m4 0h1m44 0h1m1 0h1m-4 1h1m-19 1h1m18 0h1m-13 1h1m5 0h1m-76 1h1m48 0h1m26 0h1m-78 2h2m41 0h1m-9 1h1m19 0h1m3 0h1m2 0h1m6 0h1m-54 2h1m8 0h1m27 0h1m-6 1h1m5 0h1m-34 2h1m29 0h1m9 0h1m12 0h1m1 0h1m-81 1h1m9 0h1m21 0h1m-24 1h1m7 0h1m2 0h1m24 0h1m8 0h1m29 0h1m-86 2h1m6 0h1m31 0h1m36 1h1m-46 2h1m12 0h1m40 0h1m-37 1h1m12 0h1m1 0h1m-58 1h1m16 0h1m44 0h1m-54 1h1m-15 1h1m2 0h1m19 0h1m1 0h1m56 0h1m1 0h2m-86 1h1m20 0h1m27 0h1m2 0h1m-39 1h1m13 0h1m22 1h1m28 0h4m-80 1h1m40 0h1m2 0h1m25 0h1m-40 1h1m27 0h1m-49 1h1m37 0h1m12 0h1m3 0h1m-20 1h1m9 0h1m4 0h1m2 0h1m-72 1h1m10 0h1m2 0h1m68 0h1m-55 1h1m3 0h1m10 0h1m15 0h1m-6 1h1m6 0h1m9 0h1m12 0h1m-74 1h1m28 0h1m15 0h1m10 0h1m-23 1h1m16 0h1m9 0h1m-27 1h1m-45 1h1m50 0h1m1 1h1m-43 1h1m3 0h1m5 0h1m52 0h1m5 0h1m-75 1h1m51 0h1m-48 1h1m17 0h1m44 0h1m-47 1h1m32 0h1m-36 1h1m5 0h1m23 0h1m-43 1h1m27 0h1m5 0h1m10 0h1m14 0h1m-57 1h1m54 0h1m-60 1h1m38 0h1m-26 2h2m6 0h1m20 0h1m28 0h1m-56 1h1m8 0h1m13 1h1m14 0h1m-11 1h1m19 0h1m-65 1h1m11 0h1m30 0h1m8 0h1m-35 1h1m46 1h1m-62 2h1m24 0h1m7 0h1m32 0h1m-88 1h1m30 0h1m-15 1h1m25 0h1m26 1h1m-2 2h1m4 0h1m-74 1h2m5 0h1m16 0h1m12 0h1m-3 1h1m30 0h1m4 0h1m-72 1h1m21 0h1m12 0h1m12 0h1m24 0h1m-42 2h2m3 0h1m-33 2h1m10 0h1m2 0h1m26 0h1m1 0h1m2 0h1m5 0h1m-8 1h1m33 0h1m-78 1h1m13 0h1m7 0h1m3 0h1m46 0h1m-78 1h1m28 0h1m10 0h1m10 0h1m-17 1h2m22 0h1m3 0h1m9 0h1m-65 1h1m15 0h1m-5 1h1m15 0h1m46 0h1m-13 1h1m3 0h1m5 0h1m-57 1h2m21 0h1m14 0h1m7 0h1m-65 1h1m23 0h1m-14 1h1m24 0h2m-40 1h1m21 0h1m42 0h1m-74 1h1m16 0h1m29 0h1m-42 1h1m45 0h1m21 0h1m8 0h1m-85 1h1m8 0h1m17 0h1m33 0h1m14 0h1m-32 1h1m3 0h1m9 0h1"/>
<path stroke="#dcffd9" d="M25 0h1m17 0h1m8 0h1m-51 1h1m26 0h1m14 0h1m21 0h1m-28 1h1m-30 1h2m31 0h1m35 0h1m-63 1h1m10 0h1m6 0h1m17 0h1m6 0h1m-60 1h1m14 0h1m7 0h1m16 0h1m-26 1h1m60 0h1m-71 1h1m59 0h1m18 0h1m-87 1h1m59 0h1m5 0h1m1 0h1m4 0h1m4 0h3m-53 1h1m-22 1h1m17 0h1m7 0h1m6 0h1m5 0h1m7 0h1m27 0h1m6 0h1m-41 1h1m13 0h1m-57 1h1m5 0h1m27 0h1m24 0h1m5 0h1m4 0h1m1 0h1m-8 1h1m-73 1h1m43 0h1m20 0h1m-66 1h1m18 0h1m22 0h1m25 0h1m6 0h1m-61 1h1m6 0h1m2 0h1m13 0h1m9 0h2m-34 2h1m5 0h1m36 0h1m2 0h1m4 0h1m14 0h1m1 0h1m-18 1h1m-40 1h1m19 0h1m-49 1h1m33 0h1m8 0h1m14 0h1m-20 1h1m13 0h1m-25 1h1m20 0h1m-48 1h2m23 0h1m15 0h1m11 0h1m1 0h1m5 1h1m-35 1h1m17 0h1m-27 1h1m63 0h1m-53 1h1m9 0h1m34 0h1m-59 1h1m5 0h1m-20 1h1m23 0h1m42 0h1m5 0h1m-80 1h1m12 0h1m11 0h1m3 0h1m28 0h1m13 0h1m12 0h2m-41 2h1m8 0h1m2 0h1m-46 1h2m21 0h1m17 0h1m3 0h1m17 0h1m6 0h1m1 0h1m-25 1h1m12 0h1m-76 1h1m25 0h1m35 0h1m-57 1h1m2 0h1m20 0h1m7 0h1m39 0h1m7 0h1m-77 1h1m45 0h1m-30 1h1m38 0h1m-31 1h1m1 0h1m-8 1h1m20 0h1m-21 1h1m1 0h1m4 0h1m35 0h1m-68 2h1m14 1h1m-10 1h1m4 0h1m1 0h1m23 0h1m-30 1h1m-15 1h1m7 1h1m44 0h1m11 0h2m18 0h1m-53 1h1m41 0h1m-64 1h2m40 0h1m29 0h1m-51 1h1m47 0h1m-48 1h1m4 0h1m-5 1h1m9 0h1m-35 1h1m21 0h1m5 0h1m18 0h1m8 0h1m5 0h1m-10 1h1m3 0h1m2 0h1m-55 1h1m12 0h1m41 0h1m-54 1h1m2 0h1m-7 1h1m9 0h1m2 0h1m8 1h1m34 0h1m1 0h1m1 0h1m-9 1h1m9 0h1m2 0h1m-23 1h1m9 0h1m-58 1h1m49 0h1m-67 1h1m60 0h1m-62 1h1m16 1h1m19 0h1m4 1h3m20 0h1m4 1h1m-71 1h1m8 0h1m36 0h2m-40 1h1m15 0h1m22 0h1m6 0h1m21 0h1m2 0h1m-59 2h1m4 0h1m17 0h1m-32 1h1m53 0h1m-45 1h1m2 0h1m4 0h1m14 0h1m-16 1h1m1 0h1m3 0h1m8 0h1m5 0h1m10 0h1m-9 1h1m20 0h1m-77 1h1m38 0h1m5 0h1m-3 1h1m19 0h1m-55 1h1m17 0h1m32 0h1m1 0h1m-36 1h1m23 0h1m13 0h1m2 0h1m6 0h1m-52 1h1m-12 1h1m6 0h1m1 0h1m-13 1h1m36 0h1m20 0h1m8 0h1m1 0h1m-46 1h1m-32 1h1m74 0h1m-39 1h1m3 0h1m16 0h1m19 0h1m-72 1h1m17 0h1m41 0h1m-52 1h1m3 0h1m23 0h2m6 0h1m-23 1h1m16 0h1m7 0h1m5 0h1m-28 2h1m12 0h1m14 0h1m18 0h1m-83 2h1m7 0h1m46 0h1m7 0h1m-54 1h1m2 0h1m11 0h1m-29 1h1m2 0h1m78 0h1m-76 1h1m19 0h1m26 0h1m1 0h1m-58 1h1m6 0h1m18 0h1m25 0h1m26 0h1m-65 1h1m33 0h1m25 0h1m3 0h1m8 0h1m-69 1h1m34 0h1m-45 1h1m16 0h1m-16 1h1m24 0h1m6 0h1m-37 1h2m13 1h1m61 0h1m-85 2h1m31 0h1m21 0h1m31 0h1m-70 1h1m25 0h1m-43 1h1m39 0h1m9 0h1m-12 1h1m15 0h1m9 0h1m-56 1h1m12 0h1m2 0h1m20 0h1m-36 1h1m68 0h1m4 0h1m-68 1h1m42 0h1m5 0h1m1 0h1m-27 1h1m32 0h1m-3 1h1m9 0h1m-69 1h1m41 0h1m-50 1h1m1 0h1m33 0h1m29 1h1m-57 1h1m16 0h1m13 0h1m-55 1h1m16 0h1m15 0h1m12 0h1m8 0h1m4 0h1m-34 1h1m2 0h1m-2 1h1m46 0h1m5 0h1m-78 1h1m14 0h1m2 0h1m28 0h1m23 0h1m-73 1h1m7 0h1m7 0h1m26 0h1m-23 1h1m36 0h1m6 0h1m-65 1h1m74 0h1m1 1h1m-77 1h1m23 0h1m6 0h1m15 0h1m19 1h2m13 0h1"/>
<path stroke="#eaffe8" d="M6 0h1m27 0h2m19 0h1m18 1h1m-68 1h1m57 0h1m-51 1h1m21 0h1m51 0h1m-90 1h1m21 0h1m31 0h1m1 0h1m20 0h2m2 0h1m5 0h1m1 0h1m-76 1h1m35 0h1m3 0h1m6 0h2m-27 1h1m7 0h1m27 1h1m-43 1h1m-16 1h1m4 2h2m25 0h1m4 0h1m8 0h1m18 0h1m1 0h1m-56 2h1m41 0h1m-53 1h1m-7 1h1m10 0h1m7 0h1m7 0h1m20 0h1m13 0h1m-47 1h1m-26 2h1m61 0h1m-38 1h1m8 0h1m-19 1h1m-13 1h1m-4 1h1m30 0h1m44 0h1m5 0h1m-73 1h1m23 0h1m-17 1h1m20 0h2m34 0h1m4 0h1m1 0h1m-64 1h1m7 0h1m29 0h1m7 0h1m-57 1h1m66 0h1m-64 1h1m59 0h1m7 0h1m-41 1h1m-35 1h1m6 0h1m26 0h1m-26 1h1m31 0h1m18 0h1m-63 1h1m28 0h1m5 0h1m4 0h2m19 0h1m-61 1h1m2 0h1m5 0h1m51 0h1m14 0h1m-65 1h1m53 0h1m-70 1h1m19 1h1m54 0h1m-68 1h1m-1 1h1m5 0h1m8 0h1m9 0h1m-29 1h1m42 0h1m23 0h1m-34 1h1m37 0h1m-25 1h1m4 0h1m5 0h1m17 0h1m-66 1h1m24 0h1m27 0h1m12 0h1m-88 1h1m11 0h1m40 0h1m30 0h1m-51 1h1m9 0h1m7 1h1m29 0h1m-65 2h1m7 0h1m25 0h1m1 0h1m-49 2h1m33 0h1m-25 1h1m25 0h1m-38 1h1m1 0h1m11 0h1m42 0h1m-46 1h1m41 0h1m4 0h1m17 0h1m1 0h1m2 0h1m-77 1h1m3 0h1m29 0h1m4 0h1m15 0h1m11 0h1m-75 1h1m60 0h1m-57 1h1m20 0h1m4 0h1m3 0h1m7 1h1m10 0h1m-27 1h1m22 0h1m14 0h1m13 0h1m-85 1h1m52 0h1m24 0h1m-80 1h1m40 0h1m13 0h1m17 0h1m3 0h1m10 0h1m-78 1h1m37 0h1m12 0h1m-41 1h1m32 0h1m-42 1h1m34 0h1m12 0h1m-63 1h1m8 0h1m8 0h1m58 1h1m-44 1h1m11 0h1m35 0h1m5 0h1m-42 1h1m12 0h1m1 0h1m4 0h1m4 0h1m-36 1h1m13 0h1m6 0h1m-45 1h1m6 0h1m1 1h1m5 0h1m4 0h1m-25 2h1m17 0h1m29 0h1m13 0h1m13 0h1m-80 1h1m6 0h1m38 0h1m-8 1h1m4 0h1m22 0h1m12 0h1m-85 1h1m6 0h1m9 0h1m1 0h1m37 0h1m-55 1h1m48 0h1m22 0h1m2 0h1m5 0h1m-46 1h1m30 0h1m5 0h1m-80 1h1m6 0h1m80 0h1m-85 1h1m1 0h1m52 0h1m-44 1h1m25 0h1m6 0h1m5 0h1m-12 3h1m1 1h1m11 0h1m9 0h1m1 0h1m7 0h1m-34 1h1m6 0h1m19 0h1m12 0h1m-82 1h1m15 0h1m4 0h1m23 0h2m12 0h1m1 0h1m6 0h1m6 0h1m7 1h1m-63 1h1m23 0h1m11 0h1m24 0h1m-78 1h1m77 0h1m-29 1h1m5 0h1m2 0h1m-60 1h1m43 0h1m17 1h1m-64 1h1m59 0h1m1 0h1m3 0h1m-14 1h1m12 0h1m4 0h1m4 0h1m-78 1h1m18 0h1m47 0h1m-72 1h1m8 0h1m2 0h1m8 0h1m10 0h1m28 0h1m-61 1h1m11 0h1m52 0h1m9 0h1m-64 1h1m27 0h1m41 0h1m-59 1h1m-30 1h1m7 0h1m20 0h1m37 0h1m-32 1h1m19 0h1m12 0h1m-56 2h1m24 0h1m27 0h1m17 0h1m-61 1h1m2 0h1m13 0h1m23 0h1m-61 1h1m12 0h1m43 0h1m9 0h1m10 0h2m-67 1h1m29 0h1m4 1h1m2 1h1m1 1h1m15 0h1m9 0h1m-79 1h1m13 0h1m10 0h1m11 0h1m3 0h1m12 2h1m20 0h2m-17 1h1m-54 1h1m5 0h1m-21 1h1m53 0h1m16 0h1m-57 1h1m13 0h1m38 0h1m10 0h1m3 0h1m-17 1h1m20 0h1m-83 1h1m54 0h1m23 0h1m-58 1h1m4 0h1m12 0h1m12 0h1m21 0h1m-64 2h1m12 0h1m6 0h1m3 1h1m16 0h1m-54 1h1m18 0h1m12 0h1m18 0h1m-55 1h1m39 0h1m-24 1h1m18 0h1m4 0h1m5 0h1m1 0h1m31 2h1m-33 1h1m8 0h1m-55 1h1m13 0h1m5 0h2m5 0h2m30 0h1"/>
<path stroke="#f8fff7" d="M58 0h1m-23 1h1m51 0h1m-41 1h1m35 0h1m-29 1h1m1 0h1m-56 2h1m6 0h1m29 0h1m36 0h1m9 0h1m-87 1h1m45 1h1m12 0h1m14 0h1m-48 1h1m13 0h1m24 0h1m9 0h1m11 0h1m-77 1h1m3 0h1m6 0h1m34 0h1m-49 1h1m65 0h1m2 0h1m2 0h1m-69 1h1m17 0h1m41 0h1m-32 1h1m23 0h1m18 0h1m-48 1h1m26 0h1m-55 1h1m12 0h1m7 0h1m15 0h1m-46 1h1m26 0h1m25 0h1m20 0h1m-59 1h1m11 0h1m-27 1h1m5 0h1m1 0h1m13 0h1m30 0h1m10 0h1m-68 1h1m28 0h1m8 1h1m19 0h1m-31 1h1m56 0h1m-85 2h1m63 0h1m-66 1h1m1 0h1m61 0h1m-61 1h1m58 0h1m6 0h1m-54 1h1m15 0h1m36 0h1m9 0h1m-56 1h1m31 0h1m8 0h1m-19 1h1m10 0h1m2 0h1m-41 1h1m7 1h1m36 0h1m-64 1h1m14 0h1m2 0h1m-3 1h1m27 0h1m27 1h1m-59 1h1m23 0h1m36 0h1m-49 1h1m41 0h1m-41 1h1m41 0h1m-63 1h1m3 0h1m25 0h1m1 0h1m-5 1h1m38 1h1m-82 1h1m21 0h1m24 0h1m14 0h1m23 0h1m-46 1h1m-44 1h1m7 0h1m65 0h1m-33 1h1m39 0h1m-84 1h1m57 0h1m-50 1h1m26 0h1m3 0h1m10 0h1m1 0h1m25 0h1m-37 1h1m-17 1h1m58 0h1m-72 1h1m29 0h1m18 0h1m-9 1h1m-54 1h1m6 0h1m2 0h1m1 0h1m1 0h1m4 1h1m40 0h1m-60 1h1m43 0h1m27 0h1m-70 1h1m57 0h1m12 0h1m6 0h1m-60 1h1m1 0h1m27 0h1m9 0h1m12 0h1m-80 1h1m30 0h1m55 0h1m-83 1h1m71 0h1m-50 1h1m56 0h1m-73 1h1m35 0h1m10 0h1m12 0h1m12 0h1m-78 1h1m-4 1h2m10 0h1m22 0h1m-38 1h1m3 0h1m27 0h1m40 0h1m-61 1h1m4 0h1m38 0h1m18 0h1m-53 1h1m25 0h1m9 0h1m-50 1h1m63 0h1m-5 1h1m6 0h1m-74 1h1m19 0h1m36 0h1m13 0h1m2 0h1m-39 1h1m20 0h1m10 0h1m-75 1h1m13 0h1m5 0h1m9 0h1m24 0h1m2 1h1m13 0h1m-71 2h1m25 0h1m16 0h1m1 0h1m-20 1h1m5 0h1m43 0h1m-73 2h1m30 0h1m32 0h1m2 0h1m-60 1h1m37 0h1m-28 1h1m20 0h1m12 0h1m-49 1h1m70 0h2m-76 1h1m47 0h1m18 1h1m-65 1h1m26 0h1m15 0h1m25 0h1m-79 1h1m2 0h2m13 0h1m8 0h1m39 0h1m-56 1h1m39 0h1m-1 1h1m9 0h1m-14 1h1m5 1h1m20 0h1m1 0h1m-53 1h1m22 1h1m-47 1h1m4 0h1m7 0h1m2 0h1m14 0h1m35 0h1m-34 1h1m-40 1h2m12 0h1m7 0h3m17 0h1m27 0h1m-32 1h1m-17 1h1m24 0h1m9 0h1m-54 1h1m17 0h1m7 0h1m37 0h1m-48 1h1m5 0h1m41 0h1m8 0h1m-77 1h1m35 0h1m18 0h1m-52 2h1m26 0h1m-34 2h1m12 0h1m17 0h1m45 0h1m2 0h1m-83 1h1m14 0h1m10 0h1m12 0h1m-25 1h1m11 0h1m51 0h1m1 0h1m-76 1h1m20 0h1m11 0h1m29 0h1m-49 1h1m11 0h1m1 0h1m7 0h1m29 0h1m4 0h1m-60 1h1m8 0h1m12 0h1m31 0h1m13 1h1m-70 1h1m17 0h1m16 1h1m-40 1h1m7 0h1m15 0h1m10 0h1m6 0h1m3 0h1m-35 1h1m53 0h1m-67 1h1m49 0h1m3 0h1m-54 1h1m53 0h1m8 0h1m-64 1h1m11 0h1m51 0h1m-54 1h1m11 0h2m14 0h1m6 0h1m-53 1h1m71 0h1m-70 1h1m39 0h1m21 0h1m1 0h1m-36 1h1m7 0h1m6 0h1m1 0h1m-59 1h1m34 0h1m36 0h1m-25 1h1m6 1h1m8 0h1m6 0h1m-62 1h2m27 1h1m5 0h1m7 0h1m5 0h1m-28 1h1m9 0h1m10 0h1m24 0h1m-45 1h1m9 0h1m-33 1h1m27 0h1m20 0h2m-47 2h1m24 0h1m31 0h1m4 0h1m8 0h1m-69 1h1m1 0h1m-13 1h1"/>
</g></g>
<use href="#hb"/>
</svg>
<svg x="37.1" y="538.4" width="644.7" height="429.2" viewBox="0 0 90 128" preserveAspectRatio="none">
<rect width="90" height="128" fill="#1bc60b"/>
<g shape-rendering="crispEdges"><g id="hc" transform="translate(0 .5)" fill="none" stroke-width="1.02">
<path stroke="#010800" d="M54 0h1m-12 1h1m-29 3h1m-8 1h1m73 1h1m4 7h1m-22 1h1m-67 19h1m-1 69h1m-1 6h1m-1 13h1m24 5h1m-23 1h1m7 0h1"/>
<path stroke="#031801" d="M70 0h1m13 0h1m-36 1h1m23 1h1m-53 1h1m45 0h1m-33 1h1m14 0h1m26 0h1m8 1h1m-81 1h1m19 0h1m55 3h1m-28 4h1m-56 27h1m-1 20h1"/>
<path stroke="#052802" d="M27 0h2m14 0h1m24 0h1m-60 1h1m8 0h1m10 0h2m-2 1h1m23 0h1m18 0h1m4 0h1m-30 2h1m-19 1h1m44 2h1m10 0h1m-64 2h1m56 2h1m2 2h1m-84 25h1m-1 12h1m-1 3h1m9 73h1m6 1h1"/>
<path stroke="#073703" d="M11 0h1m56 1h1m-55 1h1m33 0h1m1 0h1m33 1h1m-84 1h1m23 1h1m21 0h1m37 0h1m3 0h1m-49 2h1m35 0h1m-2 1h1m-7 1h1m-71 2h1m81 1h1m-2 3h1m-82 42h1m-1 4h1m-1 48h1m8 18h1m24 0h1m2 0h1m22 0h1"/>
<path stroke="#0a4704" d="M39 0h1m15 0h1m23 0h1m8 0h1m-34 1h1m3 0h1m14 0h1m3 0h1m-64 1h2m45 0h1m7 0h1m12 0h1m-70 1h1m28 1h1m44 0h1m-50 1h1m8 2h1m18 0h1m19 0h1m-58 1h1m44 0h1m12 0h1m-4 1h1m-39 2h1m-46 1h1m2 1h1m70 3h1m-2 4h1m12 14h1m-89 17h1m-1 31h1m-1 34h1m8 9h1m79 2h1"/>
<path stroke="#0c5705" d="M20 0h1m5 0h1m5 0h1m23 0h1m-19 1h1m13 0h1m-2 1h1m27 0h1m-34 1h1m11 0h1m2 0h1m3 0h1m-61 1h1m52 0h1m-50 1h1m28 0h1m17 0h2m9 0h1m-40 2h1m26 0h1m28 0h1m3 0h1m-52 1h1m23 1h1m13 0h1m5 0h1m-58 1h1m50 0h1m8 1h1m-13 4h1m14 0h1m-5 1h1m2 2h1m1 2h1m-2 22h1m-6 2h1m-83 5h1m30 78h1m12 0h1m5 0h1"/>
<path stroke="#0e6706" d="M48 0h1m-48 1h1m73 0h1m6 0h1m2 0h1m-67 1h1m1 0h1m43 0h1m-40 1h1m13 0h1m-41 1h1m29 0h1m15 0h1m21 1h1m5 0h1m4 0h1m-37 2h1m30 0h1m-29 1h1m2 0h1m-7 2h1m24 1h1m16 11h1m-61 15h1m63 5h1m-37 1h1m-8 4h1m36 4h1m5 1h1m-2 4h1m-5 14h1m4 6h1m-10 3h1m-19 20h1m-63 18h1m-1 6h1m86 3h1m-87 1h1m6 0h1m38 0h1m4 0h1m20 0h1"/>
<path stroke="#107707" d="M0 0h1m18 0h1m38 0h1m5 0h1m6 0h1m9 0h1m-51 1h1m41 0h1m9 0h1m-84 1h1m32 0h1m33 0h1m14 0h1m3 0h1m-82 1h1m22 0h1m26 0h1m1 0h1m8 0h1m-14 1h1m-37 1h1m42 0h2m2 0h1m19 0h1m-42 1h1m16 0h1m14 0h1m-20 1h1m-19 1h1m38 0h1m-33 1h1m26 0h1m4 0h1m10 0h1m-37 1h1m-25 1h1m50 0h1m-24 1h1m25 1h1m-29 1h1m34 3h1m-47 1h1m14 3h1m-59 1h1m81 1h1m-2 9h1m-82 2h1m26 1h1m56 1h1m-84 4h1m48 2h1m32 0h1m1 1h1m-70 1h1m29 0h1m9 0h2m30 2h2m-47 2h1m18 0h1m0 1h1m-3 1h1m5 0h1m-5 1h1m18 0h1m1 0h1m-57 1h1m21 0h1m1 1h1m10 0h1m24 1h1m-62 4h1m1 3h1m-4 6h1m61 0h1m-62 2h1m1 2h1m15 0h1m-20 1h1m21 0h1m35 0h1m-67 1h1m28 1h1m-20 2h1m27 0h1m-9 1h1m13 0h1m26 0h1m-48 1h1m4 0h1m2 0h1m12 0h1m-64 3h1m-1 5h1m-1 1h1m28 1h1m-3 1h1m-10 2h1m-3 4h1m10 0h1m34 1h1m-36 1h1m19 1h1m-1 1h1m2 0h1m11 3h1m-63 18h1m50 6h1m32 0h1m-66 1h1m22 0h1m2 0h1"/>
<path stroke="#128607" d="M9 0h1m4 0h1m35 0h2m7 0h1m15 0h1m-65 1h1m38 0h1m11 0h1m21 0h1m-65 1h1m34 0h1m19 0h1m-31 1h1m31 0h1m-69 1h2m8 0h1m5 0h1m12 0h1m18 0h1m-53 1h1m10 0h1m7 0h1m46 0h1m-69 1h1m34 0h1m11 0h1m1 0h1m10 0h1m6 0h1m8 0h1m6 0h1m-82 1h1m2 0h1m12 0h1m28 0h1m29 0h1m4 0h1m-83 1h1m12 0h1m30 0h1m6 0h1m6 0h1m1 0h1m20 0h1m-42 1h1m24 0h1m15 0h1m-83 1h1m13 0h1m50 1h1m-54 1h1m47 0h1m9 0h1m-29 1h1m13 0h1m-13 1h1m38 0h1m-86 1h1m55 2h1m8 0h1m-18 1h1m29 0h1m6 1h1m1 4h1m-11 1h2m-78 1h1m33 2h1m-25 1h1m67 0h1m8 1h2m-12 3h1m-77 2h1m13 1h1m11 0h1m-13 1h1m9 0h1m1 0h1m59 0h1m-73 1h1m1 0h1m68 0h1m-81 1h1m22 0h1m-6 1h1m1 0h1m54 0h1m6 0h1m-61 1h1m52 0h1m3 0h1m-70 1h2m8 0h1m16 0h1m3 0h1m1 0h1m4 0h1m-41 1h1m3 0h1m7 0h1m1 0h1m17 0h2m4 0h1m1 0h1m1 0h1m3 0h1m23 0h1m-70 1h3m7 0h1m1 0h1m17 0h2m2 0h1m3 0h1m27 0h1m-69 1h2m11 0h2m24 0h1m7 0h1m2 0h1m2 0h1m18 0h1m-71 1h1m1 0h1m8 0h2m1 0h1m14 0h1m1 0h1m4 0h1m1 0h1m3 0h1m2 0h3m25 0h1m-63 1h2m20 0h1m2 0h2m1 0h2m1 0h3m1 0h1m1 0h2m-48 1h1m28 0h1m5 0h1m1 0h3m2 0h1m21 0h1m1 0h1m-69 1h1m1 0h1m6 0h1m3 0h1m16 0h4m1 0h1m2 0h1m5 0h1m3 0h1m-50 1h1m1 0h2m10 0h1m15 0h1m1 0h2m1 0h1m1 0h1m2 0h1m2 0h1m3 0h1m-45 1h1m8 0h2m16 0h1m1 0h2m3 0h3m1 0h1m1 0h1m1 0h1m1 0h2m-49 1h1m10 0h1m2 0h1m15 0h1m4 0h2m1 0h1m2 0h1m4 0h2m17 0h1m-65 1h1m29 0h1m12 0h1m1 0h1m-47 1h1m13 0h1m28 0h2m20 0h1m-66 1h1m2 0h1m8 0h1m37 0h1m20 0h1m-71 1h1m10 0h1m1 0h1m50 0h1m-66 1h1m2 0h1m9 0h1m36 0h1m-41 1h1m1 0h1m1 0h1m50 0h1m-67 2h1m1 0h1m8 0h1m3 0h1m-14 1h1m9 0h2m-10 1h1m8 0h1m56 0h1m-69 1h1m2 0h1m5 0h1m3 0h1m57 0h1m-70 1h1m66 0h1m-60 1h2m1 0h1m-16 1h1m3 0h1m7 0h1m1 0h1m57 0h1m-61 1h3m-11 1h1m66 0h1m-71 1h2m12 0h1m18 0h1m-32 1h1m35 0h1m-50 1h1m20 0h2m1 0h1m18 0h2m1 0h1m11 0h1m-38 1h2m15 0h1m6 0h1m2 0h1m3 0h1m1 0h1m2 0h1m1 0h1m-64 1h1m15 0h1m1 0h1m8 0h3m15 0h2m5 0h1m5 0h1m4 0h1m-38 1h2m1 0h1m14 0h1m1 0h1m3 0h1m1 0h1m5 0h1m2 0h2m-36 1h2m13 0h1m2 0h1m10 0h2m4 0h2m18 0h1m1 0h1m-67 1h1m25 0h1m2 0h2m1 0h1m1 0h1m5 0h1m3 0h1m2 0h2m-40 1h1m1 0h1m15 0h2m3 0h2m3 0h1m1 0h1m6 0h1m-49 1h1m10 0h1m22 0h1m1 0h1m1 0h1m2 0h1m2 0h1m-47 1h1m1 0h2m9 0h2m23 0h2m5 0h4m19 0h1m-69 1h1m3 0h1m6 0h1m2 0h1m17 0h1m1 0h2m3 0h1m4 0h1m1 0h1m2 0h2m18 0h1m2 0h1m-62 1h1m2 0h1m14 0h1m14 0h1m1 0h1m2 0h1m-48 1h1m10 0h1m18 0h1m10 0h1m3 0h3m-37 1h1m1 0h1m30 0h1m5 0h1m-62 1h1m11 0h2m7 0h2m-23 1h1m10 0h1m9 0h1m-11 2h1m1 0h2m5 0h3m1 0h1m54 0h1m-59 1h2m1 0h2m56 0h2m-61 1h1m-14 1h1m2 0h1m-4 1h1m9 0h1m1 0h1m1 0h1m-14 1h1m12 0h1m-30 1h1m15 0h1m64 0h1m-56 1h3m-4 1h1m3 0h1m24 0h1m30 0h1m-40 1h2m2 0h1m2 0h1m9 0h2m19 0h2m-70 1h1m8 0h1m20 0h1m1 0h1m3 0h1m5 0h1m-43 1h1m12 0h1m15 0h1m2 0h1m1 0h1m1 0h2m4 0h1m1 0h1m3 0h1m-39 1h3m16 0h1m3 0h5m6 0h2m1 0h1m1 0h1m-39 1h1m21 0h1m4 0h1m2 0h2m1 0h1m-18 1h1m1 0h1m1 0h2m3 0h1m1 0h1m4 0h4m1 0h1m-20 1h1m10 0h1m1 0h1m1 0h5m-64 1h1m45 0h2m2 0h1m2 0h1m5 0h1m4 0h1m-20 1h1m9 0h1m3 0h1m2 0h1m-13 1h1m5 0h1m2 0h2m1 0h1m-2 1h1m25 8h1m0 1h1m-18 10h1m-36 2h2m-19 1h1m54 0h1m12 0h1"/>
<path stroke="#149608" d="M5 0h1m2 0h1m8 0h1m11 0h1m44 0h1m14 0h1m-87 1h1m35 0h1m14 0h1m11 0h1m13 0h1m-53 1h1m7 0h2m19 0h1m-51 1h1m3 0h1m10 0h1m45 0h1m12 0h1m3 0h1m-75 1h2m36 0h1m-48 1h1m84 0h1m-53 1h1m9 0h1m11 0h1m3 0h1m6 0h1m14 0h1m-77 1h1m1 0h1m13 0h1m16 0h1m1 0h1m6 0h1m12 0h1m-27 1h1m3 0h2m11 0h1m14 0h1m16 0h1m-81 1h1m8 0h1m40 0h1m8 0h1m11 0h1m1 0h1m-67 1h1m38 0h1m11 0h1m1 0h1m6 0h1m3 0h1m8 0h1m-54 1h1m10 0h1m1 0h1m29 0h1m5 0h1m3 0h1m-82 1h1m12 0h1m7 0h1m16 0h1m27 0h1m-60 1h1m15 0h2m45 0h1m-4 1h1m11 0h1m-61 1h1m37 0h1m9 0h1m5 0h1m4 0h1m2 0h1m-84 1h1m45 0h1m16 0h1m2 0h1m17 0h1m-38 1h1m7 0h1m-57 1h1m45 0h1m39 0h1m-36 1h1m14 0h1m12 0h1m4 1h1m-48 1h1m36 0h1m2 0h1m-1 1h1m8 0h1m-46 2h1m19 0h1m26 1h1m-39 3h1m14 0h1m22 0h1m-85 1h1m62 0h1m16 1h1m2 0h1m-9 1h1m-66 1h1m53 1h1m16 0h2m-74 1h1m12 0h1m-25 1h2m24 0h1m8 0h1m41 0h1m1 0h1m-66 1h1m11 0h1m-13 1h1m1 0h1m7 0h2m9 0h1m43 0h1m-78 1h1m9 0h1m1 0h2m6 0h5m52 0h1m-77 1h1m11 0h2m8 0h1m17 0h3m35 0h2m-81 1h1m1 0h1m6 0h1m1 0h1m1 0h2m5 0h3m15 0h1m1 0h1m1 0h2m1 0h1m3 0h1m24 0h1m-75 1h2m8 0h2m8 0h2m1 0h1m14 0h1m1 0h1m5 0h3m-41 1h2m1 0h1m8 0h1m2 0h1m13 0h1m2 0h2m2 0h1m1 0h2m1 0h1m3 0h1m8 0h1m-63 1h1m2 0h1m6 0h1m9 0h1m1 0h1m1 0h1m21 0h2m2 0h4m1 0h1m2 0h1m1 0h1m1 0h1m18 0h1m-70 1h2m6 0h2m2 0h1m10 0h1m2 0h1m1 0h1m1 0h2m1 0h1m1 0h1m2 0h1m4 0h1m1 0h2m1 0h2m1 0h1m14 0h1m1 0h1m-69 1h1m7 0h2m2 0h1m13 0h1m4 0h4m1 0h1m1 0h3m7 0h1m1 0h1m-54 1h5m6 0h2m2 0h1m15 0h4m1 0h2m2 0h1m2 0h1m8 0h1m15 0h1m-76 1h1m7 0h3m1 0h1m5 0h4m15 0h2m2 0h1m2 0h2m1 0h1m3 0h1m2 0h5m1 0h1m15 0h1m-79 1h2m8 0h1m1 0h1m8 0h2m14 0h1m2 0h1m4 0h1m2 0h1m1 0h5m1 0h1m1 0h1m1 0h3m-54 1h1m1 0h1m8 0h4m1 0h1m15 0h1m2 0h1m1 0h1m1 0h2m4 0h3m2 0h3m-63 1h1m2 0h1m8 0h2m7 0h2m2 0h1m20 0h2m7 0h1m4 0h2m2 0h1m-63 1h2m6 0h1m3 0h2m5 0h1m1 0h2m14 0h1m2 0h2m1 0h1m2 0h1m1 0h2m3 0h2m4 0h1m2 0h1m9 0h2m-65 1h1m9 0h1m1 0h1m19 0h3m2 0h3m1 0h3m1 0h1m1 0h6m-63 1h1m10 0h3m6 0h4m1 0h1m17 0h2m3 0h1m1 0h1m1 0h1m2 0h2m2 0h2m17 0h1m-77 1h1m6 0h1m1 0h1m8 0h2m1 0h2m20 0h1m1 0h1m2 0h1m2 0h1m1 0h1m1 0h2m3 0h1m19 0h1m1 0h1m-85 1h2m11 0h1m7 0h1m1 0h1m1 0h1m27 0h1m2 0h3m1 0h1m3 0h1m-54 1h2m7 0h3m1 0h2m31 0h1m5 0h1m9 0h1m4 0h1m-80 1h3m8 0h4m7 0h1m3 0h1m-28 1h1m12 0h1m1 0h1m6 0h2m1 0h2m55 0h1m3 0h1m-83 1h1m18 0h3m1 0h1m51 0h1m4 0h1m-73 1h1m2 0h2m4 0h2m2 0h2m56 0h1m-73 1h2m1 0h1m8 0h1m1 0h1m2 0h1m-17 1h1m1 0h2m5 0h1m1 0h3m51 0h1m7 0h1m-82 1h1m6 0h1m1 0h1m8 0h4m57 0h1m1 0h2m-85 1h1m9 0h2m1 0h2m5 0h1m2 0h1m1 0h1m51 0h1m1 0h2m1 0h2m-74 1h3m6 0h2m1 0h1m1 0h1m-28 1h1m2 0h2m7 0h1m2 0h2m6 0h1m3 0h1m-16 1h2m1 0h1m1 0h1m5 0h1m1 0h3m53 0h1m-77 1h1m6 0h1m3 0h1m6 0h4m15 0h1m2 0h1m34 0h1m-79 1h1m2 0h1m5 0h4m1 0h1m7 0h1m1 0h2m12 0h1m2 0h6m1 0h1m34 0h1m-83 1h2m8 0h2m1 0h2m9 0h2m11 0h5m4 0h1m1 0h4m1 0h1m4 0h1m21 0h1m-81 1h1m1 0h1m7 0h1m2 0h2m7 0h2m1 0h1m12 0h2m1 0h3m2 0h1m1 0h3m6 0h1m2 0h1m13 0h1m3 0h1m-77 1h1m9 0h1m7 0h1m15 0h3m3 0h1m1 0h2m2 0h1m1 0h3m2 0h3m1 0h2m16 0h1m5 0h1m-75 1h3m2 0h1m8 0h1m14 0h1m1 0h1m1 0h3m1 0h1m1 0h5m1 0h2m4 0h1m13 0h1m4 0h1m1 0h1m-80 1h1m6 0h3m1 0h1m6 0h2m2 0h1m13 0h2m1 0h1m1 0h2m1 0h5m2 0h1m1 0h2m2 0h2m14 0h1m-75 1h2m7 0h3m7 0h5m13 0h1m1 0h2m2 0h1m1 0h1m1 0h5m1 0h3m1 0h2m17 0h1m-69 1h3m1 0h1m5 0h3m14 0h4m2 0h3m3 0h2m3 0h1m1 0h4m4 0h1m13 0h1m1 0h3m-82 1h1m1 0h1m7 0h1m2 0h2m5 0h2m2 0h2m10 0h1m1 0h1m1 0h3m1 0h1m1 0h1m1 0h1m1 0h2m1 0h1m2 0h1m1 0h1m1 0h1m16 0h2m-79 1h1m9 0h1m2 0h2m5 0h2m16 0h2m1 0h1m1 0h2m1 0h1m5 0h2m5 0h1m-58 1h1m2 0h1m4 0h3m1 0h1m9 0h1m12 0h1m4 0h1m3 0h2m1 0h1m1 0h1m2 0h1m1 0h2m2 0h2m21 0h1m-88 1h1m2 0h2m9 0h2m1 0h1m7 0h2m13 0h1m4 0h1m1 0h3m1 0h1m1 0h1m2 0h1m1 0h1m2 0h1m17 0h1m-79 1h1m11 0h2m1 0h2m6 0h2m1 0h1m1 0h1m16 0h2m1 0h1m2 0h1m2 0h1m1 0h1m1 0h1m3 0h2m-47 1h1m8 0h1m17 0h1m3 0h1m1 0h2m2 0h1m1 0h1m24 0h1m-81 1h1m12 0h1m2 0h1m4 0h2m2 0h1m17 0h1m13 0h2m1 0h1m17 0h1m-75 1h1m9 0h2m6 0h1m1 0h3m-15 1h1m1 0h3m5 0h6m51 0h1m1 0h2m2 0h1m-72 1h1m10 0h1m52 0h2m-67 1h3m6 0h1m2 0h1m57 0h1m2 0h1m-86 1h1m10 0h4m6 0h3m-14 1h1m1 0h2m8 0h1m1 0h2m-16 1h1m1 0h4m8 0h1m58 0h1m-82 1h1m7 0h2m3 0h1m5 0h4m53 0h1m-78 1h1m9 0h1m1 0h2m6 0h1m1 0h3m50 0h1m1 0h1m1 0h1m2 0h1m-73 1h1m2 0h1m6 0h1m17 0h1m1 0h1m1 0h1m10 0h1m6 0h1m12 0h1m-72 1h1m7 0h2m1 0h1m7 0h1m15 0h1m1 0h7m1 0h2m1 0h1m2 0h1m1 0h2m-48 1h1m2 0h2m6 0h1m2 0h2m11 0h1m1 0h2m3 0h2m1 0h2m1 0h5m1 0h3m15 0h1m7 0h1m-80 1h1m10 0h2m7 0h4m11 0h1m1 0h2m1 0h1m1 0h2m3 0h4m1 0h3m1 0h1m21 0h1m-69 1h2m6 0h1m2 0h1m12 0h4m1 0h1m2 0h1m1 0h1m2 0h2m1 0h1m3 0h3m1 0h1m-52 1h2m1 0h2m10 0h1m16 0h1m1 0h1m5 0h5m3 0h1m17 0h1m4 0h1m-70 1h1m1 0h1m6 0h2m1 0h1m1 0h1m10 0h4m1 0h1m1 0h1m2 0h2m2 0h2m6 0h2m-40 1h1m1 0h1m1 0h1m12 0h1m1 0h1m1 0h1m3 0h2m1 0h1m2 0h1m1 0h1m4 0h1m-39 1h1m1 0h1m1 0h1m11 0h4m1 0h1m1 0h4m1 0h3m1 0h1m1 0h1m5 0h2m-25 1h5m2 0h2m2 0h1m1 0h2m1 0h1m2 0h1m1 0h2m21 0h1m-58 1h1m12 0h2m3 0h4m1 0h4m1 0h3m1 0h2m1 0h2m19 0h1m-44 1h1m2 0h4m1 0h1m1 0h1m1 0h3m1 0h2m4 0h1m20 0h1m-36 1h1m6 0h2m1 0h2m2 0h2m19 0h1m-30 1h1m6 0h1m20 1h1m-1 1h1m-85 3h1m85 5h1m-87 3h1m88 1h1m-89 2h1m0 1h1m4 0h1m-8 1h1m26 0h1m-20 2h1m30 0h1m5 0h1m4 0h1m5 0h1m19 0h1m-71 1h1m11 0h1m14 0h1m25 0h1m8 0h1"/>
<path stroke="#16a609" d="M45 0h1m14 0h1m16 0h1m8 0h2m-71 1h1m24 0h1m5 0h1m2 0h1m5 0h1m12 0h1m-60 1h1m14 0h1m4 0h1m6 0h1m20 0h2m23 0h1m4 0h1m-90 1h1m40 0h1m11 0h1m-31 1h1m4 0h1m2 0h1m2 0h1m16 0h1m15 0h1m1 0h2m-42 1h1m12 0h1m6 0h1m22 0h1m-71 1h1m17 0h2m14 0h1m12 0h1m14 0h1m-34 1h1m5 0h1m13 0h1m1 0h2m-41 1h1m12 0h1m-17 1h1m4 0h1m7 0h1m10 0h1m4 0h1m16 0h1m-51 1h1m14 0h1m7 0h1m9 0h1m6 0h1m16 0h1m3 0h1m12 0h1m4 0h1m-78 1h1m8 0h1m23 0h1m8 0h1m2 0h1m1 0h1m3 0h1m11 0h1m-70 1h1m5 0h1m9 0h1m18 0h1m1 0h1m10 0h1m6 0h1m4 0h1m-44 1h1m4 0h1m4 0h1m44 0h1m-45 1h1m1 0h1m4 0h1m3 0h1m14 0h1m2 0h1m6 0h1m18 0h2m-87 1h1m9 0h1m26 0h2m24 0h1m5 0h1m5 0h1m-70 1h1m5 0h1m13 0h1m24 0h2m20 0h1m6 0h1m-82 1h1m10 0h1m26 0h1m20 0h1m20 0h1m3 0h1m-79 1h1m61 0h1m8 0h1m-70 1h1m2 0h1m33 0h1m2 0h2m27 0h1m1 0h1m-79 1h1m2 0h1m32 0h1m24 0h1m19 0h1m-74 1h1m66 0h1m11 0h1m-46 1h1m3 0h1m33 0h1m-60 1h1m13 0h1m30 0h1m6 0h1m5 0h1m-74 1h1m64 0h1m8 0h1m1 0h1m-59 1h1m1 0h1m9 0h1m10 0h1m11 0h1m25 0h1m-82 1h1m33 0h1m6 0h1m21 0h1m14 1h1m3 0h1m-58 1h1m27 0h1m-56 1h2m47 0h1m11 0h1m-36 1h1m15 0h1m15 0h1m-48 1h1m13 0h2m16 0h1m24 0h1m4 0h1m2 0h1m1 0h1m2 0h1m-71 1h1m1 0h1m2 0h2m4 0h1m1 0h2m54 0h2m2 0h2m-88 1h1m5 0h1m8 0h2m7 0h1m1 0h1m1 0h1m22 0h1m3 0h1m24 0h1m3 0h1m-85 1h1m3 0h1m1 0h2m6 0h1m2 0h1m6 0h1m2 0h2m16 0h1m33 0h1m3 0h1m1 0h1m-82 1h1m1 0h1m6 0h2m1 0h3m10 0h1m31 0h1m16 0h1m4 0h2m-85 1h1m2 0h1m2 0h1m7 0h1m2 0h2m7 0h1m50 0h1m3 0h1m-81 1h1m2 0h1m1 0h1m6 0h2m10 0h1m2 0h1m13 0h4m3 0h1m12 0h1m19 0h1m2 0h1m-86 1h1m6 0h1m4 0h2m9 0h1m17 0h1m5 0h2m29 0h1m5 0h1m-86 1h1m2 0h1m1 0h1m1 0h1m7 0h3m6 0h1m1 0h1m5 0h1m9 0h4m3 0h1m2 0h1m1 0h2m25 0h1m-78 1h1m1 0h1m1 0h1m6 0h1m1 0h1m6 0h1m3 0h1m13 0h1m1 0h1m1 0h1m4 0h3m1 0h1m22 0h1m-77 1h1m11 0h1m4 0h2m8 0h2m11 0h1m3 0h2m6 0h1m1 0h1m1 0h1m4 0h1m18 0h2m1 0h1m-83 1h1m14 0h1m12 0h1m12 0h1m15 0h1m2 0h2m13 0h1m1 0h1m5 0h1m1 0h1m-75 1h1m9 0h1m16 0h2m2 0h1m2 0h1m10 0h1m2 0h1m-58 1h1m1 0h2m10 0h1m4 0h1m5 0h1m10 0h2m1 0h1m4 0h1m1 0h1m2 0h1m3 0h2m20 0h1m-79 1h1m3 0h1m1 0h1m6 0h1m3 0h1m18 0h1m3 0h1m1 0h1m1 0h1m12 0h2m7 0h1m10 0h1m2 0h1m2 0h1m1 0h1m-85 1h3m1 0h1m11 0h1m10 0h1m11 0h3m16 0h1m1 0h1m3 0h2m9 0h1m1 0h2m1 0h1m1 0h1m-82 1h3m6 0h1m6 0h1m3 0h1m5 0h1m11 0h2m5 0h2m8 0h1m6 0h1m1 0h2m10 0h1m-77 1h1m2 0h1m5 0h2m4 0h2m7 0h1m1 0h1m13 0h1m7 0h1m16 0h1m8 0h1m2 0h1m3 0h1m3 0h1m-86 1h2m1 0h2m10 0h1m3 0h1m17 0h4m11 0h2m10 0h1m9 0h1m1 0h1m1 0h1m-77 1h1m8 0h1m3 0h1m4 0h1m17 0h3m1 0h1m2 0h1m5 0h1m1 0h1m11 0h2m10 0h1m3 0h1m-85 1h2m2 0h1m10 0h2m6 0h1m17 0h1m1 0h1m3 0h1m8 0h2m5 0h1m1 0h2m9 0h1m-73 1h2m1 0h1m5 0h1m2 0h3m4 0h1m1 0h1m2 0h2m11 0h1m1 0h2m9 0h1m23 0h2m1 0h1m1 0h1m-82 1h1m3 0h1m5 0h2m4 0h1m26 0h2m2 0h2m2 0h1m1 0h1m9 0h1m1 0h1m10 0h1m5 0h1m-82 1h2m7 0h1m3 0h1m1 0h1m25 0h1m1 0h3m3 0h1m2 0h2m1 0h1m1 0h1m2 0h1m1 0h1m1 0h1m11 0h2m1 0h2m-81 1h1m3 0h2m4 0h2m1 0h1m1 0h1m5 0h1m21 0h5m1 0h3m4 0h1m3 0h1m1 0h1m1 0h1m14 0h1m-83 1h1m2 0h4m11 0h1m33 0h1m1 0h1m2 0h1m1 0h1m2 0h1m3 0h1m16 0h1m-78 1h1m5 0h2m4 0h1m8 0h1m21 0h1m9 0h1m1 0h1m1 0h1m1 0h3m10 0h1m2 0h1m6 0h1m-85 1h3m5 0h1m1 0h1m1 0h1m6 0h1m5 0h1m32 0h1m14 0h1m2 0h2m-83 1h1m2 0h1m1 0h1m9 0h1m2 0h2m4 0h1m55 0h1m3 0h2m-82 1h2m11 0h1m12 0h2m4 0h1m19 0h1m26 0h3m-83 1h2m8 0h1m2 0h1m3 0h1m3 0h2m4 0h1m37 0h1m9 0h2m1 0h1m-79 1h1m2 0h3m5 0h1m15 0h1m51 0h1m-78 1h2m8 0h1m1 0h1m1 0h1m4 0h1m4 0h2m47 0h1m1 0h1m3 0h1m-78 1h1m16 0h1m54 0h3m1 0h1m-81 1h1m1 0h2m76 0h1m-69 1h2m28 0h1m8 0h1m14 0h1m8 0h1m2 0h4m-85 1h1m5 0h3m4 0h1m2 0h1m7 0h1m18 0h1m2 0h2m2 0h1m1 0h1m5 0h1m30 0h1m-88 1h1m1 0h1m5 0h1m2 0h1m3 0h1m6 0h1m15 0h4m1 0h2m2 0h4m2 0h1m2 0h1m1 0h2m17 0h2m2 0h1m1 0h1m-81 1h2m12 0h1m5 0h1m4 0h1m10 0h1m1 0h2m6 0h1m2 0h6m2 0h2m14 0h3m3 0h2m-83 1h1m4 0h1m5 0h1m9 0h1m2 0h1m13 0h1m7 0h1m2 0h1m4 0h1m1 0h1m1 0h1m2 0h1m15 0h2m-82 1h1m3 0h1m1 0h1m7 0h1m1 0h2m6 0h1m16 0h1m15 0h1m2 0h1m3 0h1m8 0h1m7 0h1m3 0h1m-81 1h1m9 0h1m8 0h1m15 0h1m3 0h1m6 0h1m2 0h1m4 0h1m18 0h1m6 0h1m-81 1h1m2 0h1m8 0h1m6 0h2m4 0h2m10 0h1m20 0h2m1 0h1m1 0h1m12 0h2m-80 1h2m12 0h1m12 0h1m10 0h1m8 0h1m8 0h1m6 0h2m13 0h1m3 0h2m-83 1h2m8 0h1m4 0h1m10 0h1m10 0h2m35 0h1m2 0h1m1 0h1m-79 1h2m1 0h1m8 0h1m12 0h1m21 0h1m6 0h1m5 0h3m12 0h1m-75 1h1m7 0h1m2 0h1m10 0h1m13 0h1m1 0h1m14 0h1m4 0h1m1 0h2m12 0h1m3 0h2m-82 1h1m1 0h1m6 0h1m10 0h1m4 0h1m11 0h1m3 0h1m8 0h3m8 0h3m11 0h1m1 0h1m-78 1h1m3 0h1m17 0h2m2 0h1m12 0h3m4 0h1m4 0h1m1 0h1m9 0h1m16 0h1m-83 1h1m4 0h1m6 0h1m2 0h1m1 0h2m3 0h1m4 0h2m9 0h1m1 0h1m1 0h2m1 0h1m3 0h1m1 0h1m1 0h2m4 0h1m2 0h4m10 0h1m3 0h1m3 0h1m2 0h1m-87 1h4m6 0h1m5 0h1m9 0h1m12 0h4m3 0h1m1 0h2m1 0h2m3 0h1m6 0h1m1 0h1m15 0h1m3 0h1m-85 1h1m2 0h1m5 0h1m1 0h2m1 0h1m5 0h3m3 0h1m12 0h1m4 0h1m2 0h1m7 0h1m1 0h5m2 0h1m-65 1h1m9 0h2m13 0h1m15 0h1m6 0h1m4 0h3m2 0h1m1 0h1m15 0h1m3 0h2m1 0h1m-74 1h2m3 0h1m10 0h1m29 0h2m1 0h3m1 0h1m11 0h1m2 0h2m1 0h1m-80 1h1m6 0h2m1 0h1m5 0h1m1 0h1m37 0h1m16 0h1m-79 1h1m2 0h1m1 0h2m6 0h2m47 0h1m23 0h1m1 0h1m-89 1h1m2 0h1m2 0h1m6 0h2m3 0h1m4 0h1m53 0h2m3 0h3m-84 1h1m2 0h1m1 0h1m1 0h1m4 0h1m9 0h1m5 0h1m50 0h2m2 0h1m-84 1h1m2 0h3m11 0h1m4 0h1m5 0h1m53 0h2m-81 1h1m1 0h1m16 0h1m1 0h1m3 0h1m32 0h1m15 0h1m1 0h2m1 0h1m-80 1h1m1 0h1m5 0h1m3 0h1m12 0h1m11 0h1m5 0h1m4 0h1m24 0h1m1 0h1m2 0h1m1 0h1m3 0h1m-86 1h1m1 0h1m7 0h1m4 0h1m6 0h1m3 0h1m10 0h1m2 0h2m1 0h1m4 0h3m2 0h2m1 0h2m26 0h1m-76 1h2m1 0h2m11 0h2m10 0h2m1 0h1m1 0h1m1 0h1m1 0h1m1 0h4m3 0h1m1 0h1m6 0h1m11 0h1m1 0h1m1 0h2m-85 1h2m1 0h3m12 0h1m4 0h1m2 0h2m1 0h1m10 0h1m1 0h1m7 0h1m10 0h2m4 0h1m14 0h1m-78 1h1m8 0h1m3 0h1m4 0h1m1 0h1m15 0h1m2 0h1m13 0h1m5 0h2m13 0h1m2 0h1m-70 1h2m1 0h1m6 0h1m1 0h1m12 0h1m1 0h1m1 0h1m7 0h1m1 0h1m10 0h3m11 0h2m2 0h2m-78 1h2m6 0h2m4 0h1m5 0h1m3 0h1m16 0h1m8 0h1m2 0h1m19 0h1m4 0h2m-81 1h2m4 0h2m3 0h1m2 0h1m5 0h1m4 0h1m10 0h4m14 0h1m4 0h1m13 0h1m2 0h2m-78 1h2m8 0h1m1 0h1m22 0h1m4 0h1m7 0h1m5 0h1m1 0h1m5 0h1m10 0h2m2 0h2m-80 1h2m7 0h2m9 0h1m1 0h1m1 0h1m1 0h1m10 0h1m7 0h1m5 0h1m1 0h1m7 0h2m11 0h1m1 0h1m4 0h1m-81 1h1m10 0h2m8 0h1m1 0h1m18 0h1m4 0h1m25 0h1m2 0h1m2 0h1m3 0h1m-75 1h1m9 0h4m1 0h1m10 0h2m10 0h1m4 0h1m1 0h1m20 0h1m-65 1h1m1 0h1m8 0h1m2 0h1m13 0h1m6 0h1m14 0h1m-64 1h1m12 0h1m26 0h2m4 0h1m3 0h1m8 0h1m2 0h1m21 0h1m-87 1h1m3 0h1m39 0h5m1 0h5m3 0h1m3 0h1m4 0h1m18 0h1m-87 1h1m41 0h1m1 0h2m1 0h1m3 0h1m2 0h1m1 0h1m2 0h1m1 0h1m1 0h1m13 0h1m-29 1h1m6 0h5m-61 1h1m63 0h1m21 1h1m-88 1h1m86 2h1m-4 1h1m-2 8h1m-80 3h1m2 0h1m-1 1h2m16 0h1m15 0h1m20 0h1m10 0h1m-73 1h1m16 0h1m44 0h1m17 1h1"/>
<path stroke="#18b60a" d="M1 0h1m1 0h1m17 0h1m12 0h1m31 0h1m-67 1h1m5 0h3m6 0h1m20 0h1m-28 1h2m6 0h1m45 0h1m2 0h1m9 0h1m-76 1h1m11 0h1m1 0h1m18 0h1m2 0h1m11 0h1m13 0h1m23 0h1m-75 1h1m19 0h1m2 0h1m3 0h2m23 0h1m7 0h1m8 0h1m-65 1h1m3 0h1m40 0h1m-54 1h1m3 0h1m4 0h1m31 0h1m14 0h1m6 0h1m2 0h1m3 0h1m4 0h1m-83 1h1m29 0h1m10 0h1m19 0h1m6 0h2m-73 1h2m8 0h1m4 0h1m3 0h1m4 0h1m4 0h1m1 0h1m1 0h1m1 0h1m14 0h1m1 0h1m4 0h1m6 0h1m8 0h1m6 0h1m1 0h1m-74 1h1m8 0h1m9 0h1m5 0h1m11 0h1m9 0h1m1 0h1m1 0h1m2 0h1m2 0h1m2 0h1m1 0h1m-62 1h1m8 0h1m13 0h1m5 0h1m5 0h2m2 0h1m9 0h1m18 0h1m8 0h1m-83 1h1m7 0h1m5 0h1m7 0h1m1 0h1m9 0h1m30 0h1m-70 1h1m3 0h1m7 0h1m2 0h1m13 0h1m4 0h1m1 0h1m31 0h1m13 0h1m-81 1h1m2 0h1m2 0h1m5 0h1m1 0h1m4 0h1m14 0h1m8 0h2m2 0h1m9 0h1m2 0h1m4 0h1m4 0h1m4 0h1m2 0h1m-78 1h1m7 0h1m15 0h1m3 0h1m2 0h1m4 0h1m6 0h1m3 0h2m5 0h1m2 0h1m1 0h1m9 0h1m-72 1h1m1 0h1m8 0h1m4 0h1m2 0h1m4 0h2m17 0h1m5 0h1m7 0h1m14 0h2m12 0h1m-85 1h3m1 0h1m3 0h1m6 0h1m4 0h2m17 0h1m2 0h1m2 0h2m12 0h1m7 0h1m8 0h1m1 0h1m-73 1h1m10 0h1m47 0h2m16 0h2m-85 1h1m4 0h1m1 0h1m4 0h1m6 0h1m12 0h1m9 0h1m5 0h3m15 0h1m1 0h2m11 0h1m-83 1h1m12 0h1m1 0h1m2 0h1m3 0h1m8 0h1m3 0h1m7 0h1m15 0h1m8 0h1m3 0h1m11 0h1m-85 1h1m15 0h1m7 0h1m4 0h1m3 0h1m12 0h2m26 0h1m6 0h1m-79 1h1m3 0h1m10 0h2m8 0h1m3 0h1m1 0h1m9 0h1m2 0h1m1 0h1m7 0h1m1 0h1m4 0h1m3 0h1m5 0h1m1 0h1m1 0h3m2 0h1m-80 1h2m20 0h1m1 0h1m10 0h1m12 0h1m4 0h1m13 0h1m1 0h1m-75 1h2m5 0h1m16 0h1m2 0h1m8 0h1m2 0h1m11 0h1m8 0h3m1 0h1m2 0h1m5 0h1m2 0h1m-73 1h1m3 0h1m10 0h1m5 0h1m16 0h1m3 0h1m21 0h1m11 0h1m4 0h1m-81 1h1m2 0h1m13 0h1m8 0h1m5 0h1m1 0h1m17 0h1m20 0h1m6 0h1m-86 1h2m3 0h1m3 0h1m4 0h1m1 0h1m4 0h1m3 0h1m1 0h1m8 0h1m1 0h1m7 0h1m6 0h2m1 0h1m3 0h1m1 0h1m13 0h1m1 0h1m1 0h1m-82 1h1m2 0h2m1 0h1m7 0h1m2 0h1m8 0h1m1 0h1m4 0h1m9 0h1m1 0h1m1 0h1m3 0h1m2 0h1m6 0h1m19 0h1m1 0h2m-83 1h1m3 0h1m1 0h1m9 0h1m18 0h1m7 0h1m1 0h1m1 0h1m9 0h1m24 0h1m-79 1h1m5 0h1m1 0h1m2 0h1m1 0h1m26 0h1m17 0h1m3 0h1m5 0h1m3 0h2m1 0h2m3 0h1m-87 1h1m5 0h1m1 0h1m2 0h1m6 0h1m1 0h1m2 0h1m6 0h1m6 0h1m7 0h1m5 0h1m2 0h1m1 0h1m1 0h1m14 0h1m4 0h1m-79 1h1m1 0h1m1 0h1m1 0h1m7 0h2m1 0h1m2 0h1m3 0h3m3 0h1m15 0h1m4 0h1m2 0h1m3 0h1m1 0h1m5 0h1m17 0h1m3 0h1m-88 1h1m2 0h2m1 0h1m8 0h2m5 0h1m4 0h1m8 0h2m18 0h1m2 0h3m2 0h2m5 0h1m1 0h1m-73 1h1m9 0h1m5 0h2m2 0h2m1 0h1m3 0h2m13 0h1m11 0h2m1 0h1m1 0h2m10 0h1m1 0h1m3 0h1m1 0h2m5 0h1m-87 1h1m2 0h1m3 0h1m5 0h2m1 0h2m5 0h1m3 0h1m6 0h1m1 0h1m5 0h1m2 0h1m5 0h1m3 0h1m12 0h1m3 0h1m2 0h2m5 0h1m-66 1h1m3 0h3m4 0h1m9 0h1m1 0h1m7 0h1m4 0h2m1 0h1m8 0h1m9 0h1m2 0h1m1 0h1m3 0h1m-86 1h2m1 0h2m4 0h4m8 0h3m13 0h1m2 0h2m7 0h1m3 0h2m3 0h1m1 0h1m5 0h1m3 0h1m4 0h1m1 0h1m-79 1h1m11 0h1m6 0h2m1 0h2m5 0h1m1 0h1m8 0h2m5 0h2m3 0h1m7 0h1m5 0h1m2 0h1m4 0h1m3 0h3m-80 1h1m1 0h1m1 0h1m2 0h2m1 0h1m3 0h1m2 0h1m21 0h1m1 0h2m1 0h2m2 0h1m1 0h1m9 0h1m5 0h2m8 0h1m1 0h2m2 0h1m1 0h1m-83 1h1m3 0h1m4 0h2m5 0h1m2 0h1m5 0h1m8 0h1m19 0h3m2 0h1m6 0h1m1 0h1m7 0h1m-78 1h1m5 0h1m3 0h1m17 0h1m8 0h2m7 0h1m7 0h2m1 0h4m7 0h1m-71 1h1m1 0h2m3 0h2m14 0h1m8 0h1m6 0h2m7 0h1m7 0h1m1 0h1m1 0h2m2 0h1m1 0h2m4 0h1m4 0h1m1 0h2m-78 1h1m1 0h1m1 0h2m2 0h1m4 0h1m6 0h1m1 0h1m14 0h1m1 0h1m12 0h1m2 0h1m2 0h1m2 0h1m2 0h1m8 0h1m1 0h1m2 0h1m-77 1h2m2 0h1m8 0h2m2 0h1m6 0h1m9 0h1m2 0h2m4 0h1m11 0h1m2 0h1m1 0h1m13 0h2m6 0h1m-79 1h1m2 0h1m9 0h1m7 0h1m37 0h1m8 0h1m2 0h1m5 0h1m-83 1h1m1 0h1m1 0h1m3 0h2m5 0h1m3 0h1m15 0h1m23 0h1m1 0h1m2 0h2m7 0h1m2 0h1m2 0h1m-84 1h1m4 0h1m1 0h1m3 0h1m24 0h1m36 0h3m10 0h1m-80 1h1m3 0h1m1 0h1m14 0h1m7 0h1m1 0h1m1 0h1m32 0h1m3 0h1m2 0h1m3 0h2m-84 1h1m6 0h2m11 0h2m43 0h1m1 0h1m6 0h1m2 0h1m1 0h2m3 0h1m-75 1h1m6 0h1m10 0h1m2 0h1m2 0h1m1 0h1m27 0h1m1 0h1m11 0h1m1 0h3m1 0h1m-87 1h1m3 0h1m2 0h1m4 0h2m5 0h1m2 0h1m6 0h1m10 0h1m24 0h1m4 0h1m6 0h1m3 0h1m6 0h1m-86 1h1m4 0h1m1 0h1m1 0h1m56 0h1m10 0h1m7 0h1m-89 1h2m1 0h1m2 0h1m5 0h1m6 0h1m10 0h1m8 0h1m2 0h1m7 0h1m17 0h1m8 0h1m4 0h1m1 0h1m-80 1h1m1 0h1m1 0h1m1 0h1m9 0h2m7 0h1m10 0h1m2 0h1m16 0h1m4 0h1m1 0h1m11 0h2m1 0h1m2 0h1m-85 1h1m2 0h1m1 0h1m14 0h2m5 0h1m9 0h1m5 0h1m4 0h1m2 0h1m14 0h1m8 0h2m2 0h1m-81 1h1m8 0h1m12 0h1m6 0h1m1 0h1m7 0h1m3 0h1m6 0h1m3 0h2m1 0h1m7 0h1m8 0h1m4 0h1m-79 1h1m4 0h1m2 0h1m1 0h2m9 0h1m6 0h1m1 0h1m9 0h1m1 0h2m1 0h4m2 0h1m1 0h1m2 0h1m1 0h1m2 0h1m1 0h1m2 0h1m9 0h2m1 0h1m2 0h1m-84 1h2m4 0h1m15 0h1m14 0h1m6 0h2m1 0h1m1 0h1m1 0h1m2 0h1m1 0h1m4 0h1m6 0h1m3 0h1m2 0h1m6 0h1m-81 1h1m3 0h1m5 0h1m4 0h2m2 0h1m33 0h1m1 0h2m1 0h1m3 0h6m7 0h2m2 0h2m1 0h1m-85 1h1m1 0h1m4 0h2m2 0h1m3 0h1m13 0h1m15 0h1m12 0h3m3 0h1m14 0h1m1 0h1m4 0h1m-88 1h1m1 0h1m5 0h1m3 0h2m5 0h1m25 0h1m1 0h3m9 0h2m7 0h2m4 0h2m2 0h2m1 0h1m4 0h1m-86 1h1m2 0h3m1 0h1m2 0h1m6 0h1m15 0h1m3 0h1m8 0h1m6 0h1m6 0h1m8 0h1m2 0h1m5 0h1m1 0h2m1 0h1m-85 1h1m3 0h1m7 0h1m42 0h1m6 0h1m17 0h1m1 0h1m1 0h2m-84 1h2m3 0h1m4 0h1m19 0h1m7 0h1m5 0h1m4 0h2m28 0h1m-82 1h1m2 0h1m1 0h1m1 0h1m5 0h1m2 0h1m20 0h1m4 0h1m1 0h1m5 0h1m6 0h1m1 0h1m8 0h1m2 0h1m5 0h1m-75 1h1m3 0h1m3 0h2m5 0h2m9 0h4m4 0h1m3 0h1m3 0h3m3 0h1m16 0h2m7 0h3m1 0h1m2 0h1m-85 1h1m1 0h2m2 0h1m2 0h1m2 0h1m5 0h1m4 0h1m5 0h2m11 0h2m1 0h1m1 0h1m2 0h3m6 0h2m1 0h2m5 0h2m2 0h1m4 0h2m8 0h1m-88 1h4m5 0h1m8 0h1m9 0h1m9 0h3m2 0h1m2 0h2m1 0h1m3 0h3m11 0h2m8 0h2m1 0h1m1 0h1m-82 1h1m1 0h2m1 0h2m9 0h1m3 0h1m6 0h1m22 0h2m1 0h2m1 0h1m3 0h1m2 0h2m8 0h1m1 0h1m2 0h1m2 0h1m-84 1h1m36 0h1m21 0h2m2 0h4m1 0h1m4 0h1m6 0h1m1 0h1m-77 1h1m5 0h1m3 0h1m4 0h1m8 0h1m8 0h1m19 0h1m4 0h4m3 0h1m2 0h1m1 0h1m1 0h1m2 0h1m3 0h1m-84 1h1m5 0h1m3 0h1m7 0h1m9 0h1m6 0h2m10 0h1m8 0h1m9 0h2m4 0h1m2 0h1m3 0h1m1 0h1m-83 1h2m2 0h1m1 0h1m1 0h1m2 0h2m4 0h1m10 0h1m8 0h1m26 0h1m1 0h2m5 0h1m3 0h3m7 0h1m-89 1h1m1 0h2m1 0h2m5 0h1m6 0h1m11 0h1m7 0h2m25 0h1m1 0h1m8 0h1m1 0h1m2 0h1m-79 1h1m2 0h1m2 0h3m5 0h2m2 0h2m9 0h1m33 0h1m9 0h2m3 0h1m3 0h3m-81 1h1m11 0h1m2 0h1m13 0h1m1 0h1m26 0h2m10 0h2m-78 1h2m2 0h1m11 0h1m1 0h1m9 0h1m8 0h1m28 0h1m8 0h2m3 0h1m-80 1h1m3 0h1m4 0h1m9 0h2m6 0h1m7 0h1m28 0h1m10 0h1m-73 1h1m22 0h1m37 0h2m7 0h2m4 0h2m3 0h1m-87 1h1m2 0h2m6 0h1m10 0h1m10 0h1m1 0h2m1 0h2m26 0h2m6 0h1m1 0h2m1 0h2m-77 1h1m1 0h1m12 0h1m12 0h1m33 0h1m1 0h1m8 0h1m3 0h2m-78 1h1m16 0h1m42 0h1m2 0h1m4 0h1m1 0h6m4 0h1m-86 1h2m1 0h2m1 0h1m1 0h1m3 0h1m2 0h1m2 0h1m10 0h1m9 0h2m1 0h2m1 0h1m1 0h1m4 0h2m1 0h1m9 0h1m9 0h2m1 0h3m6 0h1m-89 1h1m4 0h3m4 0h1m17 0h1m11 0h1m3 0h5m1 0h4m8 0h4m6 0h1m2 0h2m2 0h2m2 0h1m-83 1h1m4 0h1m3 0h1m6 0h1m3 0h1m6 0h1m9 0h1m4 0h1m2 0h3m1 0h7m2 0h1m3 0h1m1 0h1m1 0h1m7 0h1m1 0h1m6 0h1m1 0h1m-89 1h1m1 0h3m1 0h2m2 0h2m10 0h1m7 0h1m8 0h1m4 0h1m7 0h1m2 0h1m3 0h2m1 0h2m1 0h1m1 0h1m9 0h1m1 0h1m2 0h1m-82 1h2m1 0h1m2 0h1m3 0h2m6 0h1m3 0h1m5 0h1m2 0h1m3 0h1m9 0h1m2 0h1m2 0h1m2 0h1m4 0h2m5 0h1m1 0h1m7 0h2m3 0h1m2 0h1m-84 1h1m1 0h2m1 0h1m2 0h1m1 0h1m6 0h1m2 0h1m22 0h1m1 0h1m8 0h1m4 0h1m7 0h1m4 0h1m4 0h3m-82 1h1m11 0h1m5 0h2m20 0h2m10 0h1m5 0h1m4 0h1m6 0h1m1 0h2m2 0h2m1 0h1m2 0h2m2 0h1m-85 1h2m3 0h1m4 0h1m6 0h1m4 0h1m16 0h3m5 0h1m2 0h2m5 0h1m3 0h1m4 0h1m8 0h6m-83 1h1m2 0h1m1 0h1m33 0h3m2 0h2m1 0h3m4 0h1m3 0h2m17 0h1m1 0h1m4 0h1m2 0h1m-85 1h1m3 0h1m11 0h1m3 0h1m6 0h1m13 0h3m1 0h1m4 0h3m1 0h2m1 0h2m2 0h1m5 0h1m3 0h1m3 0h1m1 0h1m2 0h1m1 0h1m-86 1h1m1 0h1m3 0h1m5 0h1m10 0h1m6 0h1m6 0h2m2 0h2m2 0h1m1 0h4m3 0h2m5 0h1m4 0h1m9 0h3m6 0h1m-86 1h1m2 0h4m11 0h2m2 0h2m6 0h1m8 0h1m8 0h1m1 0h1m4 0h2m2 0h1m1 0h1m3 0h1m14 0h1m-74 1h2m2 0h3m2 0h1m2 0h1m10 0h2m5 0h3m15 0h2m1 0h1m4 0h4m10 0h3m1 0h1m-82 1h1m1 0h3m7 0h1m6 0h1m9 0h1m8 0h1m27 0h3m7 0h1m3 0h2m6 0h1m-86 1h1m1 0h1m6 0h1m7 0h2m17 0h1m27 0h1m11 0h1m3 0h1m-82 1h3m2 0h1m10 0h1m4 0h1m12 0h2m1 0h1m25 0h1m8 0h1m4 0h1m7 0h1m-85 1h1m2 0h2m4 0h1m6 0h1m3 0h1m41 0h3m1 0h1m2 0h1m3 0h1m1 0h1m3 0h2m4 0h1m-86 1h1m2 0h1m3 0h4m4 0h2m2 0h2m4 0h1m35 0h2m2 0h1m10 0h2m-81 1h1m1 0h1m2 0h1m8 0h5m20 0h1m26 0h3m6 0h2m1 0h1m1 0h1m1 0h2m-82 1h2m2 0h2m5 0h2m2 0h3m2 0h2m5 0h1m7 0h1m1 0h1m26 0h2m2 0h1m5 0h1m1 0h2m1 0h2m1 0h1m-83 1h1m1 0h2m5 0h1m3 0h3m9 0h1m1 0h1m3 0h1m31 0h3m10 0h1m1 0h1m1 0h2m3 0h1m-87 1h1m4 0h1m3 0h1m2 0h2m8 0h3m1 0h1m11 0h2m3 0h1m21 0h2m8 0h1m4 0h1m1 0h1m3 0h1m-87 1h1m11 0h2m1 0h1m6 0h4m1 0h1m1 0h1m7 0h3m25 0h3m5 0h1m2 0h1m1 0h4m4 0h1m-85 1h1m9 0h1m10 0h2m1 0h2m13 0h2m11 0h1m9 0h2m3 0h1m6 0h2m-60 1h1m3 0h2m1 0h1m1 0h1m12 0h1m1 0h1m2 0h1m1 0h3m6 0h2m1 0h1m4 0h1m1 0h1m1 0h1m11 0h1m3 0h1m-84 1h1m22 0h1m12 0h1m2 0h1m1 0h5m3 0h5m5 0h5m2 0h1m9 0h2m1 0h1m6 0h1m-87 1h1m16 0h1m13 0h1m10 0h2m2 0h2m1 0h1m2 0h1m1 0h2m1 0h2m1 0h2m3 0h1m-29 1h1m6 0h1m12 0h1m2 0h2m1 0h1m2 0h1m12 0h1m-76 1h1m13 0h1m28 0h1m1 0h1m29 0h1m1 0h1m-74 1h1m40 0h1m21 0h1m-75 1h1m14 0h1m15 0h1m46 0h1m3 0h1m2 0h1m2 0h1m-86 1h1m53 0h1m20 0h1m-72 1h1m31 0h1m36 0h1m7 0h1m-3 1h1m2 0h1m-83 1h1m12 0h1m12 0h1m55 0h1m-85 1h1m59 0h1m23 0h1m-84 1h1m4 0h1m48 0h1m27 0h1m-25 1h1m13 0h1m7 0h1m-80 1h1m2 0h1m34 0h1m7 0h1m28 0h1m3 0h1m5 0h1m-22 1h2m-42 1h1m1 0h1m-29 1h1m18 0h1m18 0h1m38 0h1m1 0h1m1 0h1m-75 1h1m1 0h1m7 0h1m23 0h1m11 0h1m12 0h1m18 0h3m-76 1h1m15 0h1m20 0h1m4 0h1m1 0h1m13 0h1m10 0h1m-79 1h1m4 0h1m11 0h2m18 0h1m40 0h1m-71 1h1m12 0h1m44 0h1m8 0h1m7 0h1"/>
<path stroke="#1dd50c" d="M4 0h1m7 0h1m12 0h1m37 0h1m5 0h1m-50 1h1m23 0h1m2 0h1m15 0h1m15 0h1m6 0h1m-86 1h2m1 0h1m8 0h1m16 0h1m12 0h1m17 0h1m-59 1h1m2 0h1m18 0h1m1 0h1m10 0h1m23 0h1m6 0h1m6 0h1m2 0h1m-58 1h1m22 0h1m10 0h1m6 0h1m16 0h1m-75 1h1m5 0h1m1 0h1m4 0h1m6 0h1m5 0h1m11 0h1m1 0h1m3 0h1m-44 1h1m4 0h2m3 0h2m4 0h1m6 0h1m3 0h1m11 0h1m8 0h1m6 0h1m6 0h1m18 0h1m-79 1h1m24 0h1m3 0h1m19 0h1m8 0h3m11 0h1m-71 1h1m12 0h1m2 0h1m13 0h1m12 0h1m4 0h1m4 0h1m3 0h1m-55 1h1m4 0h1m4 0h2m47 0h1m-43 1h1m5 0h1m5 0h1m21 0h1m3 0h1m9 0h1m2 0h1m5 0h1m-74 1h1m6 0h1m6 0h1m17 0h1m1 0h1m23 0h1m8 0h1m4 0h1m-74 1h1m5 0h1m4 0h1m6 0h2m1 0h1m8 0h1m9 0h1m11 0h2m2 0h1m7 0h2m-77 1h1m2 0h1m4 0h1m5 0h2m1 0h1m20 0h1m5 0h1m5 0h1m1 0h1m5 0h1m4 0h1m21 0h1m-84 1h1m3 0h1m6 0h2m1 0h2m8 0h1m6 0h1m3 0h1m1 0h3m13 0h1m2 0h1m7 0h1m3 0h1m4 0h1m-77 1h1m4 0h1m13 0h1m1 0h1m6 0h1m2 0h1m2 0h1m3 0h2m4 0h1m2 0h1m3 0h1m24 0h1m6 0h1m-86 1h1m16 0h1m9 0h1m2 0h1m6 0h1m18 0h2m5 0h1m4 0h2m1 0h1m11 0h1m4 0h1m-87 1h1m8 0h1m3 0h1m2 0h2m2 0h1m2 0h1m3 0h2m5 0h1m9 0h1m6 0h1m6 0h1m2 0h1m8 0h1m2 0h1m6 0h1m2 0h1m-85 1h2m3 0h1m5 0h1m8 0h1m4 0h1m1 0h2m1 0h2m1 0h1m4 0h1m4 0h1m4 0h1m8 0h1m1 0h1m3 0h1m3 0h1m6 0h1m-75 1h1m4 0h1m2 0h1m3 0h1m5 0h1m3 0h1m6 0h1m1 0h1m5 0h1m2 0h3m5 0h1m3 0h1m2 0h1m1 0h2m28 0h1m-84 1h2m7 0h1m2 0h1m10 0h2m3 0h2m4 0h1m1 0h1m2 0h1m1 0h2m5 0h1m9 0h1m2 0h1m2 0h2m1 0h1m-66 1h1m2 0h1m4 0h1m1 0h1m6 0h3m11 0h1m2 0h1m8 0h1m1 0h1m7 0h1m3 0h1m2 0h1m-65 1h3m8 0h1m2 0h1m1 0h2m1 0h1m1 0h2m3 0h1m5 0h1m3 0h1m3 0h1m1 0h1m1 0h2m1 0h2m8 0h1m1 0h1m3 0h1m14 0h1m3 0h1m2 0h1m-86 1h1m1 0h1m6 0h2m3 0h1m1 0h1m4 0h1m1 0h1m2 0h4m3 0h1m2 0h1m2 0h1m2 0h1m2 0h1m2 0h1m3 0h2m3 0h1m6 0h1m4 0h1m2 0h2m-66 1h2m2 0h3m10 0h1m3 0h1m1 0h1m5 0h1m4 0h1m3 0h2m1 0h2m1 0h1m9 0h2m1 0h1m1 0h1m13 0h1m-83 1h1m1 0h1m2 0h2m1 0h1m2 0h1m3 0h1m4 0h1m6 0h3m1 0h3m6 0h2m2 0h1m1 0h2m3 0h2m10 0h1m1 0h1m8 0h2m5 0h2m2 0h1m-85 1h1m5 0h1m6 0h1m4 0h1m2 0h2m5 0h5m6 0h1m5 0h1m1 0h2m14 0h1m1 0h2m4 0h1m1 0h1m1 0h1m1 0h1m1 0h1m1 0h1m-86 1h1m2 0h1m2 0h1m1 0h1m1 0h2m1 0h1m5 0h1m1 0h1m2 0h2m2 0h1m8 0h1m1 0h2m1 0h1m2 0h1m1 0h1m1 0h2m5 0h3m2 0h1m1 0h3m1 0h2m3 0h1m1 0h3m1 0h1m-75 1h1m1 0h1m6 0h2m2 0h1m2 0h1m1 0h1m1 0h1m1 0h1m1 0h1m2 0h2m1 0h1m4 0h1m1 0h2m1 0h2m3 0h1m6 0h1m4 0h1m3 0h1m3 0h2m1 0h4m1 0h1m8 0h1m-81 1h1m3 0h3m6 0h1m2 0h1m2 0h1m1 0h1m3 0h3m1 0h1m3 0h2m2 0h1m1 0h1m2 0h1m4 0h3m1 0h2m2 0h1m10 0h1m5 0h1m5 0h1m-82 1h1m1 0h2m3 0h1m3 0h3m3 0h1m5 0h3m3 0h2m2 0h2m9 0h1m5 0h1m15 0h1m3 0h1m2 0h2m5 0h1m2 0h1m-85 1h1m1 0h1m3 0h1m3 0h1m7 0h1m2 0h2m7 0h1m3 0h3m3 0h1m2 0h1m3 0h1m15 0h2m2 0h1m8 0h1m4 0h1m-83 1h1m9 0h1m1 0h1m8 0h1m3 0h1m8 0h1m1 0h1m2 0h1m1 0h1m1 0h2m2 0h2m2 0h1m2 0h1m1 0h1m1 0h2m3 0h2m2 0h1m10 0h2m5 0h1m-85 1h1m5 0h2m1 0h1m9 0h2m12 0h3m6 0h1m16 0h1m3 0h1m1 0h1m5 0h1m1 0h1m-65 1h1m12 0h1m7 0h1m1 0h1m3 0h1m4 0h1m6 0h3m2 0h1m1 0h1m2 0h1m4 0h6m3 0h1m1 0h1m4 0h3m-78 1h1m1 0h3m1 0h1m8 0h1m13 0h1m1 0h1m1 0h1m2 0h1m23 0h1m4 0h1m1 0h1m3 0h1m11 0h1m-68 1h1m13 0h1m4 0h1m7 0h1m8 0h2m3 0h1m5 0h1m1 0h1m1 0h1m1 0h2m10 0h1m-76 1h1m22 0h1m11 0h1m3 0h1m7 0h1m4 0h2m7 0h1m4 0h1m5 0h1m-82 1h1m30 0h1m1 0h2m1 0h2m13 0h1m4 0h2m2 0h3m4 0h1m1 0h1m1 0h1m-66 1h1m1 0h1m9 0h2m10 0h2m1 0h2m2 0h1m15 0h1m4 0h1m5 0h1m6 0h1m1 0h3m-68 1h1m11 0h1m9 0h1m1 0h3m1 0h1m16 0h1m7 0h1m9 0h1m1 0h2m2 0h1m7 0h1m-55 1h1m1 0h1m1 0h1m27 0h1m4 0h2m1 0h1m1 0h1m-76 1h1m8 0h2m9 0h3m8 0h1m2 0h1m1 0h1m1 0h1m29 0h1m3 0h1m1 0h1m-73 1h1m27 0h1m1 0h1m3 0h1m30 0h1m4 0h2m2 0h2m5 0h1m2 0h1m-77 1h1m20 0h1m1 0h2m2 0h2m34 0h1m1 0h2m10 0h1m-88 1h1m1 0h1m7 0h1m9 0h3m9 0h1m2 0h1m34 0h1m2 0h4m5 0h1m2 0h1m-66 1h2m9 0h2m6 0h2m29 0h2m4 0h1m1 0h1m-78 1h1m7 0h1m20 0h1m2 0h1m3 0h1m32 0h3m1 0h1m1 0h1m-77 1h2m6 0h1m24 0h7m31 0h1m3 0h1m-75 1h1m6 0h1m11 0h2m10 0h1m37 0h1m3 0h1m-74 1h1m7 0h1m10 0h2m54 0h1m5 0h1m-81 1h1m8 0h1m8 0h1m10 0h1m1 0h3m1 0h3m31 0h2m1 0h2m-68 1h2m21 0h5m44 0h1m4 0h1m-86 1h1m33 0h1m1 0h2m2 0h1m28 0h2m1 0h1m12 0h1m-78 1h1m11 0h1m9 0h2m1 0h3m2 0h1m2 0h1m33 0h1m-76 1h1m1 0h1m8 0h1m7 0h1m1 0h1m9 0h1m1 0h1m1 0h1m2 0h2m1 0h1m31 0h1m-53 1h1m9 0h1m2 0h1m1 0h1m1 0h1m30 0h5m1 0h2m3 0h1m-81 1h1m7 0h1m2 0h1m23 0h2m4 0h1m5 0h1m22 0h1m1 0h1m1 0h2m1 0h1m6 0h1m2 0h1m-53 1h1m1 0h2m3 0h1m1 0h2m1 0h2m3 0h1m1 0h1m8 0h1m7 0h2m-63 1h1m10 0h1m11 0h1m1 0h2m3 0h1m1 0h4m2 0h1m1 0h1m11 0h1m1 0h1m4 0h2m1 0h1m1 0h1m-74 1h1m7 0h2m10 0h1m9 0h4m1 0h2m1 0h2m2 0h1m2 0h1m4 0h4m3 0h1m3 0h3m1 0h1m3 0h1m1 0h2m6 0h1m6 0h2m-89 1h1m21 0h1m9 0h1m7 0h1m10 0h1m6 0h1m4 0h1m2 0h1m8 0h1m11 0h2m-80 1h1m11 0h2m7 0h3m2 0h2m1 0h3m4 0h2m1 0h1m1 0h4m2 0h1m2 0h1m3 0h4m1 0h1m2 0h2m2 0h1m-77 1h1m11 0h1m8 0h1m10 0h1m2 0h3m5 0h2m4 0h1m4 0h2m3 0h4m9 0h4m1 0h1m-68 1h1m21 0h1m1 0h1m1 0h2m2 0h1m6 0h2m5 0h2m1 0h1m4 0h2m1 0h1m4 0h1m2 0h4m9 0h1m2 0h1m-81 1h1m1 0h1m10 0h2m10 0h1m2 0h1m1 0h1m1 0h1m11 0h1m1 0h1m1 0h1m1 0h1m6 0h2m3 0h3m10 0h1m-65 1h4m12 0h2m20 0h1m3 0h1m2 0h1m6 0h2m2 0h2m10 0h1m-88 1h1m7 0h2m1 0h1m9 0h1m12 0h1m2 0h1m22 0h1m2 0h1m1 0h1m1 0h1m2 0h1m1 0h1m2 0h1m10 0h1m-66 1h1m9 0h2m2 0h3m26 0h1m4 0h2m1 0h2m2 0h1m10 0h1m-79 1h2m10 0h1m10 0h2m1 0h1m2 0h1m31 0h1m1 0h1m8 0h1m-62 1h1m1 0h1m8 0h3m1 0h1m-27 1h1m1 0h1m19 0h2m1 0h2m34 0h1m2 0h1m13 0h1m-80 1h1m1 0h1m21 0h2m1 0h1m34 0h1m1 0h2m2 0h1m-69 1h1m11 0h3m9 0h1m5 0h1m30 0h1m2 0h1m-73 1h1m19 0h2m9 0h1m3 0h4m29 0h1m2 0h3m1 0h1m-76 1h1m34 0h2m31 0h1m1 0h1m1 0h1m10 0h1m2 0h1m-87 1h1m7 0h1m2 0h1m19 0h2m2 0h2m34 0h1m3 0h2m10 0h1m-88 1h1m8 0h2m21 0h1m1 0h3m32 0h1m3 0h2m12 0h1m-87 1h1m9 0h1m18 0h2m1 0h1m1 0h2m34 0h2m2 0h1m-76 1h1m1 0h1m7 0h1m9 0h3m9 0h2m1 0h1m33 0h2m1 0h2m14 0h1m-81 1h1m1 0h1m23 0h1m1 0h3m29 0h1m3 0h1m1 0h1m-64 1h1m8 0h1m12 0h1m2 0h1m1 0h2m30 0h1m1 0h1m2 0h1m-55 1h1m9 0h1m2 0h3m1 0h1m30 0h2m1 0h4m10 0h2m-87 1h1m8 0h1m9 0h2m9 0h1m2 0h5m31 0h2m15 0h1m-87 1h2m17 0h2m9 0h1m7 0h1m1 0h1m28 0h1m1 0h2m1 0h2m6 0h1m-64 1h1m11 0h2m1 0h2m1 0h1m1 0h1m2 0h1m6 0h1m2 0h1m4 0h1m12 0h2m1 0h2m12 0h1m-68 1h1m9 0h1m7 0h1m8 0h1m7 0h1m6 0h1m1 0h1m13 0h1m7 0h1m-87 1h1m29 0h3m1 0h1m2 0h2m3 0h2m6 0h1m1 0h2m16 0h1m3 0h2m-56 1h1m20 0h1m3 0h1m7 0h1m4 0h1m4 0h3m2 0h1m1 0h1m13 0h1m-86 1h1m10 0h1m10 0h1m15 0h3m3 0h1m5 0h1m5 0h1m3 0h1m5 0h1m6 0h3m11 0h1m-86 1h1m6 0h1m1 0h1m8 0h1m11 0h2m2 0h1m26 0h1m5 0h1m1 0h2m1 0h1m1 0h1m5 0h1m2 0h1m-84 1h1m6 0h1m10 0h2m15 0h1m25 0h1m1 0h3m3 0h1m1 0h1m2 0h1m10 0h1m-81 1h1m13 0h1m10 0h1m1 0h1m30 0h1m1 0h1m4 0h1m2 0h1m-75 1h1m8 0h1m9 0h2m12 0h2m26 0h1m3 0h1m4 0h2m1 0h3m8 0h1m-84 1h1m6 0h2m60 0h5m4 0h1m2 0h1m-83 1h1m4 0h1m4 0h1m18 0h7m33 0h1m2 0h1m12 0h1m-76 1h1m18 0h2m3 0h1m33 0h1m2 0h1m1 0h1m1 0h1m-77 1h1m8 0h2m10 0h1m11 0h3m33 0h1m1 0h1m1 0h1m-74 1h2m18 0h1m11 0h1m35 0h1m1 0h1m2 0h1m1 0h1m-74 1h1m4 0h1m12 0h2m10 0h2m1 0h1m35 0h4m1 0h1m8 0h1m-87 1h1m7 0h3m12 0h1m7 0h1m4 0h4m33 0h2m12 0h1m-79 1h1m11 0h2m9 0h1m1 0h1m2 0h1m32 0h1m4 0h2m9 0h1m-78 1h1m10 0h1m1 0h1m9 0h2m2 0h2m1 0h1m29 0h3m1 0h1m13 0h1m-83 1h2m2 0h1m7 0h1m3 0h1m1 0h1m7 0h3m1 0h2m1 0h1m31 0h1m1 0h1m3 0h1m4 0h1m1 0h1m3 0h1m1 0h1m-82 1h1m12 0h1m10 0h1m1 0h1m2 0h2m33 0h1m4 0h1m8 0h1m-81 1h1m1 0h2m13 0h1m6 0h1m1 0h1m1 0h4m4 0h1m29 0h4m8 0h1m-82 1h2m1 0h1m2 0h1m1 0h4m2 0h1m3 0h1m9 0h2m1 0h1m3 0h1m1 0h1m31 0h1m1 0h4m1 0h1m1 0h1m3 0h1m1 0h1m-79 1h3m4 0h1m11 0h1m3 0h4m34 0h1m3 0h3m-71 1h4m1 0h1m1 0h1m3 0h1m4 0h1m1 0h1m1 0h3m1 0h4m2 0h1m3 0h5m21 0h2m1 0h1m3 0h4m2 0h1m1 0h2m2 0h1m1 0h1m-80 1h1m2 0h2m1 0h2m5 0h1m2 0h3m2 0h2m3 0h2m3 0h1m1 0h1m1 0h2m5 0h1m1 0h1m1 0h1m12 0h1m2 0h6m1 0h1m2 0h2m1 0h3m3 0h1m-87 1h4m2 0h1m1 0h2m1 0h1m1 0h2m2 0h1m1 0h2m3 0h1m3 0h2m5 0h2m2 0h1m6 0h1m1 0h1m2 0h2m4 0h1m2 0h2m4 0h1m1 0h1m1 0h3m3 0h3m1 0h1m3 0h1m-85 1h2m1 0h1m1 0h2m4 0h2m1 0h3m2 0h1m1 0h2m2 0h1m5 0h3m1 0h3m2 0h2m3 0h2m1 0h1m1 0h1m1 0h3m1 0h1m1 0h2m1 0h1m1 0h5m5 0h1m1 0h1m2 0h1m1 0h2m4 0h1m-89 1h1m1 0h1m3 0h1m1 0h4m3 0h3m1 0h1m1 0h2m1 0h1m3 0h1m2 0h1m1 0h1m1 0h2m1 0h4m3 0h1m3 0h4m1 0h1m2 0h1m1 0h8m2 0h2m1 0h2m1 0h1m4 0h1m1 0h1m-84 1h2m3 0h1m1 0h1m1 0h1m1 0h3m1 0h3m1 0h1m1 0h3m2 0h1m1 0h1m2 0h1m2 0h1m1 0h3m1 0h2m1 0h2m4 0h1m1 0h2m1 0h3m2 0h2m1 0h1m3 0h1m1 0h1m4 0h1m1 0h3m4 0h2m2 0h1m-85 1h1m3 0h1m3 0h1m2 0h1m2 0h3m1 0h2m1 0h2m1 0h2m1 0h6m3 0h1m1 0h6m1 0h3m4 0h2m1 0h3m1 0h3m1 0h1m2 0h1m4 0h3m1 0h1m1 0h1m2 0h1m3 0h2m-85 1h2m2 0h1m4 0h1m1 0h3m1 0h1m2 0h2m3 0h1m1 0h1m1 0h3m2 0h3m2 0h4m1 0h2m1 0h3m2 0h1m1 0h3m1 0h1m2 0h1m1 0h2m6 0h1m4 0h1m1 0h1m1 0h1m1 0h1m2 0h1m-81 1h1m1 0h1m1 0h1m1 0h1m4 0h1m2 0h2m1 0h1m1 0h1m1 0h2m1 0h5m2 0h1m1 0h1m1 0h1m1 0h3m2 0h3m2 0h1m3 0h8m2 0h1m1 0h1m2 0h1m1 0h2m1 0h1m1 0h2m1 0h1m1 0h1m3 0h1m-86 1h2m2 0h1m1 0h3m2 0h1m1 0h2m1 0h2m4 0h2m2 0h1m4 0h5m2 0h1m1 0h3m2 0h1m2 0h1m2 0h2m2 0h1m3 0h1m1 0h3m3 0h1m13 0h1m-84 1h1m1 0h1m1 0h1m6 0h3m8 0h7m1 0h2m1 0h1m3 0h1m1 0h3m4 0h2m4 0h1m1 0h1m1 0h1m1 0h1m1 0h3m1 0h1m1 0h1m2 0h3m3 0h3m6 0h1m2 0h1m-85 1h1m3 0h1m2 0h3m2 0h1m1 0h11m2 0h1m1 0h3m1 0h1m1 0h1m1 0h5m1 0h2m1 0h6m3 0h1m2 0h1m1 0h1m1 0h2m2 0h2m5 0h2m1 0h2m1 0h1m2 0h3m-87 1h1m9 0h1m2 0h2m2 0h1m1 0h3m1 0h1m1 0h1m1 0h4m4 0h3m2 0h1m1 0h1m1 0h1m1 0h1m3 0h4m1 0h2m1 0h1m5 0h4m1 0h4m2 0h1m2 0h1m-80 1h2m4 0h1m2 0h4m1 0h1m3 0h1m1 0h3m4 0h1m1 0h1m2 0h4m4 0h3m1 0h1m1 0h1m1 0h1m2 0h6m1 0h1m1 0h2m3 0h1m4 0h1m2 0h1m2 0h3m1 0h1m-79 1h6m1 0h2m1 0h1m1 0h2m3 0h1m2 0h1m6 0h1m2 0h1m4 0h6m2 0h1m1 0h2m3 0h3m2 0h1m1 0h1m1 0h1m1 0h1m2 0h3m1 0h2m3 0h1m3 0h3m2 0h1m-76 1h1m2 0h1m2 0h1m4 0h1m1 0h1m2 0h1m5 0h1m4 0h1m3 0h3m2 0h1m1 0h1m2 0h1m1 0h1m3 0h2m2 0h2m5 0h1m1 0h1m1 0h3m1 0h1m8 0h3m-87 1h1m11 0h1m2 0h2m3 0h1m1 0h1m2 0h1m1 0h1m2 0h1m2 0h1m2 0h2m1 0h2m7 0h2m6 0h1m4 0h2m2 0h1m7 0h1m1 0h1m5 0h1m2 0h1m-81 1h1m4 0h1m13 0h1m2 0h2m5 0h1m5 0h1m1 0h2m10 0h1m13 0h3m12 0h1m1 0h1m-79 1h1m5 0h1m1 0h1m13 0h1m6 0h1m3 0h1m3 0h1m7 0h1m16 0h1m8 0h1m-74 1h1m1 0h1m6 0h2m5 0h1m2 0h1m28 0h1m3 0h1m7 0h1m12 0h1m6 0h1"/>
<path stroke="#1fe50d" d="M15 0h1m15 0h1m8 0h1m-36 1h1m4 0h1m12 0h1m1 0h1m19 0h1m25 0h1m-65 1h1m24 0h1m21 0h1m14 0h1m-58 1h1m5 0h1m4 0h1m6 0h1m25 0h1m18 0h1m2 0h1m-75 1h1m70 0h1m-63 1h1m1 0h1m17 0h2m2 0h1m14 0h1m2 0h1m3 0h1m16 0h1m-61 1h1m8 0h1m41 0h1m13 0h1m-69 1h1m4 0h1m3 0h1m2 0h1m12 0h1m7 0h1m5 0h1m13 0h1m9 0h1m-70 1h1m5 0h1m3 0h1m4 0h1m3 0h1m54 0h1m5 0h1m-67 1h1m8 0h1m1 0h2m10 0h1m5 0h1m22 0h1m6 0h1m-72 1h1m4 0h1m2 0h2m1 0h1m2 0h1m2 0h1m8 0h1m5 0h1m12 0h1m7 0h1m4 0h1m16 0h1m-77 1h1m8 0h1m3 0h1m2 0h1m9 0h1m2 0h2m19 0h1m5 0h1m-57 1h1m3 0h1m10 0h2m3 0h1m2 0h2m14 0h3m4 0h1m4 0h1m14 0h1m14 0h1m-88 1h1m21 0h1m4 0h1m5 0h1m4 0h2m1 0h1m15 0h1m4 0h1m6 0h1m5 0h1m1 0h1m5 0h1m-73 1h1m2 0h1m2 0h1m3 0h3m3 0h1m20 0h1m4 0h1m12 0h1m3 0h1m2 0h1m-71 1h1m13 0h2m8 0h1m2 0h1m10 0h1m8 0h1m12 0h2m2 0h1m10 0h1m-78 1h1m10 0h1m1 0h2m11 0h1m2 0h2m3 0h1m1 0h2m3 0h1m10 0h1m4 0h1m1 0h1m12 0h1m1 0h2m9 0h1m-85 1h1m2 0h3m3 0h1m1 0h1m12 0h2m3 0h1m7 0h1m4 0h1m8 0h1m7 0h1m7 0h1m7 0h1m-80 1h1m11 0h1m1 0h1m2 0h4m5 0h1m4 0h1m2 0h1m4 0h1m9 0h1m5 0h1m1 0h2m1 0h1m2 0h2m10 0h1m-59 1h1m1 0h1m6 0h2m8 0h1m3 0h2m11 0h1m7 0h1m22 0h1m3 0h1m-81 1h1m2 0h1m9 0h1m3 0h1m12 0h2m3 0h2m10 0h1m1 0h1m2 0h2m1 0h1m19 0h1m-80 1h1m10 0h1m12 0h1m5 0h1m9 0h2m11 0h1m14 0h1m1 0h1m5 0h1m-79 1h1m6 0h1m3 0h1m3 0h1m1 0h1m12 0h1m2 0h1m1 0h1m1 0h1m16 0h2m7 0h1m9 0h1m1 0h1m1 0h2m-81 1h2m9 0h2m31 0h1m14 0h2m23 0h1m4 0h1m-89 1h2m2 0h1m3 0h1m4 0h1m5 0h1m1 0h1m1 0h1m1 0h1m3 0h1m9 0h1m2 0h1m1 0h1m3 0h1m7 0h1m1 0h1m1 0h1m1 0h3m13 0h1m-78 1h1m12 0h1m1 0h1m2 0h1m8 0h1m10 0h1m1 0h1m14 0h2m2 0h1m5 0h1m4 0h2m1 0h1m6 0h1m-62 1h1m19 0h1m31 0h1m2 0h1m10 0h1m-74 1h1m5 0h1m5 0h1m5 0h1m18 0h1m2 0h1m15 0h1m2 0h1m5 0h1m-80 1h3m5 0h1m14 0h1m3 0h1m5 0h1m1 0h1m4 0h1m11 0h3m2 0h1m9 0h1m3 0h1m4 0h1m5 0h1m1 0h1m-77 1h1m33 0h1m19 0h2m2 0h1m4 0h1m1 0h1m2 0h1m-77 1h1m1 0h1m5 0h1m2 0h1m11 0h1m18 0h1m6 0h2m3 0h1m5 0h1m2 0h2m2 0h1m10 0h1m2 0h1m-71 1h1m21 0h2m13 0h1m2 0h1m1 0h2m2 0h2m1 0h1m7 0h1m3 0h1m2 0h1m11 0h1m-84 1h1m5 0h1m22 0h1m20 0h1m21 0h1m-43 1h1m4 0h2m14 0h1m14 0h3m4 0h1m1 0h1m8 0h1m-49 1h1m3 0h1m8 0h1m8 0h1m1 0h1m8 0h1m3 0h1m11 0h1m-89 1h2m31 0h1m1 0h1m21 0h1m4 0h1m12 0h1m11 0h1m-57 1h1m1 0h1m5 0h1m13 0h1m6 0h1m5 0h1m18 0h1m-65 1h1m8 0h1m7 0h1m16 0h2m13 0h2m15 0h1m-58 1h1m35 0h1m3 0h1m1 0h1m1 0h1m7 0h1m4 0h2m-88 1h1m32 0h1m28 0h2m9 1h1m9 0h1m-86 1h1m21 0h1m47 0h1m16 0h1m-52 1h1m33 0h1m3 0h1m-75 1h1m10 0h1m9 0h1m13 0h1m34 0h2m3 0h1m3 0h1m3 0h1m-48 1h1m47 0h1m-74 2h1m19 0h1m2 0h3m-15 1h1m13 0h1m39 0h1m-56 1h1m11 0h1m37 0h1m4 1h1m-66 1h1m23 0h1m37 0h3m10 0h1m-66 2h2m50 0h1m-34 1h1m33 0h1m1 0h1m-40 1h1m35 0h3m10 1h1m1 0h1m-69 1h1m15 0h1m-4 1h1m1 0h1m2 0h1m48 0h1m-53 1h1m1 0h1m-6 1h1m19 0h1m2 0h1m16 0h1m1 0h1m-54 1h1m22 1h1m2 0h1m10 0h1m18 0h1m-35 1h1m45 0h1m-50 1h1m26 0h1m8 0h1m-75 1h1m64 0h1m-66 1h1m32 0h2m28 0h1m9 0h2m10 0h1m-77 1h1m22 0h1m32 0h1m19 0h1m-14 1h1m-74 1h1m73 0h1m-74 1h1m18 0h1m52 1h1m12 0h1m-54 1h1m-34 1h1m33 0h1m40 0h1m-5 1h1m1 0h2m-74 1h1m69 1h1m2 0h1m10 0h1m2 0h1m-14 2h1m-42 1h1m49 0h1m-50 2h1m37 0h1m-39 1h1m35 0h1m12 1h1m-51 2h1m-27 1h1m25 0h1m13 0h1m23 1h1m-64 1h1m40 0h1m13 0h1m-45 1h1m14 0h1m39 0h1m-41 1h1m35 0h2m12 0h1m-55 1h1m5 0h1m-37 1h1m32 0h1m49 1h1m1 1h1m-54 1h1m51 0h1m-11 1h1m-43 1h1m36 0h1m17 1h1m-3 1h1m-1 1h2m-68 1h1m13 0h1m-1 1h2m35 0h1m-65 1h1m12 0h1m13 0h1m-36 1h2m84 0h1m-83 1h1m1 0h2m28 0h1m-35 1h1m30 0h1m54 0h1m-63 1h1m9 0h2m50 0h1m-72 1h1m19 0h1m50 0h1m-87 1h1m2 0h1m6 0h1m10 0h1m11 0h1m35 0h2m4 0h1m8 0h1m2 0h1m-87 1h1m2 0h1m10 0h1m5 0h1m7 0h2m4 0h1m-8 1h1m4 0h3m2 0h1m18 0h1m5 0h2m5 0h1m-60 1h1m9 0h1m6 0h3m9 0h1m11 0h1m3 0h1m12 0h1m1 0h1m1 0h1m-72 1h1m1 0h1m17 0h1m10 0h1m8 0h1m4 0h1m9 0h1m9 0h1m5 0h1m1 0h1m11 0h1m-84 1h1m7 0h1m3 0h1m10 0h2m1 0h1m2 0h1m3 0h1m2 0h1m3 0h2m5 0h1m11 0h1m1 0h1m6 0h1m10 0h1m-74 1h1m2 0h1m6 0h1m5 0h1m6 0h2m14 0h1m1 0h1m10 0h1m7 0h1m5 0h1m2 0h1m-76 1h1m1 0h4m5 0h1m6 0h2m7 0h1m10 0h1m6 0h1m2 0h1m3 0h1m2 0h1m7 0h1m3 0h1m6 0h1m-80 1h2m1 0h1m4 0h1m5 0h1m10 0h1m8 0h2m10 0h1m3 0h1m2 0h1m1 0h1m8 0h2m1 0h1m2 0h1m1 0h1m2 0h1m1 0h1m2 0h1m5 0h1m1 0h1m-88 1h1m3 0h1m5 0h2m4 0h1m2 0h1m6 0h1m1 0h1m9 0h1m5 0h1m2 0h1m2 0h2m2 0h2m1 0h1m8 0h1m2 0h4m4 0h5m2 0h1m2 0h1m-86 1h1m4 0h2m6 0h1m2 0h3m10 0h1m1 0h1m1 0h1m1 0h1m3 0h2m4 0h1m1 0h1m2 0h1m5 0h1m3 0h1m1 0h1m6 0h1m1 0h1m3 0h2m1 0h2m5 0h1m-89 1h1m4 0h1m2 0h1m4 0h2m1 0h1m11 0h1m2 0h1m3 0h1m9 0h1m2 0h1m15 0h1m3 0h1m3 0h1m1 0h1m3 0h1m5 0h1m-82 1h2m2 0h2m7 0h1m2 0h1m3 0h1m3 0h1m4 0h4m3 0h1m29 0h1m5 0h1m6 0h1m1 0h2m-83 1h1m1 0h1m7 0h1m1 0h1m9 0h2m1 0h1m2 0h1m4 0h3m11 0h1m6 0h1m4 0h3m4 0h1m4 0h1m8 0h1m3 0h1m-80 1h1m14 0h1m3 0h1m2 0h1m2 0h1m2 0h1m7 0h1m4 0h2m4 0h1m8 0h2m6 0h1m3 0h2m4 0h2m4 0h1m-73 1h2m5 0h1m3 0h4m3 0h1m2 0h1m1 0h1m3 0h1m4 0h1m2 0h1m3 0h1m2 0h1m3 0h1m1 0h1m9 0h1m1 0h1m1 0h1m-74 1h1m2 0h1m4 0h1m5 0h1m1 0h1m1 0h1m5 0h1m5 0h1m7 0h1m3 0h1m4 0h1m1 0h2m1 0h1m2 0h1m11 0h1m3 0h1m6 0h1m4 0h1m-74 1h1m13 0h1m8 0h1m6 0h1m11 0h1m1 0h1m2 0h2m1 0h1m5 0h1m3 0h1m2 0h2m-81 1h1m5 0h1m4 0h1m8 0h1m5 0h1m3 0h1m4 0h1m10 0h1m7 0h1m4 0h1m10 0h2m3 0h1m10 0h1m-77 1h1m18 0h1m10 0h1m14 0h1m6 0h2m19 0h1"/>
<path stroke="#21f50e" d="M2 0h1m3 0h1m35 0h1m3 0h2m34 0h1m-59 1h1m2 0h2m4 0h2m5 0h2m11 0h1m10 0h1m2 0h1m1 0h1m-62 1h1m25 0h1m23 0h1m-57 1h1m7 0h1m-4 1h1m6 0h1m2 0h1m8 0h2m34 0h1m1 0h1m7 0h1m14 0h1m-87 1h1m46 0h1m16 0h1m11 0h1m-77 1h1m13 0h1m16 0h2m8 0h1m4 0h1m-46 1h1m1 0h1m1 0h1m4 0h1m15 0h1m4 0h1m-29 1h3m27 0h1m35 0h3m1 0h1m4 0h1m-78 1h1m10 0h1m5 0h1m18 0h1m9 0h2m33 0h1m-83 1h1m1 0h2m8 0h1m14 0h1m2 0h1m5 0h1m10 0h1m4 0h1m15 0h1m1 0h1m2 0h1m-68 1h1m14 0h1m2 0h1m36 0h1m-57 1h1m13 0h1m32 0h1m11 0h1m7 0h1m4 0h1m9 0h1m-75 1h1m8 0h1m9 0h2m3 0h1m18 0h1m-56 1h1m2 0h1m16 0h1m25 0h1m7 0h1m7 0h1m4 0h1m-64 1h1m23 0h1m4 0h2m3 0h1m17 0h1m3 0h1m5 0h1m-60 1h2m10 0h1m4 0h1m3 0h1m4 0h1m15 0h1m4 0h1m4 0h1m5 0h1m-66 1h1m11 0h1m19 0h1m1 0h1m6 0h1m7 0h1m20 0h1m4 0h1m-50 1h1m13 0h1m8 0h1m19 0h1m9 0h1m1 0h1m-62 1h2m11 0h1m1 0h1m18 0h1m9 0h1m7 0h1m8 0h1m2 0h1m-85 1h1m38 0h1m11 0h1m2 0h1m8 0h1m2 0h1m3 0h1m3 0h1m3 0h1m-67 1h1m14 0h1m6 0h1m18 0h1m3 0h1m4 0h1m5 0h1m-70 1h1m12 0h1m19 0h1m10 0h1m8 0h1m9 0h1m1 0h1m2 0h1m2 0h2m-53 1h1m6 0h1m5 0h2m6 0h1m8 0h1m6 0h1m22 0h1m-78 1h1m10 0h1m15 0h2m3 0h1m36 0h1m2 0h1m9 0h1m-81 1h1m19 0h1m1 0h1m24 0h1m2 0h1m7 0h1m9 0h1m4 0h1m3 0h1m-84 1h1m41 0h1m16 0h1m1 0h1m1 0h1m22 0h1m-49 1h1m38 0h1m8 0h1m1 0h2m-9 1h1m1 0h1m3 0h1m-52 1h2m11 0h1m10 0h1m24 0h1m-51 1h1m15 0h1m14 0h1m17 0h1m4 0h1m-28 1h1m7 0h1m3 0h1m7 0h1m5 0h1m-42 1h1m3 0h1m4 0h1m13 0h1m3 0h1m10 0h1m-53 2h1m1 0h1m-4 1h1m39 0h1m-40 1h1m42 1h1m12 0h1m-55 1h1m52 3h1m-13 1h1m-45 1h1m55 2h1m-2 2h1m-4 1h1m1 0h1m-51 1h1m36 0h1m10 1h1m0 1h1m2 0h1m-1 2h2m-5 2h1m1 0h1m-86 3h1m84 3h1m-1 2h1m1 2h1m-4 3h1m2 0h1m-4 1h1m-87 1h1m0 1h1m75 2h1m9 0h1m1 0h1m-90 1h1m86 5h1m-88 4h1m87 1h1m-89 1h1m87 3h1m-2 3h1m1 1h1m-2 1h1m0 1h1m-2 1h1m-87 2h1m86 2h1m-4 1h1m1 0h1m-16 1h1m15 0h1m-4 4h1m2 0h1m-7 1h1m-48 3h1m-36 2h1m77 0h1m-78 1h1m25 0h1m55 0h1m-83 1h1m30 0h1m-31 1h1m-2 1h1m71 0h1m9 0h1m4 0h1m-7 1h1m-62 1h1m1 0h1m-25 1h1m80 0h1m-42 1h1m31 0h1m-9 1h2m-57 1h1m7 0h1m51 0h1m6 0h1m9 0h1m-85 1h1m9 0h1m4 0h1m3 0h1m35 0h1m12 0h1m3 0h1m13 0h1m-83 1h1m27 0h1m19 0h1m-50 1h1m19 0h1m3 0h1m5 0h1m7 0h1m16 0h1m4 0h1m-52 1h1m3 0h1m3 0h1m8 0h1m1 0h1m27 0h1m15 0h1m11 0h1m-78 1h1m11 0h1m3 0h1m18 0h1m9 0h1m9 0h1m12 0h2m1 0h1m-58 1h1m19 0h1m1 0h2m6 0h1m1 0h1m5 0h1m2 0h1m8 0h1"/>
<path stroke="#29fd16" d="M7 0h1m2 0h1m2 0h1m8 0h1m12 0h1m8 0h1m40 0h1m-72 1h1m1 0h1m9 0h1m5 0h1m13 0h1m30 0h1m3 0h1m-77 1h1m6 0h1m43 0h1m28 0h1m-53 1h1m8 0h3m-42 1h1m20 0h1m58 0h1m-77 1h1m12 0h2m5 0h2m7 0h1m8 0h1m8 0h1m-50 1h1m25 0h1m7 0h1m4 0h1m3 0h1m5 0h1m-39 1h1m2 0h2m9 0h1m5 0h1m20 0h1m-47 1h1m6 0h1m2 0h1m45 0h1m-62 1h1m15 0h1m18 0h1m9 0h1m10 0h1m-52 1h1m9 0h1m33 0h1m1 0h1m3 0h1m26 0h1m-85 1h1m9 0h2m17 0h1m2 0h1m3 0h1m3 0h1m1 0h1m16 0h1m1 0h1m-66 1h1m43 0h1m1 0h1m28 0h1m10 0h1m-79 1h1m23 0h1m6 0h1m11 0h1m24 0h1m7 0h1m-85 1h1m25 0h2m8 0h1m45 0h1m1 0h1m3 0h1m-75 1h1m2 0h1m10 0h1m15 0h1m3 0h1m6 0h1m-45 1h1m24 0h1m10 0h1m-43 1h1m26 0h1m7 0h1m1 0h1m19 0h1m4 0h1m6 0h2m6 0h1m-78 1h1m32 0h1m27 0h1m21 0h1m-77 1h1m19 0h1m32 0h1m4 0h1m1 0h1m9 0h1m-66 1h1m6 0h1m41 0h1m12 0h1m-63 1h1m22 0h1m7 0h1m5 0h1m18 0h1m-4 1h1m12 0h2m-13 1h1m-73 1h1m57 0h1m30 0h1m-69 1h1m24 0h1m24 0h1m8 2h1m-45 1h1m26 0h1m24 0h1m-59 1h1m50 0h1m-47 2h1m48 2h1m2 1h1m1 7h1m-1 2h1m-1 4h1m-2 2h1m-2 1h1m-88 2h1m87 0h1m-1 17h1m-1 6h1m-3 6h1m-87 7h1m88 0h1m-90 3h1m-1 3h1m88 2h1m-89 8h1m1 1h1m-4 1h1m87 3h1m-3 1h1m-87 5h1m88 6h1m-3 1h1m-80 1h1m62 0h1m11 0h2m-82 1h1m29 0h1m18 0h1m18 0h1m3 0h1m4 0h1m-77 1h1m10 0h1m4 0h1m5 0h1m11 0h1m6 0h1m3 0h1m2 0h2m5 0h1m5 0h1m9 0h1m11 0h1m-65 1h1m9 0h1m19 0h1m20 0h1m-75 1h1m38 0h1m11 0h1"/>
<path stroke="#37fd25" d="M80 0h1m-46 1h1m-30 1h1m57 0h1m-36 1h1m29 0h1m4 0h1m18 0h1m-66 1h1m2 0h1m59 0h1m-71 1h1m19 0h1m46 0h1m1 0h1m-77 1h1m3 0h1m-8 1h1m32 0h1m23 0h1m14 0h1m9 0h1m5 0h1m-81 1h1m33 0h1m7 0h1m7 0h1m2 0h1m-51 1h1m23 0h1m15 0h1m6 0h1m5 0h1m-37 1h1m6 0h1m45 0h1m-71 1h1m22 0h1m13 0h1m9 0h1m6 0h1m2 0h1m8 0h1m8 0h1m-78 1h1m53 0h1m-29 1h1m35 0h1m-70 1h1m45 0h1m27 0h1m-61 3h1m35 0h1m13 1h1m-38 1h1m27 0h1m22 1h1m-62 1h1m65 2h1m2 21h1m-2 4h1m0 1h1m-2 1h1m-3 7h1m-87 8h1m86 3h1m0 2h1m-2 1h1m0 2h1m0 16h1m-1 1h1m-90 15h1m88 5h1m-88 9h1m9 5h1m66 0h1m-63 1h1m14 0h1m3 0h2m-24 1h1m1 0h1m44 0h1m2 0h1m1 0h1m12 0h1m-58 1h1m7 0h1m1 0h1m5 0h1m2 0h1m35 0h1"/>
<path stroke="#45fd34" d="M33 0h1m7 0h1m20 0h1m13 0h1m-58 1h1m17 0h1m38 0h1m11 0h1m-65 1h1m2 0h1m14 0h1m25 0h1m-34 1h1m12 0h1m22 0h1m-30 1h1m-39 1h1m53 0h1m-22 1h1m15 0h1m4 0h1m12 0h1m-58 1h1m51 1h1m-64 1h1m4 1h1m49 0h1m-58 1h1m9 0h1m74 0h1m-76 1h1m31 0h1m17 0h1m15 0h1m-68 1h1m-2 1h1m43 0h1m24 1h1m6 2h1m-4 1h1m6 0h1m-9 1h1m2 2h1m-2 2h1m4 1h1m-89 7h1m85 0h1m-86 8h1m87 16h1m-90 1h1m86 16h1m1 6h1m-1 3h1m-90 41h1m3 1h1m-3 1h1m9 1h1m38 0h1m4 0h1m-2 1h1m21 0h1m10 0h2m-19 1h1m10 0h1m3 0h1"/>
<path stroke="#52fd43" d="M18 0h1m53 0h1m-15 1h1m13 0h1m-27 1h1m5 0h1m28 0h1m-65 1h1m1 0h1m66 0h1m-81 1h1m9 0h1m49 0h1m6 1h1m-33 1h1m17 0h1m17 0h1m-61 1h1m2 1h1m23 0h2m2 0h1m-22 1h1m39 0h1m11 1h1m-4 1h1m4 1h1m-16 1h1m21 0h1m-89 6h1m87 20h1m-89 3h1m-1 62h1m-1 10h1m1 11h1m81 0h1m-51 1h1m13 0h1m16 0h1m-30 1h1m17 0h1"/>
<path stroke="#60fe52" d="M16 0h1m35 0h1m8 0h1m-60 1h1m0 1h1m67 0h1m-64 1h2m51 1h1m-62 1h1m65 0h1m-43 2h1m4 0h1m17 0h1m35 1h1m-34 2h1m20 1h1m-6 1h1m20 0h1m-23 1h1m23 1h1m-1 1h1m-90 6h1m88 0h1m-90 4h1m86 5h1m-88 18h1m-1 27h1m-1 5h1m31 46h1m25 0h1m2 1h1m10 0h1"/>
<path stroke="#6efe61" d="M40 2h1m41 1h1m-63 1h1m23 0h1m26 0h1m-31 1h1m-31 1h1m51 1h1m-8 1h1m-57 1h1m24 1h1m60 10h1m-87 17h1m86 3h1m-88 57h1m16 29h1m1 0h1m7 0h1m14 0h1m41 1h1"/>
<path stroke="#7cfe70" d="M65 0h1m-10 1h1m-25 2h1m-1 1h1m6 0h1m-18 2h1m1 0h1m47 0h1m1 0h1m-73 2h1m57 2h1m27 13h1m-89 9h1m-1 4h1m-1 19h1m-1 13h1m1 58h2m-2 1h1"/>
<path stroke="#8afe7f" d="M35 2h1m15 1h1m22 0h1m1 1h1m-26 1h1m17 0h1m18 0h1m-49 1h1m40 11h1m-82 28h1m-1 17h1m88 8h1m-90 31h1m15 26h1"/>
<path stroke="#97fe8e" d="M30 0h1m52 0h1m-19 1h1m-44 1h1m47 1h1m10 2h1m-54 1h1m36 0h1m21 0h1m-88 1h1m60 0h1m-62 3h1m75 2h1m-73 115h1"/>
<path stroke="#a5fe9d" d="M80 3h1m-7 1h1m9 0h1m-20 3h1m-14 6h1m27 1h1m-81 40h1m-1 12h1m-1 24h1m-1 35h1m27 2h1m6 0h1"/>
<path stroke="#b3feac" d="M41 2h1m38 0h1m-27 1h1m34 0h1m-38 1h1m36 0h1m-1 2h1m-11 1h1m-18 11h1m-63 26h1m-1 33h1m-1 30h1m85 18h1m-82 1h1m21 1h1"/>
<path stroke="#c1febb" d="M4 1h1m7 0h1m23 2h1m15 0h1m7 0h1m-1 1h1m17 0h1m7 5h1m2 0h1m-90 37h1m-1 1h1m-1 31h1m-1 18h1m88 8h1m-67 21h1"/>
<path stroke="#cfffca" d="M49 0h1m7 0h1m2 1h1m-24 3h1m48 0h1m-47 1h1m12 0h1m27 2h1m-82 6h1m85 0h1m-87 66h1m-1 16h1"/>
<path stroke="#dcffd9" d="M67 0h1m-55 1h1m7 0h2m64 0h1m-70 1h1m68 0h1m0 1h1m-89 3h1m85 2h1m-5 3h1m6 0h1m-89 3h1m-2 44h1m-1 11h1m42 58h1m25 0h1m10 0h1"/>
<path stroke="#eaffe8" d="M36 0h2m35 0h1m4 0h1m9 2h1m-69 1h1m8 1h1m-3 2h1m1 0h1m48 0h1m-40 3h1m47 0h1m-3 3h1m-86 4h1m-1 82h1"/>
<path stroke="#f8fff7" d="M39 2h1m4 0h1m4 0h1m-26 1h1m25 0h1m3 1h1m30 0h1m-16 1h1m12 0h1m-84 30h1m87 23h1m-89 18h1"/>
</g></g>
<use href="#hc"/>
</svg>
<svg x="878.9" y="543.9" width="645.5" height="429.9" viewBox="0 0 90 128" preserveAspectRatio="none">
<rect width="90" height="128" fill="#1fe50d"/>
<g shape-rendering="crispEdges"><g id="hd" transform="translate(0 .5)" fill="none" stroke-width="1.02">
<path stroke="#010800" d="M42 0h1m46 0h1m-66 1h1m21 0h1m-22 2h1m3 0h1m10 2h1m18 1h1m1 0h1m-34 2h1m59 0h1m-71 1h1m70 0h1m-73 1h1m12 0h1m-23 3h1m15 0h1m56 0h1m-64 3h1m-16 4h1m56 3h1m-13 7h1m27 11h1m5 0h1m-81 5h1m16 1h1m-16 10h1m84 13h1m-90 5h1m1 13h1m85 6h1m-47 11h1m-32 3h1m77 1h1m-76 1h1m37 0h1m3 0h1m12 1h1m9 0h1m-3 7h1m-21 2h1m-32 3h1m30 0h1m-56 1h1m36 0h1m-29 1h1m72 2h1"/>
<path stroke="#031801" d="M69 0h1m-55 1h1m-9 1h1m52 2h1m3 0h1m16 0h1m-39 1h1m6 0h1m26 1h1m-74 1h1m22 0h1m59 4h2m-81 3h1m29 0h1m-3 1h1m-13 1h1m37 2h1m-54 3h1m18 1h1m46 0h1m-76 4h2m2 1h1m20 2h1m0 5h1m-24 3h1m73 10h1m-78 6h1m85 5h1m-10 5h1m-78 1h1m30 0h1m-32 6h1m47 2h1m31 3h1m-78 3h1m83 0h1m-84 1h1m12 1h1m66 7h1m-75 8h1m77 2h1m-29 4h1m25 2h1m-72 4h1m71 2h1m-4 3h1m-42 2h1m-29 5h1m6 4h1m0 3h1m-8 1h1m57 0h1"/>
<path stroke="#052802" d="M16 0h1m43 0h1m-43 1h1m10 1h1m-7 3h1m36 0h1m17 0h1m-74 1h1m36 0h1m12 0h1m-39 2h1m-11 1h1m40 0h1m33 0h1m-81 1h1m49 0h1m9 1h1m-55 1h1m21 0h1m32 0h1m-32 2h1m-27 1h1m65 0h1m-64 3h1m1 5h1m-8 2h1m65 0h1m3 1h1m5 2h1m2 1h1m-78 5h1m-4 1h1m41 9h1m-40 1h1m54 1h1m26 0h1m-6 9h1m-79 13h1m77 2h1m-4 14h1m-39 7h1m-42 6h1m2 3h1m49 1h1m-16 7h1m48 0h1m-32 7h1m-57 1h1m81 0h1m-83 2h1m63 3h1m-2 1h1m-47 1h1m22 0h1m-39 2h1m50 0h1m20 0h1m10 0h1m-54 1h1m16 0h1m16 0h1m-36 1h1m49 0h1"/>
<path stroke="#073703" d="M16 2h1m19 0h1m1 0h1m-21 1h1m-17 1h1m51 0h1m-54 1h1m30 0h1m-20 1h1m59 0h1m-40 1h1m-5 1h2m20 0h1m-42 1h1m-12 1h1m13 0h1m70 0h1m-63 2h1m49 0h1m-37 2h1m2 0h1m-19 1h1m58 0h1m2 2h2m-59 1h1m44 1h1m1 1h1m-75 1h1m85 1h1m-75 1h1m61 0h1m13 3h1m-86 2h1m85 0h1m-62 4h1m37 2h1m-52 8h1m40 1h1m26 0h1m-79 1h1m50 3h1m23 1h1m-10 2h1m13 2h1m3 11h1m-31 1h1m-31 5h1m53 0h1m-79 3h1m76 2h1m-82 1h1m85 5h1m1 19h1m-89 1h1m-1 2h1m22 0h1m-23 6h1m83 1h1m-11 4h1m3 0h1m-64 3h1m68 0h1m-85 2h1m17 0h1m37 0h1m-45 1h1m65 1h1m6 0h1m-84 1h1m79 0h1m-65 1h1m47 1h1m-40 2h1m23 2h1m5 0h1m10 0h1"/>
<path stroke="#0a4704" d="M26 1h1m23 0h1m-36 2h1m10 1h1m3 0h1m49 0h1m-74 1h1m22 0h1m24 0h1m9 1h1m-54 1h1m39 2h1m4 0h1m2 0h1m-8 1h1m1 0h1m-5 2h1m0 1h1m11 0h1m-62 1h1m18 0h1m57 0h1m-15 2h1m-17 3h1m-50 2h1m77 6h1m-79 2h1m72 0h1m12 3h1m-2 5h1m-85 7h1m85 0h1m-19 1h1m-11 2h1m-60 1h1m56 0h1m24 1h1m-79 1h1m0 2h1m30 1h1m42 7h1m-78 3h1m78 0h1m-79 3h1m11 3h1m-15 4h1m82 1h1m0 5h1m-2 5h1m-27 1h1m-30 1h1m-28 3h1m-4 2h1m1 3h1m57 4h1m11 2h1m-68 3h1m52 0h1m16 0h1m12 1h1m-1 5h1m-7 1h1m-28 2h1m19 2h1m-75 1h1m11 0h1m72 0h1m-79 2h1m35 0h1m5 0h1m-30 1h1m16 1h1m25 0h1m-62 2h1m44 1h1m31 1h1m-45 1h1m23 0h1m-24 1h1m-16 2h1"/>
<path stroke="#0c5705" d="M11 0h1m55 0h1m-62 1h1m3 0h1m43 0h1m-10 1h1m7 0h1m1 1h1m2 1h1m19 2h1m-50 3h1m23 0h1m26 0h1m-75 1h1m51 0h1m7 0h1m-14 1h1m-28 1h1m1 0h1m37 0h1m-19 1h1m19 0h1m19 0h1m-39 1h1m34 1h1m-61 2h1m40 0h1m-60 3h1m73 1h1m-47 2h1m53 1h1m-55 1h1m-1 2h1m27 4h1m-64 3h1m72 0h1m15 0h1m-62 2h1m-3 1h1m27 0h1m-28 1h1m25 0h1m-38 1h1m-12 1h1m76 0h1m4 0h1m-77 1h1m47 1h1m3 2h1m-11 2h1m30 2h1m-83 1h1m47 3h1m10 0h1m-47 3h1m57 0h1m-72 1h1m76 0h1m7 0h1m-87 1h1m25 0h1m-28 3h1m10 1h1m4 3h1m67 2h1m-10 1h1m-59 2h1m-13 2h1m23 0h1m47 1h1m-71 2h1m75 1h1m1 0h1m-28 1h1m23 1h1m3 3h1m-86 1h1m87 2h1m-65 3h1m55 0h1m-6 2h1m-75 1h1m80 1h1m-81 1h1m13 0h1m57 5h1m-52 2h1m63 1h1m-47 1h1m44 2h1m-24 2h1m24 0h1m-11 2h1m-79 1h1m-2 1h1m46 0h1m-3 2h1m37 0h1m-80 1h1m27 0h1m-27 1h1m33 4h1m-38 1h1m24 1h1m50 0h1m-43 1h1m12 2h1m-47 1h1m14 0h1m17 0h1m21 0h1m-55 1h1m1 0h2m13 3h1m17 0h1m27 0h1m-62 1h1"/>
<path stroke="#0e6706" d="M18 0h1m25 0h1m13 1h1m1 1h1m-51 1h1m21 0h1m7 1h1m17 1h1m-48 1h1m9 0h1m5 0h1m5 0h1m11 0h1m-44 2h1m48 0h1m11 1h1m0 1h1m-34 2h1m28 0h1m16 0h1m-57 1h1m57 0h1m4 0h2m-43 1h1m10 1h1m24 0h1m-76 1h1m11 1h1m18 0h1m23 0h1m-43 1h1m61 0h1m-54 1h1m22 0h1m-32 1h1m33 2h1m-21 1h1m32 1h1m5 2h1m14 0h1m-83 3h1m24 0h1m0 1h1m9 0h1m-32 2h1m-5 1h1m13 0h1m62 0h1m-79 1h1m77 2h1m5 3h1m-88 1h1m69 0h1m-47 1h1m-15 2h1m19 0h1m33 0h1m21 1h1m-43 1h1m12 0h1m5 0h1m-62 1h1m61 0h1m-14 1h1m27 0h1m-77 2h1m15 2h1m-19 1h1m57 0h1m-32 1h1m55 0h1m-58 2h1m55 0h1m-82 2h1m10 0h1m2 5h1m67 3h2m-58 1h1m-5 1h1m58 2h1m-83 1h1m45 1h1m-42 2h1m74 0h1m-18 1h1m-50 1h1m45 1h1m-7 1h1m8 2h1m-65 1h1m83 0h1m-80 1h1m76 3h1m-17 4h1m21 0h1m-9 3h1m-77 3h1m0 1h1m47 2h1m-44 1h1m52 0h1m-8 2h1m3 0h1m24 0h1m-80 1h1m57 0h1m-58 2h1m52 0h1m-58 1h1m79 1h1m-80 2h1m79 0h1m-86 2h1m33 1h1m-35 3h1m43 0h1m3 2h1m31 0h1m-70 1h1m54 0h1m-15 1h1m34 0h1m-21 2h1m-47 1h2m-22 1h1m30 0h1m19 0h1m-10 1h1m43 0h1m-49 1h1m9 0h1m2 1h1m10 0h1m-32 2h1m3 1h1m1 0h1m18 0h1m7 0h1m15 0h1m1 0h1"/>
<path stroke="#107707" d="M6 0h1m16 0h1m3 0h1m13 0h1m-30 2h1m14 0h1m6 0h1m35 0h1m-62 1h1m65 0h1m-32 1h1m29 0h1m-70 1h1m8 0h1m51 0h1m-52 1h1m-5 1h1m29 0h1m9 0h1m12 0h1m-33 1h1m17 0h1m-34 1h1m36 0h1m22 0h1m-45 1h1m2 0h1m41 0h1m-52 2h1m21 1h1m1 0h1m2 0h1m15 0h1m7 0h1m-66 1h1m-13 1h1m7 0h1m41 1h1m-49 1h1m66 0h1m-59 1h1m41 1h1m34 0h1m-20 1h1m-15 1h1m-48 2h1m35 0h1m25 0h1m14 0h1m-77 1h1m73 0h1m-78 2h1m-6 2h1m32 0h1m11 0h1m-3 1h1m12 0h1m-33 1h1m-9 1h1m70 1h1m-80 1h1m6 0h1m11 0h1m-23 1h1m59 0h1m-45 1h1m-19 2h1m26 1h1m27 1h1m16 0h1m5 0h1m-68 1h1m43 0h1m22 0h1m-66 2h1m-19 1h1m-1 1h1m25 0h1m1 0h1m7 0h1m11 0h1m3 0h1m6 1h1m28 0h1m-35 1h1m-47 1h1m55 0h1m-3 1h1m-36 1h1m32 0h1m26 0h1m-81 1h1m18 0h1m30 0h1m23 0h1m-20 2h1m-57 1h1m11 1h1m-12 2h1m75 0h1m-80 2h1m82 0h1m-71 3h1m10 0h1m55 4h1m-67 2h1m-7 3h1m1 0h2m46 0h1m17 0h1m-74 1h1m-6 1h1m47 0h1m11 0h1m25 0h1m-74 1h1m-12 1h1m59 0h1m-41 1h1m28 0h1m5 0h1m4 0h1m11 0h1m-72 1h1m35 0h1m4 0h1m10 2h1m24 1h1m-42 1h1m-37 1h1m22 0h1m4 0h1m55 0h1m-90 1h1m42 0h1m25 0h1m-68 1h1m7 1h1m5 0h1m54 0h1m-66 1h1m-6 1h1m13 0h1m67 1h1m4 0h1m-63 1h1m-23 1h1m5 2h1m0 1h1m14 0h1m49 0h1m-74 2h1m0 1h1m3 0h1m8 1h2m66 1h1m-61 2h1m16 0h1m42 0h1m-86 2h2m21 0h1m19 0h1m14 0h1m9 0h1m15 0h1m-28 1h1m2 0h1m14 0h1m5 0h1m-57 1h1m19 0h1m42 0h1m-41 1h1m8 0h1m5 0h1m18 1h1m-51 3h1m29 0h1m-49 3h1m74 1h1m-62 1h1m-29 1h1m88 0h1m-90 1h1m2 0h1m14 0h1m59 1h1m-46 1h1m-34 3h1m82 0h1m-63 2h1m32 0h1m3 0h1m-42 2h1m6 0h1m30 0h1m-51 1h1m43 0h1m12 0h1m4 0h1m21 0h1m-78 1h1m18 0h1m20 0h1m3 0h1m2 0h1m11 0h2m6 0h1m-62 1h1m60 0h1m6 0h1"/>
<path stroke="#128607" d="M2 0h1m53 0h1m0 1h1m23 0h1m-72 1h1m3 0h1m-3 1h1m65 0h1m-20 1h1m7 0h1m5 0h1m-32 1h1m36 0h1m-77 1h1m9 1h1m34 0h1m6 0h1m19 0h1m-58 1h1m57 0h1m9 0h1m-83 1h1m33 0h1m-20 1h1m27 0h1m18 1h1m-31 1h1m5 0h1m27 0h1m-66 1h1m35 0h1m6 1h1m28 0h1m-35 1h1m2 0h1m-34 1h2m16 0h1m41 0h1m-63 1h1m31 0h1m33 0h1m-58 2h1m57 0h1m-62 1h1m47 0h1m6 0h1m7 1h1m7 0h1m-1 1h1m-89 2h1m13 0h1m71 0h1m-59 2h1m-29 2h1m29 0h1m10 0h1m47 1h1m-4 1h1m-85 2h1m76 1h1m5 0h1m-69 2h1m8 0h1m15 1h1m-39 2h1m55 0h1m-61 2h1m43 0h1m-18 1h1m20 0h1m11 0h1m-1 1h1m1 0h1m2 0h1m-65 1h1m12 0h1m28 1h1m10 0h1m6 0h1m3 0h1m10 0h1m-74 1h1m43 0h1m9 0h1m-33 1h1m17 0h1m18 0h1m1 0h1m-61 1h1m1 0h1m40 0h1m18 0h1m-42 1h1m-20 2h1m43 0h1m8 0h1m4 0h2m14 0h1m-55 1h1m36 0h1m-8 1h1m-51 2h1m19 1h1m22 0h1m13 1h1m-58 2h1m16 0h1m4 0h1m39 1h2m11 0h1m-49 2h1m45 0h1m-52 1h1m-2 2h1m60 0h1m-87 1h1m24 0h1m-2 1h1m58 0h1m-81 1h1m10 1h1m31 0h1m33 0h1m-23 1h1m-42 1h1m31 0h1m36 0h1m-86 1h1m15 1h1m34 0h1m5 0h2m20 0h1m-34 1h1m6 0h1m-43 1h1m47 0h1m-35 1h1m19 0h1m-6 1h1m1 0h1m10 0h1m6 0h1m14 0h1m2 0h1m-68 1h1m27 0h1m10 0h1m32 0h1m-87 1h1m13 0h1m34 0h1m1 0h1m-49 1h1m13 0h1m41 0h1m-51 1h1m40 0h1m2 0h1m10 1h1m-62 1h1m11 0h1m61 0h1m6 0h1m-85 1h1m57 2h1m1 0h1m17 0h1m7 0h1m-59 1h1m-24 1h1m22 1h1m-13 1h1m3 0h1m5 0h1m55 0h1m-44 2h1m-20 1h1m50 0h1m10 0h1m-82 1h1m3 0h1m0 1h1m9 0h1m69 0h2m-39 1h1m38 0h1m-81 1h1m34 1h1m-44 1h1m13 0h1m34 0h1m3 0h1m-4 1h1m2 0h2m-49 1h1m8 0h1m1 0h1m26 0h1m1 0h1m-43 1h1m59 0h1m18 0h1m-78 1h1m21 0h1m14 0h1m3 1h1m9 0h1m1 0h1m3 0h1m2 0h1m10 0h1m-18 1h1m-44 1h1m38 0h1m2 0h1m-43 1h1m26 0h1m7 0h1m11 0h1m-46 1h1m41 0h2m-59 1h1m49 0h1m-35 1h1m15 0h1m3 0h1m3 0h1m3 0h1m6 2h1m32 0h1m-74 1h1m50 0h1m-2 1h1m21 0h1m-74 1h1m56 0h1m-29 1h1m40 0h1m-71 1h1m-1 1h1m5 0h1m1 0h1m59 0h1m-77 1h1m56 0h1m22 0h1m-86 1h1m17 0h1m28 0h1m27 0h1m-73 1h1m30 1h1m45 0h1m1 0h1m4 0h1m-63 1h1m18 0h1m25 0h1m17 0h1m-89 1h1m51 0h1m34 0h1m-71 1h1m35 0h1m-32 1h1m10 0h1m16 0h1m22 0h1m-73 1h1m6 0h1m5 0h1m60 0h1m-77 1h1m24 0h1"/>
<path stroke="#149608" d="M31 0h1m-10 1h1m-12 1h1m12 0h1m41 0h1m7 1h1m1 0h1m-60 1h1m2 0h1m8 0h1m54 0h1m-83 1h1m44 0h1m27 0h1m1 0h1m-61 1h1m68 0h1m-72 1h1m3 0h1m18 0h1m1 0h1m1 0h1m16 0h1m-34 1h1m9 0h1m2 0h1m27 0h1m-67 1h2m5 0h1m55 0h1m1 0h1m3 0h1m-63 1h1m30 0h1m31 0h1m10 0h1m-78 1h1m65 0h1m-13 2h1m-58 1h1m25 0h1m33 0h1m-18 1h1m-26 1h1m7 0h3m-11 1h1m26 0h1m32 1h1m-64 1h1m6 0h1m46 0h1m13 0h1m1 0h2m-84 1h1m21 0h1m14 0h1m35 0h1m10 0h1m-42 1h1m-16 1h1m29 0h1m23 0h1m-67 1h1m39 0h1m-60 2h1m61 1h1m-54 1h1m15 0h1m11 0h1m9 0h1m1 0h1m29 0h1m-62 1h1m50 0h1m-49 1h1m44 0h2m18 0h1m-38 1h1m13 0h1m-43 1h1m3 0h2m18 0h1m-22 1h1m50 0h1m10 0h1m-66 1h1m1 0h1m60 0h1m-60 1h1m54 0h1m-59 1h1m3 0h1m-24 1h1m23 0h1m10 0h1m-13 1h1m-13 1h1m12 0h1m-16 1h2m10 0h1m2 0h1m41 0h1m9 0h1m-53 1h1m-25 1h1m9 0h1m13 0h1m9 0h1m5 0h1m7 1h1m9 0h1m-47 1h1m25 0h1m3 0h2m1 0h1m1 0h1m7 0h1m20 0h1m4 0h1m-41 1h1m3 0h1m5 0h1m-40 1h1m11 0h1m20 0h1m1 0h2m1 0h1m5 0h1m4 0h2m15 0h1m1 0h1m-58 1h1m20 0h1m6 0h1m3 0h1m-46 1h2m10 0h2m13 0h2m2 0h1m15 0h1m-63 1h1m44 0h1m2 0h3m1 0h1m4 0h1m2 0h1m8 0h1m13 0h1m-84 1h1m5 0h1m41 0h1m9 0h1m5 0h1m-48 1h1m37 0h1m6 0h1m-59 1h1m45 0h1m1 0h1m36 0h1m-86 1h1m21 0h1m38 0h1m17 0h1m4 0h1m-75 1h1m1 0h1m36 0h1m13 0h1m1 0h1m-63 1h1m20 0h1m19 0h1m6 0h2m9 0h1m1 0h1m15 0h1m-28 1h1m22 0h1m-76 1h1m8 0h2m10 0h2m-23 1h1m10 0h1m11 0h1m50 0h1m-1 1h1m-51 1h1m-23 1h1m9 0h1m10 0h1m-14 1h1m11 0h1m58 0h1m-79 1h1m1 0h1m3 0h1m-13 1h1m12 1h1m10 0h1m56 0h1m-13 1h1m17 0h1m-82 1h1m9 0h1m4 0h1m4 0h1m54 0h1m-81 1h1m25 0h1m44 0h1m12 0h1m-82 1h1m10 0h1m11 0h1m13 0h1m8 0h1m-28 1h1m11 0h1m4 0h1m13 0h1m30 0h1m-80 1h2m50 0h1m-43 1h1m6 0h1m16 0h1m12 0h1m20 0h1m4 0h1m-66 1h2m35 0h1m30 0h1m-79 1h1m16 0h1m19 0h1m42 0h1m-87 1h1m11 0h1m28 0h1m7 0h1m-5 1h1m17 0h1m-60 1h1m1 0h1m8 0h1m9 0h1m33 0h1m5 0h1m18 0h1m-69 1h1m10 0h1m22 0h1m13 0h2m5 0h1m12 0h1m3 0h1m-85 1h1m37 0h1m20 0h2m-40 1h1m19 0h1m6 0h1m1 0h2m6 0h1m21 0h1m-80 1h1m50 0h1m2 0h1m2 0h1m-47 1h1m68 0h1m-79 1h1m43 0h1m2 0h1m7 0h1m1 0h1m22 0h1m-83 1h2m17 0h1m30 0h1m6 0h1m-35 1h1m27 0h1m31 0h2m-85 1h1m8 0h2m12 0h1m32 0h1m12 0h1m13 0h1m-5 1h1m-15 1h1m-66 1h2m30 0h1m44 0h1m-69 1h1m69 0h1m-79 1h1m8 0h1m1 0h1m7 0h2m59 0h2m-16 1h1m-20 1h1m-54 1h1m18 0h1m5 0h2m33 0h1m9 0h1m-57 1h1m10 0h2m1 0h1m1 0h1m12 0h1m-16 1h1m2 0h1m14 0h1m1 0h1m38 0h1m-24 1h1m5 0h1m12 0h1m-79 1h1m23 0h2m15 0h1m16 0h1m-60 1h1m23 0h1m16 0h1m-42 1h1m21 0h1m14 0h1m6 0h1m27 0h1m-77 1h1m29 0h1m14 0h1m1 0h1m2 0h1m9 0h1m1 0h1m21 0h1m-72 1h1m15 0h1m14 0h1m22 0h1m-51 1h1m22 0h1m6 0h2m3 0h2m5 0h1m24 0h1m-70 1h1m27 0h1m7 0h2m7 0h1m-60 1h1m5 0h1m20 0h1m27 0h1m29 0h1m-38 1h1m-36 1h1m26 0h1m3 1h1m13 0h1m-35 1h1m26 0h1m2 1h1m-21 1h1m5 0h1m19 0h1m13 0h1m1 0h1m-56 1h1m49 0h1m12 0h1m-19 1h1m17 0h1m-26 1h1m22 1h1m-12 1h1m8 0h1m-13 1h1m13 1h1m-84 1h1m35 0h1m8 0h1m36 0h1m-22 1h1m27 0h1m-45 1h1m24 1h1m-10 1h1m5 0h1m6 0h1m5 0h1m-81 1h1m33 0h1m1 0h1m22 0h1m2 0h1m3 0h1m14 0h1m-66 1h1m48 0h1m-66 1h1m3 0h1m14 0h1m5 0h1m43 0h1m14 0h1m-46 1h1m6 0h1m11 0h1m23 0h1m-82 1h1m24 0h1m49 0h1"/>
<path stroke="#16a609" d="M1 0h1m18 0h1m6 1h1m5 0h1m3 0h1m9 0h1m21 0h1m6 0h1m-55 1h2m7 0h1m35 0h1m15 0h1m1 0h1m-73 1h1m16 0h1m10 0h2m5 0h1m39 0h1m-89 1h1m32 0h1m53 0h1m-73 1h1m13 0h1m33 0h2m-33 1h1m8 0h1m5 0h2m14 0h1m11 0h1m-66 1h1m12 0h1m26 0h1m-37 1h1m22 0h1m33 0h1m13 0h1m-45 1h1m14 0h1m-1 1h1m26 0h1m-73 1h1m6 0h1m22 0h1m-39 1h1m1 0h1m1 0h1m61 0h1m-46 2h1m5 0h1m13 0h1m-41 1h1m25 0h1m25 0h1m4 0h1m-51 1h1m64 0h1m5 0h1m-77 1h1m16 0h1m27 0h1m36 0h1m-86 1h2m3 0h1m12 0h1m1 0h1m2 0h1m61 0h1m-78 1h2m34 0h1m7 0h1m13 0h1m9 0h1m-79 1h1m80 0h1m-79 1h1m27 0h1m29 0h1m10 0h1m5 0h1m4 0h2m-45 1h1m9 0h1m5 0h1m6 0h1m3 0h1m-2 1h1m2 0h1m18 0h1m-79 1h2m26 0h1m39 0h1m-13 1h1m-43 1h1m14 0h1m43 1h2m-85 1h1m12 0h1m1 0h1m8 0h1m36 0h1m-52 1h1m12 0h1m-23 1h1m63 0h1m2 0h1m13 0h1m-45 1h1m43 0h1m-84 2h1m7 0h1m13 0h1m47 0h1m-66 1h1m9 0h2m7 0h1m9 0h1m28 0h1m16 0h1m-65 1h1m12 0h1m59 0h1m-76 1h1m50 0h1m2 0h1m11 0h1m-77 1h1m1 0h1m10 0h1m7 0h1m36 0h1m11 0h1m-75 1h1m75 0h1m4 0h1m0 1h1m2 0h1m-73 1h1m3 0h1m6 0h1m18 0h1m-27 1h1m23 0h1m17 0h1m3 0h1m2 0h1m-67 1h1m5 0h1m7 0h1m11 0h1m16 0h1m10 0h1m-1 1h1m2 0h1m9 0h1m-9 1h1m7 0h1m5 0h1m-69 1h1m9 0h1m26 0h1m13 0h1m-49 1h1m8 0h1m6 0h1m4 0h1m15 0h1m11 0h1m1 0h1m7 0h1m-67 1h1m47 0h2m14 0h1m-52 1h1m1 0h1m7 0h1m2 0h2m15 0h1m9 0h1m8 0h1m12 0h1m4 0h1m3 0h1m-31 1h1m6 0h2m1 0h1m15 0h2m-83 1h1m26 0h1m1 0h1m15 0h1m2 0h1m2 0h1m14 0h1m1 0h1m7 0h3m-66 1h1m1 0h1m12 0h1m10 0h1m3 0h1m1 0h1m2 0h1m5 0h1m10 0h1m2 0h1m-61 1h1m9 0h1m5 0h1m4 0h1m25 0h1m28 0h1m-68 1h1m30 0h1m11 0h1m23 0h1m-84 1h2m5 0h1m52 0h1m1 0h2m2 0h1m2 0h1m10 0h1m-78 1h1m7 0h1m12 0h1m15 1h1m18 0h1m3 0h1m-63 1h1m14 0h1m12 0h1m11 0h1m13 0h1m19 0h1m-75 1h1m5 0h1m68 0h1m2 0h1m-71 1h1m15 0h2m2 0h1m16 0h1m15 0h1m-61 1h1m11 0h1m10 0h2m47 0h1m-72 1h1m1 0h1m-7 1h1m64 0h1m19 0h1m-81 1h1m10 0h1m8 0h1m1 0h2m47 0h1m1 0h1m4 0h1m1 0h1m-61 1h1m61 0h1m-81 1h1m69 0h1m-75 1h1m11 0h1m3 0h1m7 0h1m18 0h1m1 0h1m-30 1h1m7 0h2m18 0h1m9 0h1m-43 1h1m10 0h1m1 0h1m60 0h1m-87 1h1m3 0h1m10 0h1m4 0h1m2 0h1m18 0h1m6 0h1m-23 1h1m9 0h1m23 0h1m1 0h2m6 0h1m-61 1h2m14 0h1m10 0h1m2 0h1m2 0h1m14 0h1m7 0h1m3 0h2m10 0h1m-74 1h1m1 0h1m10 0h1m25 0h1m6 0h1m3 0h1m1 0h1m9 0h1m7 0h1m-80 1h1m11 0h2m8 0h1m14 0h2m12 0h1m4 0h1m4 0h1m22 0h1m-76 1h1m13 0h1m14 0h1m10 0h1m2 0h1m-55 1h1m4 0h1m7 0h1m9 0h2m29 0h3m2 0h1m4 0h1m15 0h1m1 0h1m-84 1h1m5 0h1m39 0h3m4 0h1m12 0h1m-67 1h1m4 0h1m18 0h1m3 0h2m17 0h2m5 0h1m3 0h1m6 0h1m-51 1h2m7 0h1m17 0h2m8 0h1m2 0h1m1 0h1m6 0h2m16 0h1m1 0h1m-68 1h1m9 0h1m8 0h1m5 0h1m7 0h1m1 0h1m4 0h1m19 0h1m4 0h1m-70 1h1m10 0h2m16 0h1m13 0h1m5 0h1m20 0h1m-78 1h1m18 0h1m21 0h2m32 0h2m-73 1h1m49 0h1m9 0h1m1 0h1m12 0h1m-86 1h1m5 0h1m9 0h1m8 0h2m36 0h1m-65 1h1m47 0h1m5 0h1m9 0h1m-57 1h1m7 0h1m8 0h1m1 0h1m-21 1h1m8 0h1m49 0h1m16 0h1m2 0h1m1 0h1m-72 1h1m8 0h1m1 0h1m3 0h1m9 0h1m46 0h1m-61 1h1m33 0h1m17 0h1m1 0h1m-55 1h1m5 0h1m37 0h1m2 0h1m9 0h1m-79 1h1m5 0h1m14 0h1m47 0h1m2 0h1m-74 1h1m21 0h1m40 0h1m11 0h1m-69 1h1m12 0h1m36 0h1m20 0h1m-70 1h1m11 0h2m13 0h1m-32 1h1m5 0h1m31 0h1m3 0h1m8 0h1m-59 1h1m21 0h1m15 0h1m11 0h1m19 0h1m-61 1h1m9 0h2m32 0h1m1 0h1m14 0h1m1 0h1m5 0h1m-59 1h1m15 0h1m1 0h1m6 0h1m1 0h1m-41 1h1m2 0h1m6 0h1m1 0h1m15 0h1m8 0h1m18 0h1m-64 1h1m6 0h1m5 0h1m36 0h1m6 0h1m-46 1h1m5 0h2m13 0h1m18 0h2m15 0h1m-60 1h1m9 0h3m12 0h2m2 0h1m5 0h1m1 0h1m7 0h2m23 0h1m-74 1h1m8 0h1m3 0h1m9 0h1m13 0h1m5 0h1m20 0h1m4 0h1m-74 1h1m39 0h1m-45 1h1m46 0h1m8 0h1m22 0h1m-77 1h1m41 0h1m12 0h1m-58 1h1m14 0h1m32 0h1m30 0h1m-72 1h1m15 0h1m21 0h1m21 0h1m-31 1h1m31 0h1m8 0h1m-22 1h1m-59 1h1m11 0h1m14 0h1m28 0h1m21 0h1m-62 1h1m6 0h1m18 0h1m20 0h1m16 0h1m-88 1h1m28 0h1m14 0h1m27 0h1m3 0h1m-29 1h1m24 0h1m5 0h1m4 0h1m-82 1h1m5 0h1m9 0h1m2 0h2m64 0h1m-25 1h1m24 0h1m-56 1h1m28 0h1m-52 1h1m16 0h1m27 0h1m10 0h1m15 0h1m1 0h1m-37 1h1m1 0h1m9 0h1m6 0h1m-60 1h1m30 0h1m35 0h1m5 0h1m-82 1h1m7 0h1m32 0h2m23 0h1m-58 1h1m8 0h1m24 0h1m17 0h1m2 0h1m-49 1h1m16 0h1m-13 1h1m9 0h1m6 0h1m30 0h1m6 0h1m7 0h1m-58 1h1m8 0h1m16 1h1m-48 1h1m7 0h1m4 0h1m35 0h1m-6 1h1m5 0h1"/>
<path stroke="#18b60a" d="M74 0h1m-64 1h1m58 0h1m3 0h1m-62 1h1m40 0h1m4 0h1m12 0h1m11 0h1m-57 1h1m52 0h1m-77 1h1m17 0h1m59 0h1m-74 1h1m5 0h1m4 0h1m67 0h1m-78 1h1m30 0h1m5 0h1m2 0h1m9 0h1m-55 1h1m7 0h1m13 0h1m21 0h2m8 0h1m19 0h1m-79 1h1m33 0h1m10 0h1m13 0h1m11 0h1m3 0h1m3 0h1m-61 1h2m47 0h2m5 0h1m8 0h1m-78 1h1m17 0h1m8 0h1m31 0h1m15 0h2m1 0h1m-54 1h1m8 0h1m8 0h1m2 0h1m11 0h1m-58 1h1m43 0h1m24 0h1m-82 1h1m9 0h1m12 0h1m18 0h2m14 0h1m1 0h1m2 0h1m-50 1h1m1 0h1m68 0h1m1 0h1m-76 1h1m3 0h1m17 0h1m16 0h1m23 0h1m12 0h1m-81 1h1m24 0h1m4 0h1m32 0h1m-65 1h1m4 0h1m16 0h1m3 0h1m26 0h1m-56 1h1m1 0h1m16 0h1m20 0h1m6 0h1m5 0h2m7 0h1m6 0h1m-56 1h1m61 0h1m-52 1h1m2 0h1m18 0h1m5 0h1m14 0h1m-47 1h1m18 0h1m14 0h1m3 0h1m23 0h1m-86 1h1m37 0h1m2 0h1m13 0h1m-47 1h1m8 0h1m43 0h1m11 0h1m-75 1h1m4 0h1m48 0h1m9 0h1m9 0h1m3 0h1m-63 1h1m7 0h1m18 0h1m24 0h1m-68 1h1m7 0h1m20 0h1m9 0h1m2 0h1m17 0h1m-44 1h1m54 0h1m-70 1h1m6 0h1m11 0h1m11 0h1m36 0h1m-67 1h1m7 0h1m35 0h1m21 0h1m-77 1h1m24 0h1m16 0h1m10 0h1m8 0h1m16 0h1m-69 1h1m17 0h1m2 0h1m4 0h1m44 0h1m3 0h1m-81 1h1m6 0h1m21 0h2m14 0h1m10 0h1m-61 1h1m1 0h1m71 0h1m7 0h1m-76 1h1m13 0h1m1 0h1m3 0h1m6 0h1m42 0h1m-73 1h1m7 0h1m9 0h1m20 0h1m6 0h1m4 0h1m20 0h1m2 0h1m-58 1h3m39 0h1m8 0h1m-65 1h1m6 0h1m7 0h1m15 0h1m4 0h1m15 0h2m1 0h1m21 0h1m-85 1h1m9 0h1m12 0h1m13 0h2m2 0h1m14 0h1m-59 1h1m4 0h1m16 0h1m23 0h1m18 0h1m20 0h1m-84 1h1m20 0h1m9 0h1m10 0h1m3 0h2m3 0h2m2 0h1m1 0h1m15 0h2m7 0h1m-75 1h1m9 0h1m1 0h1m23 0h2m6 0h1m18 0h2m5 0h1m3 0h1m-86 1h1m1 0h1m3 0h1m9 0h1m9 0h1m16 0h2m3 0h1m5 0h1m14 0h1m13 0h1m-80 1h1m18 0h3m15 0h1m14 0h1m2 0h1m1 0h1m1 0h1m9 0h1m-61 1h1m12 0h1m1 0h1m17 0h1m5 0h1m2 0h1m5 0h1m1 0h1m14 0h2m-76 1h1m2 0h1m2 0h2m1 0h1m34 0h1m11 0h1m-49 1h1m3 0h1m6 0h2m19 0h1m3 0h2m2 0h1m19 0h1m7 0h1m-72 1h1m1 0h1m11 0h1m10 0h1m13 0h1m1 0h1m1 0h1m3 0h1m3 0h1m3 0h1m1 0h1m5 0h2m-54 1h1m5 0h1m16 0h1m6 0h1m5 0h1m5 0h1m13 0h1m-77 1h1m10 0h1m26 0h1m3 0h1m7 0h1m5 0h1m1 0h1m5 0h1m16 0h1m-75 1h1m17 0h1m1 0h1m12 0h1m2 0h1m14 0h1m1 0h1m3 0h1m-52 1h1m2 0h1m4 0h1m15 0h1m1 0h1m3 0h2m1 0h1m5 0h1m3 0h4m1 0h1m2 0h1m-58 1h1m16 0h1m30 0h1m-52 1h1m18 0h1m22 0h2m5 0h1m1 0h1m19 0h1m-75 1h1m24 0h1m13 0h1m1 0h1m7 0h1m6 0h1m4 0h1m3 0h1m15 0h1m-59 1h1m1 0h1m20 0h1m11 0h1m3 0h1m15 0h1m-79 1h1m14 0h1m22 0h1m23 0h1m8 0h1m9 0h1m2 0h1m-82 1h1m32 0h1m18 0h1m1 0h1m3 0h1m12 0h1m1 0h1m6 0h1m-83 1h1m1 0h1m7 0h1m11 0h1m1 0h1m19 0h1m7 0h1m-55 1h1m4 0h1m5 0h1m13 0h1m9 0h2m9 0h1m27 0h1m2 0h1m4 0h1m-73 1h1m23 0h1m6 0h1m21 0h1m17 0h1m-84 1h1m12 0h1m1 0h1m8 0h1m46 0h1m-69 1h1m10 0h1m5 0h1m5 0h1m-24 1h1m1 0h1m8 0h1m1 0h1m11 0h1m1 0h2m15 0h1m35 0h1m-83 1h1m4 0h1m15 0h1m42 0h1m-64 1h1m2 0h1m21 0h1m54 0h1m-59 1h1m7 0h1m24 0h1m8 0h1m14 0h1m-67 1h1m6 0h1m7 0h1m53 0h1m-85 1h1m16 0h1m6 0h1m14 0h1m1 0h1m8 0h1m6 0h1m10 0h1m11 0h1m1 0h1m1 0h1m-48 1h1m9 0h1m15 0h1m11 0h1m8 0h1m-79 1h1m18 0h4m4 0h1m1 0h1m6 0h1m4 0h2m4 0h1m3 0h1m17 0h1m7 0h1m-85 1h2m15 0h1m8 0h1m18 0h1m5 0h2m1 0h1m3 0h3m16 0h1m-72 1h1m18 0h1m2 0h1m8 0h1m4 0h3m1 0h2m1 0h1m1 0h1m14 0h1m13 0h1m5 0h1m2 0h1m-65 1h1m1 0h2m15 0h1m14 0h1m18 0h1m-63 1h1m9 0h1m10 0h1m10 0h1m5 0h1m5 0h2m1 0h1m8 0h1m-69 1h1m12 0h1m1 0h1m20 0h2m1 0h1m6 0h1m3 0h1m10 0h1m1 0h1m13 0h1m-59 1h1m3 0h1m7 0h1m21 0h1m3 0h1m2 0h1m18 0h1m-58 1h1m16 0h2m9 0h1m2 0h1m2 0h1m2 0h1m11 0h1m1 0h1m5 0h1m-79 1h1m9 0h1m11 0h1m17 0h1m9 0h1m-55 1h2m2 0h1m1 0h2m5 0h1m11 0h1m2 0h1m1 0h1m1 0h1m7 0h1m5 0h3m7 0h1m5 0h2m20 0h1m-84 1h1m3 0h1m35 0h1m5 0h2m1 0h1m6 0h1m6 0h1m14 0h1m-77 1h1m4 0h1m5 0h1m1 0h1m6 0h1m26 0h1m1 0h1m11 0h1m9 0h1m1 0h1m1 0h1m8 0h1m-85 1h3m9 0h1m8 0h2m2 0h1m19 0h1m2 0h2m1 0h1m2 0h1m1 0h1m2 0h1m-49 1h1m7 0h1m1 0h1m3 0h1m12 0h1m5 0h1m1 0h1m8 0h2m15 0h1m-62 1h1m2 0h1m5 0h1m1 0h1m33 0h1m5 0h1m-66 1h1m5 0h1m9 0h1m8 0h1m19 0h1m20 0h1m-62 1h1m1 0h1m18 0h1m1 0h1m30 0h1m-50 1h2m5 0h1m6 0h1m19 0h1m2 0h1m36 0h1m-69 1h1m3 0h1m3 0h1m61 0h1m-83 1h2m6 0h1m1 0h1m1 0h1m7 0h1m1 0h1m2 0h1m2 0h1m54 0h1m-82 1h1m19 0h1m8 0h1m12 0h1m-35 1h1m9 0h1m1 0h2m12 0h1m20 0h1m1 0h2m2 0h1m-67 1h1m1 0h1m11 0h1m20 0h1m4 0h2m10 0h1m6 0h1m4 0h1m-50 1h1m12 0h1m6 0h1m17 0h1m8 0h1m12 0h1m-26 1h1m5 0h2m4 0h1m16 0h1m1 0h1m-77 1h1m5 0h1m2 0h1m23 0h1m1 0h1m1 0h1m9 0h1m1 0h1m3 0h1m8 0h1m11 0h1m3 0h1m-80 1h1m9 0h1m7 0h1m4 0h1m24 0h1m5 0h1m-53 1h1m6 0h2m3 0h1m36 0h1m2 0h1m21 0h1m-54 1h1m12 0h1m9 0h1m3 0h1m6 0h1m6 0h1m7 0h1m4 0h1m-79 1h1m9 0h3m25 0h1m1 0h1m1 0h1m3 0h2m4 0h3m1 0h2m11 0h1m-62 1h2m1 0h1m12 0h1m2 0h1m15 0h2m2 0h2m9 0h1m12 0h1m4 0h1m3 0h1m-81 1h1m19 0h1m21 0h1m-44 1h2m14 0h1m6 0h1m3 0h1m26 0h1m3 0h3m-49 1h2m44 0h1m8 0h1m-69 1h1m11 0h1m1 0h1m27 0h1m12 0h2m5 0h1m16 0h1m-80 1h1m10 0h1m4 0h1m15 0h1m1 0h1m15 0h1m10 0h1m23 0h1m-74 1h1m9 0h1m20 0h1m2 0h1m10 0h2m3 0h2m9 0h2m2 0h2m-53 1h1m7 0h1m3 0h2m7 0h1m6 0h1m6 0h1m12 0h1m2 0h1m-74 1h1m42 0h1m15 0h1m12 0h1m2 0h1m-67 1h1m6 0h1m6 0h1m10 0h1m32 0h2m2 0h1m6 0h1m-77 1h1m14 0h1m18 0h1m16 0h1m7 0h1m-64 1h1m23 0h1m34 0h1m19 0h1m-46 1h1m33 0h1m-60 1h1m6 0h1m9 0h1m2 0h1m2 0h1m11 0h1m36 0h1m-66 1h1m10 0h1m1 0h1m14 0h1m9 0h1m16 0h1m-57 1h1m29 0h1m18 0h1m12 0h1m-50 1h1m1 0h1m19 0h1m19 0h1m-42 1h1m8 0h1m4 0h1m25 0h1m-45 1h1m2 0h1m36 0h1m-19 1h1m15 0h1m1 0h1m17 0h1m-50 1h1m22 0h1m1 0h1m19 0h1m1 0h1m-61 1h3m18 0h1m38 0h1m2 0h1m-56 1h1m14 0h2m12 0h1m-62 1h1m7 0h1m6 0h1m29 0h1m8 0h1m3 0h1m3 0h1m12 0h1m-37 1h1m1 0h1m9 0h1m21 0h2m-25 1h1m13 0h1m11 0h1m1 0h1m-78 1h2m48 0h1m24 0h1"/>
<path stroke="#1bc60b" d="M7 0h1m25 0h1m20 0h1m16 0h1m7 0h1m-72 1h2m3 0h1m52 0h1m5 0h1m-65 1h1m79 0h1m-69 1h1m45 0h1m17 0h1m-78 1h2m34 0h1m12 0h1m5 0h1m26 0h1m-84 1h1m30 0h1m30 0h1m-60 1h1m13 0h2m49 0h1m-42 1h1m-25 1h1m3 0h1m8 0h1m-18 1h1m10 0h1m57 0h1m-57 1h1m57 0h1m-54 1h1m7 0h1m16 0h1m6 0h1m4 0h2m5 0h1m-66 1h1m8 0h1m46 0h1m8 0h1m-64 1h1m40 0h1m7 0h1m23 0h1m-6 1h1m8 0h1m-45 1h1m11 0h1m2 0h1m-27 1h1m9 0h1m16 0h1m4 0h2m8 0h1m-37 1h1m9 0h1m13 0h1m22 0h1m1 0h1m-81 1h1m13 0h2m14 0h1m17 0h1m10 0h1m2 0h1m6 0h1m16 0h1m-65 1h1m8 0h1m9 0h1m1 0h1m11 0h1m2 0h1m-49 1h1m12 0h1m7 0h1m8 0h1m27 0h1m-49 1h2m8 0h1m9 0h1m34 0h1m-77 1h1m1 0h1m5 0h1m16 0h1m4 0h1m3 0h1m1 0h1m16 0h1m7 0h2m2 0h2m4 0h1m5 0h1m-74 1h1m2 0h1m21 0h1m6 0h1m16 0h1m1 0h1m23 0h1m-79 1h1m23 0h1m23 0h1m23 0h1m13 0h1m-78 1h2m10 0h1m1 0h1m2 0h1m1 0h1m3 0h1m24 0h1m9 0h1m-50 1h1m7 0h1m15 0h1m2 0h1m12 0h1m7 0h1m10 0h1m-77 1h1m2 0h1m4 0h1m6 0h1m13 0h1m11 0h1m24 0h1m2 0h1m15 0h2m-84 1h1m15 0h1m26 0h1m14 0h1m13 0h1m4 0h1m-78 1h1m22 0h1m7 0h1m9 0h1m2 0h1m6 0h1m3 0h1m11 0h1m-69 1h1m2 0h1m1 0h1m2 0h1m4 0h1m11 0h1m3 0h1m9 0h1m5 0h1m26 0h1m-36 1h1m3 0h1m4 0h1m1 0h1m8 0h1m-48 1h1m2 0h2m6 0h1m3 0h1m3 0h1m8 0h1m5 0h1m1 0h1m2 0h1m3 0h1m9 0h1m-55 1h1m1 0h2m26 0h1m9 0h1m11 0h1m22 0h1m-72 1h1m10 0h1m1 0h1m4 0h1m25 0h1m-58 1h2m8 0h1m7 0h1m11 0h1m30 0h1m4 0h1m-58 1h1m1 0h1m35 0h1m1 0h1m5 0h1m-45 1h1m13 0h1m1 0h1m10 0h1m17 0h1m17 0h1m3 0h1m-81 1h1m6 0h1m15 0h1m18 0h1m-43 1h1m33 0h1m6 0h1m3 0h1m15 0h1m-61 1h1m7 0h1m14 0h1m7 0h1m10 0h1m3 0h1m6 0h1m2 0h1m7 0h1m9 0h1m8 0h1m-83 1h1m13 0h1m1 0h1m7 0h1m4 0h1m1 0h1m8 0h1m4 0h1m6 0h1m11 0h1m4 0h1m1 0h1m9 0h1m-55 1h2m7 0h1m3 0h2m2 0h1m1 0h1m1 0h1m8 0h1m5 0h1m5 0h1m8 0h1m-81 1h1m33 0h2m7 0h2m8 0h1m28 0h1m-79 1h1m1 0h1m3 0h1m5 0h1m6 0h1m31 0h1m2 0h1m1 0h1m21 0h1m-65 1h1m6 0h2m15 0h1m17 0h1m2 0h1m5 0h1m15 0h1m-82 1h1m24 0h1m14 0h1m16 0h1m2 0h1m7 0h1m6 0h1m-77 1h1m7 0h1m16 0h1m58 0h1m-81 1h2m6 0h3m22 0h2m7 0h1m4 0h1m11 0h1m6 0h1m6 0h1m-76 1h2m4 0h1m4 0h1m6 0h1m7 0h1m1 0h1m4 0h1m1 0h3m1 0h2m2 0h1m1 0h1m4 0h1m10 0h1m-57 1h1m1 0h3m1 0h1m6 0h1m7 0h1m13 0h1m4 0h1m3 0h1m1 0h1m11 0h1m2 0h1m-60 1h1m2 0h1m11 0h1m14 0h1m8 0h1m2 0h1m15 0h1m-66 1h1m7 0h1m9 0h1m7 0h1m13 0h1m6 0h1m9 0h1m3 0h1m4 0h1m6 0h2m-78 1h2m4 0h1m4 0h1m2 0h1m6 0h1m1 0h2m6 0h1m5 0h1m4 0h1m5 0h1m6 0h1m1 0h3m9 0h1m-48 1h1m3 0h1m19 0h1m1 0h1m4 0h1m-52 1h1m1 0h1m2 0h1m4 0h2m6 0h1m8 0h1m5 0h1m25 0h1m1 0h1m20 0h2m-82 1h1m4 0h1m4 0h1m10 0h1m8 0h1m6 0h2m3 0h1m17 0h1m9 0h1m2 0h1m-76 1h1m8 0h1m27 0h1m14 0h1m3 0h1m10 0h1m-61 1h1m2 0h1m4 0h1m26 0h1m13 0h1m9 0h1m2 0h1m2 0h1m3 0h1m-71 1h1m3 0h2m35 0h1m3 0h1m1 0h1m12 0h1m-42 1h1m21 0h1m27 0h1m-79 1h1m4 0h1m22 0h1m6 0h1m12 0h1m4 0h1m-55 1h1m4 0h1m5 0h1m2 0h1m6 0h1m2 0h1m2 0h1m15 0h1m3 0h1m21 0h1m3 0h1m7 0h1m-54 1h1m12 0h2m8 0h1m14 0h1m4 0h1m1 0h1m-67 1h1m12 0h1m1 0h1m4 0h1m6 0h1m4 0h1m10 0h1m3 0h1m-52 1h1m9 0h1m9 0h2m2 0h1m4 0h1m16 0h1m2 0h1m10 0h1m9 0h1m6 0h1m-78 1h1m5 0h1m31 0h1m7 0h2m3 0h1m2 0h1m18 0h1m10 0h1m-81 1h1m16 0h1m5 0h1m15 0h1m12 0h1m-58 1h1m3 0h1m23 0h1m3 0h1m9 0h1m6 0h1m5 0h1m3 0h1m-59 1h1m21 0h1m2 0h3m6 0h1m4 0h1m16 0h1m19 0h1m4 0h1m-86 1h1m9 0h1m5 0h2m4 0h1m9 0h1m8 0h1m3 0h1m6 0h1m1 0h1m5 0h1m20 0h1m-55 1h1m14 0h1m2 0h1m6 0h1m10 0h1m6 0h1m13 0h1m2 0h1m-88 1h1m21 0h2m2 0h1m29 0h2m5 0h1m2 0h2m3 0h1m-60 1h2m3 0h1m2 0h1m15 0h1m10 0h1m3 0h2m4 0h1m5 0h1m1 0h1m13 0h1m3 0h2m3 0h1m-89 1h1m6 0h1m16 0h1m2 0h1m9 0h1m6 0h1m5 0h2m4 0h1m9 0h1m1 0h1m-65 1h1m8 0h1m3 0h1m8 0h1m10 0h1m3 0h1m1 0h1m4 0h1m20 0h1m-57 1h1m2 0h1m8 0h1m1 0h2m14 0h1m6 0h2m7 0h1m5 0h1m8 0h1m4 0h1m-81 1h1m6 0h1m2 0h1m4 0h1m1 0h2m9 0h1m2 0h1m13 0h1m1 0h1m3 0h2m9 0h1m4 0h1m-61 1h1m18 0h1m1 0h1m12 0h1m6 0h1m1 0h1m1 0h1m7 0h3m13 0h1m5 0h1m-77 1h1m8 0h1m11 0h1m14 0h1m3 0h1m14 0h1m5 0h1m3 0h2m8 0h1m-74 1h1m3 0h1m20 0h1m20 0h2m4 0h1m3 0h1m2 0h1m1 0h3m-49 1h1m3 0h1m17 0h3m2 0h1m4 0h1m3 0h1m10 0h1m-53 1h1m8 0h2m6 0h1m11 0h2m10 0h1m5 0h1m-63 1h1m52 0h1m1 0h1m2 0h1m1 0h1m3 0h2m3 0h1m5 0h2m4 0h1m-78 1h1m9 0h1m7 0h1m3 0h1m1 0h1m2 0h1m26 0h1m1 0h1m1 0h1m-63 1h1m7 0h1m21 0h2m7 0h1m22 0h1m6 0h1m14 0h1m-74 1h1m2 0h1m8 0h1m14 0h1m5 0h1m3 0h1m4 0h1m15 0h1m1 0h2m-69 1h1m8 0h1m10 0h1m1 0h1m6 0h1m42 0h1m6 0h1m-87 1h1m9 0h1m3 0h2m2 0h1m8 0h1m2 0h1m39 0h1m17 0h1m-82 1h2m44 0h1m5 0h1m21 0h1m-82 1h2m2 0h1m7 0h1m5 0h1m18 0h1m12 0h1m4 0h1m3 0h1m2 0h1m-41 1h1m1 0h1m5 0h1m13 0h1m6 0h1m21 0h1m2 0h1m-69 1h1m19 0h1m27 0h1m8 0h1m4 0h1m1 0h1m10 0h1m-77 1h2m4 0h2m9 0h1m14 0h1m1 0h1m2 0h2m27 0h1m1 0h1m5 0h1m-65 1h1m3 0h1m11 0h1m6 0h2m3 0h1m1 0h2m4 0h1m11 0h1m-63 1h1m7 0h1m29 0h1m3 0h1m1 0h1m2 0h2m21 0h1m3 0h1m-77 1h1m3 0h1m7 0h1m5 0h1m8 0h1m8 0h1m6 0h2m7 0h1m8 0h2m-57 1h1m9 0h2m9 0h1m16 0h1m1 0h2m3 0h1m2 0h1m13 0h1m11 0h1m7 0h1m-89 1h1m1 0h1m2 0h1m1 0h1m1 0h1m25 0h1m9 0h1m1 0h1m5 0h2m3 0h1m6 0h1m1 0h1m13 0h1m1 0h1m-83 1h1m5 0h1m11 0h3m7 0h1m38 0h1m11 0h1m-56 1h3m7 0h1m4 0h1m23 0h1m17 0h1m-75 1h1m7 0h1m2 0h1m27 0h1m1 0h1m8 0h1m3 0h1m10 0h2m6 0h1m-73 1h1m4 0h2m27 0h2m3 0h1m5 0h1m5 0h1m-48 1h1m5 0h1m20 0h2m1 0h1m1 0h1m7 0h1m9 0h1m13 0h2m3 0h1m-75 1h1m2 0h1m6 0h1m3 0h2m16 0h2m1 0h1m1 0h2m1 0h3m22 0h1m-70 1h1m3 0h2m1 0h1m2 0h2m34 0h1m3 0h1m4 0h1m5 0h2m13 0h1m-78 1h1m4 0h2m8 0h1m9 0h1m20 0h1m4 0h1m12 0h1m9 0h1m-73 1h1m10 0h1m5 0h1m19 0h1m12 0h1m13 0h1m-56 1h1m22 0h1m3 0h1m6 0h1m9 0h1m3 0h2m8 0h1m15 0h1m-87 1h1m5 0h2m2 0h1m42 0h1m2 0h1m22 0h1m-68 1h1m15 0h1m4 0h1m18 0h1m7 0h1m-58 1h2m27 0h1m11 0h2m5 0h1m4 0h1m1 0h1m6 0h1m2 0h1m17 0h1m-89 1h1m55 0h1m-48 1h1m11 0h1m19 0h1m2 0h2m14 0h1m2 0h1m7 0h1m10 0h1m-57 1h1m1 0h1m35 0h1m2 0h1m1 0h1m1 0h1m5 0h1m-68 1h1m14 0h1m12 0h1m4 0h1m9 0h1m-55 1h1m12 0h1m11 0h2m22 0h1m2 0h1m7 0h1m-59 1h1m7 0h1m5 0h1m1 0h1m5 0h1m2 0h2m29 0h1m8 0h1m-63 1h1m3 0h1m1 0h1m5 0h1m1 0h1m7 0h1m25 0h1m6 0h1m20 0h1m-60 1h1m2 0h1m1 0h1m1 0h1m10 0h1m22 0h1m21 0h2m-57 1h1m3 0h1m12 0h1m10 0h1m2 0h1m8 0h1m3 0h1m-68 1h1m7 0h1m7 0h1m44 0h1m-64 1h1m11 0h1m5 0h1m42 0h1m17 0h1m-72 1h1m11 0h1m4 0h1m4 0h1m31 0h1m-62 1h1m4 0h1m20 0h1m16 0h1m31 0h1m-80 1h1m41 0h3m-41 1h1m40 0h1m38 0h1m-59 1h1m13 0h1m28 0h1"/>
<path stroke="#1dd50c" d="M10 0h1m19 0h1m52 0h1m2 0h1m-35 1h1m15 0h1m-54 1h1m-12 1h1m14 0h1m17 0h1m26 0h1m6 0h1m-57 1h1m36 0h1m2 0h1m-37 1h1m16 0h1m7 0h1m36 0h1m-80 1h1m16 0h1m11 0h1m8 0h1m10 0h1m17 0h1m-44 1h1m17 0h1m22 0h2m8 0h1m-71 1h1m3 0h1m12 0h1m10 0h1m6 0h3m10 0h1m10 0h1m20 0h1m-82 1h1m8 0h1m3 0h1m48 0h1m-57 1h1m47 0h1m-51 1h1m14 0h1m6 0h1m14 0h1m15 0h1m1 0h1m13 0h1m5 0h1m-80 1h1m11 0h1m2 0h1m7 0h1m3 0h1m6 0h2m1 0h1m36 0h1m-65 1h1m9 0h1m2 0h2m1 0h1m1 0h1m5 0h1m15 0h1m12 0h1m13 0h1m5 0h1m-84 1h1m14 0h1m1 0h1m2 0h1m30 0h2m2 0h1m8 0h1m7 0h2m4 0h1m-80 1h1m7 0h1m33 0h1m20 0h1m18 0h1m-78 1h1m23 0h1m6 0h1m1 0h2m11 0h1m-55 1h1m15 0h1m9 0h1m2 0h1m18 0h1m2 0h1m8 0h1m9 0h1m-63 1h1m31 0h1m5 0h1m27 0h2m-72 1h1m8 0h1m9 0h1m47 0h1m1 0h1m-68 1h1m12 0h1m6 0h1m14 0h2m3 0h1m18 0h1m19 0h1m-82 1h1m33 0h1m4 0h1m7 0h1m6 0h1m17 0h1m-74 1h1m6 0h1m4 0h1m11 0h1m24 0h1m17 0h1m1 0h1m9 0h1m-84 1h1m13 0h3m15 0h1m4 0h2m4 0h1m7 0h1m3 0h1m6 0h2m10 0h1m-56 1h2m10 0h1m12 0h1m24 0h1m1 0h1m-70 1h1m9 0h1m1 0h1m7 0h1m6 0h1m1 0h1m28 0h1m3 0h1m3 0h1m4 0h1m8 0h2m4 0h1m-88 1h2m11 0h1m4 0h2m2 0h1m1 0h1m5 0h1m12 0h1m6 0h1m19 0h1m-52 1h1m18 0h1m5 0h2m6 0h1m15 0h1m5 0h1m3 0h1m2 0h1m5 0h1m-84 1h1m4 0h1m7 0h1m4 0h1m1 0h1m10 0h1m11 0h1m2 0h2m2 0h1m4 0h1m12 0h1m9 0h1m-85 1h1m1 0h1m9 0h1m7 0h1m5 0h1m30 0h1m1 0h1m4 0h1m10 0h1m11 0h1m-80 1h1m9 0h1m4 0h1m3 0h1m10 0h1m13 0h1m27 0h1m7 0h1m-88 1h1m23 0h1m5 0h1m16 0h1m2 0h1m2 0h1m2 0h1m18 0h1m4 0h1m-74 1h1m6 0h1m52 0h3m3 0h1m-74 1h1m4 0h1m2 0h1m11 0h1m2 0h1m2 0h2m22 0h1m16 0h1m5 0h1m12 0h1m-51 1h1m5 0h1m18 0h1m-62 1h1m4 0h1m1 0h1m3 0h1m19 0h1m4 0h1m10 0h1m1 0h1m1 0h1m2 0h1m3 0h1m4 0h1m2 0h1m3 0h2m2 0h1m1 0h2m-76 1h1m3 0h1m28 0h1m8 0h1m1 0h3m10 0h1m1 0h1m3 0h1m2 0h1m2 0h1m-59 1h1m3 0h1m1 0h2m8 0h1m5 0h1m2 0h1m10 0h1m2 0h1m2 0h1m11 0h1m10 0h1m-77 1h1m2 0h2m10 0h1m16 0h2m12 0h1m5 0h2m8 0h1m17 0h1m2 0h1m-81 1h1m3 0h3m5 0h2m4 0h1m2 0h1m14 0h1m9 0h3m2 0h1m6 0h3m19 0h1m-79 1h1m3 0h1m5 0h1m1 0h2m3 0h1m4 0h1m9 0h3m7 0h1m4 0h1m14 0h1m1 0h1m-72 1h1m1 0h1m2 0h1m35 0h1m9 0h2m1 0h1m6 0h1m1 0h1m-48 1h1m7 0h1m2 0h1m1 0h1m25 0h1m22 0h1m3 0h1m-44 1h1m17 0h1m2 0h1m1 0h1m4 0h1m1 0h1m1 0h1m9 0h1m2 0h1m-82 1h1m2 0h1m2 0h2m3 0h1m1 0h1m9 0h1m10 0h1m3 0h1m8 0h1m20 0h1m7 0h1m-79 1h1m9 0h1m12 0h2m3 0h1m15 0h1m13 0h1m8 0h1m6 0h2m4 0h1m-60 1h1m15 0h1m2 0h1m1 0h1m13 0h1m11 0h1m-64 1h1m9 0h1m11 0h1m10 0h2m6 0h1m9 0h1m24 0h1m-78 1h1m5 0h1m2 0h1m10 0h1m4 0h1m15 0h1m16 0h1m2 0h1m10 0h1m-78 1h1m17 0h1m31 0h1m2 0h1m1 0h1m9 0h1m2 0h1m10 0h1m-62 1h1m11 0h1m10 0h1m17 0h1m26 0h1m-88 1h1m2 0h1m3 0h1m17 0h1m1 0h1m3 0h1m25 0h1m17 0h1m3 0h1m-46 1h1m1 0h1m3 0h1m4 0h1m2 0h2m1 0h1m7 0h1m3 0h1m3 0h1m-56 1h2m8 0h1m8 0h1m6 0h1m3 0h1m23 0h1m1 0h1m3 0h1m2 0h1m5 0h2m-80 1h1m10 0h1m8 0h1m1 0h1m1 0h1m4 0h1m2 0h1m1 0h1m4 0h1m1 0h1m4 0h1m1 0h1m10 0h1m13 0h1m-70 1h1m11 0h2m2 0h1m29 0h1m4 0h1m5 0h1m6 0h1m3 0h1m3 0h1m5 0h3m-65 1h1m4 0h1m10 0h1m11 0h1m2 0h1m1 0h1m2 0h1m2 0h1m13 0h1m3 0h1m-71 1h1m2 0h1m4 0h1m3 0h1m2 0h2m8 0h1m2 0h1m9 0h1m8 0h1m23 0h1m-71 1h1m5 0h1m6 0h1m1 0h1m10 0h1m1 0h1m2 0h1m7 0h1m13 0h1m1 0h2m3 0h1m1 0h2m-62 1h1m4 0h1m5 0h1m7 0h1m37 0h2m6 0h1m4 0h1m4 0h1m-85 1h1m6 0h1m2 0h1m4 0h2m2 0h1m1 0h1m13 0h1m1 0h1m16 0h2m9 0h2m-66 1h1m1 0h1m4 0h1m5 0h1m29 0h2m9 0h1m8 0h2m6 0h1m11 0h2m-84 1h1m17 0h2m6 0h1m5 0h1m12 0h1m7 0h1m3 0h1m6 0h1m5 0h1m-63 1h1m3 0h1m16 0h1m6 0h1m15 0h1m1 0h1m1 0h1m1 0h1m23 0h1m-84 1h2m1 0h1m11 0h1m9 0h1m4 0h1m2 0h1m10 0h2m11 0h1m1 0h2m3 0h1m7 0h1m-64 1h1m6 0h2m7 0h1m5 0h1m9 0h1m2 0h1m8 0h1m10 0h1m8 0h1m2 0h1m-80 1h1m11 0h1m1 0h1m22 0h1m17 0h1m6 0h1m7 0h1m8 0h1m4 0h1m-80 1h1m7 0h1m1 0h1m22 0h1m2 0h1m6 0h1m8 0h1m3 0h1m19 0h1m-82 1h2m37 0h1m2 0h2m1 0h1m6 0h2m4 0h1m-53 1h1m4 0h1m1 0h1m12 0h1m12 0h1m8 0h1m4 0h1m1 0h2m8 0h1m6 0h1m7 0h1m-80 1h1m16 0h1m4 0h1m19 0h1m4 0h1m6 0h1m1 0h1m3 0h1m1 0h1m2 0h1m-60 1h1m1 0h1m11 0h2m6 0h1m8 0h1m8 0h1m7 0h1m3 0h1m1 0h1m9 0h1m10 0h1m4 0h1m-86 1h1m13 0h1m10 0h2m9 0h2m3 0h1m35 0h1m3 0h1m-75 1h1m7 0h1m9 0h1m3 0h1m2 0h1m9 0h2m2 0h1m6 0h1m12 0h2m2 0h1m1 0h1m-75 1h1m2 0h1m3 0h1m5 0h1m1 0h2m5 0h1m7 0h1m11 0h1m5 0h1m8 0h1m8 0h1m1 0h2m3 0h1m5 0h1m1 0h1m3 0h2m-83 1h1m13 0h1m8 0h1m9 0h1m20 0h1m14 0h1m-67 1h3m4 0h1m3 0h1m1 0h1m10 0h1m19 0h1m1 0h1m12 0h1m3 0h2m-72 1h1m8 0h1m8 0h1m12 0h1m7 0h1m4 0h1m11 0h1m-49 1h1m7 0h1m10 0h2m7 0h1m1 0h1m5 0h1m12 0h1m8 0h1m15 0h1m-85 1h1m12 0h1m5 0h1m2 0h2m8 0h1m11 0h1m21 0h1m-44 1h1m4 0h4m5 0h1m14 0h1m8 0h1m4 0h1m7 0h1m2 0h3m3 0h1m-59 1h1m3 0h1m12 0h2m13 0h2m2 0h1m1 0h1m2 0h1m5 0h1m-49 1h1m13 0h1m1 0h1m1 0h1m3 0h1m3 0h1m6 0h1m8 0h2m-60 1h1m7 0h1m11 0h1m1 0h1m16 0h1m37 0h1m-84 1h3m3 0h1m5 0h1m12 0h1m11 0h2m4 0h1m4 0h2m16 0h1m7 0h1m-67 1h1m1 0h1m6 0h1m1 0h1m13 0h1m2 0h1m6 0h1m6 0h2m19 0h1m7 0h1m7 0h1m-87 1h1m19 0h1m14 0h1m3 0h1m9 0h1m1 0h1m8 0h1m4 0h1m4 0h1m15 0h1m-84 1h1m1 0h1m6 0h1m8 0h1m5 0h1m30 0h2m3 0h1m15 0h1m-79 1h1m34 0h1m3 0h2m13 0h1m3 0h1m1 0h1m3 0h1m-59 1h1m8 0h1m4 0h1m3 0h1m3 0h1m21 0h1m9 0h1m7 0h1m4 0h1m-59 1h1m14 0h1m4 0h2m1 0h1m1 0h2m2 0h1m2 0h1m5 0h2m2 0h1m3 0h1m5 0h1m6 0h1m10 0h1m-76 1h1m11 0h1m5 0h1m7 0h1m2 0h1m5 0h2m6 0h1m8 0h2m1 0h1m1 0h1m3 0h1m9 0h2m1 0h1m-83 1h1m10 0h3m9 0h1m8 0h3m3 0h1m1 0h1m2 0h1m2 0h1m4 0h2m3 0h2m3 0h2m15 0h1m-75 1h1m4 0h1m2 0h1m4 0h1m9 0h1m8 0h1m6 0h2m12 0h1m2 0h1m1 0h1m14 0h2m2 0h1m-64 1h1m2 0h1m1 0h1m9 0h1m2 0h1m1 0h1m1 0h1m2 0h1m7 0h1m2 0h1m6 0h1m8 0h1m1 0h1m-79 1h1m11 0h1m1 0h2m1 0h1m1 0h1m9 0h1m5 0h1m2 0h1m24 0h1m2 0h2m4 0h1m-71 1h1m24 0h1m6 0h3m1 0h1m1 0h1m5 0h2m1 0h1m1 0h1m3 0h1m2 0h1m-55 1h1m1 0h1m17 0h2m9 0h1m2 0h1m1 0h1m17 0h1m3 0h1m3 0h1m11 0h2m4 0h1m-67 1h1m7 0h1m13 0h1m21 0h1m2 0h1m1 0h1m5 0h1m3 0h1m1 0h2m-67 1h1m3 0h1m12 0h1m8 0h1m5 0h1m2 0h1m17 0h1m5 0h1m9 0h1m-77 1h1m26 0h2m4 0h1m2 0h1m20 0h1m2 0h1m12 0h1m-69 1h1m8 0h1m2 0h1m6 0h1m3 0h1m2 0h1m7 0h1m2 0h1m5 0h1m21 0h1m2 0h2m-79 1h1m10 0h1m4 0h1m1 0h1m8 0h1m6 0h1m3 0h1m12 0h1m12 0h5m-71 1h1m9 0h1m7 0h1m4 0h1m13 0h1m14 0h1m11 0h1m18 0h1m-83 1h1m19 0h1m4 0h1m7 0h1m17 0h1m13 0h1m3 0h1m-47 1h1m10 0h1m2 0h2m2 0h2m1 0h3m9 0h1m16 0h1m11 0h1m-70 1h1m1 0h1m12 0h1m2 0h2m4 0h2m7 0h1m4 0h2m1 0h1m3 0h1m6 0h1m4 0h1m8 0h1m-82 1h2m3 0h2m8 0h1m7 0h1m1 0h1m3 0h1m1 0h1m12 0h1m10 0h1m1 0h1m2 0h1m4 0h1m-66 1h1m2 0h1m10 0h1m22 0h1m2 0h1m14 0h1m1 0h1m9 0h1m3 0h1m11 0h2m-81 1h1m14 0h1m4 0h1m1 0h1m19 0h4m7 0h2m7 0h1m11 0h1m-59 1h1m1 0h1m2 0h1m11 0h1m5 0h1m39 0h1m-77 1h1m2 0h1m31 0h2m13 0h1m15 0h1m6 0h1m2 0h1m-77 1h1m10 0h1m5 0h1m2 0h1m4 0h1m13 0h1m6 0h1m2 0h1m10 0h2m16 0h1m-84 1h1m1 0h1m12 0h1m15 0h1m6 0h1m6 0h1m7 0h1m4 0h1m11 0h1m5 0h1m-78 1h1m6 0h1m13 0h2m12 0h1m8 0h1m6 0h1m18 0h1m9 0h1m-53 1h1m34 0h1m20 0h1m-22 1h1m-49 1h1m15 0h1m5 0h1m12 0h1m24 0h1m-65 1h1m23 0h2m1 0h1m5 0h2m25 0h1m-53 1h1m6 0h1m3 0h1m21 0h1m15 0h1m1 0h1m7 0h1m-72 1h1m14 0h1m38 0h1m5 0h1m1 0h1m14 0h1m-77 1h2m45 0h1m20 0h1m-74 1h1m22 0h1m24 0h1m1 0h1m-37 1h1m2 0h1m12 0h1m13 0h2m10 0h1m10 0h1m-68 1h1m1 0h1m13 0h1m22 0h1m12 0h1m12 0h1m-58 1h1m8 0h1m2 0h2m3 0h1m17 0h1m25 0h1m-76 1h1m24 0h1m17 0h1m25 0h1m6 0h1m-68 1h1m8 0h1m40 0h1m7 0h1m3 0h1m2 0h1"/>
<path stroke="#21f50e" d="M0 0h1m11 0h1m13 0h1m9 0h1m35 0h1m11 0h1m-73 1h1m31 0h1m16 0h1m11 0h1m6 0h1m-53 1h1m1 0h1m31 0h1m10 0h1m7 0h1m-75 1h1m14 0h2m9 0h1m11 0h1m3 0h1m19 0h1m9 0h1m5 0h1m1 0h1m-69 1h1m7 0h1m21 0h1m19 0h1m-25 1h1m2 0h1m-29 1h1m33 0h1m3 0h1m12 0h1m9 0h3m-56 1h1m7 0h1m6 0h1m14 0h1m2 0h1m26 0h1m-68 1h1m7 0h1m16 0h1m21 0h1m8 0h2m-53 1h1m4 0h1m3 0h1m7 0h1m5 0h1m12 0h1m24 0h1m-66 1h1m1 0h3m1 0h1m6 0h1m6 0h1m11 0h1m10 0h1m-51 1h1m11 0h1m10 0h1m12 0h1m28 0h1m-44 1h1m21 0h1m1 0h1m10 0h1m-59 1h1m4 0h1m52 0h1m7 0h1m5 0h1m-72 1h1m11 0h1m25 0h2m19 0h1m-58 1h1m1 0h1m12 0h1m8 0h1m13 0h1m13 0h1m3 0h1m-53 1h1m15 0h1m1 0h1m17 0h1m11 0h1m4 0h1m6 0h1m-68 1h2m5 0h1m19 0h1m41 0h1m2 0h1m-51 1h2m27 0h1m2 0h2m-65 1h1m4 0h1m19 0h2m16 0h1m31 0h1m-77 1h1m8 0h1m1 0h2m6 0h1m1 0h1m10 0h2m9 0h1m3 0h1m24 0h2m2 0h1m3 0h1m-82 1h1m9 0h1m1 0h2m2 0h2m3 0h1m14 0h1m2 0h1m12 0h1m1 0h1m5 0h1m8 0h1m-63 1h1m8 0h1m2 0h1m8 0h1m6 0h1m4 0h1m6 0h1m22 0h1m-64 1h1m13 0h1m6 0h1m8 0h1m1 0h1m4 0h1m3 0h1m6 0h1m-41 1h1m4 0h1m11 0h2m7 0h1m10 0h1m11 0h1m9 0h1m7 0h1m-81 1h1m3 0h1m26 0h2m4 0h1m1 0h1m10 0h1m19 0h1m10 0h1m-81 1h1m1 0h1m1 0h1m5 0h1m1 0h1m3 0h1m6 0h1m7 0h1m10 0h1m2 0h1m3 0h1m13 0h1m6 0h1m5 0h1m-75 1h1m5 0h1m15 0h1m2 0h2m3 0h1m22 0h1m-50 1h1m4 0h2m10 0h1m6 0h1m1 0h1m42 0h1m5 0h2m-81 1h1m6 0h1m1 0h1m15 0h1m4 0h1m3 0h1m5 0h1m1 0h1m1 0h1m9 0h2m2 0h1m11 0h1m2 0h1m-79 1h1m9 0h1m5 0h1m8 0h1m2 0h1m14 0h1m7 0h1m1 0h1m6 0h1m4 0h1m1 0h1m2 0h2m2 0h2m5 0h1m-83 1h2m1 0h2m6 0h4m7 0h1m1 0h1m3 0h1m11 0h3m1 0h1m17 0h1m2 0h1m1 0h2m6 0h1m6 0h1m-66 1h1m1 0h2m18 0h1m17 0h1m11 0h1m1 0h1m4 0h2m1 0h3m-70 1h1m15 0h1m8 0h2m3 0h1m10 0h1m2 0h1m5 0h1m7 0h1m-65 1h1m2 0h1m20 0h1m12 0h1m9 0h1m16 0h1m2 0h1m-38 1h2m2 0h1m1 0h1m2 0h1m6 0h1m1 0h1m-47 1h1m5 0h2m1 0h1m13 0h1m4 0h1m13 0h1m5 0h1m30 0h1m-81 1h1m6 0h1m6 0h2m9 0h1m3 0h1m8 0h1m1 0h1m21 0h1m3 0h1m1 0h1m-70 1h1m10 0h1m1 0h2m7 0h1m20 0h1m5 0h1m5 0h1m2 0h1m1 0h1m2 0h1m5 0h1m4 0h1m2 0h1m3 0h1m-81 1h1m7 0h1m5 0h1m11 0h1m1 0h1m3 0h1m4 0h1m14 0h1m5 0h1m1 0h1m4 0h1m-61 1h2m6 0h1m8 0h1m4 0h1m1 0h1m23 0h1m-27 1h1m6 0h1m10 0h1m16 0h1m-65 1h2m1 0h1m1 0h1m22 0h1m2 0h1m49 0h1m-79 1h1m7 0h1m2 0h1m2 0h2m9 0h1m5 0h2m31 0h1m-55 1h1m2 0h1m10 0h2m34 0h1m3 0h1m4 0h1m-76 1h1m13 0h1m2 0h1m9 0h1m6 0h1m2 0h1m6 0h2m18 0h1m20 0h1m-81 1h1m1 0h1m18 0h1m2 0h1m2 0h1m3 0h2m8 0h1m18 0h1m2 0h1m5 0h1m-48 1h3m2 0h1m31 0h1m9 0h1m5 0h1m-83 1h1m4 0h1m12 0h1m9 0h1m7 0h1m22 0h1m12 0h1m-70 1h1m5 0h1m8 0h1m2 0h1m50 0h1m1 0h1m12 0h1m-86 1h1m27 0h1m11 0h1m30 0h1m10 0h1m-57 1h1m27 0h1m10 0h1m1 0h1m12 0h1m-74 1h1m2 0h1m6 0h1m9 0h1m12 0h1m8 0h1m17 0h1m-25 1h1m16 0h1m6 0h1m2 0h1m-70 1h1m6 0h2m6 0h3m8 0h1m1 0h2m5 0h1m13 0h1m33 0h1m-84 1h1m7 0h2m7 0h1m7 0h1m1 0h1m3 0h2m6 0h3m7 0h1m8 0h1m4 0h1m-69 1h1m10 0h2m8 0h1m3 0h1m6 0h1m7 0h1m45 0h1m-79 1h1m12 0h1m7 0h1m3 0h2m4 0h1m4 0h1m2 0h1m3 0h1m1 0h1m10 0h1m2 0h1m7 0h1m7 0h2m-76 1h1m8 0h1m3 0h1m9 0h1m12 0h1m5 0h1m7 0h1m25 0h1m2 0h2m-84 1h2m27 0h1m4 0h1m1 0h1m2 0h1m2 0h1m3 0h1m5 0h1m1 0h1m1 0h1m2 0h1m1 0h1m6 0h1m1 0h1m7 0h1m-75 1h1m7 0h1m3 0h1m7 0h1m4 0h1m2 0h1m1 0h1m2 0h1m24 0h1m5 0h1m1 0h1m1 0h1m-66 1h1m6 0h1m21 0h1m7 0h1m3 0h1m15 0h1m2 0h1m1 0h1m4 0h4m3 0h1m-79 1h1m1 0h1m7 0h2m1 0h1m8 0h1m2 0h2m1 0h1m1 0h4m9 0h1m2 0h1m1 0h1m2 0h1m1 0h1m4 0h1m1 0h1m3 0h1m6 0h1m-62 1h2m3 0h1m13 0h1m1 0h1m5 0h1m9 0h1m14 0h1m-59 1h1m29 0h1m3 0h1m13 0h1m19 0h1m3 0h1m-77 1h1m23 0h1m1 0h1m9 0h1m6 0h1m3 0h1m3 0h1m1 0h1m1 0h1m2 0h1m12 0h1m-64 1h1m12 0h1m14 0h1m4 0h1m18 0h1m3 0h1m2 0h1m-69 1h1m5 0h1m5 0h2m2 0h1m8 0h3m10 0h1m5 0h2m2 0h1m1 0h1m3 0h1m1 0h3m1 0h1m3 0h1m4 0h2m-66 1h1m21 0h1m1 0h2m18 0h1m10 0h1m1 0h1m3 0h1m1 0h1m9 0h1m-81 1h1m7 0h1m25 0h1m5 0h2m5 0h1m9 0h1m5 0h2m1 0h1m-63 1h1m10 0h1m19 0h1m5 0h1m22 0h1m4 0h1m9 0h1m-82 1h1m14 0h1m1 0h1m12 0h3m1 0h1m29 0h1m14 0h1m3 0h1m-80 1h1m11 0h1m10 0h1m1 0h1m37 0h1m15 0h1m-87 1h1m6 0h1m3 0h1m49 0h1m6 0h1m-60 1h1m8 0h2m12 0h1m2 0h1m2 0h2m32 0h1m4 0h2m-71 1h2m11 0h1m12 0h1m26 0h1m10 0h1m4 0h2m-72 1h1m15 0h1m6 0h2m1 0h1m1 0h1m1 0h1m11 0h1m37 0h1m-86 1h1m19 0h1m8 0h1m1 0h1m5 0h1m20 0h1m6 0h1m1 0h1m1 0h2m7 0h1m7 0h1m-78 1h1m8 0h1m10 0h1m2 0h1m3 0h1m14 0h1m17 0h1m-62 1h1m12 0h1m51 0h1m-70 1h1m8 0h1m3 0h3m1 0h1m43 0h1m-61 1h1m21 0h1m3 0h1m2 0h1m1 0h1m14 0h1m18 0h2m-67 1h1m8 0h1m2 0h1m18 0h1m5 0h1m22 0h1m5 0h1m3 0h1m9 0h1m-80 1h1m1 0h3m4 0h1m3 0h1m15 0h2m6 0h1m4 0h1m22 0h2m-64 1h1m9 0h2m8 0h1m9 0h1m1 0h1m4 0h1m3 0h1m3 0h2m16 0h1m6 0h1m3 0h1m-65 1h1m1 0h1m5 0h2m4 0h1m3 0h1m3 0h1m3 0h2m1 0h1m4 0h2m5 0h1m4 0h1m6 0h1m9 0h1m-84 1h1m7 0h1m1 0h1m5 0h1m2 0h1m2 0h1m6 0h4m1 0h1m9 0h1m10 0h3m1 0h1m2 0h2m4 0h1m5 0h1m8 0h1m-76 1h1m3 0h1m6 0h1m11 0h1m4 0h3m2 0h1m6 0h1m6 0h2m6 0h1m6 0h2m3 0h1m-62 1h1m3 0h1m1 0h1m1 0h1m11 0h1m3 0h1m8 0h2m8 0h1m1 0h1m4 0h1m4 0h1m3 0h1m3 0h1m-69 1h1m6 0h1m19 0h1m2 0h1m10 0h1m17 0h1m12 0h1m5 0h1m-87 1h1m1 0h1m4 0h1m2 0h1m7 0h1m25 0h1m19 0h2m-61 1h1m11 0h1m33 0h2m2 0h1m2 0h1m15 0h1m-57 1h1m23 0h1m4 0h1m4 0h1m25 0h1m-47 1h1m4 0h1m5 0h2m3 0h1m1 0h1m3 0h3m9 0h1m2 0h1m7 0h1m8 0h1m-81 1h1m5 0h1m7 0h1m8 0h1m1 0h2m19 0h2m4 0h1m4 0h1m7 0h1m-57 1h1m6 0h1m4 0h1m5 0h1m15 0h1m6 0h1m4 0h2m2 0h1m5 0h1m3 0h1m1 0h1m2 0h1m5 0h1m-76 1h1m5 0h3m8 0h1m16 0h1m18 0h1m1 0h1m9 0h1m9 0h1m-88 1h1m9 0h1m1 0h1m8 0h1m8 0h1m4 0h1m1 0h1m1 0h1m14 0h1m7 0h1m3 0h1m4 0h1m-69 1h1m9 0h1m17 0h1m3 0h1m37 0h2m-67 1h1m18 0h1m3 0h1m1 0h1m1 0h1m17 0h1m9 0h1m13 0h1m-75 1h1m2 0h1m12 0h2m15 0h1m27 0h1m7 0h1m3 0h1m9 0h1m-87 1h1m8 0h1m7 0h1m14 0h1m2 0h1m18 0h1m14 0h1m-64 1h1m2 0h1m53 0h1m6 0h1m6 0h2m2 0h1m-78 1h1m3 0h1m2 0h1m8 0h1m3 0h2m7 0h2m3 0h1m15 0h1m23 0h1m4 0h1m-68 1h1m2 0h1m3 0h1m5 0h1m1 0h2m4 0h1m22 0h1m-52 1h1m8 0h1m2 0h1m5 0h1m11 0h1m15 0h1m12 0h1m-66 1h1m2 0h1m2 0h1m1 0h1m2 0h1m13 0h2m2 0h2m17 0h1m8 0h1m4 0h1m1 0h1m4 0h1m-68 1h1m4 0h1m31 0h1m4 0h1m15 0h1m1 0h1m-59 1h2m3 0h1m6 0h1m2 0h1m5 0h1m5 0h1m28 0h1m2 0h1m6 0h1m1 0h1m5 0h2m-80 1h1m20 0h1m16 0h1m19 0h1m16 0h1m-65 1h1m13 0h1m1 0h1m4 0h1m4 0h1m1 0h1m6 0h1m1 0h1m16 0h1m10 0h1m-81 1h3m5 0h1m1 0h2m3 0h3m8 0h2m5 0h1m2 0h2m3 0h1m13 0h1m5 0h1m14 0h1m4 0h1m-79 1h1m6 0h1m5 0h2m9 0h1m22 0h1m10 0h1m1 0h2m11 0h1m-77 1h1m7 0h1m13 0h1m9 0h1m6 0h1m10 0h1m5 0h1m1 0h1m8 0h1m5 0h1m-60 1h1m1 0h1m13 0h1m1 0h1m1 0h1m11 0h1m9 0h1m6 0h1m8 0h1m7 0h1m-78 1h1m10 0h1m29 0h2m18 0h1m10 0h1m-65 1h1m3 0h1m3 0h2m5 0h1m10 0h1m6 0h2m1 0h1m8 0h2m9 0h1m1 0h1m6 0h1m2 0h1m1 0h1m-72 1h1m27 0h1m11 0h1m11 0h1m5 0h3m-60 1h1m51 0h1m3 0h1m3 0h1m-67 1h1m4 0h1m4 0h1m4 0h1m20 0h1m6 0h1m7 0h1m2 0h1m10 0h1m3 0h1m-64 1h1m3 0h1m35 0h1m7 0h1m5 0h1m11 0h1m2 0h1m-72 1h1m3 0h1m7 0h1m14 0h1m15 0h1m1 0h2m3 0h1m-49 1h1m15 0h1m7 0h1m5 0h1m19 0h1m7 0h1m4 0h1m1 0h1m-49 1h1m12 0h1m29 0h1m11 0h1m-77 1h1m24 0h1m11 0h1m25 0h1m-65 1h1m12 0h1m20 0h2m15 0h1m14 0h1m-56 1h1m6 0h1m1 0h1m26 0h1m-41 1h1m8 0h1m7 0h1m7 0h3m4 0h1m1 0h1m29 0h1"/>
<path stroke="#29fd16" d="M15 0h1m54 0h1m2 0h1m-51 1h1m11 0h1m3 0h1m22 0h1m-62 1h1m24 0h1m8 0h1m15 0h1m6 0h1m-57 1h1m33 0h1m1 0h2m-22 1h1m6 0h1m51 0h1m10 0h1m-76 1h1m32 0h1m22 0h1m4 0h1m-69 1h1m7 0h1m1 0h1m1 0h1m15 0h1m18 0h1m30 0h1m-79 1h1m18 0h1m3 0h1m5 0h1m45 0h1m-79 1h1m29 0h1m7 0h1m6 0h1m4 0h1m10 0h1m16 0h1m-82 1h1m24 0h1m7 0h1m3 0h1m6 0h1m6 0h1m3 0h1m2 0h1m24 0h1m2 0h1m-53 1h1m13 0h1m12 0h1m12 0h1m-74 1h1m6 0h1m4 0h1m2 0h1m25 0h1m29 0h2m2 0h1m-60 1h1m6 0h1m22 0h1m7 0h1m8 0h1m3 0h1m20 0h1m-52 1h1m5 0h1m1 0h1m24 0h1m3 0h1m-69 1h1m2 0h1m35 0h1m2 0h1m17 0h1m18 0h1m2 0h1m-76 1h1m6 0h1m2 0h1m13 0h1m28 0h1m16 0h1m-69 1h1m2 0h1m28 0h1m3 0h1m19 0h1m6 0h1m-70 1h1m13 0h1m2 0h1m24 0h1m15 0h1m2 0h1m-58 1h1m10 0h1m4 0h1m9 0h1m23 0h1m8 0h1m10 0h1m1 0h1m-66 1h1m6 0h1m7 0h1m1 0h1m4 0h1m1 0h1m12 0h1m2 0h1m1 0h1m10 0h1m8 0h2m-47 1h1m10 0h1m4 0h3m-52 1h1m2 0h1m1 0h1m3 0h1m11 0h1m1 0h1m5 0h1m3 0h1m30 1h1m6 0h1m-58 1h1m5 0h2m1 0h1m5 0h1m22 0h1m14 0h1m3 0h1m-75 1h1m12 0h1m6 0h1m1 0h1m5 0h1m16 0h1m15 0h1m2 0h1m-59 1h1m34 0h1m1 0h2m1 0h1m1 0h1m3 0h1m7 0h1m1 0h1m6 0h1m1 0h1m3 0h2m1 0h1m-70 1h1m24 0h1m1 0h1m2 0h1m18 0h1m9 0h1m13 0h1m-85 1h1m19 0h1m2 0h1m21 0h1m11 0h1m7 0h1m1 0h1m-64 1h1m17 0h1m8 0h1m2 0h1m9 0h1m6 0h1m12 0h1m3 0h2m-54 1h1m5 0h1m4 0h1m6 0h1m4 0h3m1 0h1m27 0h1m-61 1h1m3 0h1m16 0h1m8 0h1m5 0h1m7 0h1m33 0h1m-81 1h1m7 0h1m2 0h3m35 0h1m1 0h1m1 0h1m8 0h1m6 0h1m6 0h1m-79 1h1m12 0h1m9 0h2m5 0h4m8 0h1m2 0h1m8 0h1m3 0h1m19 0h1m-68 1h1m14 0h1m4 0h1m21 0h1m2 0h1m2 0h1m4 0h1m8 0h1m-79 1h2m14 0h2m13 0h1m10 0h1m3 0h2m3 0h1m5 0h1m9 0h1m1 0h1m4 0h1m6 0h1m-84 1h1m29 0h1m9 0h1m4 0h1m35 0h1m4 0h1m1 0h1m-89 1h2m2 0h1m3 0h2m2 0h1m7 0h1m9 0h1m1 0h1m4 0h1m3 0h1m4 0h1m7 0h1m8 0h1m7 0h1m1 0h2m4 0h1m-78 1h1m4 0h2m1 0h2m21 0h1m3 0h1m3 0h1m2 0h2m15 0h1m21 0h1m-72 1h1m11 0h1m8 0h2m6 0h1m16 0h2m7 0h1m7 0h1m-63 1h1m6 0h1m9 0h1m1 0h1m7 0h1m32 0h1m-42 1h1m31 0h1m1 0h1m11 0h1m5 0h2m-78 1h1m4 0h1m7 0h1m9 0h1m6 0h1m1 0h1m16 0h1m7 0h1m6 0h1m-71 1h1m18 0h1m46 0h1m6 0h1m2 0h1m1 0h2m2 0h1m4 0h1m-84 1h1m1 0h1m10 0h1m14 0h1m3 0h1m30 0h1m3 0h1m-50 1h1m5 0h1m9 0h1m6 0h1m23 0h1m6 0h1m7 0h1m-55 1h1m2 0h1m1 0h1m1 0h1m3 0h1m10 0h1m23 0h3m-81 1h1m4 0h1m7 0h1m8 0h1m48 0h1m13 0h1m-86 1h1m1 0h1m8 0h1m6 0h1m4 0h1m10 0h1m10 0h1m28 0h1m-72 1h2m32 0h1m2 0h1m14 0h1m14 0h1m1 0h1m14 0h1m-67 1h2m1 0h1m4 0h1m1 0h1m47 0h1m8 0h1m-68 1h1m15 0h1m1 0h2m8 0h1m-39 1h1m9 0h1m10 0h2m1 0h1m1 0h1m39 0h1m10 0h1m-77 1h1m39 0h1m4 0h1m8 0h1m2 0h1m2 0h1m3 0h1m-75 1h1m8 0h1m18 0h1m2 0h1m9 0h2m25 0h1m5 0h1m10 0h1m1 0h1m-80 1h1m13 0h1m11 0h1m21 0h1m12 0h1m-51 1h1m12 0h1m7 0h2m15 0h1m9 0h1m6 0h1m-67 1h1m13 0h1m12 0h1m5 0h1m3 0h1m9 0h2m2 0h1m3 0h1m4 0h1m6 0h1m4 0h1m-72 1h1m7 0h1m4 0h1m6 0h1m5 0h1m3 0h1m4 0h1m5 0h1m2 0h1m7 0h1m10 0h1m2 0h1m-78 1h2m23 0h1m8 0h1m1 0h1m6 0h1m2 0h1m5 0h1m3 0h1m6 0h1m6 0h1m5 0h1m-55 1h2m1 0h1m10 0h2m6 0h1m9 0h1m9 0h1m1 0h1m6 0h1m1 0h1m-60 1h1m15 0h2m11 0h2m2 0h1m1 0h1m5 0h1m2 0h4m13 0h1m5 0h1m-82 1h1m20 0h1m6 0h1m3 0h1m4 0h1m4 0h1m1 0h1m6 0h1m1 0h1m15 0h1m2 0h1m3 0h1m-46 1h1m12 0h2m8 0h1m7 0h1m12 0h1m-70 1h1m1 0h2m10 0h1m13 0h1m2 0h1m1 0h1m7 0h1m7 0h1m5 0h1m6 0h1m1 0h1m8 0h1m4 0h1m-77 1h1m8 0h1m8 0h1m3 0h1m4 0h1m17 0h1m2 0h1m16 0h1m2 0h2m2 0h1m-72 1h1m1 0h1m3 0h1m5 0h1m14 0h2m15 0h1m23 0h1m-74 1h1m3 0h1m1 0h1m8 0h2m11 0h1m2 0h2m8 0h1m1 0h1m5 0h1m7 0h1m4 0h1m10 0h1m8 0h1m-89 1h1m1 0h1m7 0h1m2 0h1m37 0h1m3 0h1m4 0h1m8 0h2m2 0h1m2 0h1m4 0h2m6 0h1m-83 1h1m16 0h1m5 0h1m2 0h1m5 0h1m24 0h2m11 0h2m9 0h1m-65 1h1m9 0h3m31 0h1m8 0h1m1 0h1m8 0h1m-85 1h2m18 0h1m6 0h1m3 0h1m2 0h1m32 0h1m6 0h1m7 0h1m-77 1h1m2 0h1m25 0h1m29 0h1m8 0h1m-76 1h1m17 0h1m17 0h1m15 0h1m17 0h1m5 0h1m-70 1h1m11 0h1m7 0h1m3 0h1m5 0h1m26 0h1m5 0h1m-71 1h1m2 0h1m4 0h1m74 0h1m-84 1h1m19 0h1m6 0h1m21 0h1m18 0h2m1 0h1m-62 1h1m4 0h1m2 0h1m48 0h1m5 0h1m-73 1h2m2 0h2m2 0h1m8 0h1m2 0h1m14 0h1m34 0h1m5 0h1m4 0h1m1 0h1m-80 1h1m2 0h1m8 0h1m16 0h1m32 0h2m-60 1h1m7 0h1m13 0h3m3 0h1m9 0h1m37 0h1m-70 1h1m7 0h1m8 0h1m10 0h1m28 0h1m11 0h1m-86 1h1m9 0h1m5 0h2m15 0h1m19 0h1m14 0h1m-70 1h1m7 0h1m10 0h1m9 0h1m2 0h1m2 0h1m18 0h1m25 0h1m-49 1h1m1 0h1m3 0h1m2 0h1m8 0h2m3 0h1m7 0h1m14 0h1m5 0h1m-78 1h1m27 0h2m2 0h1m1 0h1m2 0h2m4 0h1m19 0h3m4 0h1m-67 1h1m6 0h1m8 0h1m7 0h1m9 0h1m22 0h1m8 0h1m3 0h1m-45 1h2m9 0h1m16 0h1m-64 1h1m17 0h2m10 0h1m6 0h1m4 0h1m4 0h1m3 0h1m11 0h2m5 0h1m6 0h1m-79 1h1m29 0h1m11 0h2m5 0h2m1 0h1m4 0h1m11 0h1m13 0h1m-48 1h1m2 0h1m7 0h2m3 0h2m3 0h1m5 0h1m1 0h1m2 0h1m2 0h1m10 0h1m1 0h1m-79 1h1m22 0h1m19 0h1m1 0h1m1 0h1m7 0h1m8 0h1m-53 1h1m31 0h1m2 0h1m3 0h1m-54 1h1m5 0h1m9 0h1m6 0h1m4 0h1m11 0h1m3 0h1m22 0h1m2 0h1m1 0h1m6 0h2m-76 1h1m7 0h1m11 0h1m29 0h1m-55 1h1m1 0h1m20 0h1m4 0h3m23 0h1m9 0h2m-42 1h1m1 0h1m2 0h1m15 0h1m4 0h1m23 0h1m-76 1h1m25 0h1m8 0h1m9 0h1m18 0h1m2 0h1m5 0h1m1 0h1m3 0h1m-84 1h1m15 0h1m13 0h1m25 0h1m17 0h1m-44 1h1m9 0h1m27 0h1m8 0h1m-46 1h1m2 0h1m20 0h1m7 0h1m3 0h1m2 0h1m1 0h1m2 0h1m3 0h1m-73 1h1m18 0h1m23 0h1m17 0h1m3 0h1m-42 1h1m35 0h1m6 0h1m9 0h1m-88 1h1m36 0h1m34 0h1m14 0h1m-72 1h1m10 0h2m2 0h1m5 0h1m29 0h1m2 0h1m9 0h1m4 0h1m-88 1h1m15 0h1m19 0h1m3 0h1m27 0h1m3 0h2m-68 1h1m11 0h1m8 0h1m3 0h1m39 0h1m-71 1h1m1 0h1m8 0h1m13 0h1m44 0h1m-70 1h1m8 0h1m9 0h1m3 0h1m1 0h1m3 0h1m4 0h1m11 0h1m5 0h2m22 0h1m7 0h1m-79 1h1m7 0h1m14 0h1m25 0h1m9 0h1m4 0h1m5 0h1m-77 1h1m3 0h1m4 0h2m11 0h1m8 0h1m3 0h1m8 0h1m15 0h1m3 0h2m4 0h1m4 0h1m6 0h1m-83 1h2m3 0h1m18 0h1m22 0h1m15 0h1m12 0h2m-72 1h1m22 0h1m12 0h1m8 0h1m3 0h1m9 0h1m10 0h1m-76 1h1m1 0h1m10 0h1m2 0h1m12 0h1m1 0h1m3 0h1m1 0h2m5 0h1m2 0h1m1 0h1m1 0h1m13 0h1m6 0h1m7 0h1m-76 1h1m4 0h1m3 0h1m6 0h2m3 0h1m8 0h1m15 0h1m1 0h1m10 0h1m1 0h3m5 0h1m4 0h1m5 0h1m-77 1h1m11 0h1m20 0h1m6 0h1m3 0h1m6 0h1m13 0h1m7 0h1m-61 1h1m4 0h2m1 0h1m3 0h1m2 0h1m6 0h1m1 0h1m13 0h1m19 0h1m-82 1h1m34 0h1m3 0h2m18 0h1m2 0h1m23 0h1m-88 1h1m3 0h1m7 0h1m23 0h1m4 0h1m4 0h1m8 0h1m7 0h2m9 0h1m4 0h1m7 0h2m-87 1h1m14 0h1m6 0h2m2 0h1m7 0h1m5 0h1m-26 1h1m31 0h1m15 0h1m11 0h1m-48 1h1m16 0h2m4 0h1m4 0h1m7 0h1m17 0h1m-68 1h2m11 0h1m1 0h1m7 0h1m1 0h1m30 0h1m-67 1h1m2 0h1m15 0h1m5 0h1m38 0h1m10 0h1m1 0h1m-80 1h1m12 0h1m65 0h1m-46 1h1m15 0h1m17 0h1m4 0h1m8 0h1m-80 1h1m3 0h2m56 0h1m-58 1h1m27 0h1m8 0h1m9 0h1m-60 1h1m58 0h1m18 0h1m7 0h1"/>
<path stroke="#37fd25" d="M5 0h1m28 0h1m50 0h1m-46 1h1m34 0h1m10 0h1m-81 1h1m64 0h1m3 0h1m11 0h1m-62 1h1m4 0h1m36 0h1m-41 1h1m16 0h1m21 1h1m5 0h1m6 0h1m7 0h1m-2 1h1m1 0h1m-58 1h1m12 0h1m26 0h1m14 0h1m-78 1h1m1 0h1m43 0h1m5 0h1m-60 1h1m8 0h2m1 1h1m24 0h1m2 0h1m13 0h1m10 0h1m10 0h1m-61 1h3m4 0h1m16 0h1m6 0h1m17 0h1m5 0h2m1 0h1m6 0h1m-72 1h1m1 0h1m9 0h1m39 0h1m10 0h1m8 0h1m1 0h1m-75 1h1m3 0h1m10 0h1m47 0h1m-65 1h1m7 0h1m4 0h1m42 0h1m6 0h1m-68 1h1m1 0h1m14 0h1m1 0h3m53 0h1m-84 1h2m4 0h1m8 0h1m19 0h1m11 0h1m2 0h1m3 0h1m9 0h2m-49 1h1m1 0h1m6 0h1m3 0h1m3 0h1m9 0h3m1 0h1m-30 1h1m9 0h1m5 0h1m3 0h1m4 0h1m6 0h1m1 0h1m2 0h2m3 0h1m4 0h1m5 0h1m-57 1h1m20 0h1m22 0h1m-41 1h1m1 0h1m8 0h1m3 0h1m4 0h1m19 0h1m18 0h1m1 0h1m3 0h1m-75 1h1m21 0h1m13 0h1m21 0h1m13 0h1m-40 1h1m1 0h1m31 0h1m2 0h1m-45 1h1m3 0h1m-39 1h1m9 0h1m12 0h2m3 0h1m5 0h2m4 0h1m2 0h1m1 0h1m20 0h1m11 0h1m-61 1h1m16 0h1m18 0h1m1 0h1m-18 1h1m6 0h1m4 0h1m11 0h1m1 0h1m4 0h1m9 0h1m3 0h1m-87 1h1m7 0h1m5 0h1m2 0h1m5 0h1m1 0h1m14 0h1m2 0h1m7 0h2m2 0h1m2 0h1m2 0h1m9 0h1m5 0h1m-56 1h1m8 0h2m26 0h1m4 0h1m1 0h1m7 0h1m-62 1h1m6 0h1m10 0h1m14 0h1m19 0h1m-62 1h1m3 0h1m24 0h1m8 0h1m12 0h1m1 0h1m1 0h1m2 0h1m7 0h1m14 0h1m-88 1h1m7 0h1m50 0h1m12 0h2m1 0h1m4 0h1m8 0h1m-78 1h1m10 0h1m8 0h1m10 0h1m1 0h1m14 0h1m5 0h1m-56 1h1m8 0h1m14 0h1m13 0h2m5 0h1m4 0h2m6 0h1m-69 1h1m50 0h1m15 0h1m5 0h1m3 0h1m-77 1h1m17 0h2m39 0h1m4 0h1m1 0h2m3 0h1m6 0h1m-57 1h1m6 0h1m3 0h1m28 0h1m5 0h1m13 0h1m-45 1h1m11 0h1m2 0h1m2 0h1m10 0h1m15 0h1m-85 1h1m8 0h1m9 0h1m18 0h1m10 0h1m23 0h1m9 0h1m3 0h1m-88 1h1m31 0h2m20 0h2m1 0h1m13 0h1m5 0h1m1 0h1m-79 1h1m1 0h1m46 0h1m29 0h1m-72 1h1m21 0h1m50 0h1m-73 1h1m10 0h1m10 0h1m3 0h1m1 0h1m18 0h1m12 0h1m4 0h1m8 0h1m1 0h1m-76 1h2m2 0h1m16 0h1m41 0h1m2 0h1m-70 1h1m11 0h1m22 0h1m23 0h2m-48 1h1m50 0h1m-54 1h1m-1 1h1m14 0h1m3 0h1m17 0h1m24 0h1m-17 1h1m10 0h1m11 0h1m-56 1h1m51 0h1m-86 1h1m6 0h1m11 0h1m13 0h2m5 0h1m27 0h1m-65 1h2m3 0h1m1 0h1m9 0h1m18 0h1m31 0h1m2 0h1m3 0h1m4 0h2m-67 1h1m14 0h1m2 0h1m7 0h1m27 0h2m3 0h1m-77 1h1m4 0h1m12 0h1m12 0h1m1 0h1m20 0h1m19 0h1m1 0h1m-71 1h1m28 0h1m35 0h1m3 0h1m4 0h1m-53 1h1m6 0h1m31 0h1m6 0h1m-72 1h1m23 0h1m3 0h1m37 0h2m-65 1h1m13 0h1m8 0h1m3 0h1m31 0h1m1 0h1m14 0h1m-74 1h1m17 0h2m1 0h1m4 0h1m1 0h1m14 0h1m2 0h1m2 0h1m7 0h1m-70 1h2m19 0h1m11 0h1m9 0h1m6 0h1m31 0h1m-82 1h1m7 0h1m37 0h1m6 0h1m1 0h1m31 0h1m-89 1h1m8 0h1m19 0h1m2 0h1m7 0h1m11 0h1m-50 1h1m32 0h1m31 0h1m13 0h1m-82 1h1m35 0h1m7 0h1m9 0h1m10 0h2m1 0h1m17 0h1m-67 1h1m11 0h1m5 0h1m2 0h1m3 0h1m4 0h1m2 0h1m2 0h1m5 0h1m6 0h2m4 0h1m3 0h1m5 0h1m-47 1h2m11 0h1m18 0h3m1 0h1m-70 1h1m5 0h1m17 0h1m29 0h2m2 0h1m5 0h1m3 0h1m-64 1h1m26 0h1m5 0h1m33 0h1m-71 1h1m11 0h3m26 0h1m5 0h1m14 0h1m15 0h1m-79 1h1m2 0h1m53 0h1m4 0h1m-50 1h1m16 0h1m32 0h1m6 0h1m1 0h1m5 0h1m-76 1h1m7 0h1m11 0h1m4 0h1m27 0h1m13 0h1m-70 1h1m1 0h1m25 1h1m38 0h1m1 0h1m-57 1h1m50 0h1m-62 1h1m74 0h1m-50 1h1m42 0h1m2 0h2m-65 1h1m53 0h1m1 0h1m-77 1h1m10 0h1m8 0h1m57 0h1m7 0h1m-79 1h1m27 0h2m30 0h1m16 0h1m-78 1h1m4 0h1m18 0h1m4 0h2m31 0h1m8 0h1m-51 1h2m2 0h1m5 0h1m34 0h1m4 0h1m2 0h1m1 0h1m-73 1h1m57 0h1m-54 1h1m25 0h1m24 0h1m2 0h1m-44 1h1m31 0h1m-61 1h1m15 0h1m4 0h1m8 0h1m6 0h1m3 0h1m10 0h1m9 0h1m4 0h1m1 0h1m4 0h2m-43 1h1m9 0h1m23 0h1m1 0h1m6 0h1m-59 1h1m26 0h1m4 0h1m1 0h1m5 0h1m3 0h1m11 0h1m-68 1h1m24 0h2m20 0h1m8 0h1m-43 1h1m12 0h2m2 0h1m5 0h1m28 0h1m-65 1h1m10 0h1m8 0h1m14 0h1m6 0h1m6 0h1m2 0h1m8 0h1m12 0h1m-67 1h1m17 0h1m10 0h1m3 0h1m10 0h1m10 0h1m4 0h1m9 0h1m-80 1h1m37 0h1m20 0h1m8 0h1m-76 1h1m30 0h1m1 0h1m1 0h1m13 0h1m26 0h1m-79 1h1m5 0h1m11 0h1m2 0h1m52 0h1m-54 1h2m33 0h1m26 0h1m-76 1h1m1 0h2m10 0h1m8 0h1m6 0h1m25 0h2m5 0h2m-64 1h1m2 0h1m8 0h1m8 0h1m42 0h1m11 0h1m-75 1h1m7 0h1m1 0h1m8 0h1m3 0h1m-35 1h1m1 0h1m66 0h1m-38 1h1m22 0h1m22 0h1m-74 1h1m15 0h1m46 0h2m5 0h1m11 0h1m-66 1h1m1 0h1m9 0h1m-34 1h1m18 0h1m1 0h1m4 0h1m3 0h1m4 0h1m10 0h1m19 0h1m5 0h1m1 0h1m-51 1h1m43 0h1m5 0h1m1 0h3m-80 1h2m1 0h1m19 0h1m20 0h1m19 0h1m8 0h1m-43 1h1m6 0h2m4 0h1m27 0h1m9 0h1m-68 1h1m7 0h1m26 0h1m14 0h1m12 0h1m4 0h1m-72 1h1m4 0h2m3 0h1m2 0h1m6 0h1m7 0h1m6 0h1m12 0h1m-54 1h1m10 0h1m5 0h1m5 0h1m10 0h1m10 0h1m4 0h1m6 0h1m7 0h1m-74 1h2m8 0h4m3 0h1m1 0h3m5 0h1m1 0h1m9 0h1m10 0h1m-30 1h1m52 0h1m5 0h1m-73 1h1m3 0h1m1 0h1m5 0h1m4 0h1m16 0h1m15 0h1m1 0h1m17 0h1m1 0h2m-78 1h1m7 0h1m3 0h1m9 0h2m11 0h1m1 0h1m10 0h1m-12 1h1m24 0h1m13 0h1m-74 1h1m4 0h1m1 0h1m1 0h1m6 0h1m28 0h1m2 0h1m4 0h1m9 0h1m7 0h1m8 0h1m-66 1h2m4 0h2m1 0h1m-28 1h1m26 0h1m14 0h1m8 0h1m-33 1h1m35 0h1m13 0h1m11 0h1m-69 1h1m6 0h1m1 0h1m18 0h1m12 0h1m10 0h1m-69 1h1m5 0h1m6 0h2m11 0h1m12 0h1m9 0h1m-26 1h1m3 0h1m16 0h1m30 0h2m3 0h1m-83 1h1m46 0h1m5 0h1m2 0h1m8 0h1m3 0h1m11 0h1m-39 1h1m29 0h1m-59 1h1m11 0h1m-22 1h1m26 0h1m5 0h2m22 0h1m6 0h1m1 0h1m8 0h1m1 0h1m-64 1h1m9 0h1m14 0h1m2 0h2m5 0h1m6 0h1m6 0h1m18 0h1m-86 1h1m9 0h1m16 0h1m38 0h1m7 0h1"/>
<path stroke="#45fd34" d="M28 0h1m9 0h1m7 0h1m1 0h1m6 0h1m25 0h2m-83 1h3m14 0h1m2 0h2m3 0h1m15 0h1m18 0h1m17 0h1m3 0h1m1 0h1m3 0h1m-68 1h1m30 0h1m27 0h1m-64 1h1m42 0h1m16 0h1m2 0h1m-78 1h1m18 0h1m24 0h1m23 0h1m14 0h1m-84 1h1m5 0h1m10 0h1m18 0h1m1 0h1m10 0h1m12 0h1m4 0h1m11 0h1m-83 1h1m9 0h1m17 0h1m35 0h1m20 0h1m-86 1h1m56 0h1m13 0h1m-66 1h1m9 0h1m30 0h1m26 0h1m-41 1h1m1 0h1m32 0h1m1 0h1m-71 1h1m2 0h1m18 0h1m7 0h1m9 0h1m4 0h1m-33 1h1m13 0h1m52 0h1m-78 1h1m11 0h1m15 0h1m11 0h1m5 0h1m20 0h1m11 0h1m-83 1h2m3 0h2m25 0h1m27 0h1m3 0h1m-65 1h1m16 0h1m12 0h1m9 0h1m13 0h1m3 0h1m11 0h1m11 0h1m-51 1h1m19 0h1m6 0h1m9 0h1m-68 1h1m63 0h1m10 0h1m10 0h1m-89 1h1m11 0h1m23 0h1m2 0h1m8 0h1m7 0h1m5 0h2m13 0h1m1 0h1m6 0h1m-86 1h1m15 0h1m27 0h1m35 0h1m-81 1h1m26 0h1m21 0h1m25 0h1m-76 1h1m23 0h1m12 0h1m13 0h1m7 0h1m1 0h1m11 0h1m-64 1h1m-2 1h1m67 0h1m3 0h1m-66 1h1m11 0h1m23 0h1m27 0h1m4 0h1m-83 1h1m11 0h1m10 0h1m4 0h1m17 0h1m-46 1h2m4 0h1m5 0h1m6 0h1m30 0h1m22 0h1m7 0h1m-57 1h1m3 0h1m-23 1h1m5 0h1m16 0h2m4 0h1m12 0h1m2 0h1m1 0h1m3 0h1m4 0h1m5 0h1m6 0h1m-33 1h1m3 0h1m3 0h1m11 0h1m2 0h1m-9 1h1m13 0h1m4 0h1m-27 1h1m22 0h1m-72 1h1m22 0h1m4 0h1m17 0h1m30 0h1m-84 1h2m5 0h1m12 0h1m9 0h1m28 0h1m-27 1h1m3 0h1m5 0h2m32 0h1m-70 1h1m8 0h1m29 0h1m4 0h1m8 0h1m-57 1h1m21 0h1m53 0h1m-75 1h1m9 0h2m16 0h1m38 0h1m-78 1h1m64 0h1m3 0h1m10 0h1m6 0h1m-52 1h1m31 0h2m1 0h1m14 0h1m-81 1h1m13 0h1m17 0h1m8 0h1m10 0h1m27 0h1m-49 1h1m28 0h1m5 0h2m-74 1h1m19 0h1m-10 1h1m55 0h2m6 0h1m-58 1h1m1 0h1m57 0h1m-80 1h1m35 0h1m37 0h1m-75 1h1m7 0h1m1 0h1m21 0h2m40 0h1m10 0h1m-83 1h1m29 0h1m2 0h1m35 0h1m5 1h1m1 0h1m3 0h1m1 0h1m-83 1h1m5 0h1m27 0h1m1 0h1m-5 1h1m1 0h1m37 0h2m-77 1h2m68 0h1m9 0h1m5 0h1m-71 1h1m19 0h1m43 0h1m-74 1h1m22 0h1m4 0h1m39 0h1m4 0h1m4 0h1m-68 1h1m-5 1h1m58 0h1m-28 1h1m-27 1h1m10 0h1m15 0h1m5 0h1m4 1h1m-58 1h1m43 0h1m6 0h1m10 0h1m15 0h1m-80 1h1m1 0h1m56 0h1m-57 1h2m27 0h1m38 0h1m5 0h1m5 0h1m-76 1h1m10 0h1m13 0h1m1 0h1m22 0h2m1 0h1m20 0h1m-35 1h1m3 0h1m6 0h1m4 0h1m17 0h1m-76 1h1m51 0h1m-61 1h1m12 0h1m2 0h1m16 0h1m10 0h1m38 0h1m-73 1h1m30 0h1m4 0h1m12 0h1m8 0h1m-71 1h2m18 0h1m14 0h1m35 1h1m3 1h1m-76 1h1m18 0h1m13 0h1m20 0h1m-18 1h1m14 0h1m-51 1h1m19 0h1m43 0h1m-35 1h1m1 0h1m39 0h1m-51 1h1m7 0h1m6 0h1m41 0h1m5 0h1m-67 1h1m12 0h1m12 0h1m36 0h1m-53 1h1m-31 1h1m86 0h1m-55 1h1m1 0h1m-29 1h1m59 0h1m16 0h1m-8 1h1m-76 1h1m33 0h1m50 0h1m-10 1h1m-68 1h1m27 0h1m28 0h1m8 0h1m9 0h1m-57 1h1m1 0h1m33 0h1m7 0h1m-65 1h1m21 0h1m45 0h1m0 1h1m-72 1h1m8 0h1m58 0h1m-80 1h1m2 0h1m5 0h1m21 0h1m39 0h1m-65 1h1m11 0h1m22 0h1m34 0h2m1 0h1m-59 1h1m8 0h1m26 0h1m3 0h1m15 0h1m1 0h1m-61 1h1m3 0h1m41 0h1m15 0h1m-70 1h1m4 0h1m14 0h1m-29 1h1m6 0h1m2 0h1m6 1h1m38 0h1m-51 1h1m58 0h1m13 0h1m-65 1h1m41 0h1m-60 1h1m83 0h1m-1 1h1m-17 2h1m15 0h1m-68 1h1m33 0h1m-45 1h1m19 0h1m1 0h1m-1 1h1m40 0h1m-40 1h1m38 0h1m-63 1h1m20 0h1m4 0h2m27 0h1m10 0h1m-9 1h1m3 0h1m-72 1h1m19 0h1m59 0h1m3 0h1m2 0h1m-8 1h2m-64 1h1m34 0h1m-42 1h1m3 0h1m9 0h1m5 0h1m4 0h1m-18 1h1m36 0h1m6 0h1m2 0h1m2 0h1m-73 1h1m19 0h1m12 0h1m18 0h1m5 0h1m4 0h1m1 0h1m-42 1h1m11 0h1m16 0h1m15 0h1m-59 1h1m43 0h1m10 0h1m-51 1h1m23 0h1m17 0h1m-54 1h1m13 0h1m2 0h1m1 0h1m4 0h1m49 0h1m-29 1h1m1 0h1m2 0h1m5 0h1m9 0h1m1 0h1m-68 1h1m13 0h1m37 0h1m12 0h1m3 0h1m4 0h1m-75 1h1m16 0h1m42 0h1m6 0h1m8 0h1m3 0h1m-60 1h1m2 0h1m47 0h1m7 0h1m-83 1h1m14 0h1m4 0h1m10 0h2m31 0h1m7 0h1m1 0h1m9 0h1m-88 1h1m13 0h1m13 0h1m11 0h1m1 0h1m6 0h1m9 0h1m2 0h1m20 0h1m1 0h1m-86 1h2m5 0h1m22 0h1m11 0h1m37 0h1m-52 1h1m12 0h2m9 0h1m2 0h1m16 0h1m-14 1h1m15 0h1m-78 1h1m10 0h1m8 0h1m8 0h1m51 0h1m4 0h1m-53 1h1m5 0h1m-38 1h1m10 0h1m21 0h1m12 0h1"/>
<path stroke="#52fd43" d="M4 0h1m17 0h1m40 0h1m2 0h1m9 0h1m-47 1h1m1 0h1m50 0h1m-37 1h1m1 0h1m11 0h1m7 0h1m7 0h1m-78 1h1m26 0h1m28 0h1m2 0h1m2 0h1m23 0h1m-81 1h1m9 0h1m46 0h1m12 0h1m5 0h1m-71 1h1m5 0h1m8 0h1m21 0h1m3 0h1m17 0h1m13 0h1m-56 1h1m6 0h1m18 0h1m3 0h1m6 0h1m2 0h1m8 0h1m-77 1h1m1 0h1m25 0h1m17 0h1m13 0h1m2 0h1m7 0h1m8 0h2m-84 1h1m3 0h1m55 0h1m-53 1h1m18 0h1m1 0h1m14 0h1m13 0h1m18 0h1m-63 1h1m4 0h1m15 0h1m12 0h1m-47 1h1m1 0h1m17 0h1m5 0h1m9 0h1m42 0h1m-70 1h1m33 0h2m24 0h1m3 0h1m-68 1h1m27 0h1m22 0h1m-59 1h1m24 0h1m6 0h1m2 0h1m16 0h1m6 0h1m-44 1h1m38 0h1m14 0h1m2 0h2m-67 1h1m14 0h1m4 0h1m13 0h1m13 0h1m-53 1h1m45 0h1m6 0h1m3 0h1m9 0h1m5 1h1m3 0h1m-73 1h1m4 0h1m15 0h1m6 0h1m15 0h1m9 0h2m-55 1h1m29 1h1m9 0h1m9 0h1m5 0h1m11 0h1m-80 1h1m2 0h1m17 0h1m15 0h1m6 0h1m-46 1h1m2 0h1m67 0h1m7 0h1m-40 1h1m14 0h1m4 0h1m13 0h1m3 0h1m2 0h1m-70 1h1m37 0h1m28 0h1m3 0h1m2 0h1m-72 1h1m12 0h1m31 0h1m18 0h1m3 0h1m-83 1h1m2 0h1m9 0h1m31 0h1m-9 1h1m2 0h1m11 0h1m22 0h1m-70 1h1m21 0h1m5 0h1m44 0h1m-82 1h1m12 0h1m5 0h2m17 0h1m10 0h1m34 0h1m-51 1h1m19 0h1m9 0h1m-19 1h1m7 0h1m-10 1h1m10 0h1m-45 1h1m27 0h1m4 0h1m3 0h1m6 0h1m2 0h1m24 0h1m-76 1h1m30 0h1m1 0h1m13 0h1m-2 1h2m17 0h1m11 0h2m-57 1h1m43 0h1m3 0h1m6 0h1m-83 2h1m16 0h1m56 0h1m-71 1h1m13 1h1m6 0h1m43 0h1m4 0h1m-44 1h1m16 1h1m-41 1h1m-14 1h1m39 0h1m-20 1h1m10 0h1m44 0h1m-68 1h1m10 0h1m2 0h1m45 0h2m-50 1h1m50 0h1m-36 1h1m-30 1h1m3 0h1m8 0h1m11 1h1m35 0h1m-68 1h1m35 0h1m-17 1h1m64 0h1m-50 1h1m37 0h1m4 0h1m-48 1h1m9 2h1m4 0h1m18 0h1m1 0h1m16 0h1m-6 1h1m-75 1h1m26 1h1m5 0h1m12 0h1m33 0h1m-33 1h1m28 1h1m-35 1h1m1 0h1m-52 1h1m68 0h1m1 0h1m-67 1h1m23 0h1m33 1h1m20 0h1m-77 2h2m8 1h1m67 0h1m-84 1h1m20 1h1m-19 1h1m4 0h1m63 0h1m-59 1h1m14 0h1m-1 1h1m1 2h1m39 0h1m9 0h1m-19 1h1m8 1h1m10 0h1m-77 2h1m21 0h1m-24 1h1m9 0h1m46 0h1m-26 1h1m4 1h1m17 1h1m9 0h2m5 1h1m-81 1h1m6 2h1m57 0h1m3 0h1m11 0h1m-42 1h1m16 0h1m17 0h1m-68 2h1m65 0h1m-46 1h1m26 0h1m-57 1h1m66 0h1m-1 1h1m14 1h1m1 1h1m-15 2h1m14 0h1m-56 1h1m47 0h1m3 0h1m-48 2h1m-33 2h1m-2 1h1m3 0h1m10 1h1m30 0h1m15 0h1m14 0h1m4 1h1m-76 1h1m21 0h1m40 0h1m-55 1h1m6 0h1m5 0h1m1 0h1m33 0h1m-68 1h1m30 0h1m22 1h1m8 0h1m20 0h2m-50 1h1m32 0h1m-61 1h1m23 0h1m-19 1h1m-7 1h1m22 0h2m-36 1h1m3 0h1m1 0h1m32 0h1m9 0h1m6 0h1m7 0h1m-63 1h1m38 0h2m-45 1h1m8 0h1m20 0h1m22 0h1m-23 1h2m28 0h1m-57 1h1m40 0h1m18 0h1m-58 1h1m8 0h2m4 0h1m9 0h1m12 0h1m8 0h1m16 0h1m-56 1h1m18 0h1m1 0h1m9 0h1m20 0h1m-48 1h1m56 0h1m-26 1h1m6 0h1m20 0h1m4 0h1m-69 1h1m1 0h1m9 0h1m32 0h1m4 0h1m3 0h1m8 0h1m1 0h1m-59 1h1m50 0h1m-44 1h1m29 0h1m10 0h1m-59 1h1m2 0h1m46 0h1m5 0h1m15 0h1"/>
<path stroke="#60fe52" d="M19 0h1m5 0h1m13 0h1m-21 1h1m59 0h1m5 0h1m1 0h1m-88 1h1m2 0h1m52 0h1m11 0h1m-53 1h1m4 0h1m28 0h1m-47 1h1m5 0h1m39 0h1m-43 1h1m19 0h1m9 0h1m-14 1h1m18 0h1m5 0h1m29 0h1m7 0h1m-33 1h1m19 0h1m1 0h1m-64 1h1m4 0h1m19 0h1m17 0h1m23 0h1m-63 1h1m11 0h1m14 0h1m17 0h1m-57 1h1m3 0h1m37 0h1m-50 1h1m26 0h1m3 0h1m3 0h1m6 0h1m13 0h1m-25 1h1m10 0h1m29 0h1m-40 1h1m-2 1h1m24 0h1m-61 1h1m1 0h2m40 0h1m5 0h1m11 0h1m3 0h1m-60 1h1m9 0h1m44 0h1m17 0h1m3 0h1m-80 1h1m33 0h1m15 0h1m-34 1h1m60 0h1m5 0h1m-83 1h1m38 0h1m6 0h1m32 0h1m-77 1h1m60 0h1m-65 1h1m21 0h1m41 0h1m3 0h1m-58 1h1m30 0h1m-44 1h1m1 0h1m5 0h1m31 0h1m21 0h1m16 0h1m-52 1h1m21 0h1m7 0h1m-46 1h1m14 0h1m5 0h1m-29 2h1m37 0h1m15 0h1m-58 1h2m35 0h1m-41 1h1m63 0h1m6 0h1m-38 2h1m-40 1h1m1 0h1m50 0h1m9 0h1m11 0h1m-57 2h1m21 0h1m27 0h1m-27 2h1m5 0h1m4 0h1m29 0h1m-40 1h1m37 0h1m-47 1h1m25 0h1m14 0h1m-80 1h1m30 0h1m13 0h1m-36 1h1m-4 1h1m79 0h1m1 0h1m-41 1h1m27 1h1m-70 2h1m27 0h1m44 0h1m7 1h1m-87 1h1m5 0h1m62 0h1m15 0h1m-68 1h1m10 0h1m50 2h1m-48 1h1m49 1h1m-86 3h1m1 0h1m70 0h1m-59 1h1m14 0h1m21 0h1m-10 2h1m42 1h1m-67 1h1m25 1h1m18 0h1m-66 1h1m85 3h1m-11 1h1m6 1h1m3 0h1m-79 1h1m33 2h1m27 1h1m-3 1h1m-10 1h1m1 0h1m-53 2h1m65 0h1m8 0h1m-86 3h1m79 0h1m-2 1h1m-81 1h1m2 0h1m28 0h1m50 2h1m-84 4h1m54 0h1m-55 1h2m6 2h1m2 0h1m-4 2h1m77 0h1m-54 1h1m40 0h1m-74 1h1m6 0h1m23 2h1m-34 1h1m-1 1h1m8 0h1m77 1h1m-79 1h1m28 0h1m39 0h1m-79 3h1m69 1h1m-43 2h1m-29 2h1m37 0h1m-11 1h1m18 1h1m23 0h1m11 0h1m-46 1h1m18 0h1m-43 1h1m-7 1h1m37 1h1m14 0h1m22 0h1m3 0h1m-80 1h1m31 0h1m24 0h1m1 0h1m9 0h1m-52 1h1m27 0h1m5 0h1m8 0h1m-64 1h1m6 0h1m31 0h1m6 0h1m-15 1h1m25 0h1m-53 1h1m1 0h1m18 0h1m2 0h1m5 0h1m-45 1h1m35 0h1m-34 1h1m20 0h1m7 0h1m5 0h1m10 1h1m8 0h1m12 0h1m-66 1h1m9 1h1m48 0h1m10 0h1m-76 1h1m11 0h1m30 0h1m12 0h1m10 0h1m-8 1h1m6 0h1m16 0h1m-62 1h1m55 0h1"/>
<path stroke="#6efe61" d="M3 0h1m47 0h1m5 0h1m22 0h1m7 0h1m-75 1h1m23 0h1m3 0h1m24 0h1m-51 1h1m15 0h1m12 0h1m17 0h1m13 0h1m3 0h1m-72 1h1m46 0h1m11 0h1m-37 1h1m35 0h1m-47 1h1m34 0h1m1 0h1m-23 1h1m32 0h1m3 0h1m-76 1h1m84 0h1m-87 1h1m66 1h1m7 0h2m-70 1h1m41 0h1m19 0h1m5 0h1m-41 1h1m20 0h1m2 0h1m19 1h1m-65 1h1m9 0h1m1 0h1m22 0h1m6 0h1m16 0h1m-56 1h1m53 0h1m-34 1h1m30 0h1m-70 1h1m70 1h1m8 0h1m-77 1h1m6 0h1m6 0h1m12 0h1m4 0h1m16 0h1m22 0h1m-70 1h1m23 0h1m1 0h1m30 0h1m9 0h1m-9 1h1m19 0h1m-64 1h1m32 0h1m8 0h1m9 0h1m-55 1h1m13 0h1m17 0h1m21 1h1m10 1h1m-36 1h1m7 1h1m15 0h1m-19 2h1m26 0h1m-36 1h1m-36 1h1m5 0h1m11 0h1m40 0h1m-2 1h1m13 0h1m-31 1h1m-27 1h1m26 0h1m29 0h1m-4 1h1m-69 1h1m32 0h1m31 0h1m-84 2h1m50 0h1m17 3h1m9 6h1m-72 2h1m27 0h1m37 2h1m14 6h1m-49 2h1m14 1h1m29 1h1m-43 2h1m33 0h1m2 0h1m-82 1h1m79 0h1m-49 3h1m-27 1h1m31 0h1m41 0h1m-77 2h1m-5 4h1m1 8h1m-2 1h1m7 0h1m71 0h1m3 0h1m-42 1h1m29 7h1m-44 1h1m44 2h1m5 0h1m-63 1h1m48 0h1m-69 1h1m7 3h1m-7 2h1m65 0h1m17 0h1m-15 1h1m9 3h1m3 0h1m-88 1h1m77 0h2m-52 1h1m58 0h1m-55 1h1m-7 1h1m4 1h1m21 1h1m-12 1h1m-37 1h1m40 0h1m14 0h1m-62 2h1m5 0h1m0 1h1m25 0h1m-29 1h1m16 0h1m48 0h1m-14 1h1m17 0h1m-14 1h1m10 0h1m11 0h1m-76 1h1m45 0h1m-60 2h1m71 0h1m3 0h1m2 0h1m-66 1h1m16 0h1m8 0h1m7 1h1m-49 1h1m25 0h1m3 0h1m6 0h1m20 0h1m7 0h1m16 0h1m2 0h1m2 0h1m-68 1h1m12 0h2m19 0h1m-40 1h1m47 0h1m17 0h2m-64 1h1m7 0h1m14 0h1m2 0h1m6 0h1m11 0h1"/>
<path stroke="#7cfe70" d="M9 0h1m43 0h1m4 0h1m-40 2h1m28 0h1m1 0h1m25 0h1m-72 1h1m2 0h1m54 0h1m9 0h1m15 0h1m-25 1h1m-37 2h1m-13 1h1m2 0h1m3 0h1m21 0h1m38 0h1m-63 1h1m-10 1h1m66 0h1m-2 1h1m-17 1h1m17 0h1m-45 1h1m43 0h1m3 0h1m1 0h1m-77 1h1m5 0h1m28 0h1m7 0h1m-45 1h1m21 0h1m17 0h1m28 1h1m2 1h1m3 0h1m-54 2h1m-13 1h1m47 0h1m-25 1h1m-29 1h1m11 0h1m4 0h1m38 0h1m-61 1h1m33 0h1m0 1h1m33 0h2m3 0h1m-36 1h1m-53 1h1m61 0h1m-32 2h1m-26 1h1m59 2h1m-34 1h1m51 1h1m-10 1h1m-68 1h1m73 0h1m-72 1h1m35 0h1m28 3h1m-3 1h1m11 4h1m-36 1h1m28 2h1m3 0h1m-26 1h1m-32 2h1m56 2h1m-88 1h1m12 0h1m64 0h1m-60 2h1m60 0h1m-80 2h1m69 0h1m12 2h1m-6 1h1m6 0h1m-22 1h1m21 2h1m-9 1h1m-69 1h2m54 3h1m-68 1h1m68 2h1m12 1h1m0 2h1m-52 10h1m48 0h2m4 1h1m-51 2h1m49 0h1m-54 3h1m-34 2h1m1 1h1m20 0h1m31 1h1m32 1h1m-83 5h1m3 1h1m0 2h1m76 1h1m-9 1h1m-82 2h1m68 1h1m19 0h1m-44 1h1m33 0h2m-65 1h1m3 0h1m63 1h1m-61 1h1m15 0h1m-19 1h1m2 0h1m4 0h1m0 1h1m-30 3h1m46 0h1m30 0h1m-67 1h1m31 1h1m23 0h1m-28 1h1m8 1h1m-39 2h2m59 0h1m-55 2h1m5 0h1m41 0h1m14 0h1m-78 1h1m39 0h1m8 0h1m1 0h1m19 0h1m-61 1h1m18 0h1m4 0h1m-33 1h1m21 0h1m53 0h1"/>
<path stroke="#8afe7f" d="M35 0h1m11 0h1m39 0h1m-70 2h1m38 0h1m5 0h1m1 0h1m-65 1h1m51 0h1m13 0h1m-56 1h1m11 0h1m7 0h1m2 0h1m42 0h1m-79 1h1m16 0h1m4 0h1m8 0h1m19 0h1m10 0h1m-6 1h1m-4 1h1m5 0h1m4 0h1m-47 1h1m14 0h1m19 0h1m4 0h1m5 0h1m6 0h1m-12 1h1m-52 1h1m21 0h1m51 0h1m-76 3h1m12 0h1m43 0h1m6 0h1m-40 1h1m10 0h1m-39 1h1m68 0h1m5 0h1m-78 1h1m39 0h1m24 0h1m-71 3h1m51 0h1m-8 1h1m37 0h1m2 1h1m-18 2h1m4 4h1m4 1h1m-67 1h1m39 0h1m-54 3h1m30 1h1m54 3h1m-28 1h1m13 0h1m1 2h1m-75 3h1m2 0h1m-4 4h1m85 0h1m-2 1h1m-2 3h1m-85 1h1m-1 1h1m87 0h1m-81 1h1m-10 2h1m73 1h1m14 3h1m-90 6h2m64 0h1m21 0h1m-9 3h1m-70 1h1m66 0h1m10 5h1m-7 9h1m-78 1h1m73 1h1m-44 2h1m-37 1h1m36 0h1m-38 1h1m0 1h1m67 0h1m-67 1h1m-3 7h1m84 9h1m-9 2h1m-41 2h1m-37 2h1m14 0h1m-14 1h1m24 0h1m56 0h1m-78 1h1m27 0h1m29 0h1m5 0h1m2 0h1m-69 1h1m29 0h1m45 0h1m-80 1h1m70 0h1m-70 2h1m24 0h1m-29 2h1m19 1h1m15 0h1m31 0h1m-65 1h1m10 0h1m48 0h1m19 0h1m-85 1h1m45 0h1m28 0h1m-53 2h1m58 0h1m-76 1h1m11 0h1"/>
<path stroke="#97fe8e" d="M8 0h1m43 0h1m6 0h1m-32 1h1m16 0h1m9 0h1m21 0h1m-69 1h1m22 0h1m41 0h1m-72 1h1m53 0h1m7 0h1m-53 1h1m28 0h1m14 0h1m10 0h1m6 0h1m-72 2h1m63 0h1m1 1h1m8 0h1m-55 1h1m47 0h1m-28 1h1m-42 1h1m21 0h1m17 0h1m21 0h1m13 0h1m4 1h1m-87 1h1m56 0h1m4 0h1m-43 1h1m-21 1h1m63 1h1m-27 2h1m-39 3h1m86 1h1m-87 1h1m54 0h1m28 0h1m-86 1h1m74 1h1m-16 1h1m-58 8h1m83 1h2m-44 4h1m30 2h1m-74 3h1m26 0h1m56 0h1m-78 6h1m17 0h1m55 1h1m-2 3h1m2 0h1m-1 1h1m-87 3h1m1 12h1m-3 3h1m-1 9h1m86 0h1m-8 6h1m3 1h1m4 4h1m-2 1h1m-18 4h1m-21 1h1m18 2h1m-70 9h1m55 0h1m23 2h1m-49 1h1m-33 2h1m16 0h1m-1 2h1m68 0h1m-71 1h1m-6 2h1m41 0h1m29 0h1m-66 1h1m37 1h1m4 0h1m5 1h1m-66 2h1m10 0h1m16 1h1m-21 1h1m17 0h1m7 0h1m35 0h1m7 0h1m-77 1h1m29 0h1"/>
<path stroke="#a5fe9d" d="M45 0h1m22 0h1m-64 1h1m10 0h1m12 0h1m6 0h1m2 1h1m6 1h1m35 0h1m-62 1h1m14 0h1m9 0h1m19 0h1m12 0h1m5 0h1m-85 2h1m33 0h1m-9 3h1m49 1h1m-44 1h1m-25 1h1m54 2h1m10 0h1m-14 1h1m-42 1h1m65 0h1m-85 3h1m35 0h1m-34 10h1m74 1h1m4 5h1m-57 3h1m1 2h1m49 4h1m1 0h1m3 6h1m-90 4h1m88 3h1m-3 3h1m1 2h1m-86 2h1m13 0h1m-15 19h1m0 8h1m62 5h1m19 2h1m-76 6h1m72 1h1m-82 5h1m4 6h1m11 2h1m43 0h1m11 0h1m-77 1h1m44 0h1m-35 1h1m28 0h1m-5 2h1m47 0h1m-83 1h1m27 0h1m-23 1h1m1 0h1m72 3h1"/>
<path stroke="#b3feac" d="M37 0h1m11 0h2m26 0h1m-44 1h1m24 0h1m3 0h1m22 1h1m2 0h1m-76 1h1m19 0h1m26 0h1m-1 1h1m14 1h1m-75 2h1m6 0h1m47 1h1m-37 1h1m-2 3h1m46 1h1m19 0h1m-46 2h1m14 0h1m-16 1h1m43 0h1m-87 1h1m73 0h1m14 0h1m-49 1h1m24 2h1m-24 1h1m45 23h1m-1 10h1m-90 31h1m82 6h1m-62 1h1m62 1h1m-14 4h1m-65 7h1m10 7h1m4 0h1m62 1h1m-37 2h1m27 2h1m-24 2h1m32 0h1m-81 1h1m10 0h1m18 0h1m1 1h1m37 3h1m-19 1h1m5 0h1m-25 1h1m20 0h2m8 1h1m-69 1h1m20 0h1m6 0h1"/>
<path stroke="#c1febb" d="M4 1h1m-1 1h1m1 1h1m47 0h1m-4 1h1m2 1h1m17 0h1m-65 1h1m38 1h1m-40 1h1m1 1h1m74 0h1m-83 1h1m16 0h1m-14 1h1m70 0h1m-76 2h1m27 0h1m50 0h1m-60 2h1m-15 1h1m54 3h1m-1 1h1m-13 1h1m-30 5h1m64 36h1m0 2h1m-86 1h1m81 2h1m0 8h1m-82 3h1m75 2h1m4 3h1m-88 6h1m73 4h1m-75 1h1m10 3h1m-5 1h1m-8 1h1m77 2h1m-1 1h1m-47 3h1m56 0h1m-89 3h1m74 2h1m10 0h1m-82 6h1m64 0h1m-62 2h1m44 0h1m24 0h1m-75 2h1m75 0h1m-44 1h1m-39 1h1m22 0h1m-10 1h1m11 0h1m6 1h2m-26 1h1m-1 1h1m55 0h1m-24 1h1m1 0h1"/>
<path stroke="#cfffca" d="M61 0h1m16 0h1m-76 1h1m27 0h1m11 1h1m-4 1h1m-32 1h1m1 0h1m25 0h1m10 0h1m34 1h1m-77 1h1m18 0h1m42 2h1m3 2h1m-65 1h1m2 0h1m51 3h1m21 1h1m-11 2h1m-11 4h1m-60 1h1m12 0h1m25 53h1m-47 17h1m85 6h1m-85 2h1m65 0h1m-64 16h1m26 1h1m-25 1h1m4 0h1m-5 2h1m-4 1h1m14 0h1m-12 1h1m35 0h1m31 0h1m-41 1h1m11 0h1m-31 1h1m-3 1h1m19 0h1m25 2h1"/>
<path stroke="#dcffd9" d="M29 0h1m-23 1h1m81 0h1m-65 1h1m15 0h1m13 0h1m-42 2h1m-4 1h1m75 0h1m-42 1h1m19 0h1m17 2h1m-46 4h1m29 2h1m18 0h1m-12 2h1m-11 1h1m-54 2h1m11 3h1m31 0h1m30 4h1m-85 4h1m-4 6h1m-3 5h1m85 0h1m-83 2h1m38 26h1m-35 16h1m-2 3h1m72 2h1m-80 5h1m76 0h1m5 7h1m-86 1h1m1 10h1m75 0h1m-73 1h1m29 1h1m52 1h1m-29 1h1m-14 7h1m-36 2h1m41 1h1"/>
<path stroke="#eaffe8" d="M13 0h1m18 0h1m7 0h1m24 0h1m-15 1h1m1 0h1m11 0h1m-64 1h1m2 0h1m73 0h1m-28 1h1m-52 1h1m29 0h1m21 0h1m26 3h1m8 1h1m-31 2h1m-21 1h1m49 0h1m-1 4h1m-86 2h1m44 8h1m-46 1h1m81 1h1m-74 1h1m72 1h1m-50 1h1m35 8h1m-62 11h1m60 0h1m15 26h1m-90 1h1m59 3h1m-49 3h1m-9 3h1m82 2h1m-86 4h1m-2 1h1m2 4h1m42 2h1m32 12h1m-45 6h1m-11 1h1m-20 2h1m38 4h1m36 0h1m-59 1h1m-26 2h1m50 1h1m4 0h1"/>
<path stroke="#f8fff7" d="M14 0h1m6 0h1m2 0h1m50 0h1m-12 1h1m-45 1h1m3 1h1m18 0h1m3 0h1m24 1h1m-38 1h1m3 2h1m49 0h1m-63 1h1m17 0h1m-2 2h1m1 1h1m-25 1h1m31 6h1m-54 1h1m25 0h1m37 0h1m14 10h1m-70 9h1m-10 17h1m0 1h1m68 6h1m-42 6h1m48 1h1m-78 7h1m58 5h1m-53 2h1m77 0h1m-40 14h1m8 1h1m23 14h1m-76 2h1m47 5h1m24 0h1m-52 3h1m22 0h1m-17 4h1"/>
</g></g>
<use href="#hd"/>
</svg>
<g transform="translate(693.2 83.8)">
<rect x="0.5" y="0.55" width="34.7" height="346.2" fill="url(#cg)" stroke="#000" stroke-width="1.7"/>
<text class="cb" x="36" y="12.9">+<tspan class="pi" x="54.95" y="13.65" textLength="24.37" lengthAdjust="spacingAndGlyphs">π</tspan></text>
<text class="cb" transform="translate(44.6 184.35) scale(1 1.045)">0</text>
<text class="cb" x="44.3" y="355.5">-<tspan class="pi" x="55.2" y="355.35" textLength="24.37" lengthAdjust="spacingAndGlyphs">π</tspan></text>
<text class="ph" transform="translate(81.5 83.6) rotate(90)">Phase (rad)</text>
</g>
<g transform="translate(1536.7 80.3)">
<rect x="0.5" y="0.55" width="34.7" height="346.2" fill="url(#cg)" stroke="#000" stroke-width="1.7"/>
<text class="cb" x="36" y="12.9">+<tspan class="pi" x="54.95" y="13.65" textLength="24.37" lengthAdjust="spacingAndGlyphs">π</tspan></text>
<text class="cb" transform="translate(44.6 184.35) scale(1 1.045)">0</text>
<text class="cb" x="44.3" y="355.5">-<tspan class="pi" x="55.2" y="355.35" textLength="24.37" lengthAdjust="spacingAndGlyphs">π</tspan></text>
<text class="ph" transform="translate(81.5 83.6) rotate(90)">Phase (rad)</text>
</g>
<g transform="translate(693.4 583)">
<rect x="0.5" y="0.55" width="34.7" height="346.2" fill="url(#cg)" stroke="#000" stroke-width="1.7"/>
<text class="cb" x="36" y="12.9">+<tspan class="pi" x="54.95" y="13.65" textLength="24.37" lengthAdjust="spacingAndGlyphs">π</tspan></text>
<text class="cb" transform="translate(44.6 184.35) scale(1 1.045)">0</text>
<text class="cb" x="44.3" y="355.5">-<tspan class="pi" x="55.2" y="355.35" textLength="24.37" lengthAdjust="spacingAndGlyphs">π</tspan></text>
<text class="ph" transform="translate(81.5 83.6) rotate(90)">Phase (rad)</text>
</g>
<g transform="translate(1536.7 579.5)">
<rect x="0.5" y="0.55" width="34.7" height="346.2" fill="url(#cg)" stroke="#000" stroke-width="1.7"/>
<text class="cb" x="36" y="12.9">+<tspan class="pi" x="54.95" y="13.65" textLength="24.37" lengthAdjust="spacingAndGlyphs">π</tspan></text>
<text class="cb" transform="translate(44.6 184.35) scale(1 1.045)">0</text>
<text class="cb" x="44.3" y="355.5">-<tspan class="pi" x="55.2" y="355.35" textLength="24.37" lengthAdjust="spacingAndGlyphs">π</tspan></text>
<text class="ph" transform="translate(81.5 83.6) rotate(90)">Phase (rad)</text>
</g>
<text class="pl" x="-1.3" y="37">a</text>
<text class="pl" x="846.7" y="36.7" style="font-size:51.3px">b</text>
<text class="pl" x="-0.1" y="537.9">c</text>
<text class="pl" x="846.5" y="537.9" style="font-size:51.3px">d</text>
<text class="pl" x="401.2" y="1073.8" style="font-size:52px">e</text>
<path d="M737.07 1092.1V1478.9M951.83 1092.1V1478.9M522.3 1189H1166.6M522.3 1285.7H1166.6M522.3 1382.4H1166.6" fill="none" stroke="#c6cbcb" stroke-width="2.6" stroke-dasharray="1.3 2.2"/>
<path d="M586.95 1478.9v-6.6M586.95 1092.1v6.6M624.77 1478.9v-6.6M624.77 1092.1v6.6M651.6 1478.9v-6.6M651.6 1092.1v6.6M672.42 1478.9v-6.6M672.42 1092.1v6.6M689.42 1478.9v-6.6M689.42 1092.1v6.6M703.8 1478.9v-6.6M703.8 1092.1v6.6M716.25 1478.9v-6.6M716.25 1092.1v6.6M727.24 1478.9v-6.6M727.24 1092.1v6.6M737.07 1478.9v-11.5M737.07 1092.1v11.5M801.72 1478.9v-6.6M801.72 1092.1v6.6M839.54 1478.9v-6.6M839.54 1092.1v6.6M866.37 1478.9v-6.6M866.37 1092.1v6.6M887.18 1478.9v-6.6M887.18 1092.1v6.6M904.19 1478.9v-6.6M904.19 1092.1v6.6M918.57 1478.9v-6.6M918.57 1092.1v6.6M931.02 1478.9v-6.6M931.02 1092.1v6.6M942.01 1478.9v-6.6M942.01 1092.1v6.6M951.83 1478.9v-11.5M951.83 1092.1v11.5M1016.48 1478.9v-6.6M1016.48 1092.1v6.6M1054.3 1478.9v-6.6M1054.3 1092.1v6.6M1081.14 1478.9v-6.6M1081.14 1092.1v6.6M1101.95 1478.9v-6.6M1101.95 1092.1v6.6M1118.95 1478.9v-6.6M1118.95 1092.1v6.6M1133.33 1478.9v-6.6M1133.33 1092.1v6.6M1145.79 1478.9v-6.6M1145.79 1092.1v6.6M1156.77 1478.9v-6.6M1156.77 1092.1v6.6M522.3 1449.79h6.6M1166.6 1449.79h-6.6M522.3 1432.76h6.6M1166.6 1432.76h-6.6M522.3 1420.68h6.6M1166.6 1420.68h-6.6M522.3 1411.31h6.6M1166.6 1411.31h-6.6M522.3 1403.65h6.6M1166.6 1403.65h-6.6M522.3 1397.18h6.6M1166.6 1397.18h-6.6M522.3 1391.57h6.6M1166.6 1391.57h-6.6M522.3 1386.62h6.6M1166.6 1386.62h-6.6M522.3 1382.2h11.5M1166.6 1382.2h-11.5M522.3 1353.09h6.6M1166.6 1353.09h-6.6M522.3 1336.06h6.6M1166.6 1336.06h-6.6M522.3 1323.98h6.6M1166.6 1323.98h-6.6M522.3 1314.61h6.6M1166.6 1314.61h-6.6M522.3 1306.95h6.6M1166.6 1306.95h-6.6M522.3 1300.48h6.6M1166.6 1300.48h-6.6M522.3 1294.87h6.6M1166.6 1294.87h-6.6M522.3 1289.92h6.6M1166.6 1289.92h-6.6M522.3 1285.5h11.5M1166.6 1285.5h-11.5M522.3 1256.39h6.6M1166.6 1256.39h-6.6M522.3 1239.36h6.6M1166.6 1239.36h-6.6M522.3 1227.28h6.6M1166.6 1227.28h-6.6M522.3 1217.91h6.6M1166.6 1217.91h-6.6M522.3 1210.25h6.6M1166.6 1210.25h-6.6M522.3 1203.78h6.6M1166.6 1203.78h-6.6M522.3 1198.17h6.6M1166.6 1198.17h-6.6M522.3 1193.22h6.6M1166.6 1193.22h-6.6M522.3 1188.8h11.5M1166.6 1188.8h-11.5M522.3 1159.69h6.6M1166.6 1159.69h-6.6M522.3 1142.66h6.6M1166.6 1142.66h-6.6M522.3 1130.58h6.6M1166.6 1130.58h-6.6M522.3 1121.21h6.6M1166.6 1121.21h-6.6M522.3 1113.55h6.6M1166.6 1113.55h-6.6M522.3 1107.08h6.6M1166.6 1107.08h-6.6M522.3 1101.47h6.6M1166.6 1101.47h-6.6M522.3 1096.52h6.6M1166.6 1096.52h-6.6" fill="none" stroke="#000" stroke-width="2.4"/>
<rect x="522.3" y="1092.1" width="644.3" height="386.8" fill="none" stroke="#000" stroke-width="2.7"/>
<polyline points="522,1408.9 737,1431.8 952,1351 1167,1321.4" fill="none" stroke="#0000cd" stroke-width="3.1" stroke-linejoin="round"/>
<circle cx="522" cy="1408.9" r="6.7" fill="#0000cd"/>
<circle cx="737" cy="1431.8" r="6.7" fill="#0000cd"/>
<circle cx="952" cy="1351" r="6.7" fill="#0000cd"/>
<circle cx="1167" cy="1321.4" r="6.7" fill="#0000cd"/>
<polyline points="522,1273 737.1,1240.9 952,1212.8 1167,1187.2" fill="none" stroke="#f00" stroke-width="3.1" stroke-linejoin="round"/>
<circle cx="522" cy="1273" r="6.7" fill="#f00"/>
<circle cx="737.1" cy="1240.9" r="6.7" fill="#f00"/>
<circle cx="952" cy="1212.8" r="6.7" fill="#f00"/>
<circle cx="1167" cy="1187.2" r="6.7" fill="#f00"/>
<text class="tt" x="728.5" y="1045.6">Frame rate (fps)</text>
<text class="ax" x="651.2" y="1541.7">Number of image integration</text>
<text class="ax" transform="translate(434.3 1389) rotate(-90)">Image contrast</text>
<text class="ax" x="692.5" y="1186.4" style="font-size:30.7px;fill:#f00;stroke:#f00">With optical image amplification</text>
<text class="ax" x="670.6" y="1466.1" style="font-size:30.7px;fill:#0000cd;stroke:#0000cd">Without optical image amplification</text>
<text class="tt" transform="translate(511.9 1082.3) scale(1 1.0)" style="font-size:31.3px"><tspan class="one" dx="2.28" dy="1.57">1</tspan><tspan dx="-.22" dy="-1.57">000</tspan></text>
<text class="tt" transform="translate(711.35 1084.6) scale(1 1.045)"><tspan class="one" dx="2.5" dy="1.72">1</tspan><tspan dx="-.24" dy="-1.72">00</tspan></text>
<text class="tt" transform="translate(939.75 1084.6) scale(1 1.045)"><tspan class="one" dx="2.5" dy="1.72">1</tspan><tspan dx="-.24" dy="-1.72">0</tspan></text>
<text class="tt" transform="translate(1167.5 1084.6) scale(1 1.045)"><tspan class="one" dx="2.5" dy="1.72">1</tspan></text>
<text class="ax" transform="translate(513 1515.1) scale(1 1.045)"><tspan class="one" dx="2.23" dy="1.53">1</tspan></text>
<text class="ax" transform="translate(719.6 1514.8) scale(1 1.045)"><tspan class="one" dx="2.23" dy="1.53">1</tspan><tspan dx="-.21" dy="-1.53">0</tspan></text>
<text class="ax" transform="translate(926.5 1514.8) scale(1 1.045)"><tspan class="one" dx="2.23" dy="1.53">1</tspan><tspan dx="-.21" dy="-1.53">00</tspan></text>
<text class="ax" transform="translate(1132.8 1514.8) scale(1 1.045)"><tspan class="one" dx="2.23" dy="1.53">1</tspan><tspan dx="-.21" dy="-1.53">000</tspan></text>
<text class="ax" transform="translate(461.3 1096.8) scale(1 1.045)"><tspan class="one" dx="2.23" dy="1.53">1</tspan><tspan dx="-.21" dy="-1.53">0</tspan><tspan class="sup"><tspan dx="-.9" dy="-14.8">2</tspan></tspan></text>
<text class="ax" transform="translate(459.6 1193.4) scale(1 1.045)"><tspan class="one" dx="2.23" dy="1.53">1</tspan><tspan dx="-.21" dy="-1.53">0</tspan><tspan class="sup"><tspan class="one" dx=".69" dy="-13.71">1</tspan></tspan></text>
<text class="ax" transform="translate(459.6 1290.2) scale(1 1.045)"><tspan class="one" dx="2.23" dy="1.53">1</tspan><tspan dx="-.21" dy="-1.53">0</tspan><tspan class="sup"><tspan dx="-.9" dy="-14.8">0</tspan></tspan></text>
<text class="ax" transform="translate(453.5 1387) scale(1 1.045)"><tspan class="one" dx="2.23" dy="1.53">1</tspan><tspan dx="-.21" dy="-1.53">0</tspan><tspan class="sup"><tspan dx="-.9" dy="-14.8">-</tspan><tspan class="one" dx="1.59" dy="1.09">1</tspan></tspan></text>
<text class="ax" transform="translate(454.5 1483.4) scale(1 1.045)"><tspan class="one" dx="2.23" dy="1.53">1</tspan><tspan dx="-.21" dy="-1.53">0</tspan><tspan class="sup"><tspan dx="-.9" dy="-14.8">-2</tspan></tspan></text>
</svg>
</body>
</html>
